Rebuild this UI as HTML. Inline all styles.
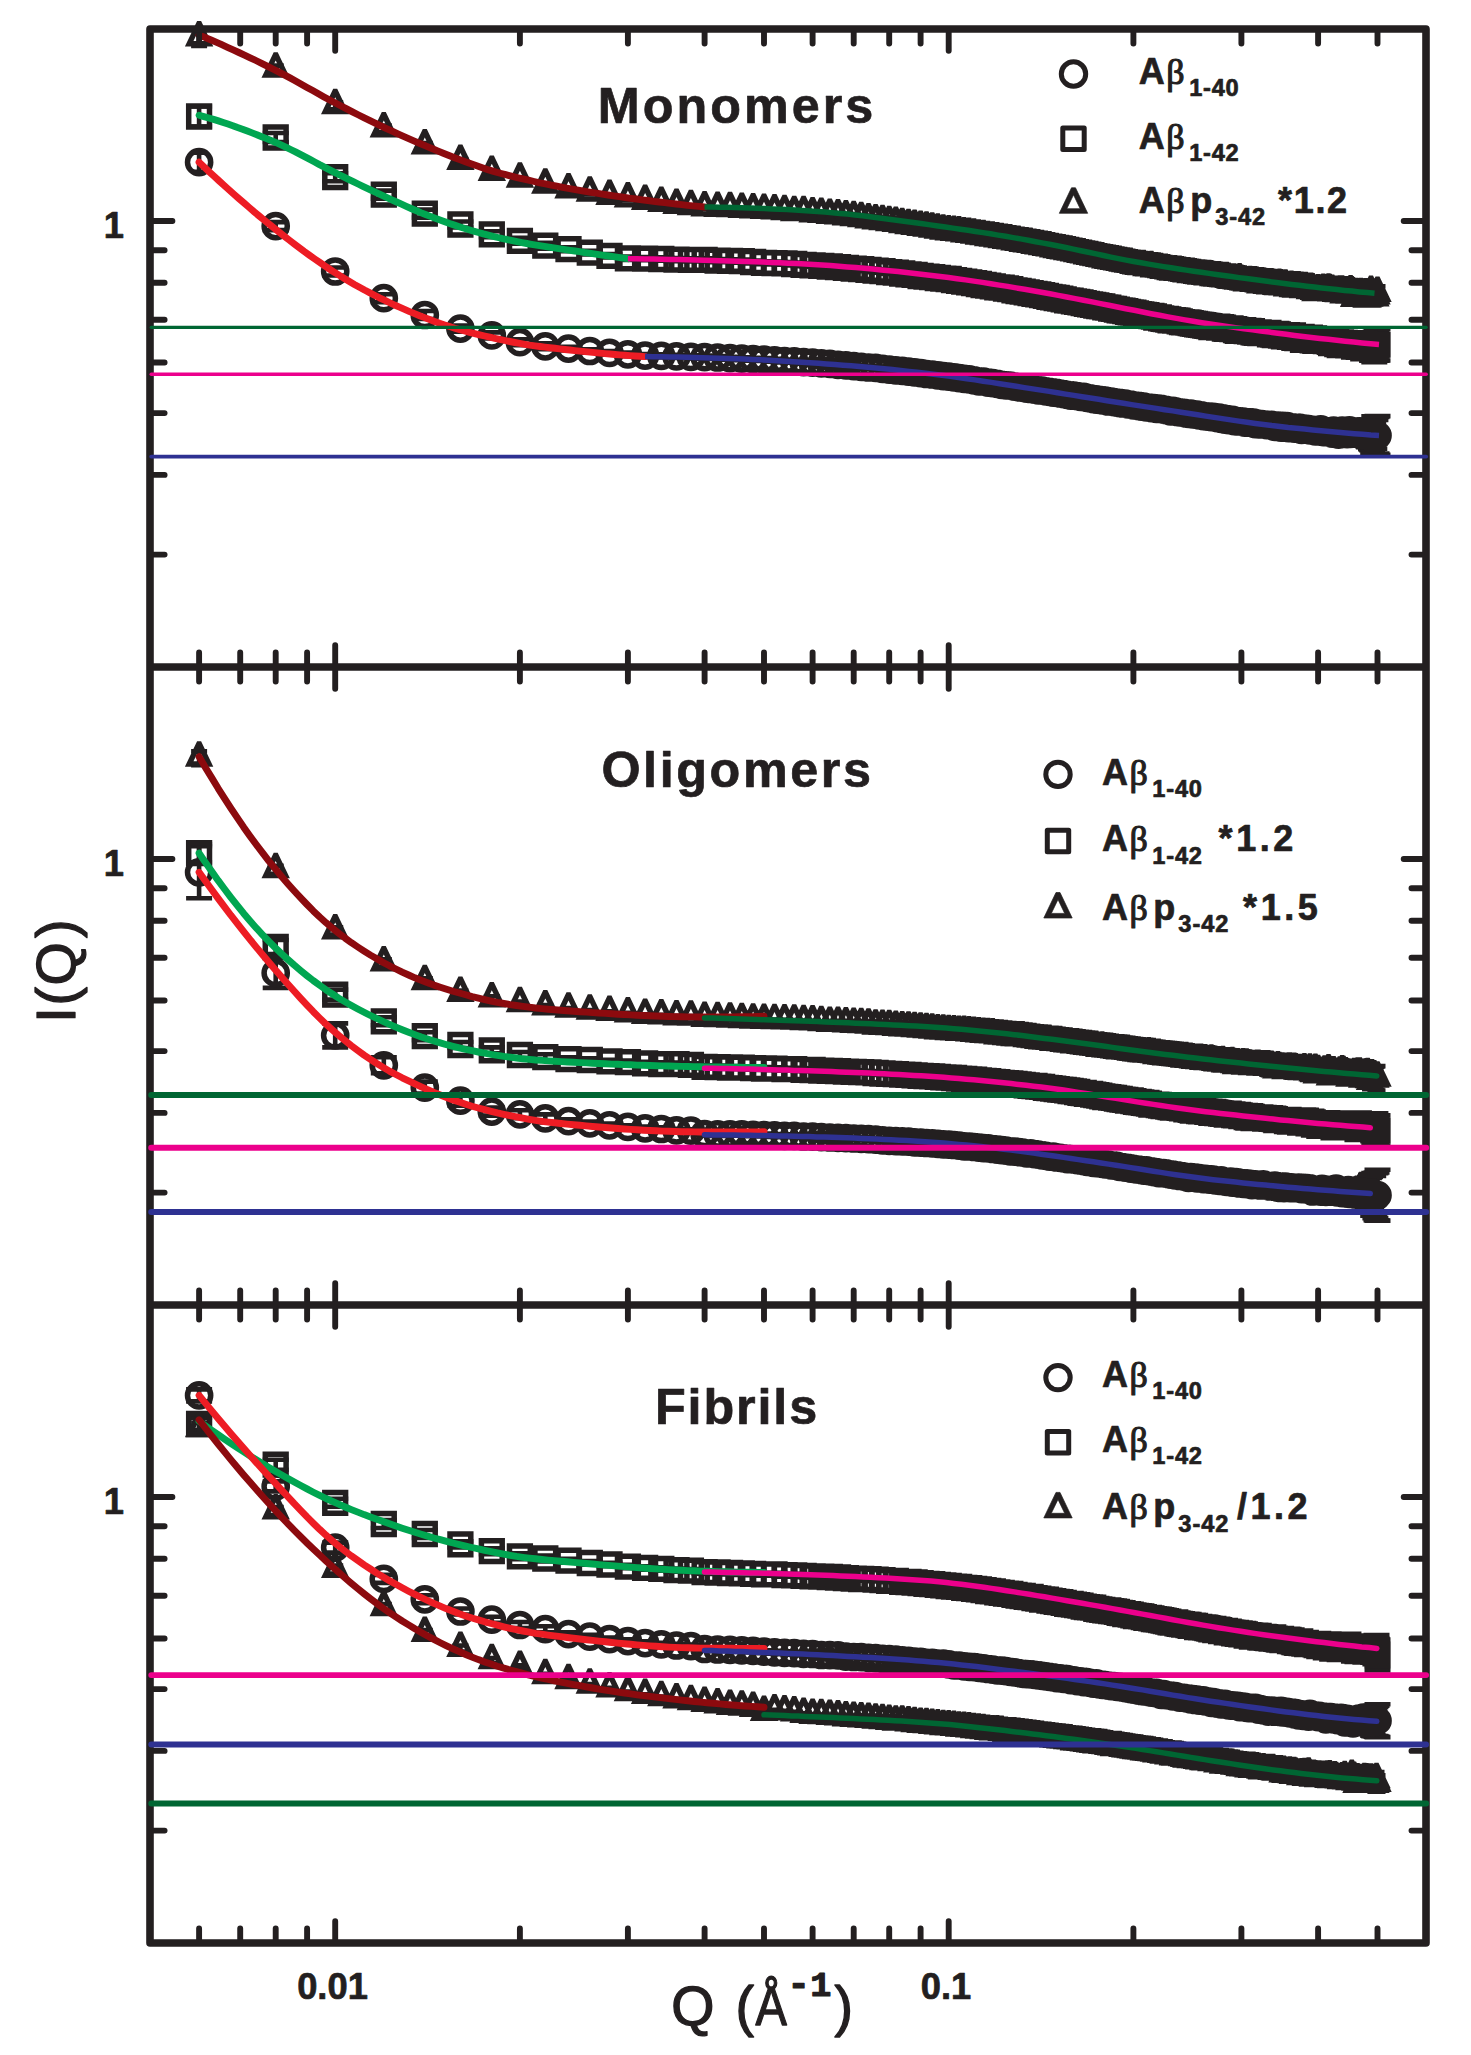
<!DOCTYPE html>
<html lang="en"><head><meta charset="utf-8"><title>I(Q) vs Q</title>
<style>html,body{margin:0;padding:0;background:#fff}svg{display:block}</style>
</head><body>
<svg width="1471" height="2055" viewBox="0 0 1471 2055">
<rect width="1471" height="2055" fill="#fff"/>
<path d="M199.1 152.7v19M191.1 152.7h16M191.1 171.7h16M275.7 222.1v8M262.7 222.1h26M262.7 230.1h26M335.2 267.5v8M322.2 267.5h26M322.2 275.5h26M383.8 294.2v8M370.8 294.2h26M370.8 302.2h26M424.8 311v8M411.8 311h26M411.8 319h26M460.4 325.6v6M447.4 325.6h26M447.4 331.6h26M491.8 332.4v6M478.8 332.4h26M478.8 338.4h26M519.9 339.2v6M506.9 339.2h26M506.9 345.2h26M545.3 343.3v6M532.3 343.3h26M532.3 349.3h26M568.5 346.7v3.8M555.5 346.7h26M555.5 350.5h26M589.8 349.2v3.7M576.8 349.2h26M576.8 352.8h26M609.5 351.1v3.5M596.5 351.1h26M596.5 354.6h26M627.9 352.6v3.4M614.9 352.6h26M614.9 356.1h26M645.1 354v3.3M632.1 354h26M632.1 357.3h26M661.3 354.2v3.2M648.3 354.2h26M648.3 357.5h26M676.5 354.8v3.2M663.5 354.8h26M663.5 357.9h26M690.9 355.4v3.1M677.9 355.4h26M677.9 358.5h26M704.6 355.5v3.1M691.6 355.5h26M691.6 358.6h26M717.6 356v3M704.6 356h26M704.6 359h26M730 356.7v3M717 356.7h26M717 359.7h26M741.8 357.2v3M728.8 357.2h26M728.8 360.1h26M753.1 357.7v2.9M740.1 357.7h26M740.1 360.6h26M764 358.1v2.9M751 358.1h26M751 361h26M774.5 358.9v2.9M761.5 358.9h26M761.5 361.8h26M784.5 359.6v2.9M771.5 359.6h26M771.5 362.5h26M794.2 359.9v2.9M781.2 359.9h26M781.2 362.8h26M803.6 360.7v2.9M790.6 360.7h26M790.6 363.6h26M812.6 361.1v2.9M799.6 361.1h26M799.6 364h26M821.3 361.9v2.8M808.3 361.9h26M808.3 364.7h26M829.8 362.5v2.8M816.8 362.5h26M816.8 365.3h26M838 363.4v2.8M825 363.4h26M825 366.2h26M845.9 363.9v2.8M832.9 363.9h26M832.9 366.7h26M853.7 364.8v2.8M840.7 364.8h26M840.7 367.6h26M861.2 365.5v2.8M848.2 365.5h26M848.2 368.3h26M868.5 366.1v2.8M855.5 366.1h26M855.5 369h26M875.6 366.5v2.8M862.6 366.5h26M862.6 369.3h26M882.5 367.5v2.8M869.5 367.5h26M869.5 370.3h26M889.2 368.3v2.8M876.2 368.3h26M876.2 371.1h26M895.8 369v2.8M882.8 369h26M882.8 371.8h26M902.2 369.4v2.8M889.2 369.4h26M889.2 372.2h26M908.5 370.3v2.8M895.5 370.3h26M895.5 373.1h26M914.6 370.9v2.8M901.6 370.9h26M901.6 373.7h26M920.6 371.6v2.8M907.6 371.6h26M907.6 374.5h26M926.5 372.6v2.8M913.5 372.6h26M913.5 375.4h26M932.2 373.1v2.8M919.2 373.1h26M919.2 375.9h26M937.8 373.9v2.8M924.8 373.9h26M924.8 376.7h26M943.3 374.8v2.8M930.3 374.8h26M930.3 377.6h26M948.7 375.2v2.8M935.7 375.2h26M935.7 378h26M954 376v2.8M941 376h26M941 378.8h26M959.1 376.8v2.8M946.1 376.8h26M946.1 379.6h26M964.2 377.5v2.8M951.2 377.5h26M951.2 380.3h26M969.2 378v2.8M956.2 378h26M956.2 380.8h26M974.1 378.9v2.8M961.1 378.9h26M961.1 381.7h26M978.9 379.9v2.8M965.9 379.9h26M965.9 382.7h26M983.6 380.1v2.8M970.6 380.1h26M970.6 382.9h26M988.2 381.2v2.8M975.2 381.2h26M975.2 384h26M992.8 381.8v2.8M979.8 381.8h26M979.8 384.6h26M997.3 382.4v2.8M984.3 382.4h26M984.3 385.2h26M1001.7 383.5v2.8M988.7 383.5h26M988.7 386.3h26M1006 383.9v2.8M993 383.9h26M993 386.7h26M1010.3 384.3v2.8M997.3 384.3h26M997.3 387.1h26M1014.5 385.1v2.8M1001.5 385.1h26M1001.5 387.9h26M1018.6 385.9v2.8M1005.6 385.9h26M1005.6 388.7h26M1022.7 386.4v2.8M1009.7 386.4h26M1009.7 389.2h26M1026.7 387.1v2.8M1013.7 387.1h26M1013.7 389.9h26M1030.6 387.6v2.8M1017.6 387.6h26M1017.6 390.4h26M1034.5 388.3v2.8M1021.5 388.3h26M1021.5 391.1h26M1038.3 389v2.8M1025.3 389h26M1025.3 391.8h26M1042.1 389.3v2.8M1029.1 389.3h26M1029.1 392.1h26M1045.9 390v2.8M1032.9 390h26M1032.9 392.8h26M1049.5 390.5v2.8M1036.5 390.5h26M1036.5 393.3h26M1053.2 391.1v2.8M1040.2 391.1h26M1040.2 393.9h26M1056.7 391.5v2.8M1043.7 391.5h26M1043.7 394.3h26M1060.3 392.1v2.8M1047.3 392.1h26M1047.3 394.9h26M1063.7 392.7v2.8M1050.7 392.7h26M1050.7 395.5h26M1067.2 393.5v2.8M1054.2 393.5h26M1054.2 396.3h26M1070.6 394.1v2.8M1057.6 394.1h26M1057.6 396.9h26M1073.9 394.2v2.8M1060.9 394.2h26M1060.9 397h26M1077.2 394.8v2.8M1064.2 394.8h26M1064.2 397.6h26M1080.5 395.5v2.8M1067.5 395.5h26M1067.5 398.3h26M1083.7 395.6v2.8M1070.7 395.6h26M1070.7 398.4h26M1086.9 396.4v2.8M1073.9 396.4h26M1073.9 399.2h26M1090.1 396.9v2.8M1077.1 396.9h26M1077.1 399.7h26M1093.2 397.7v2.8M1080.2 397.7h26M1080.2 400.5h26M1096.3 398.1v2.8M1083.3 398.1h26M1083.3 400.9h26M1099.3 398.4v2.8M1086.3 398.4h26M1086.3 401.2h26M1102.3 398.9v2.8M1089.3 398.9h26M1089.3 401.7h26M1105.3 399.3v2.8M1092.3 399.3h26M1092.3 402.1h26M1108.3 400.1v2.8M1095.3 400.1h26M1095.3 402.9h26M1111.2 400.2v2.8M1098.2 400.2h26M1098.2 403h26M1114 400.7v2.8M1101 400.7h26M1101 403.5h26M1116.9 401.3v2.8M1103.9 401.3h26M1103.9 404.1h26M1119.7 401.6v2.8M1106.7 401.6h26M1106.7 404.4h26M1122.5 402.1v2.8M1109.5 402.1h26M1109.5 404.9h26M1125.3 402.3v2.8M1112.3 402.3h26M1112.3 405.1h26M1128 403v2.8M1115 403h26M1115 405.8h26M1130.7 403.3v2.8M1117.7 403.3h26M1117.7 406.1h26M1133.4 404v2.8M1120.4 404h26M1120.4 406.8h26M1136 404.3v2.8M1123 404.3h26M1123 407.1h26M1138.7 404.6v2.8M1125.7 404.6h26M1125.7 407.4h26M1141.3 405.2v2.8M1128.3 405.2h26M1128.3 408h26M1143.8 405.3v2.8M1130.8 405.3h26M1130.8 408.1h26M1146.4 406v2.8M1133.4 406h26M1133.4 408.8h26M1148.9 406.2v2.8M1135.9 406.2h26M1135.9 409h26M1151.4 406.7v2.8M1138.4 406.7h26M1138.4 409.5h26M1153.9 406.7v2.8M1140.9 406.7h26M1140.9 409.5h26M1156.3 407.4v2.8M1143.3 407.4h26M1143.3 410.2h26M1158.8 407.3v2.8M1145.8 407.3h26M1145.8 410.1h26M1161.2 407.6v2.8M1148.2 407.6h26M1148.2 410.4h26M1163.6 408.3v2.8M1150.6 408.3h26M1150.6 411.1h26M1165.9 408.6v2.8M1152.9 408.6h26M1152.9 411.4h26M1168.3 409.2v2.8M1155.3 409.2h26M1155.3 412h26M1170.6 410v2.8M1157.6 410h26M1157.6 412.8h26M1172.9 409.6v2.8M1159.9 409.6h26M1159.9 412.4h26M1175.2 410v2.8M1162.2 410h26M1162.2 412.8h26M1177.5 410.6v2.8M1164.5 410.6h26M1164.5 413.4h26M1179.7 411v2.8M1166.7 411h26M1166.7 413.8h26M1182 411.2v2.8M1169 411.2h26M1169 414h26M1184.2 411.5v2.8M1171.2 411.5h26M1171.2 414.3h26M1186.4 412.1v2.8M1173.4 412.1h26M1173.4 414.9h26M1188.5 412.4v2.8M1175.5 412.4h26M1175.5 415.2h26M1190.7 412.3v2.8M1177.7 412.3h26M1177.7 415.1h26M1192.8 412.9v2.8M1179.8 412.9h26M1179.8 415.7h26M1195 413.2v2.8M1182 413.2h26M1182 416h26M1197.1 413.3v2.8M1184.1 413.3h26M1184.1 416.1h26M1199.2 413.9v2.8M1186.2 413.9h26M1186.2 416.7h26M1201.2 413.9v2.8M1188.2 413.9h26M1188.2 416.7h26M1203.3 414.8v2.8M1190.3 414.8h26M1190.3 417.6h26M1205.3 414.9v2.8M1192.3 414.9h26M1192.3 417.7h26M1207.4 415.2v2.8M1194.4 415.2h26M1194.4 418h26M1209.4 415.3v2.8M1196.4 415.3h26M1196.4 418.1h26M1211.4 415.7v2.8M1198.4 415.7h26M1198.4 418.5h26M1213.3 415.4v2.8M1200.3 415.4h26M1200.3 418.2h26M1215.3 416v2.8M1202.3 416h26M1202.3 418.8h26M1217.3 416.8v2.8M1204.3 416.8h26M1204.3 419.6h26M1219.2 416.3v2.8M1206.2 416.3h26M1206.2 419.1h26M1221.1 417.5v2.8M1208.1 417.5h26M1208.1 420.3h26M1223 417v2.8M1210 417h26M1210 419.8h26M1224.9 418.1v2.8M1211.9 418.1h26M1211.9 420.9h26M1226.8 417.8v2.8M1213.8 417.8h26M1213.8 420.6h26M1228.7 418.7v2.8M1215.7 418.7h26M1215.7 421.5h26M1230.5 418.7v2.8M1217.5 418.7h26M1217.5 421.5h26M1232.4 418.4v2.8M1219.4 418.4h26M1219.4 421.2h26M1234.2 419.7v2.8M1221.2 419.7h26M1221.2 422.5h26M1236 420v2.8M1223 420h26M1223 422.8h26M1237.8 419.7v2.8M1224.8 419.7h26M1224.8 422.5h26M1239.6 419.9v2.8M1226.6 419.9h26M1226.6 422.7h26M1241.4 420.2v2.8M1228.4 420.2h26M1228.4 423h26M1243.2 420.1v2.8M1230.2 420.1h26M1230.2 422.9h26M1244.9 421.2v2.8M1231.9 421.2h26M1231.9 424h26M1246.7 420.8v2.8M1233.7 420.8h26M1233.7 423.6h26M1248.4 421.2v2.8M1235.4 421.2h26M1235.4 424h26M1250.2 421.1v2.8M1237.2 421.1h26M1237.2 423.9h26M1251.9 421.4v2.8M1238.9 421.4h26M1238.9 424.2h26M1253.6 421.3v2.8M1240.6 421.3h26M1240.6 424.2h26M1255.3 422.7v2.8M1242.3 422.7h26M1242.3 425.5h26M1256.9 422.3v2.8M1243.9 422.3h26M1243.9 425.1h26M1258.6 423v2.8M1245.6 423h26M1245.6 425.8h26M1260.3 422.8v2.8M1247.3 422.8h26M1247.3 425.6h26M1261.9 422.6v2.8M1248.9 422.6h26M1248.9 425.5h26M1263.6 423v2.8M1250.6 423h26M1250.6 425.9h26M1265.2 423.1v2.8M1252.2 423.1h26M1252.2 425.9h26M1266.8 423.6v2.8M1253.8 423.6h26M1253.8 426.4h26M1268.4 423.6v2.9M1255.4 423.6h26M1255.4 426.4h26M1270 423.8v2.9M1257 423.8h26M1257 426.7h26M1271.6 423.4v2.9M1258.6 423.4h26M1258.6 426.3h26M1273.2 423.9v2.9M1260.2 423.9h26M1260.2 426.8h26M1274.8 425.4v2.9M1261.8 425.4h26M1261.8 428.3h26M1276.3 424.3v2.9M1263.3 424.3h26M1263.3 427.2h26M1277.9 424.3v2.9M1264.9 424.3h26M1264.9 427.1h26M1279.4 425.2v2.9M1266.4 425.2h26M1266.4 428.1h26M1281 426v2.9M1268 426h26M1268 429h26M1282.5 424.5v2.9M1269.5 424.5h26M1269.5 427.4h26M1284 425.4v2.9M1271 425.4h26M1271 428.3h26M1285.5 425.3v2.9M1272.5 425.3h26M1272.5 428.2h26M1287 424.7v3M1274 424.7h26M1274 427.7h26M1288.5 426.5v3M1275.5 426.5h26M1275.5 429.5h26M1290 426.2v3M1277 426.2h26M1277 429.1h26M1291.5 426.4v3M1278.5 426.4h26M1278.5 429.4h26M1292.9 426v3M1279.9 426h26M1279.9 429h26M1294.4 426.9v3M1281.4 426.9h26M1281.4 430h26M1295.8 426.4v3.1M1282.8 426.4h26M1282.8 429.4h26M1297.3 426.8v3.1M1284.3 426.8h26M1284.3 429.9h26M1298.7 426.2v3.1M1285.7 426.2h26M1285.7 429.3h26M1300.2 426.3v3.1M1287.2 426.3h26M1287.2 429.4h26M1301.6 428.3v3.2M1288.6 428.3h26M1288.6 431.5h26M1303 427v3.2M1290 427h26M1290 430.2h26M1304.4 427.8v3.2M1291.4 427.8h26M1291.4 431h26M1305.8 427.6v3.3M1292.8 427.6h26M1292.8 430.9h26M1307.2 427.4v3.3M1294.2 427.4h26M1294.2 430.8h26M1308.6 427.5v3.4M1295.6 427.5h26M1295.6 430.9h26M1309.9 428.5v3.4M1296.9 428.5h26M1296.9 432h26M1311.3 427.9v3.5M1298.3 427.9h26M1298.3 431.3h26M1312.7 428.1v3.5M1299.7 428.1h26M1299.7 431.6h26M1314 428.3v3.6M1301 428.3h26M1301 431.9h26M1315.4 429.5v3.7M1302.4 429.5h26M1302.4 433.1h26M1316.7 429.1v3.7M1303.7 429.1h26M1303.7 432.9h26M1318.1 429v3.8M1305.1 429h26M1305.1 432.8h26M1319.4 428.2v3.9M1306.4 428.2h26M1306.4 432.1h26M1320.7 427.4v4M1307.7 427.4h26M1307.7 431.4h26M1322 429.8v4.1M1309 429.8h26M1309 433.9h26M1323.3 429.9v4.2M1310.3 429.9h26M1310.3 434.1h26M1324.6 428.8v4.3M1311.6 428.8h26M1311.6 433.1h26M1325.9 429.6v4.4M1312.9 429.6h26M1312.9 434h26M1327.2 429.9v4.6M1314.2 429.9h26M1314.2 434.5h26M1328.5 430v4.7M1315.5 430h26M1315.5 434.7h26M1329.8 430.2v4.8M1316.8 430.2h26M1316.8 435h26M1331.1 428.7v5M1318.1 428.7h26M1318.1 433.7h26M1332.3 430.9v5.2M1319.3 430.9h26M1319.3 436.1h26M1333.6 427.8v5.4M1320.6 427.8h26M1320.6 433.2h26M1334.8 430.3v5.6M1321.8 430.3h26M1321.8 435.8h26M1336.1 429.8v5.8M1323.1 429.8h26M1323.1 435.6h26M1337.3 430.3v6M1324.3 430.3h26M1324.3 436.3h26M1338.6 431.5v6.3M1325.6 431.5h26M1325.6 437.8h26M1339.8 431v6.5M1326.8 431h26M1326.8 437.6h26M1341 427.8v6.8M1328 427.8h26M1328 434.6h26M1342.2 427v7.1M1329.2 427h26M1329.2 434.1h26M1343.5 430.1v7.5M1330.5 430.1h26M1330.5 437.6h26M1344.7 427.7v7.8M1331.7 427.7h26M1331.7 435.5h26M1345.9 428.9v8.2M1332.9 428.9h26M1332.9 437.1h26M1347.1 430v8.6M1334.1 430h26M1334.1 438.5h26M1348.3 426.4v9M1335.3 426.4h26M1335.3 435.5h26M1349.4 425.6v9.5M1336.4 425.6h26M1336.4 435.1h26M1350.6 428.8v10M1337.6 428.8h26M1337.6 438.8h26M1351.8 428.3v10.5M1338.8 428.3h26M1338.8 438.8h26M1353 427.7v11M1340 427.7h26M1340 438.8h26M1354.1 427.9v11.6M1341.1 427.9h26M1341.1 439.6h26M1355.3 426.3v12.3M1342.3 426.3h26M1342.3 438.6h26M1356.5 425.1v13M1343.5 425.1h26M1343.5 438h26M1357.6 426.9v13.7M1344.6 426.9h26M1344.6 440.6h26M1358.8 425.3v14.5M1345.8 425.3h26M1345.8 439.8h26M1359.9 423.9v15.3M1346.9 423.9h26M1346.9 439.2h26M1361 427v16.2M1348 427h26M1348 443.2h26M1362.2 425.7v17.1M1349.2 425.7h26M1349.2 442.8h26M1363.3 426v18.1M1350.3 426h26M1350.3 444.2h26M1364.4 423.2v19.2M1351.4 423.2h26M1351.4 442.4h26M1365.5 423.3v20.3M1352.5 423.3h26M1352.5 443.6h26M1366.6 422.2v21.5M1353.6 422.2h26M1353.6 443.7h26M1367.7 421.8v22.8M1354.7 421.8h26M1354.7 444.6h26M1368.9 423.1v24.2M1355.9 423.1h26M1355.9 447.3h26M1370 420.7v25.7M1357 420.7h26M1357 446.3h26M1371 422.1v27.2M1358 422.1h26M1358 449.3h26M1372.1 421.3v28.9M1359.1 421.3h26M1359.1 450.2h26M1373.2 423.8v30.6M1360.2 423.8h26M1360.2 454.4h26M1374.3 416.3v32.5M1361.3 416.3h26M1361.3 448.8h26M1375.4 419.9v34.5M1362.4 419.9h26M1362.4 454.3h26M1376.5 417v36.6M1363.5 417h26M1363.5 453.5h26M1377.5 416.1v38.8M1364.5 416.1h26M1364.5 454.9h26" fill="none" stroke="#231F20" stroke-width="4.6"/>
<path d="M187.5 162.2a11.6 11.6 0 1 0 23.2 0a11.6 11.6 0 1 0 -23.2 0M264.1 226.1a11.6 11.6 0 1 0 23.2 0a11.6 11.6 0 1 0 -23.2 0M323.6 271.5a11.6 11.6 0 1 0 23.2 0a11.6 11.6 0 1 0 -23.2 0M372.2 298.2a11.6 11.6 0 1 0 23.2 0a11.6 11.6 0 1 0 -23.2 0M413.2 315a11.6 11.6 0 1 0 23.2 0a11.6 11.6 0 1 0 -23.2 0M448.8 328.6a11.6 11.6 0 1 0 23.2 0a11.6 11.6 0 1 0 -23.2 0M480.2 335.4a11.6 11.6 0 1 0 23.2 0a11.6 11.6 0 1 0 -23.2 0M508.3 342.2a11.6 11.6 0 1 0 23.2 0a11.6 11.6 0 1 0 -23.2 0M533.7 346.3a11.6 11.6 0 1 0 23.2 0a11.6 11.6 0 1 0 -23.2 0M556.9 348.6a11.6 11.6 0 1 0 23.2 0a11.6 11.6 0 1 0 -23.2 0M578.2 351a11.6 11.6 0 1 0 23.2 0a11.6 11.6 0 1 0 -23.2 0M597.9 352.9a11.6 11.6 0 1 0 23.2 0a11.6 11.6 0 1 0 -23.2 0M616.3 354.3a11.6 11.6 0 1 0 23.2 0a11.6 11.6 0 1 0 -23.2 0M633.5 355.6a11.6 11.6 0 1 0 23.2 0a11.6 11.6 0 1 0 -23.2 0M649.7 355.9a11.6 11.6 0 1 0 23.2 0a11.6 11.6 0 1 0 -23.2 0M664.9 356.4a11.6 11.6 0 1 0 23.2 0a11.6 11.6 0 1 0 -23.2 0M679.3 356.9a11.6 11.6 0 1 0 23.2 0a11.6 11.6 0 1 0 -23.2 0M693 357.1a11.6 11.6 0 1 0 23.2 0a11.6 11.6 0 1 0 -23.2 0M706 357.5a11.6 11.6 0 1 0 23.2 0a11.6 11.6 0 1 0 -23.2 0M718.4 358.2a11.6 11.6 0 1 0 23.2 0a11.6 11.6 0 1 0 -23.2 0M730.2 358.6a11.6 11.6 0 1 0 23.2 0a11.6 11.6 0 1 0 -23.2 0M741.5 359.2a11.6 11.6 0 1 0 23.2 0a11.6 11.6 0 1 0 -23.2 0M752.4 359.6a11.6 11.6 0 1 0 23.2 0a11.6 11.6 0 1 0 -23.2 0M762.9 360.3a11.6 11.6 0 1 0 23.2 0a11.6 11.6 0 1 0 -23.2 0M772.9 361a11.6 11.6 0 1 0 23.2 0a11.6 11.6 0 1 0 -23.2 0M782.6 361.4a11.6 11.6 0 1 0 23.2 0a11.6 11.6 0 1 0 -23.2 0M792 362.1a11.6 11.6 0 1 0 23.2 0a11.6 11.6 0 1 0 -23.2 0M801 362.6a11.6 11.6 0 1 0 23.2 0a11.6 11.6 0 1 0 -23.2 0M809.7 363.3a11.6 11.6 0 1 0 23.2 0a11.6 11.6 0 1 0 -23.2 0M818.2 363.9a11.6 11.6 0 1 0 23.2 0a11.6 11.6 0 1 0 -23.2 0M826.4 364.8a11.6 11.6 0 1 0 23.2 0a11.6 11.6 0 1 0 -23.2 0M834.3 365.3a11.6 11.6 0 1 0 23.2 0a11.6 11.6 0 1 0 -23.2 0M842.1 366.2a11.6 11.6 0 1 0 23.2 0a11.6 11.6 0 1 0 -23.2 0M849.6 366.9a11.6 11.6 0 1 0 23.2 0a11.6 11.6 0 1 0 -23.2 0M856.9 367.5a11.6 11.6 0 1 0 23.2 0a11.6 11.6 0 1 0 -23.2 0M864 367.9a11.6 11.6 0 1 0 23.2 0a11.6 11.6 0 1 0 -23.2 0M870.9 368.9a11.6 11.6 0 1 0 23.2 0a11.6 11.6 0 1 0 -23.2 0M877.6 369.7a11.6 11.6 0 1 0 23.2 0a11.6 11.6 0 1 0 -23.2 0M884.2 370.4a11.6 11.6 0 1 0 23.2 0a11.6 11.6 0 1 0 -23.2 0M890.6 370.8a11.6 11.6 0 1 0 23.2 0a11.6 11.6 0 1 0 -23.2 0M896.9 371.7a11.6 11.6 0 1 0 23.2 0a11.6 11.6 0 1 0 -23.2 0M903 372.3a11.6 11.6 0 1 0 23.2 0a11.6 11.6 0 1 0 -23.2 0M909 373.1a11.6 11.6 0 1 0 23.2 0a11.6 11.6 0 1 0 -23.2 0M914.9 374a11.6 11.6 0 1 0 23.2 0a11.6 11.6 0 1 0 -23.2 0M920.6 374.5a11.6 11.6 0 1 0 23.2 0a11.6 11.6 0 1 0 -23.2 0M926.2 375.3a11.6 11.6 0 1 0 23.2 0a11.6 11.6 0 1 0 -23.2 0M931.7 376.2a11.6 11.6 0 1 0 23.2 0a11.6 11.6 0 1 0 -23.2 0M937.1 376.6a11.6 11.6 0 1 0 23.2 0a11.6 11.6 0 1 0 -23.2 0M942.4 377.4a11.6 11.6 0 1 0 23.2 0a11.6 11.6 0 1 0 -23.2 0M947.5 378.2a11.6 11.6 0 1 0 23.2 0a11.6 11.6 0 1 0 -23.2 0M952.6 378.9a11.6 11.6 0 1 0 23.2 0a11.6 11.6 0 1 0 -23.2 0M957.6 379.4a11.6 11.6 0 1 0 23.2 0a11.6 11.6 0 1 0 -23.2 0M962.5 380.3a11.6 11.6 0 1 0 23.2 0a11.6 11.6 0 1 0 -23.2 0M967.3 381.3a11.6 11.6 0 1 0 23.2 0a11.6 11.6 0 1 0 -23.2 0M972 381.5a11.6 11.6 0 1 0 23.2 0a11.6 11.6 0 1 0 -23.2 0M976.6 382.6a11.6 11.6 0 1 0 23.2 0a11.6 11.6 0 1 0 -23.2 0M981.2 383.2a11.6 11.6 0 1 0 23.2 0a11.6 11.6 0 1 0 -23.2 0M985.7 383.8a11.6 11.6 0 1 0 23.2 0a11.6 11.6 0 1 0 -23.2 0M990.1 384.9a11.6 11.6 0 1 0 23.2 0a11.6 11.6 0 1 0 -23.2 0M994.4 385.3a11.6 11.6 0 1 0 23.2 0a11.6 11.6 0 1 0 -23.2 0M998.7 385.7a11.6 11.6 0 1 0 23.2 0a11.6 11.6 0 1 0 -23.2 0M1002.9 386.5a11.6 11.6 0 1 0 23.2 0a11.6 11.6 0 1 0 -23.2 0M1007 387.3a11.6 11.6 0 1 0 23.2 0a11.6 11.6 0 1 0 -23.2 0M1011.1 387.8a11.6 11.6 0 1 0 23.2 0a11.6 11.6 0 1 0 -23.2 0M1015.1 388.5a11.6 11.6 0 1 0 23.2 0a11.6 11.6 0 1 0 -23.2 0M1019 389a11.6 11.6 0 1 0 23.2 0a11.6 11.6 0 1 0 -23.2 0M1022.9 389.7a11.6 11.6 0 1 0 23.2 0a11.6 11.6 0 1 0 -23.2 0M1026.7 390.4a11.6 11.6 0 1 0 23.2 0a11.6 11.6 0 1 0 -23.2 0M1030.5 390.7a11.6 11.6 0 1 0 23.2 0a11.6 11.6 0 1 0 -23.2 0M1034.3 391.4a11.6 11.6 0 1 0 23.2 0a11.6 11.6 0 1 0 -23.2 0M1037.9 391.9a11.6 11.6 0 1 0 23.2 0a11.6 11.6 0 1 0 -23.2 0M1041.6 392.5a11.6 11.6 0 1 0 23.2 0a11.6 11.6 0 1 0 -23.2 0M1045.1 392.9a11.6 11.6 0 1 0 23.2 0a11.6 11.6 0 1 0 -23.2 0M1048.7 393.5a11.6 11.6 0 1 0 23.2 0a11.6 11.6 0 1 0 -23.2 0M1052.1 394.1a11.6 11.6 0 1 0 23.2 0a11.6 11.6 0 1 0 -23.2 0M1055.6 394.9a11.6 11.6 0 1 0 23.2 0a11.6 11.6 0 1 0 -23.2 0M1059 395.5a11.6 11.6 0 1 0 23.2 0a11.6 11.6 0 1 0 -23.2 0M1062.3 395.6a11.6 11.6 0 1 0 23.2 0a11.6 11.6 0 1 0 -23.2 0M1065.6 396.2a11.6 11.6 0 1 0 23.2 0a11.6 11.6 0 1 0 -23.2 0M1068.9 396.9a11.6 11.6 0 1 0 23.2 0a11.6 11.6 0 1 0 -23.2 0M1072.1 397a11.6 11.6 0 1 0 23.2 0a11.6 11.6 0 1 0 -23.2 0M1075.3 397.8a11.6 11.6 0 1 0 23.2 0a11.6 11.6 0 1 0 -23.2 0M1078.5 398.3a11.6 11.6 0 1 0 23.2 0a11.6 11.6 0 1 0 -23.2 0M1081.6 399.1a11.6 11.6 0 1 0 23.2 0a11.6 11.6 0 1 0 -23.2 0M1084.7 399.5a11.6 11.6 0 1 0 23.2 0a11.6 11.6 0 1 0 -23.2 0M1087.7 399.8a11.6 11.6 0 1 0 23.2 0a11.6 11.6 0 1 0 -23.2 0M1090.7 400.3a11.6 11.6 0 1 0 23.2 0a11.6 11.6 0 1 0 -23.2 0M1093.7 400.7a11.6 11.6 0 1 0 23.2 0a11.6 11.6 0 1 0 -23.2 0M1096.7 401.5a11.6 11.6 0 1 0 23.2 0a11.6 11.6 0 1 0 -23.2 0M1099.6 401.6a11.6 11.6 0 1 0 23.2 0a11.6 11.6 0 1 0 -23.2 0M1102.4 402.1a11.6 11.6 0 1 0 23.2 0a11.6 11.6 0 1 0 -23.2 0M1105.3 402.7a11.6 11.6 0 1 0 23.2 0a11.6 11.6 0 1 0 -23.2 0M1108.1 403a11.6 11.6 0 1 0 23.2 0a11.6 11.6 0 1 0 -23.2 0M1110.9 403.5a11.6 11.6 0 1 0 23.2 0a11.6 11.6 0 1 0 -23.2 0M1113.7 403.7a11.6 11.6 0 1 0 23.2 0a11.6 11.6 0 1 0 -23.2 0M1116.4 404.4a11.6 11.6 0 1 0 23.2 0a11.6 11.6 0 1 0 -23.2 0M1119.1 404.7a11.6 11.6 0 1 0 23.2 0a11.6 11.6 0 1 0 -23.2 0M1121.8 405.4a11.6 11.6 0 1 0 23.2 0a11.6 11.6 0 1 0 -23.2 0M1124.4 405.7a11.6 11.6 0 1 0 23.2 0a11.6 11.6 0 1 0 -23.2 0M1127.1 406a11.6 11.6 0 1 0 23.2 0a11.6 11.6 0 1 0 -23.2 0M1129.7 406.6a11.6 11.6 0 1 0 23.2 0a11.6 11.6 0 1 0 -23.2 0M1132.2 406.7a11.6 11.6 0 1 0 23.2 0a11.6 11.6 0 1 0 -23.2 0M1134.8 407.4a11.6 11.6 0 1 0 23.2 0a11.6 11.6 0 1 0 -23.2 0M1137.3 407.6a11.6 11.6 0 1 0 23.2 0a11.6 11.6 0 1 0 -23.2 0M1139.8 408.1a11.6 11.6 0 1 0 23.2 0a11.6 11.6 0 1 0 -23.2 0M1142.3 408.1a11.6 11.6 0 1 0 23.2 0a11.6 11.6 0 1 0 -23.2 0M1144.7 408.8a11.6 11.6 0 1 0 23.2 0a11.6 11.6 0 1 0 -23.2 0M1147.2 408.7a11.6 11.6 0 1 0 23.2 0a11.6 11.6 0 1 0 -23.2 0M1149.6 409a11.6 11.6 0 1 0 23.2 0a11.6 11.6 0 1 0 -23.2 0M1152 409.7a11.6 11.6 0 1 0 23.2 0a11.6 11.6 0 1 0 -23.2 0M1154.3 410a11.6 11.6 0 1 0 23.2 0a11.6 11.6 0 1 0 -23.2 0M1156.7 410.6a11.6 11.6 0 1 0 23.2 0a11.6 11.6 0 1 0 -23.2 0M1159 411.4a11.6 11.6 0 1 0 23.2 0a11.6 11.6 0 1 0 -23.2 0M1161.3 411a11.6 11.6 0 1 0 23.2 0a11.6 11.6 0 1 0 -23.2 0M1163.6 411.4a11.6 11.6 0 1 0 23.2 0a11.6 11.6 0 1 0 -23.2 0M1165.9 412a11.6 11.6 0 1 0 23.2 0a11.6 11.6 0 1 0 -23.2 0M1168.1 412.4a11.6 11.6 0 1 0 23.2 0a11.6 11.6 0 1 0 -23.2 0M1170.4 412.6a11.6 11.6 0 1 0 23.2 0a11.6 11.6 0 1 0 -23.2 0M1172.6 412.9a11.6 11.6 0 1 0 23.2 0a11.6 11.6 0 1 0 -23.2 0M1174.8 413.5a11.6 11.6 0 1 0 23.2 0a11.6 11.6 0 1 0 -23.2 0M1176.9 413.8a11.6 11.6 0 1 0 23.2 0a11.6 11.6 0 1 0 -23.2 0M1179.1 413.7a11.6 11.6 0 1 0 23.2 0a11.6 11.6 0 1 0 -23.2 0M1181.2 414.3a11.6 11.6 0 1 0 23.2 0a11.6 11.6 0 1 0 -23.2 0M1183.4 414.6a11.6 11.6 0 1 0 23.2 0a11.6 11.6 0 1 0 -23.2 0M1185.5 414.7a11.6 11.6 0 1 0 23.2 0a11.6 11.6 0 1 0 -23.2 0M1187.6 415.3a11.6 11.6 0 1 0 23.2 0a11.6 11.6 0 1 0 -23.2 0M1189.6 415.3a11.6 11.6 0 1 0 23.2 0a11.6 11.6 0 1 0 -23.2 0M1191.7 416.2a11.6 11.6 0 1 0 23.2 0a11.6 11.6 0 1 0 -23.2 0M1193.7 416.3a11.6 11.6 0 1 0 23.2 0a11.6 11.6 0 1 0 -23.2 0M1195.8 416.6a11.6 11.6 0 1 0 23.2 0a11.6 11.6 0 1 0 -23.2 0M1197.8 416.7a11.6 11.6 0 1 0 23.2 0a11.6 11.6 0 1 0 -23.2 0M1199.8 417.1a11.6 11.6 0 1 0 23.2 0a11.6 11.6 0 1 0 -23.2 0M1201.7 416.8a11.6 11.6 0 1 0 23.2 0a11.6 11.6 0 1 0 -23.2 0M1203.7 417.4a11.6 11.6 0 1 0 23.2 0a11.6 11.6 0 1 0 -23.2 0M1205.7 418.2a11.6 11.6 0 1 0 23.2 0a11.6 11.6 0 1 0 -23.2 0M1207.6 417.7a11.6 11.6 0 1 0 23.2 0a11.6 11.6 0 1 0 -23.2 0M1209.5 418.9a11.6 11.6 0 1 0 23.2 0a11.6 11.6 0 1 0 -23.2 0M1211.4 418.4a11.6 11.6 0 1 0 23.2 0a11.6 11.6 0 1 0 -23.2 0M1213.3 419.5a11.6 11.6 0 1 0 23.2 0a11.6 11.6 0 1 0 -23.2 0M1215.2 419.2a11.6 11.6 0 1 0 23.2 0a11.6 11.6 0 1 0 -23.2 0M1217.1 420.1a11.6 11.6 0 1 0 23.2 0a11.6 11.6 0 1 0 -23.2 0M1218.9 420.1a11.6 11.6 0 1 0 23.2 0a11.6 11.6 0 1 0 -23.2 0M1220.8 419.8a11.6 11.6 0 1 0 23.2 0a11.6 11.6 0 1 0 -23.2 0M1222.6 421.1a11.6 11.6 0 1 0 23.2 0a11.6 11.6 0 1 0 -23.2 0M1224.4 421.4a11.6 11.6 0 1 0 23.2 0a11.6 11.6 0 1 0 -23.2 0M1226.2 421.1a11.6 11.6 0 1 0 23.2 0a11.6 11.6 0 1 0 -23.2 0M1228 421.3a11.6 11.6 0 1 0 23.2 0a11.6 11.6 0 1 0 -23.2 0M1229.8 421.6a11.6 11.6 0 1 0 23.2 0a11.6 11.6 0 1 0 -23.2 0M1231.6 421.5a11.6 11.6 0 1 0 23.2 0a11.6 11.6 0 1 0 -23.2 0M1233.3 422.6a11.6 11.6 0 1 0 23.2 0a11.6 11.6 0 1 0 -23.2 0M1235.1 422.2a11.6 11.6 0 1 0 23.2 0a11.6 11.6 0 1 0 -23.2 0M1236.8 422.6a11.6 11.6 0 1 0 23.2 0a11.6 11.6 0 1 0 -23.2 0M1238.6 422.5a11.6 11.6 0 1 0 23.2 0a11.6 11.6 0 1 0 -23.2 0M1240.3 422.8a11.6 11.6 0 1 0 23.2 0a11.6 11.6 0 1 0 -23.2 0M1242 422.7a11.6 11.6 0 1 0 23.2 0a11.6 11.6 0 1 0 -23.2 0M1243.7 424.1a11.6 11.6 0 1 0 23.2 0a11.6 11.6 0 1 0 -23.2 0M1245.3 423.7a11.6 11.6 0 1 0 23.2 0a11.6 11.6 0 1 0 -23.2 0M1247 424.4a11.6 11.6 0 1 0 23.2 0a11.6 11.6 0 1 0 -23.2 0M1248.7 424.2a11.6 11.6 0 1 0 23.2 0a11.6 11.6 0 1 0 -23.2 0M1250.3 424.1a11.6 11.6 0 1 0 23.2 0a11.6 11.6 0 1 0 -23.2 0M1252 424.4a11.6 11.6 0 1 0 23.2 0a11.6 11.6 0 1 0 -23.2 0M1253.6 424.5a11.6 11.6 0 1 0 23.2 0a11.6 11.6 0 1 0 -23.2 0M1255.2 425a11.6 11.6 0 1 0 23.2 0a11.6 11.6 0 1 0 -23.2 0M1256.8 425a11.6 11.6 0 1 0 23.2 0a11.6 11.6 0 1 0 -23.2 0M1258.4 425.2a11.6 11.6 0 1 0 23.2 0a11.6 11.6 0 1 0 -23.2 0M1260 424.8a11.6 11.6 0 1 0 23.2 0a11.6 11.6 0 1 0 -23.2 0M1261.6 425.3a11.6 11.6 0 1 0 23.2 0a11.6 11.6 0 1 0 -23.2 0M1263.2 426.9a11.6 11.6 0 1 0 23.2 0a11.6 11.6 0 1 0 -23.2 0M1264.7 425.8a11.6 11.6 0 1 0 23.2 0a11.6 11.6 0 1 0 -23.2 0M1266.3 425.7a11.6 11.6 0 1 0 23.2 0a11.6 11.6 0 1 0 -23.2 0M1267.8 426.7a11.6 11.6 0 1 0 23.2 0a11.6 11.6 0 1 0 -23.2 0M1269.4 427.5a11.6 11.6 0 1 0 23.2 0a11.6 11.6 0 1 0 -23.2 0M1270.9 426a11.6 11.6 0 1 0 23.2 0a11.6 11.6 0 1 0 -23.2 0M1272.4 426.9a11.6 11.6 0 1 0 23.2 0a11.6 11.6 0 1 0 -23.2 0M1273.9 426.8a11.6 11.6 0 1 0 23.2 0a11.6 11.6 0 1 0 -23.2 0M1275.4 426.2a11.6 11.6 0 1 0 23.2 0a11.6 11.6 0 1 0 -23.2 0M1276.9 428a11.6 11.6 0 1 0 23.2 0a11.6 11.6 0 1 0 -23.2 0M1278.4 427.6a11.6 11.6 0 1 0 23.2 0a11.6 11.6 0 1 0 -23.2 0M1279.9 427.9a11.6 11.6 0 1 0 23.2 0a11.6 11.6 0 1 0 -23.2 0M1281.3 427.5a11.6 11.6 0 1 0 23.2 0a11.6 11.6 0 1 0 -23.2 0M1282.8 428.5a11.6 11.6 0 1 0 23.2 0a11.6 11.6 0 1 0 -23.2 0M1284.2 427.9a11.6 11.6 0 1 0 23.2 0a11.6 11.6 0 1 0 -23.2 0M1285.7 428.3a11.6 11.6 0 1 0 23.2 0a11.6 11.6 0 1 0 -23.2 0M1287.1 427.8a11.6 11.6 0 1 0 23.2 0a11.6 11.6 0 1 0 -23.2 0M1288.6 427.8a11.6 11.6 0 1 0 23.2 0a11.6 11.6 0 1 0 -23.2 0M1290 429.9a11.6 11.6 0 1 0 23.2 0a11.6 11.6 0 1 0 -23.2 0M1291.4 428.6a11.6 11.6 0 1 0 23.2 0a11.6 11.6 0 1 0 -23.2 0M1292.8 429.4a11.6 11.6 0 1 0 23.2 0a11.6 11.6 0 1 0 -23.2 0M1294.2 429.3a11.6 11.6 0 1 0 23.2 0a11.6 11.6 0 1 0 -23.2 0M1295.6 429.1a11.6 11.6 0 1 0 23.2 0a11.6 11.6 0 1 0 -23.2 0M1297 429.2a11.6 11.6 0 1 0 23.2 0a11.6 11.6 0 1 0 -23.2 0M1298.3 430.3a11.6 11.6 0 1 0 23.2 0a11.6 11.6 0 1 0 -23.2 0M1299.7 429.6a11.6 11.6 0 1 0 23.2 0a11.6 11.6 0 1 0 -23.2 0M1301.1 429.9a11.6 11.6 0 1 0 23.2 0a11.6 11.6 0 1 0 -23.2 0M1302.4 430.1a11.6 11.6 0 1 0 23.2 0a11.6 11.6 0 1 0 -23.2 0M1303.8 431.3a11.6 11.6 0 1 0 23.2 0a11.6 11.6 0 1 0 -23.2 0M1305.1 431a11.6 11.6 0 1 0 23.2 0a11.6 11.6 0 1 0 -23.2 0M1306.5 430.9a11.6 11.6 0 1 0 23.2 0a11.6 11.6 0 1 0 -23.2 0M1307.8 430.1a11.6 11.6 0 1 0 23.2 0a11.6 11.6 0 1 0 -23.2 0M1309.1 429.4a11.6 11.6 0 1 0 23.2 0a11.6 11.6 0 1 0 -23.2 0M1310.4 431.8a11.6 11.6 0 1 0 23.2 0a11.6 11.6 0 1 0 -23.2 0M1311.7 432a11.6 11.6 0 1 0 23.2 0a11.6 11.6 0 1 0 -23.2 0M1313 431a11.6 11.6 0 1 0 23.2 0a11.6 11.6 0 1 0 -23.2 0M1314.3 431.8a11.6 11.6 0 1 0 23.2 0a11.6 11.6 0 1 0 -23.2 0M1315.6 432.2a11.6 11.6 0 1 0 23.2 0a11.6 11.6 0 1 0 -23.2 0M1316.9 432.4a11.6 11.6 0 1 0 23.2 0a11.6 11.6 0 1 0 -23.2 0M1318.2 432.6a11.6 11.6 0 1 0 23.2 0a11.6 11.6 0 1 0 -23.2 0M1319.5 431.2a11.6 11.6 0 1 0 23.2 0a11.6 11.6 0 1 0 -23.2 0M1320.7 433.5a11.6 11.6 0 1 0 23.2 0a11.6 11.6 0 1 0 -23.2 0M1322 430.5a11.6 11.6 0 1 0 23.2 0a11.6 11.6 0 1 0 -23.2 0M1323.2 433a11.6 11.6 0 1 0 23.2 0a11.6 11.6 0 1 0 -23.2 0M1324.5 432.7a11.6 11.6 0 1 0 23.2 0a11.6 11.6 0 1 0 -23.2 0M1325.7 433.3a11.6 11.6 0 1 0 23.2 0a11.6 11.6 0 1 0 -23.2 0M1327 434.7a11.6 11.6 0 1 0 23.2 0a11.6 11.6 0 1 0 -23.2 0M1328.2 434.3a11.6 11.6 0 1 0 23.2 0a11.6 11.6 0 1 0 -23.2 0M1329.4 431.2a11.6 11.6 0 1 0 23.2 0a11.6 11.6 0 1 0 -23.2 0M1330.6 430.6a11.6 11.6 0 1 0 23.2 0a11.6 11.6 0 1 0 -23.2 0M1331.9 433.9a11.6 11.6 0 1 0 23.2 0a11.6 11.6 0 1 0 -23.2 0M1333.1 431.6a11.6 11.6 0 1 0 23.2 0a11.6 11.6 0 1 0 -23.2 0M1334.3 433a11.6 11.6 0 1 0 23.2 0a11.6 11.6 0 1 0 -23.2 0M1335.5 434.2a11.6 11.6 0 1 0 23.2 0a11.6 11.6 0 1 0 -23.2 0M1336.7 430.9a11.6 11.6 0 1 0 23.2 0a11.6 11.6 0 1 0 -23.2 0M1337.8 430.4a11.6 11.6 0 1 0 23.2 0a11.6 11.6 0 1 0 -23.2 0M1339 433.8a11.6 11.6 0 1 0 23.2 0a11.6 11.6 0 1 0 -23.2 0M1340.2 433.6a11.6 11.6 0 1 0 23.2 0a11.6 11.6 0 1 0 -23.2 0M1341.4 433.2a11.6 11.6 0 1 0 23.2 0a11.6 11.6 0 1 0 -23.2 0M1342.5 433.7a11.6 11.6 0 1 0 23.2 0a11.6 11.6 0 1 0 -23.2 0M1343.7 432.5a11.6 11.6 0 1 0 23.2 0a11.6 11.6 0 1 0 -23.2 0M1344.9 431.6a11.6 11.6 0 1 0 23.2 0a11.6 11.6 0 1 0 -23.2 0M1346 433.7a11.6 11.6 0 1 0 23.2 0a11.6 11.6 0 1 0 -23.2 0M1347.2 432.5a11.6 11.6 0 1 0 23.2 0a11.6 11.6 0 1 0 -23.2 0M1348.3 431.5a11.6 11.6 0 1 0 23.2 0a11.6 11.6 0 1 0 -23.2 0M1349.4 435.1a11.6 11.6 0 1 0 23.2 0a11.6 11.6 0 1 0 -23.2 0M1350.6 434.2a11.6 11.6 0 1 0 23.2 0a11.6 11.6 0 1 0 -23.2 0M1351.7 435.1a11.6 11.6 0 1 0 23.2 0a11.6 11.6 0 1 0 -23.2 0M1352.8 432.8a11.6 11.6 0 1 0 23.2 0a11.6 11.6 0 1 0 -23.2 0M1353.9 433.5a11.6 11.6 0 1 0 23.2 0a11.6 11.6 0 1 0 -23.2 0M1355 432.9a11.6 11.6 0 1 0 23.2 0a11.6 11.6 0 1 0 -23.2 0M1356.1 433.2a11.6 11.6 0 1 0 23.2 0a11.6 11.6 0 1 0 -23.2 0M1357.3 435.2a11.6 11.6 0 1 0 23.2 0a11.6 11.6 0 1 0 -23.2 0M1358.4 433.5a11.6 11.6 0 1 0 23.2 0a11.6 11.6 0 1 0 -23.2 0M1359.4 435.7a11.6 11.6 0 1 0 23.2 0a11.6 11.6 0 1 0 -23.2 0M1360.5 435.7a11.6 11.6 0 1 0 23.2 0a11.6 11.6 0 1 0 -23.2 0M1361.6 439.1a11.6 11.6 0 1 0 23.2 0a11.6 11.6 0 1 0 -23.2 0M1362.7 432.5a11.6 11.6 0 1 0 23.2 0a11.6 11.6 0 1 0 -23.2 0M1363.8 437.1a11.6 11.6 0 1 0 23.2 0a11.6 11.6 0 1 0 -23.2 0M1364.9 435.2a11.6 11.6 0 1 0 23.2 0a11.6 11.6 0 1 0 -23.2 0M1365.9 435.5a11.6 11.6 0 1 0 23.2 0a11.6 11.6 0 1 0 -23.2 0" fill="none" stroke="#231F20" stroke-width="5.5" stroke-linejoin="miter"/>
<path d="M199.1 106.5v20M186.1 106.5h26M186.1 126.5h26M275.7 133v9M262.7 133h26M262.7 142h26M335.2 173.2v8M322.2 173.2h26M322.2 181.2h26M383.8 190.6v8M370.8 190.6h26M370.8 198.6h26M424.8 209.6v8M411.8 209.6h26M411.8 217.6h26M460.4 221.5v6M447.4 221.5h26M447.4 227.5h26M491.8 231.3v6M478.8 231.3h26M478.8 237.3h26M519.9 237.8v6M506.9 237.8h26M506.9 243.8h26M545.3 242.7v6M532.3 242.7h26M532.3 248.7h26M568.5 247.2v3.8M555.5 247.2h26M555.5 251.1h26M589.8 250.8v3.7M576.8 250.8h26M576.8 254.4h26M609.5 254v3.5M596.5 254h26M596.5 257.5h26M627.9 256.6v3.4M614.9 256.6h26M614.9 260h26M645.1 257v3.3M632.1 257h26M632.1 260.3h26M661.3 257.4v3.2M648.3 257.4h26M648.3 260.6h26M676.5 258v3.2M663.5 258h26M663.5 261.2h26M690.9 258.3v3.1M677.9 258.3h26M677.9 261.4h26M704.6 258.4v3.1M691.6 258.4h26M691.6 261.4h26M717.6 259.1v3M704.6 259.1h26M704.6 262.1h26M730 259.3v3M717 259.3h26M717 262.3h26M741.8 259.6v3M728.8 259.6h26M728.8 262.6h26M753.1 260.5v2.9M740.1 260.5h26M740.1 263.5h26M764 261.3v2.9M751 261.3h26M751 264.2h26M774.5 261.6v2.9M761.5 261.6h26M761.5 264.5h26M784.5 262v2.9M771.5 262h26M771.5 264.8h26M794.2 262.5v2.9M781.2 262.5h26M781.2 265.4h26M803.6 263.4v2.9M790.6 263.4h26M790.6 266.3h26M812.6 263.9v2.9M799.6 263.9h26M799.6 266.7h26M821.3 264.4v2.8M808.3 264.4h26M808.3 267.3h26M829.8 265.1v2.8M816.8 265.1h26M816.8 267.9h26M838 265.7v2.8M825 265.7h26M825 268.6h26M845.9 266.5v2.8M832.9 266.5h26M832.9 269.3h26M853.7 267.2v2.8M840.7 267.2h26M840.7 270h26M861.2 267.8v2.8M848.2 267.8h26M848.2 270.6h26M868.5 268.3v2.8M855.5 268.3h26M855.5 271.2h26M875.6 269.3v2.8M862.6 269.3h26M862.6 272.1h26M882.5 269.8v2.8M869.5 269.8h26M869.5 272.7h26M889.2 270.8v2.8M876.2 270.8h26M876.2 273.7h26M895.8 271.2v2.8M882.8 271.2h26M882.8 274h26M902.2 272.1v2.8M889.2 272.1h26M889.2 274.9h26M908.5 272.9v2.8M895.5 272.9h26M895.5 275.7h26M914.6 273.4v2.8M901.6 273.4h26M901.6 276.2h26M920.6 274.6v2.8M907.6 274.6h26M907.6 277.4h26M926.5 275.3v2.8M913.5 275.3h26M913.5 278.1h26M932.2 275.7v2.8M919.2 275.7h26M919.2 278.5h26M937.8 276.6v2.8M924.8 276.6h26M924.8 279.4h26M943.3 277.3v2.8M930.3 277.3h26M930.3 280.1h26M948.7 277.6v2.8M935.7 277.6h26M935.7 280.4h26M954 278.8v2.8M941 278.8h26M941 281.6h26M959.1 279.5v2.8M946.1 279.5h26M946.1 282.3h26M964.2 280.3v2.8M951.2 280.3h26M951.2 283.1h26M969.2 280.9v2.8M956.2 280.9h26M956.2 283.7h26M974.1 281.8v2.8M961.1 281.8h26M961.1 284.6h26M978.9 282.6v2.8M965.9 282.6h26M965.9 285.4h26M983.6 283.6v2.8M970.6 283.6h26M970.6 286.4h26M988.2 284.2v2.8M975.2 284.2h26M975.2 287h26M992.8 284.9v2.8M979.8 284.9h26M979.8 287.7h26M997.3 285.9v2.8M984.3 285.9h26M984.3 288.7h26M1001.7 286.3v2.8M988.7 286.3h26M988.7 289.1h26M1006 287.1v2.8M993 287.1h26M993 289.9h26M1010.3 287.7v2.8M997.3 287.7h26M997.3 290.5h26M1014.5 288.9v2.8M1001.5 288.9h26M1001.5 291.7h26M1018.6 289.6v2.8M1005.6 289.6h26M1005.6 292.4h26M1022.7 290.3v2.8M1009.7 290.3h26M1009.7 293.1h26M1026.7 291v2.8M1013.7 291h26M1013.7 293.8h26M1030.6 291.7v2.8M1017.6 291.7h26M1017.6 294.5h26M1034.5 292.4v2.8M1021.5 292.4h26M1021.5 295.2h26M1038.3 293v2.8M1025.3 293h26M1025.3 295.8h26M1042.1 293.8v2.8M1029.1 293.8h26M1029.1 296.6h26M1045.9 294.5v2.8M1032.9 294.5h26M1032.9 297.3h26M1049.5 295.5v2.8M1036.5 295.5h26M1036.5 298.3h26M1053.2 296v2.8M1040.2 296h26M1040.2 298.8h26M1056.7 296.6v2.8M1043.7 296.6h26M1043.7 299.4h26M1060.3 297.2v2.8M1047.3 297.2h26M1047.3 300h26M1063.7 297.9v2.8M1050.7 297.9h26M1050.7 300.7h26M1067.2 298.9v2.8M1054.2 298.9h26M1054.2 301.7h26M1070.6 299.3v2.8M1057.6 299.3h26M1057.6 302.1h26M1073.9 299.9v2.8M1060.9 299.9h26M1060.9 302.7h26M1077.2 300.4v2.8M1064.2 300.4h26M1064.2 303.2h26M1080.5 300.9v2.8M1067.5 300.9h26M1067.5 303.7h26M1083.7 301.7v2.8M1070.7 301.7h26M1070.7 304.5h26M1086.9 302.5v2.8M1073.9 302.5h26M1073.9 305.3h26M1090.1 302.9v2.8M1077.1 302.9h26M1077.1 305.7h26M1093.2 303.5v2.8M1080.2 303.5h26M1080.2 306.3h26M1096.3 304.1v2.8M1083.3 304.1h26M1083.3 306.9h26M1099.3 304.8v2.8M1086.3 304.8h26M1086.3 307.6h26M1102.3 305v2.8M1089.3 305h26M1089.3 307.8h26M1105.3 305.9v2.8M1092.3 305.9h26M1092.3 308.7h26M1108.3 306.3v2.8M1095.3 306.3h26M1095.3 309.1h26M1111.2 307.2v2.8M1098.2 307.2h26M1098.2 310h26M1114 307.5v2.8M1101 307.5h26M1101 310.3h26M1116.9 308.3v2.8M1103.9 308.3h26M1103.9 311.1h26M1119.7 309v2.8M1106.7 309h26M1106.7 311.8h26M1122.5 309.2v2.8M1109.5 309.2h26M1109.5 312h26M1125.3 309.7v2.8M1112.3 309.7h26M1112.3 312.5h26M1128 310.4v2.8M1115 310.4h26M1115 313.2h26M1130.7 310.9v2.8M1117.7 310.9h26M1117.7 313.7h26M1133.4 311.2v2.8M1120.4 311.2h26M1120.4 314h26M1136 312v2.8M1123 312h26M1123 314.8h26M1138.7 312.8v2.8M1125.7 312.8h26M1125.7 315.6h26M1141.3 312.9v2.8M1128.3 312.9h26M1128.3 315.7h26M1143.8 313.4v2.8M1130.8 313.4h26M1130.8 316.2h26M1146.4 313.7v2.8M1133.4 313.7h26M1133.4 316.5h26M1148.9 314.5v2.8M1135.9 314.5h26M1135.9 317.3h26M1151.4 314.6v2.8M1138.4 314.6h26M1138.4 317.4h26M1153.9 315.1v2.8M1140.9 315.1h26M1140.9 317.9h26M1156.3 316.1v2.8M1143.3 316.1h26M1143.3 318.9h26M1158.8 316.1v2.8M1145.8 316.1h26M1145.8 318.9h26M1161.2 316.9v2.8M1148.2 316.9h26M1148.2 319.7h26M1163.6 317.5v2.8M1150.6 317.5h26M1150.6 320.3h26M1165.9 317.6v2.8M1152.9 317.6h26M1152.9 320.4h26M1168.3 318.1v2.8M1155.3 318.1h26M1155.3 320.9h26M1170.6 318.9v2.8M1157.6 318.9h26M1157.6 321.7h26M1172.9 318.8v2.8M1159.9 318.8h26M1159.9 321.6h26M1175.2 319.1v2.8M1162.2 319.1h26M1162.2 321.9h26M1177.5 319.3v2.8M1164.5 319.3h26M1164.5 322.1h26M1179.7 320v2.8M1166.7 320h26M1166.7 322.8h26M1182 320.8v2.8M1169 320.8h26M1169 323.6h26M1184.2 321v2.8M1171.2 321h26M1171.2 323.8h26M1186.4 320.9v2.8M1173.4 320.9h26M1173.4 323.7h26M1188.5 321.3v2.8M1175.5 321.3h26M1175.5 324.1h26M1190.7 321.7v2.8M1177.7 321.7h26M1177.7 324.5h26M1192.8 322.3v2.8M1179.8 322.3h26M1179.8 325.1h26M1195 322.5v2.8M1182 322.5h26M1182 325.3h26M1197.1 322.9v2.8M1184.1 322.9h26M1184.1 325.7h26M1199.2 323.3v2.8M1186.2 323.3h26M1186.2 326.1h26M1201.2 323.4v2.8M1188.2 323.4h26M1188.2 326.2h26M1203.3 323.8v2.8M1190.3 323.8h26M1190.3 326.6h26M1205.3 324.2v2.8M1192.3 324.2h26M1192.3 327h26M1207.4 324.4v2.8M1194.4 324.4h26M1194.4 327.2h26M1209.4 324.8v2.8M1196.4 324.8h26M1196.4 327.7h26M1211.4 325.6v2.8M1198.4 325.6h26M1198.4 328.4h26M1213.3 325.5v2.8M1200.3 325.5h26M1200.3 328.3h26M1215.3 325.6v2.8M1202.3 325.6h26M1202.3 328.4h26M1217.3 325.3v2.8M1204.3 325.3h26M1204.3 328.1h26M1219.2 326.2v2.8M1206.2 326.2h26M1206.2 329h26M1221.1 325.7v2.8M1208.1 325.7h26M1208.1 328.5h26M1223 326.2v2.8M1210 326.2h26M1210 329h26M1224.9 327.2v2.8M1211.9 327.2h26M1211.9 330h26M1226.8 327.4v2.8M1213.8 327.4h26M1213.8 330.2h26M1228.7 327.3v2.8M1215.7 327.3h26M1215.7 330.1h26M1230.5 327v2.8M1217.5 327h26M1217.5 329.8h26M1232.4 327.7v2.8M1219.4 327.7h26M1219.4 330.5h26M1234.2 327.8v2.8M1221.2 327.8h26M1221.2 330.6h26M1236 328.6v2.8M1223 328.6h26M1223 331.4h26M1237.8 329.4v2.8M1224.8 329.4h26M1224.8 332.2h26M1239.6 328.9v2.8M1226.6 328.9h26M1226.6 331.7h26M1241.4 328.7v2.8M1228.4 328.7h26M1228.4 331.5h26M1243.2 328.8v2.8M1230.2 328.8h26M1230.2 331.6h26M1244.9 329.4v2.8M1231.9 329.4h26M1231.9 332.3h26M1246.7 329.6v2.8M1233.7 329.6h26M1233.7 332.4h26M1248.4 329.4v2.8M1235.4 329.4h26M1235.4 332.2h26M1250.2 330.2v2.8M1237.2 330.2h26M1237.2 333h26M1251.9 329.8v2.8M1238.9 329.8h26M1238.9 332.6h26M1253.6 331v2.8M1240.6 331h26M1240.6 333.9h26M1255.3 331.2v2.8M1242.3 331.2h26M1242.3 334.1h26M1256.9 331.5v2.8M1243.9 331.5h26M1243.9 334.3h26M1258.6 330.9v2.8M1245.6 330.9h26M1245.6 333.8h26M1260.3 331.6v2.8M1247.3 331.6h26M1247.3 334.4h26M1261.9 331.5v2.8M1248.9 331.5h26M1248.9 334.3h26M1263.6 331.6v2.8M1250.6 331.6h26M1250.6 334.4h26M1265.2 331.8v2.8M1252.2 331.8h26M1252.2 334.6h26M1266.8 331.5v2.8M1253.8 331.5h26M1253.8 334.3h26M1268.4 331.6v2.8M1255.4 331.6h26M1255.4 334.5h26M1270 333v2.8M1257 333h26M1257 335.8h26M1271.6 332.7v2.9M1258.6 332.7h26M1258.6 335.5h26M1273.2 333.1v2.9M1260.2 333.1h26M1260.2 335.9h26M1274.8 333.7v2.9M1261.8 333.7h26M1261.8 336.5h26M1276.3 332.3v2.9M1263.3 332.3h26M1263.3 335.2h26M1277.9 333v2.9M1264.9 333h26M1264.9 335.9h26M1279.4 333.8v2.9M1266.4 333.8h26M1266.4 336.7h26M1281 334.1v2.9M1268 334.1h26M1268 337h26M1282.5 333.8v2.9M1269.5 333.8h26M1269.5 336.7h26M1284 334.9v2.9M1271 334.9h26M1271 337.8h26M1285.5 334.5v2.9M1272.5 334.5h26M1272.5 337.4h26M1287 333.8v2.9M1274 333.8h26M1274 336.7h26M1288.5 334.1v2.9M1275.5 334.1h26M1275.5 337.1h26M1290 335.4v3M1277 335.4h26M1277 338.4h26M1291.5 335.4v3M1278.5 335.4h26M1278.5 338.3h26M1292.9 333.9v3M1279.9 333.9h26M1279.9 336.9h26M1294.4 336.3v3M1281.4 336.3h26M1281.4 339.3h26M1295.8 336v3M1282.8 336h26M1282.8 339h26M1297.3 336.7v3M1284.3 336.7h26M1284.3 339.7h26M1298.7 335.6v3.1M1285.7 335.6h26M1285.7 338.6h26M1300.2 335.8v3.1M1287.2 335.8h26M1287.2 338.9h26M1301.6 335.4v3.1M1288.6 335.4h26M1288.6 338.5h26M1303 338.4v3.1M1290 338.4h26M1290 341.5h26M1304.4 336.5v3.2M1291.4 336.5h26M1291.4 339.6h26M1305.8 338.1v3.2M1292.8 338.1h26M1292.8 341.3h26M1307.2 336.5v3.2M1294.2 336.5h26M1294.2 339.7h26M1308.6 337.3v3.3M1295.6 337.3h26M1295.6 340.6h26M1309.9 336v3.3M1296.9 336h26M1296.9 339.3h26M1311.3 337.2v3.3M1298.3 337.2h26M1298.3 340.6h26M1312.7 338.6v3.4M1299.7 338.6h26M1299.7 342h26M1314 336.8v3.4M1301 336.8h26M1301 340.3h26M1315.4 339.1v3.5M1302.4 339.1h26M1302.4 342.6h26M1316.7 338.6v3.6M1303.7 338.6h26M1303.7 342.1h26M1318.1 337.5v3.6M1305.1 337.5h26M1305.1 341.1h26M1319.4 338.1v3.7M1306.4 338.1h26M1306.4 341.8h26M1320.7 338.3v3.8M1307.7 338.3h26M1307.7 342.1h26M1322 338.8v3.8M1309 338.8h26M1309 342.7h26M1323.3 338.5v3.9M1310.3 338.5h26M1310.3 342.4h26M1324.6 338.4v4M1311.6 338.4h26M1311.6 342.4h26M1325.9 339v4.1M1312.9 339h26M1312.9 343.1h26M1327.2 338.4v4.2M1314.2 338.4h26M1314.2 342.6h26M1328.5 338.2v4.3M1315.5 338.2h26M1315.5 342.5h26M1329.8 339.7v4.5M1316.8 339.7h26M1316.8 344.1h26M1331.1 340.8v4.6M1318.1 340.8h26M1318.1 345.4h26M1332.3 338.2v4.7M1319.3 338.2h26M1319.3 342.9h26M1333.6 340v4.9M1320.6 340h26M1320.6 344.9h26M1334.8 339.4v5M1321.8 339.4h26M1321.8 344.4h26M1336.1 339.1v5.2M1323.1 339.1h26M1323.1 344.3h26M1337.3 341.3v5.4M1324.3 341.3h26M1324.3 346.7h26M1338.6 339.7v5.6M1325.6 339.7h26M1325.6 345.3h26M1339.8 342.3v5.8M1326.8 342.3h26M1326.8 348.1h26M1341 339.5v6M1328 339.5h26M1328 345.5h26M1342.2 341v6.3M1329.2 341h26M1329.2 347.3h26M1343.5 340.3v6.6M1330.5 340.3h26M1330.5 346.8h26M1344.7 339.6v6.8M1331.7 339.6h26M1331.7 346.4h26M1345.9 341.4v7.1M1332.9 341.4h26M1332.9 348.5h26M1347.1 340.4v7.5M1334.1 340.4h26M1334.1 347.8h26M1348.3 341.4v7.8M1335.3 341.4h26M1335.3 349.2h26M1349.4 340.5v8.2M1336.4 340.5h26M1336.4 348.7h26M1350.6 339v8.6M1337.6 339h26M1337.6 347.6h26M1351.8 340.3v9M1338.8 340.3h26M1338.8 349.3h26M1353 340.5v9.4M1340 340.5h26M1340 349.9h26M1354.1 341.7v9.9M1341.1 341.7h26M1341.1 351.7h26M1355.3 338.8v10.4M1342.3 338.8h26M1342.3 349.3h26M1356.5 340v11M1343.5 340h26M1343.5 351h26M1357.6 337.3v11.6M1344.6 337.3h26M1344.6 348.8h26M1358.8 340.8v12.2M1345.8 340.8h26M1345.8 353h26M1359.9 337.9v12.9M1346.9 337.9h26M1346.9 350.7h26M1361 336.5v13.6M1348 336.5h26M1348 350h26M1362.2 339.1v14.3M1349.2 339.1h26M1349.2 353.4h26M1363.3 340.8v15.1M1350.3 340.8h26M1350.3 355.9h26M1364.4 336v16M1351.4 336h26M1351.4 352h26M1365.5 336.4v16.9M1352.5 336.4h26M1352.5 353.3h26M1366.6 336.7v17.9M1353.6 336.7h26M1353.6 354.6h26M1367.7 335.6v18.9M1354.7 335.6h26M1354.7 354.5h26M1368.9 337.9v20M1355.9 337.9h26M1355.9 357.9h26M1370 335.3v21.2M1357 335.3h26M1357 356.5h26M1371 334.9v22.5M1358 334.9h26M1358 357.4h26M1372.1 336.8v23.8M1359.1 336.8h26M1359.1 360.6h26M1373.2 333.7v25.2M1360.2 333.7h26M1360.2 358.9h26M1374.3 335.4v26.7M1361.3 335.4h26M1361.3 362.1h26M1375.4 332v28.3M1362.4 332h26M1362.4 360.3h26M1376.5 330.7v30M1363.5 330.7h26M1363.5 360.7h26M1377.5 328.7v31.8M1364.5 328.7h26M1364.5 360.5h26" fill="none" stroke="#231F20" stroke-width="4.6"/>
<path d="M188.7 106.1h20.8v20.8h-20.8zM265.3 127.1h20.8v20.8h-20.8zM324.8 166.8h20.8v20.8h-20.8zM373.4 184.2h20.8v20.8h-20.8zM414.4 203.2h20.8v20.8h-20.8zM450 214.1h20.8v20.8h-20.8zM481.4 223.9h20.8v20.8h-20.8zM509.5 230.4h20.8v20.8h-20.8zM534.9 235.3h20.8v20.8h-20.8zM558.1 238.7h20.8v20.8h-20.8zM579.4 242.2h20.8v20.8h-20.8zM599.1 245.4h20.8v20.8h-20.8zM617.5 247.9h20.8v20.8h-20.8zM634.7 248.3h20.8v20.8h-20.8zM650.9 248.6h20.8v20.8h-20.8zM666.1 249.2h20.8v20.8h-20.8zM680.5 249.4h20.8v20.8h-20.8zM694.2 249.5h20.8v20.8h-20.8zM707.2 250.2h20.8v20.8h-20.8zM719.6 250.4h20.8v20.8h-20.8zM731.4 250.7h20.8v20.8h-20.8zM742.7 251.6h20.8v20.8h-20.8zM753.6 252.4h20.8v20.8h-20.8zM764.1 252.7h20.8v20.8h-20.8zM774.1 253h20.8v20.8h-20.8zM783.8 253.6h20.8v20.8h-20.8zM793.2 254.4h20.8v20.8h-20.8zM802.2 254.9h20.8v20.8h-20.8zM810.9 255.5h20.8v20.8h-20.8zM819.4 256.1h20.8v20.8h-20.8zM827.6 256.7h20.8v20.8h-20.8zM835.5 257.5h20.8v20.8h-20.8zM843.3 258.2h20.8v20.8h-20.8zM850.8 258.8h20.8v20.8h-20.8zM858.1 259.4h20.8v20.8h-20.8zM865.2 260.3h20.8v20.8h-20.8zM872.1 260.8h20.8v20.8h-20.8zM878.8 261.8h20.8v20.8h-20.8zM885.4 262.2h20.8v20.8h-20.8zM891.8 263.1h20.8v20.8h-20.8zM898.1 263.9h20.8v20.8h-20.8zM904.2 264.4h20.8v20.8h-20.8zM910.2 265.6h20.8v20.8h-20.8zM916.1 266.3h20.8v20.8h-20.8zM921.8 266.7h20.8v20.8h-20.8zM927.4 267.6h20.8v20.8h-20.8zM932.9 268.3h20.8v20.8h-20.8zM938.3 268.6h20.8v20.8h-20.8zM943.6 269.8h20.8v20.8h-20.8zM948.7 270.5h20.8v20.8h-20.8zM953.8 271.3h20.8v20.8h-20.8zM958.8 271.9h20.8v20.8h-20.8zM963.7 272.8h20.8v20.8h-20.8zM968.5 273.6h20.8v20.8h-20.8zM973.2 274.6h20.8v20.8h-20.8zM977.8 275.2h20.8v20.8h-20.8zM982.4 275.9h20.8v20.8h-20.8zM986.9 276.9h20.8v20.8h-20.8zM991.3 277.3h20.8v20.8h-20.8zM995.6 278.1h20.8v20.8h-20.8zM999.9 278.7h20.8v20.8h-20.8zM1004.1 279.9h20.8v20.8h-20.8zM1008.2 280.6h20.8v20.8h-20.8zM1012.3 281.3h20.8v20.8h-20.8zM1016.3 282h20.8v20.8h-20.8zM1020.2 282.7h20.8v20.8h-20.8zM1024.1 283.4h20.8v20.8h-20.8zM1027.9 284h20.8v20.8h-20.8zM1031.7 284.8h20.8v20.8h-20.8zM1035.5 285.5h20.8v20.8h-20.8zM1039.1 286.5h20.8v20.8h-20.8zM1042.8 287h20.8v20.8h-20.8zM1046.3 287.6h20.8v20.8h-20.8zM1049.9 288.2h20.8v20.8h-20.8zM1053.3 288.9h20.8v20.8h-20.8zM1056.8 289.9h20.8v20.8h-20.8zM1060.2 290.3h20.8v20.8h-20.8zM1063.5 290.9h20.8v20.8h-20.8zM1066.8 291.4h20.8v20.8h-20.8zM1070.1 291.9h20.8v20.8h-20.8zM1073.3 292.7h20.8v20.8h-20.8zM1076.5 293.5h20.8v20.8h-20.8zM1079.7 293.9h20.8v20.8h-20.8zM1082.8 294.5h20.8v20.8h-20.8zM1085.9 295.1h20.8v20.8h-20.8zM1088.9 295.8h20.8v20.8h-20.8zM1091.9 296h20.8v20.8h-20.8zM1094.9 296.9h20.8v20.8h-20.8zM1097.9 297.3h20.8v20.8h-20.8zM1100.8 298.2h20.8v20.8h-20.8zM1103.6 298.5h20.8v20.8h-20.8zM1106.5 299.3h20.8v20.8h-20.8zM1109.3 300h20.8v20.8h-20.8zM1112.1 300.2h20.8v20.8h-20.8zM1114.9 300.7h20.8v20.8h-20.8zM1117.6 301.4h20.8v20.8h-20.8zM1120.3 301.9h20.8v20.8h-20.8zM1123 302.2h20.8v20.8h-20.8zM1125.6 303h20.8v20.8h-20.8zM1128.3 303.8h20.8v20.8h-20.8zM1130.9 303.9h20.8v20.8h-20.8zM1133.4 304.4h20.8v20.8h-20.8zM1136 304.7h20.8v20.8h-20.8zM1138.5 305.5h20.8v20.8h-20.8zM1141 305.6h20.8v20.8h-20.8zM1143.5 306.1h20.8v20.8h-20.8zM1145.9 307.1h20.8v20.8h-20.8zM1148.4 307.1h20.8v20.8h-20.8zM1150.8 307.9h20.8v20.8h-20.8zM1153.2 308.5h20.8v20.8h-20.8zM1155.5 308.6h20.8v20.8h-20.8zM1157.9 309.1h20.8v20.8h-20.8zM1160.2 309.9h20.8v20.8h-20.8zM1162.5 309.8h20.8v20.8h-20.8zM1164.8 310.1h20.8v20.8h-20.8zM1167.1 310.3h20.8v20.8h-20.8zM1169.3 311h20.8v20.8h-20.8zM1171.6 311.8h20.8v20.8h-20.8zM1173.8 312h20.8v20.8h-20.8zM1176 311.9h20.8v20.8h-20.8zM1178.1 312.3h20.8v20.8h-20.8zM1180.3 312.7h20.8v20.8h-20.8zM1182.4 313.3h20.8v20.8h-20.8zM1184.6 313.5h20.8v20.8h-20.8zM1186.7 313.9h20.8v20.8h-20.8zM1188.8 314.3h20.8v20.8h-20.8zM1190.8 314.4h20.8v20.8h-20.8zM1192.9 314.8h20.8v20.8h-20.8zM1194.9 315.2h20.8v20.8h-20.8zM1197 315.4h20.8v20.8h-20.8zM1199 315.8h20.8v20.8h-20.8zM1201 316.6h20.8v20.8h-20.8zM1202.9 316.5h20.8v20.8h-20.8zM1204.9 316.6h20.8v20.8h-20.8zM1206.9 316.3h20.8v20.8h-20.8zM1208.8 317.2h20.8v20.8h-20.8zM1210.7 316.7h20.8v20.8h-20.8zM1212.6 317.2h20.8v20.8h-20.8zM1214.5 318.2h20.8v20.8h-20.8zM1216.4 318.4h20.8v20.8h-20.8zM1218.3 318.3h20.8v20.8h-20.8zM1220.1 318h20.8v20.8h-20.8zM1222 318.7h20.8v20.8h-20.8zM1223.8 318.8h20.8v20.8h-20.8zM1225.6 319.6h20.8v20.8h-20.8zM1227.4 320.4h20.8v20.8h-20.8zM1229.2 319.9h20.8v20.8h-20.8zM1231 319.7h20.8v20.8h-20.8zM1232.8 319.8h20.8v20.8h-20.8zM1234.5 320.4h20.8v20.8h-20.8zM1236.3 320.6h20.8v20.8h-20.8zM1238 320.4h20.8v20.8h-20.8zM1239.8 321.2h20.8v20.8h-20.8zM1241.5 320.8h20.8v20.8h-20.8zM1243.2 322h20.8v20.8h-20.8zM1244.9 322.2h20.8v20.8h-20.8zM1246.5 322.5h20.8v20.8h-20.8zM1248.2 322h20.8v20.8h-20.8zM1249.9 322.6h20.8v20.8h-20.8zM1251.5 322.5h20.8v20.8h-20.8zM1253.2 322.6h20.8v20.8h-20.8zM1254.8 322.8h20.8v20.8h-20.8zM1256.4 322.5h20.8v20.8h-20.8zM1258 322.6h20.8v20.8h-20.8zM1259.6 324h20.8v20.8h-20.8zM1261.2 323.7h20.8v20.8h-20.8zM1262.8 324.1h20.8v20.8h-20.8zM1264.4 324.7h20.8v20.8h-20.8zM1265.9 323.4h20.8v20.8h-20.8zM1267.5 324.1h20.8v20.8h-20.8zM1269 324.8h20.8v20.8h-20.8zM1270.6 325.1h20.8v20.8h-20.8zM1272.1 324.9h20.8v20.8h-20.8zM1273.6 325.9h20.8v20.8h-20.8zM1275.1 325.6h20.8v20.8h-20.8zM1276.6 324.8h20.8v20.8h-20.8zM1278.1 325.2h20.8v20.8h-20.8zM1279.6 326.5h20.8v20.8h-20.8zM1281.1 326.5h20.8v20.8h-20.8zM1282.5 325h20.8v20.8h-20.8zM1284 327.4h20.8v20.8h-20.8zM1285.4 327.1h20.8v20.8h-20.8zM1286.9 327.8h20.8v20.8h-20.8zM1288.3 326.7h20.8v20.8h-20.8zM1289.8 326.9h20.8v20.8h-20.8zM1291.2 326.5h20.8v20.8h-20.8zM1292.6 329.5h20.8v20.8h-20.8zM1294 327.7h20.8v20.8h-20.8zM1295.4 329.3h20.8v20.8h-20.8zM1296.8 327.7h20.8v20.8h-20.8zM1298.2 328.6h20.8v20.8h-20.8zM1299.5 327.2h20.8v20.8h-20.8zM1300.9 328.5h20.8v20.8h-20.8zM1302.3 329.9h20.8v20.8h-20.8zM1303.6 328.1h20.8v20.8h-20.8zM1305 330.4h20.8v20.8h-20.8zM1306.3 329.9h20.8v20.8h-20.8zM1307.7 328.9h20.8v20.8h-20.8zM1309 329.6h20.8v20.8h-20.8zM1310.3 329.8h20.8v20.8h-20.8zM1311.6 330.4h20.8v20.8h-20.8zM1312.9 330.1h20.8v20.8h-20.8zM1314.2 330h20.8v20.8h-20.8zM1315.5 330.7h20.8v20.8h-20.8zM1316.8 330.1h20.8v20.8h-20.8zM1318.1 330h20.8v20.8h-20.8zM1319.4 331.5h20.8v20.8h-20.8zM1320.7 332.7h20.8v20.8h-20.8zM1321.9 330.2h20.8v20.8h-20.8zM1323.2 332.1h20.8v20.8h-20.8zM1324.4 331.5h20.8v20.8h-20.8zM1325.7 331.3h20.8v20.8h-20.8zM1326.9 333.6h20.8v20.8h-20.8zM1328.2 332.1h20.8v20.8h-20.8zM1329.4 334.8h20.8v20.8h-20.8zM1330.6 332.1h20.8v20.8h-20.8zM1331.8 333.8h20.8v20.8h-20.8zM1333.1 333.1h20.8v20.8h-20.8zM1334.3 332.6h20.8v20.8h-20.8zM1335.5 334.5h20.8v20.8h-20.8zM1336.7 333.7h20.8v20.8h-20.8zM1337.9 334.9h20.8v20.8h-20.8zM1339 334.2h20.8v20.8h-20.8zM1340.2 332.9h20.8v20.8h-20.8zM1341.4 334.4h20.8v20.8h-20.8zM1342.6 334.8h20.8v20.8h-20.8zM1343.7 336.3h20.8v20.8h-20.8zM1344.9 333.7h20.8v20.8h-20.8zM1346.1 335.1h20.8v20.8h-20.8zM1347.2 332.7h20.8v20.8h-20.8zM1348.4 336.5h20.8v20.8h-20.8zM1349.5 333.9h20.8v20.8h-20.8zM1350.6 332.8h20.8v20.8h-20.8zM1351.8 335.8h20.8v20.8h-20.8zM1352.9 338h20.8v20.8h-20.8zM1354 333.6h20.8v20.8h-20.8zM1355.1 334.5h20.8v20.8h-20.8zM1356.2 335.2h20.8v20.8h-20.8zM1357.3 334.6h20.8v20.8h-20.8zM1358.5 337.5h20.8v20.8h-20.8zM1359.6 335.5h20.8v20.8h-20.8zM1360.6 335.7h20.8v20.8h-20.8zM1361.7 338.3h20.8v20.8h-20.8zM1362.8 335.9h20.8v20.8h-20.8zM1363.9 338.4h20.8v20.8h-20.8zM1365 335.7h20.8v20.8h-20.8zM1366.1 335.3h20.8v20.8h-20.8zM1367.1 334.2h20.8v20.8h-20.8z" fill="none" stroke="#231F20" stroke-width="5.5" stroke-linejoin="miter"/>
<path d="M199.1 29.9v16M191.1 29.9h16M191.1 45.9h16M275.7 65.6v7.2M267.7 65.6h16M267.7 72.8h16M335.2 102.2v7.2M327.2 102.2h16M327.2 109.4h16M383.8 125.5v6.8M375.8 125.5h16M375.8 132.3h16M424.8 143.1v6M416.8 143.1h16M416.8 149.1h16M460.4 159v5.2M452.4 159h16M452.4 164.2h16M491.8 170.2v4.4M483.8 170.2h16M483.8 174.6h16M519.9 177.2v4M511.9 177.2h16M511.9 181.2h16M545.3 183.4v3.6M537.3 183.4h16M537.3 187.1h16M568.5 188.7v2.4M560.5 188.7h16M560.5 191.1h16M589.8 192.1v2.4M581.8 192.1h16M581.8 194.5h16M609.5 195.3v2.4M601.5 195.3h16M601.5 197.7h16M627.9 197.9v2.4M619.9 197.9h16M619.9 200.3h16M645.1 200.3v2.4M637.1 200.3h16M637.1 202.7h16M661.3 202.3v2.4M653.3 202.3h16M653.3 204.7h16M676.5 204.4v2.4M668.5 204.4h16M668.5 206.8h16M690.9 205.5v2.4M682.9 205.5h16M682.9 207.9h16M704.6 206.9v2.4M696.6 206.9h16M696.6 209.3h16M717.6 207.3v2.4M709.6 207.3h16M709.6 209.7h16M730 207.6v2.4M722 207.6h16M722 210h16M741.8 208.4v2.4M733.8 208.4h16M733.8 210.8h16M753.1 208.9v2.4M745.1 208.9h16M745.1 211.3h16M764 209.2v2.4M756 209.2h16M756 211.6h16M774.5 209.8v2.4M766.5 209.8h16M766.5 212.2h16M784.5 210.5v2.4M776.5 210.5h16M776.5 212.9h16M794.2 211.5v2.4M786.2 211.5h16M786.2 213.9h16M803.6 211.5v2.4M795.6 211.5h16M795.6 213.9h16M812.6 212.7v2.4M804.6 212.7h16M804.6 215.1h16M821.3 213.2v2.4M813.3 213.2h16M813.3 215.6h16M829.8 214.3v2.4M821.8 214.3h16M821.8 216.7h16M838 214.8v2.4M830 214.8h16M830 217.2h16M845.9 215.8v2.4M837.9 215.8h16M837.9 218.2h16M853.7 216.5v2.4M845.7 216.5h16M845.7 218.9h16M861.2 217.6v2.4M853.2 217.6h16M853.2 220h16M868.5 218.9v2.4M860.5 218.9h16M860.5 221.3h16M875.6 219.8v2.4M867.6 219.8h16M867.6 222.2h16M882.5 220.6v2.4M874.5 220.6h16M874.5 223h16M889.2 221.5v2.4M881.2 221.5h16M881.2 223.9h16M895.8 222.3v2.4M887.8 222.3h16M887.8 224.7h16M902.2 223.5v2.4M894.2 223.5h16M894.2 225.9h16M908.5 224.5v2.4M900.5 224.5h16M900.5 226.9h16M914.6 225.4v2.4M906.6 225.4h16M906.6 227.8h16M920.6 226.3v2.4M912.6 226.3h16M912.6 228.7h16M926.5 227.1v2.4M918.5 227.1h16M918.5 229.5h16M932.2 228.1v2.4M924.2 228.1h16M924.2 230.5h16M937.8 229v2.4M929.8 229h16M929.8 231.4h16M943.3 230v2.4M935.3 230h16M935.3 232.4h16M948.7 230.8v2.4M940.7 230.8h16M940.7 233.2h16M954 231.3v2.4M946 231.3h16M946 233.7h16M959.1 231.9v2.4M951.1 231.9h16M951.1 234.3h16M964.2 232.8v2.4M956.2 232.8h16M956.2 235.2h16M969.2 233.4v2.4M961.2 233.4h16M961.2 235.8h16M974.1 234.1v2.4M966.1 234.1h16M966.1 236.5h16M978.9 235v2.4M970.9 235h16M970.9 237.4h16M983.6 235.5v2.4M975.6 235.5h16M975.6 237.9h16M988.2 236.5v2.4M980.2 236.5h16M980.2 238.9h16M992.8 237.1v2.4M984.8 237.1h16M984.8 239.5h16M997.3 237.9v2.4M989.3 237.9h16M989.3 240.3h16M1001.7 238.5v2.4M993.7 238.5h16M993.7 240.9h16M1006 239.2v2.4M998 239.2h16M998 241.6h16M1010.3 239.9v2.4M1002.3 239.9h16M1002.3 242.3h16M1014.5 240.7v2.4M1006.5 240.7h16M1006.5 243.1h16M1018.6 241.3v2.4M1010.6 241.3h16M1010.6 243.7h16M1022.7 242.2v2.4M1014.7 242.2h16M1014.7 244.6h16M1026.7 242.9v2.4M1018.7 242.9h16M1018.7 245.3h16M1030.6 243.3v2.4M1022.6 243.3h16M1022.6 245.7h16M1034.5 244.3v2.4M1026.5 244.3h16M1026.5 246.7h16M1038.3 244.8v2.4M1030.3 244.8h16M1030.3 247.2h16M1042.1 245.6v2.4M1034.1 245.6h16M1034.1 248h16M1045.9 246.3v2.4M1037.9 246.3h16M1037.9 248.7h16M1049.5 246.7v2.4M1041.5 246.7h16M1041.5 249.1h16M1053.2 247.8v2.4M1045.2 247.8h16M1045.2 250.2h16M1056.7 248.5v2.4M1048.7 248.5h16M1048.7 250.9h16M1060.3 249.2v2.4M1052.3 249.2h16M1052.3 251.6h16M1063.7 249.8v2.4M1055.7 249.8h16M1055.7 252.2h16M1067.2 250.5v2.4M1059.2 250.5h16M1059.2 252.9h16M1070.6 251.1v2.4M1062.6 251.1h16M1062.6 253.5h16M1073.9 251.9v2.4M1065.9 251.9h16M1065.9 254.3h16M1077.2 252.6v2.4M1069.2 252.6h16M1069.2 255h16M1080.5 253.4v2.4M1072.5 253.4h16M1072.5 255.8h16M1083.7 253.8v2.4M1075.7 253.8h16M1075.7 256.2h16M1086.9 254.7v2.4M1078.9 254.7h16M1078.9 257.1h16M1090.1 255.4v2.4M1082.1 255.4h16M1082.1 257.8h16M1093.2 256v2.4M1085.2 256h16M1085.2 258.4h16M1096.3 256.6v2.4M1088.3 256.6h16M1088.3 259h16M1099.3 257.4v2.4M1091.3 257.4h16M1091.3 259.8h16M1102.3 257.7v2.4M1094.3 257.7h16M1094.3 260.1h16M1105.3 258.7v2.4M1097.3 258.7h16M1097.3 261.1h16M1108.3 259.2v2.4M1100.3 259.2h16M1100.3 261.6h16M1111.2 259.8v2.4M1103.2 259.8h16M1103.2 262.2h16M1114 260.4v2.4M1106 260.4h16M1106 262.8h16M1116.9 260.8v2.4M1108.9 260.8h16M1108.9 263.2h16M1119.7 261.4v2.4M1111.7 261.4h16M1111.7 263.8h16M1122.5 262.1v2.4M1114.5 262.1h16M1114.5 264.5h16M1125.3 262.6v2.4M1117.3 262.6h16M1117.3 265h16M1128 263.1v2.4M1120 263.1h16M1120 265.5h16M1130.7 263.3v2.4M1122.7 263.3h16M1122.7 265.7h16M1133.4 264.2v2.4M1125.4 264.2h16M1125.4 266.6h16M1136 264.8v2.4M1128 264.8h16M1128 267.2h16M1138.7 265.2v2.4M1130.7 265.2h16M1130.7 267.6h16M1141.3 265.5v2.4M1133.3 265.5h16M1133.3 267.9h16M1143.8 265.6v2.4M1135.8 265.6h16M1135.8 268h16M1146.4 266.5v2.4M1138.4 266.5h16M1138.4 268.9h16M1148.9 266.7v2.4M1140.9 266.7h16M1140.9 269.1h16M1151.4 266.6v2.4M1143.4 266.6h16M1143.4 269h16M1153.9 267.7v2.4M1145.9 267.7h16M1145.9 270.1h16M1156.3 267.7v2.4M1148.3 267.7h16M1148.3 270.1h16M1158.8 268.1v2.4M1150.8 268.1h16M1150.8 270.5h16M1161.2 268.6v2.4M1153.2 268.6h16M1153.2 271h16M1163.6 269.4v2.4M1155.6 269.4h16M1155.6 271.8h16M1165.9 269.4v2.4M1157.9 269.4h16M1157.9 271.8h16M1168.3 269.9v2.4M1160.3 269.9h16M1160.3 272.3h16M1170.6 270.6v2.4M1162.6 270.6h16M1162.6 273h16M1172.9 271v2.4M1164.9 271h16M1164.9 273.4h16M1175.2 270.9v2.4M1167.2 270.9h16M1167.2 273.3h16M1177.5 271.2v2.4M1169.5 271.2h16M1169.5 273.6h16M1179.7 271.3v2.4M1171.7 271.3h16M1171.7 273.7h16M1182 271.8v2.4M1174 271.8h16M1174 274.2h16M1184.2 272.4v2.4M1176.2 272.4h16M1176.2 274.8h16M1186.4 272.7v2.4M1178.4 272.7h16M1178.4 275.1h16M1188.5 272.9v2.4M1180.5 272.9h16M1180.5 275.3h16M1190.7 273.5v2.4M1182.7 273.5h16M1182.7 275.9h16M1192.8 273.3v2.4M1184.8 273.3h16M1184.8 275.7h16M1195 273.8v2.4M1187 273.8h16M1187 276.2h16M1197.1 274.3v2.4M1189.1 274.3h16M1189.1 276.7h16M1199.2 274.6v2.4M1191.2 274.6h16M1191.2 277h16M1201.2 275v2.4M1193.2 275h16M1193.2 277.4h16M1203.3 275.1v2.4M1195.3 275.1h16M1195.3 277.5h16M1205.3 275.2v2.4M1197.3 275.2h16M1197.3 277.6h16M1207.4 275.7v2.4M1199.4 275.7h16M1199.4 278.1h16M1209.4 275.6v2.4M1201.4 275.6h16M1201.4 278h16M1211.4 275.7v2.4M1203.4 275.7h16M1203.4 278.1h16M1213.3 276.6v2.4M1205.3 276.6h16M1205.3 279h16M1215.3 276.7v2.4M1207.3 276.7h16M1207.3 279.1h16M1217.3 277.1v2.4M1209.3 277.1h16M1209.3 279.5h16M1219.2 276.7v2.4M1211.2 276.7h16M1211.2 279.1h16M1221.1 277.4v2.4M1213.1 277.4h16M1213.1 279.8h16M1223 277.6v2.4M1215 277.6h16M1215 280h16M1224.9 277.7v2.4M1216.9 277.7h16M1216.9 280.1h16M1226.8 277.5v2.4M1218.8 277.5h16M1218.8 279.9h16M1228.7 278.4v2.4M1220.7 278.4h16M1220.7 280.8h16M1230.5 279.1v2.4M1222.5 279.1h16M1222.5 281.5h16M1232.4 279.2v2.4M1224.4 279.2h16M1224.4 281.6h16M1234.2 279.1v2.4M1226.2 279.1h16M1226.2 281.5h16M1236 279.5v2.4M1228 279.5h16M1228 281.9h16M1237.8 280.1v2.4M1229.8 280.1h16M1229.8 282.5h16M1239.6 278.9v2.4M1231.6 278.9h16M1231.6 281.3h16M1241.4 280.2v2.4M1233.4 280.2h16M1233.4 282.6h16M1243.2 280.7v2.4M1235.2 280.7h16M1235.2 283.1h16M1244.9 281v2.4M1236.9 281h16M1236.9 283.4h16M1246.7 281.7v2.4M1238.7 281.7h16M1238.7 284.1h16M1248.4 281.7v2.4M1240.4 281.7h16M1240.4 284.1h16M1250.2 281.5v2.4M1242.2 281.5h16M1242.2 283.9h16M1251.9 281.8v2.4M1243.9 281.8h16M1243.9 284.2h16M1253.6 282.2v2.4M1245.6 282.2h16M1245.6 284.6h16M1255.3 281.8v2.4M1247.3 281.8h16M1247.3 284.2h16M1256.9 282.3v2.4M1248.9 282.3h16M1248.9 284.7h16M1258.6 282.9v2.4M1250.6 282.9h16M1250.6 285.3h16M1260.3 283.7v2.4M1252.3 283.7h16M1252.3 286.1h16M1261.9 282.9v2.4M1253.9 282.9h16M1253.9 285.3h16M1263.6 283.1v2.4M1255.6 283.1h16M1255.6 285.5h16M1265.2 283.5v2.4M1257.2 283.5h16M1257.2 285.9h16M1266.8 284.2v2.4M1258.8 284.2h16M1258.8 286.6h16M1268.4 283.8v2.4M1260.4 283.8h16M1260.4 286.2h16M1270 284.7v2.4M1262 284.7h16M1262 287.1h16M1271.6 283.7v2.4M1263.6 283.7h16M1263.6 286.1h16M1273.2 284.3v2.4M1265.2 284.3h16M1265.2 286.7h16M1274.8 284.5v2.4M1266.8 284.5h16M1266.8 286.9h16M1276.3 285.2v2.4M1268.3 285.2h16M1268.3 287.6h16M1277.9 285.6v2.4M1269.9 285.6h16M1269.9 288h16M1279.4 284.3v2.4M1271.4 284.3h16M1271.4 286.7h16M1281 284.8v2.4M1273 284.8h16M1273 287.2h16M1282.5 285.7v2.4M1274.5 285.7h16M1274.5 288.1h16M1284 285.3v2.4M1276 285.3h16M1276 287.7h16M1285.5 285v2.4M1277.5 285h16M1277.5 287.4h16M1287 286.8v2.4M1279 286.8h16M1279 289.2h16M1288.5 286.6v2.4M1280.5 286.6h16M1280.5 289h16M1290 286.8v2.4M1282 286.8h16M1282 289.2h16M1291.5 286.3v2.4M1283.5 286.3h16M1283.5 288.7h16M1292.9 287.5v2.4M1284.9 287.5h16M1284.9 289.9h16M1294.4 286.8v2.4M1286.4 286.8h16M1286.4 289.2h16M1295.8 288v2.4M1287.8 288h16M1287.8 290.4h16M1297.3 286.7v2.4M1289.3 286.7h16M1289.3 289.1h16M1298.7 286.9v2.4M1290.7 286.9h16M1290.7 289.3h16M1300.2 287.8v2.4M1292.2 287.8h16M1292.2 290.2h16M1301.6 287.3v2.4M1293.6 287.3h16M1293.6 289.7h16M1303 288.5v2.4M1295 288.5h16M1295 290.9h16M1304.4 288.4v2.4M1296.4 288.4h16M1296.4 290.8h16M1305.8 287.6v2.4M1297.8 287.6h16M1297.8 290h16M1307.2 288.6v2.4M1299.2 288.6h16M1299.2 291h16M1308.6 288.4v2.4M1300.6 288.4h16M1300.6 290.8h16M1309.9 289.6v2.4M1301.9 289.6h16M1301.9 292h16M1311.3 288.4v2.4M1303.3 288.4h16M1303.3 290.8h16M1312.7 288.8v2.4M1304.7 288.8h16M1304.7 291.2h16M1314 290.4v2.4M1306 290.4h16M1306 292.8h16M1315.4 291.5v2.4M1307.4 291.5h16M1307.4 293.9h16M1316.7 291.4v2.4M1308.7 291.4h16M1308.7 293.8h16M1318.1 289.8v2.4M1310.1 289.8h16M1310.1 292.2h16M1319.4 290.1v2.4M1311.4 290.1h16M1311.4 292.5h16M1320.7 291.5v2.4M1312.7 291.5h16M1312.7 293.9h16M1322 290.1v2.4M1314 290.1h16M1314 292.5h16M1323.3 289.4v2.4M1315.3 289.4h16M1315.3 291.8h16M1324.6 290.6v2.4M1316.6 290.6h16M1316.6 293h16M1325.9 291.1v2.4M1317.9 291.1h16M1317.9 293.5h16M1327.2 289.9v2.4M1319.2 289.9h16M1319.2 292.3h16M1328.5 289.1v2.4M1320.5 289.1h16M1320.5 291.5h16M1329.8 289.5v2.4M1321.8 289.5h16M1321.8 291.9h16M1331.1 291.9v2.4M1323.1 291.9h16M1323.1 294.3h16M1332.3 290.4v2.4M1324.3 290.4h16M1324.3 292.8h16M1333.6 291.3v2.4M1325.6 291.3h16M1325.6 293.7h16M1334.8 291.8v2.4M1326.8 291.8h16M1326.8 294.2h16M1336.1 292.4v2.4M1328.1 292.4h16M1328.1 294.8h16M1337.3 291.4v2.4M1329.3 291.4h16M1329.3 293.8h16M1338.6 292.5v2.4M1330.6 292.5h16M1330.6 294.9h16M1339.8 291v2.4M1331.8 291h16M1331.8 293.4h16M1341 291.7v2.4M1333 291.7h16M1333 294.1h16M1342.2 291v2.4M1334.2 291h16M1334.2 293.4h16M1343.5 293.9v2.4M1335.5 293.9h16M1335.5 296.3h16M1344.7 292.5v2.4M1336.7 292.5h16M1336.7 294.9h16M1345.9 291.6v2.5M1337.9 291.6h16M1337.9 294.1h16M1347.1 292.2v2.6M1339.1 292.2h16M1339.1 294.8h16M1348.3 292.4v2.8M1340.3 292.4h16M1340.3 295.2h16M1349.4 293.7v3M1341.4 293.7h16M1341.4 296.7h16M1350.6 290.5v3.2M1342.6 290.5h16M1342.6 293.7h16M1351.8 291.3v3.4M1343.8 291.3h16M1343.8 294.6h16M1353 292.2v3.6M1345 292.2h16M1345 295.8h16M1354.1 296.5v3.8M1346.1 296.5h16M1346.1 300.4h16M1355.3 294.2v4.1M1347.3 294.2h16M1347.3 298.3h16M1356.5 292.6v4.4M1348.5 292.6h16M1348.5 296.9h16M1357.6 293.8v4.6M1349.6 293.8h16M1349.6 298.4h16M1358.8 295.9v4.9M1350.8 295.9h16M1350.8 300.8h16M1359.9 292.2v5.3M1351.9 292.2h16M1351.9 297.5h16M1361 291.9v5.6M1353 291.9h16M1353 297.5h16M1362.2 294.5v6M1354.2 294.5h16M1354.2 300.4h16M1363.3 293.2v6.4M1355.3 293.2h16M1355.3 299.6h16M1364.4 293.4v6.8M1356.4 293.4h16M1356.4 300.2h16M1365.5 291.3v7.2M1357.5 291.3h16M1357.5 298.5h16M1366.6 295.4v7.7M1358.6 295.4h16M1358.6 303.1h16M1367.7 294.9v8.2M1359.7 294.9h16M1359.7 303.1h16M1368.9 292.7v8.7M1360.9 292.7h16M1360.9 301.5h16M1370 292.8v9.3M1362 292.8h16M1362 302.1h16M1371 287.5v9.9M1363 287.5h16M1363 297.4h16M1372.1 292.3v10.5M1364.1 292.3h16M1364.1 302.8h16M1373.2 290.5v11.2M1365.2 290.5h16M1365.2 301.7h16M1374.3 291.4v11.9M1366.3 291.4h16M1366.3 303.4h16M1375.4 291.7v12.7M1367.4 291.7h16M1367.4 304.4h16M1376.5 289.3v13.5M1368.5 289.3h16M1368.5 302.8h16M1377.5 286.2v14.4M1369.5 286.2h16M1369.5 300.6h16" fill="none" stroke="#231F20" stroke-width="4.6"/>
<path d="M197.1 20.9h4l12.2 25.5h-28.4zM199.1 29.2l-5.6 11.7h11.2zM273.7 52.2h4l12.2 25.5h-28.4zM275.7 60.6l-5.6 11.7h11.2zM333.2 88.8h4l12.2 25.5h-28.4zM335.2 97.2l-5.6 11.7h11.2zM381.8 112h4l12.2 25.5h-28.4zM383.8 120.4l-5.6 11.7h11.2zM422.8 129.1h4l12.2 25.5h-28.4zM424.8 137.5l-5.6 11.7h11.2zM458.4 144.6h4l12.2 25.5h-28.4zM460.4 153l-5.6 11.7h11.2zM489.8 155.4h4l12.2 25.5h-28.4zM491.8 163.8l-5.6 11.7h11.2zM517.9 162.2h4l12.2 25.5h-28.4zM519.9 170.7l-5.6 11.7h11.2zM543.3 168.2h4l12.2 25.5h-28.4zM545.3 176.7l-5.6 11.7h11.2zM566.5 172.9h4l12.2 25.5h-28.4zM568.5 181.3l-5.6 11.7h11.2zM587.8 176.3h4l12.2 25.5h-28.4zM589.8 184.7l-5.6 11.7h11.2zM607.5 179.5h4l12.2 25.5h-28.4zM609.5 187.9l-5.6 11.7h11.2zM625.9 182.1h4l12.2 25.5h-28.4zM627.9 190.5l-5.6 11.7h11.2zM643.1 184.5h4l12.2 25.5h-28.4zM645.1 192.9l-5.6 11.7h11.2zM659.3 186.5h4l12.2 25.5h-28.4zM661.3 194.9l-5.6 11.7h11.2zM674.5 188.6h4l12.2 25.5h-28.4zM676.5 197l-5.6 11.7h11.2zM688.9 189.7h4l12.2 25.5h-28.4zM690.9 198.1l-5.6 11.7h11.2zM702.6 191.1h4l12.2 25.5h-28.4zM704.6 199.5l-5.6 11.7h11.2zM715.6 191.5h4l12.2 25.5h-28.4zM717.6 199.9l-5.6 11.7h11.2zM728 191.8h4l12.2 25.5h-28.4zM730 200.2l-5.6 11.7h11.2zM739.8 192.6h4l12.2 25.5h-28.4zM741.8 201l-5.6 11.7h11.2zM751.1 193.1h4l12.2 25.5h-28.4zM753.1 201.5l-5.6 11.7h11.2zM762 193.4h4l12.2 25.5h-28.4zM764 201.8l-5.6 11.7h11.2zM772.5 194h4l12.2 25.5h-28.4zM774.5 202.4l-5.6 11.7h11.2zM782.5 194.7h4l12.2 25.5h-28.4zM784.5 203.1l-5.6 11.7h11.2zM792.2 195.7h4l12.2 25.5h-28.4zM794.2 204.1l-5.6 11.7h11.2zM801.6 195.7h4l12.2 25.5h-28.4zM803.6 204.1l-5.6 11.7h11.2zM810.6 196.9h4l12.2 25.5h-28.4zM812.6 205.3l-5.6 11.7h11.2zM819.3 197.4h4l12.2 25.5h-28.4zM821.3 205.8l-5.6 11.7h11.2zM827.8 198.5h4l12.2 25.5h-28.4zM829.8 206.9l-5.6 11.7h11.2zM836 199h4l12.2 25.5h-28.4zM838 207.4l-5.6 11.7h11.2zM843.9 200h4l12.2 25.5h-28.4zM845.9 208.4l-5.6 11.7h11.2zM851.7 200.7h4l12.2 25.5h-28.4zM853.7 209.1l-5.6 11.7h11.2zM859.2 201.8h4l12.2 25.5h-28.4zM861.2 210.2l-5.6 11.7h11.2zM866.5 203.1h4l12.2 25.5h-28.4zM868.5 211.5l-5.6 11.7h11.2zM873.6 204h4l12.2 25.5h-28.4zM875.6 212.4l-5.6 11.7h11.2zM880.5 204.8h4l12.2 25.5h-28.4zM882.5 213.2l-5.6 11.7h11.2zM887.2 205.7h4l12.2 25.5h-28.4zM889.2 214.1l-5.6 11.7h11.2zM893.8 206.5h4l12.2 25.5h-28.4zM895.8 214.9l-5.6 11.7h11.2zM900.2 207.7h4l12.2 25.5h-28.4zM902.2 216.1l-5.6 11.7h11.2zM906.5 208.7h4l12.2 25.5h-28.4zM908.5 217.1l-5.6 11.7h11.2zM912.6 209.6h4l12.2 25.5h-28.4zM914.6 218l-5.6 11.7h11.2zM918.6 210.5h4l12.2 25.5h-28.4zM920.6 218.9l-5.6 11.7h11.2zM924.5 211.3h4l12.2 25.5h-28.4zM926.5 219.7l-5.6 11.7h11.2zM930.2 212.3h4l12.2 25.5h-28.4zM932.2 220.7l-5.6 11.7h11.2zM935.8 213.2h4l12.2 25.5h-28.4zM937.8 221.6l-5.6 11.7h11.2zM941.3 214.2h4l12.2 25.5h-28.4zM943.3 222.6l-5.6 11.7h11.2zM946.7 215h4l12.2 25.5h-28.4zM948.7 223.4l-5.6 11.7h11.2zM952 215.5h4l12.2 25.5h-28.4zM954 223.9l-5.6 11.7h11.2zM957.1 216.1h4l12.2 25.5h-28.4zM959.1 224.5l-5.6 11.7h11.2zM962.2 217h4l12.2 25.5h-28.4zM964.2 225.4l-5.6 11.7h11.2zM967.2 217.6h4l12.2 25.5h-28.4zM969.2 226l-5.6 11.7h11.2zM972.1 218.3h4l12.2 25.5h-28.4zM974.1 226.7l-5.6 11.7h11.2zM976.9 219.2h4l12.2 25.5h-28.4zM978.9 227.6l-5.6 11.7h11.2zM981.6 219.7h4l12.2 25.5h-28.4zM983.6 228.1l-5.6 11.7h11.2zM986.2 220.7h4l12.2 25.5h-28.4zM988.2 229.1l-5.6 11.7h11.2zM990.8 221.3h4l12.2 25.5h-28.4zM992.8 229.7l-5.6 11.7h11.2zM995.3 222.1h4l12.2 25.5h-28.4zM997.3 230.5l-5.6 11.7h11.2zM999.7 222.7h4l12.2 25.5h-28.4zM1001.7 231.1l-5.6 11.7h11.2zM1004 223.4h4l12.2 25.5h-28.4zM1006 231.8l-5.6 11.7h11.2zM1008.3 224.1h4l12.2 25.5h-28.4zM1010.3 232.5l-5.6 11.7h11.2zM1012.5 224.9h4l12.2 25.5h-28.4zM1014.5 233.3l-5.6 11.7h11.2zM1016.6 225.5h4l12.2 25.5h-28.4zM1018.6 233.9l-5.6 11.7h11.2zM1020.7 226.4h4l12.2 25.5h-28.4zM1022.7 234.8l-5.6 11.7h11.2zM1024.7 227.1h4l12.2 25.5h-28.4zM1026.7 235.5l-5.6 11.7h11.2zM1028.6 227.5h4l12.2 25.5h-28.4zM1030.6 235.9l-5.6 11.7h11.2zM1032.5 228.5h4l12.2 25.5h-28.4zM1034.5 236.9l-5.6 11.7h11.2zM1036.3 229h4l12.2 25.5h-28.4zM1038.3 237.4l-5.6 11.7h11.2zM1040.1 229.8h4l12.2 25.5h-28.4zM1042.1 238.2l-5.6 11.7h11.2zM1043.9 230.5h4l12.2 25.5h-28.4zM1045.9 238.9l-5.6 11.7h11.2zM1047.5 230.9h4l12.2 25.5h-28.4zM1049.5 239.3l-5.6 11.7h11.2zM1051.2 232h4l12.2 25.5h-28.4zM1053.2 240.4l-5.6 11.7h11.2zM1054.7 232.7h4l12.2 25.5h-28.4zM1056.7 241.1l-5.6 11.7h11.2zM1058.3 233.4h4l12.2 25.5h-28.4zM1060.3 241.8l-5.6 11.7h11.2zM1061.7 234h4l12.2 25.5h-28.4zM1063.7 242.4l-5.6 11.7h11.2zM1065.2 234.7h4l12.2 25.5h-28.4zM1067.2 243.1l-5.6 11.7h11.2zM1068.6 235.3h4l12.2 25.5h-28.4zM1070.6 243.7l-5.6 11.7h11.2zM1071.9 236.1h4l12.2 25.5h-28.4zM1073.9 244.5l-5.6 11.7h11.2zM1075.2 236.8h4l12.2 25.5h-28.4zM1077.2 245.2l-5.6 11.7h11.2zM1078.5 237.6h4l12.2 25.5h-28.4zM1080.5 246l-5.6 11.7h11.2zM1081.7 238h4l12.2 25.5h-28.4zM1083.7 246.4l-5.6 11.7h11.2zM1084.9 238.9h4l12.2 25.5h-28.4zM1086.9 247.3l-5.6 11.7h11.2zM1088.1 239.6h4l12.2 25.5h-28.4zM1090.1 248l-5.6 11.7h11.2zM1091.2 240.2h4l12.2 25.5h-28.4zM1093.2 248.6l-5.6 11.7h11.2zM1094.3 240.8h4l12.2 25.5h-28.4zM1096.3 249.2l-5.6 11.7h11.2zM1097.3 241.6h4l12.2 25.5h-28.4zM1099.3 250l-5.6 11.7h11.2zM1100.3 241.9h4l12.2 25.5h-28.4zM1102.3 250.3l-5.6 11.7h11.2zM1103.3 242.9h4l12.2 25.5h-28.4zM1105.3 251.3l-5.6 11.7h11.2zM1106.3 243.4h4l12.2 25.5h-28.4zM1108.3 251.8l-5.6 11.7h11.2zM1109.2 244h4l12.2 25.5h-28.4zM1111.2 252.4l-5.6 11.7h11.2zM1112 244.6h4l12.2 25.5h-28.4zM1114 253l-5.6 11.7h11.2zM1114.9 245h4l12.2 25.5h-28.4zM1116.9 253.4l-5.6 11.7h11.2zM1117.7 245.6h4l12.2 25.5h-28.4zM1119.7 254l-5.6 11.7h11.2zM1120.5 246.3h4l12.2 25.5h-28.4zM1122.5 254.7l-5.6 11.7h11.2zM1123.3 246.8h4l12.2 25.5h-28.4zM1125.3 255.2l-5.6 11.7h11.2zM1126 247.3h4l12.2 25.5h-28.4zM1128 255.7l-5.6 11.7h11.2zM1128.7 247.5h4l12.2 25.5h-28.4zM1130.7 255.9l-5.6 11.7h11.2zM1131.4 248.4h4l12.2 25.5h-28.4zM1133.4 256.8l-5.6 11.7h11.2zM1134 249h4l12.2 25.5h-28.4zM1136 257.4l-5.6 11.7h11.2zM1136.7 249.4h4l12.2 25.5h-28.4zM1138.7 257.8l-5.6 11.7h11.2zM1139.3 249.7h4l12.2 25.5h-28.4zM1141.3 258.1l-5.6 11.7h11.2zM1141.8 249.8h4l12.2 25.5h-28.4zM1143.8 258.2l-5.6 11.7h11.2zM1144.4 250.7h4l12.2 25.5h-28.4zM1146.4 259.1l-5.6 11.7h11.2zM1146.9 250.9h4l12.2 25.5h-28.4zM1148.9 259.3l-5.6 11.7h11.2zM1149.4 250.8h4l12.2 25.5h-28.4zM1151.4 259.2l-5.6 11.7h11.2zM1151.9 251.9h4l12.2 25.5h-28.4zM1153.9 260.3l-5.6 11.7h11.2zM1154.3 251.9h4l12.2 25.5h-28.4zM1156.3 260.3l-5.6 11.7h11.2zM1156.8 252.3h4l12.2 25.5h-28.4zM1158.8 260.7l-5.6 11.7h11.2zM1159.2 252.8h4l12.2 25.5h-28.4zM1161.2 261.2l-5.6 11.7h11.2zM1161.6 253.6h4l12.2 25.5h-28.4zM1163.6 262l-5.6 11.7h11.2zM1163.9 253.6h4l12.2 25.5h-28.4zM1165.9 262l-5.6 11.7h11.2zM1166.3 254.1h4l12.2 25.5h-28.4zM1168.3 262.5l-5.6 11.7h11.2zM1168.6 254.8h4l12.2 25.5h-28.4zM1170.6 263.2l-5.6 11.7h11.2zM1170.9 255.2h4l12.2 25.5h-28.4zM1172.9 263.6l-5.6 11.7h11.2zM1173.2 255.1h4l12.2 25.5h-28.4zM1175.2 263.5l-5.6 11.7h11.2zM1175.5 255.4h4l12.2 25.5h-28.4zM1177.5 263.8l-5.6 11.7h11.2zM1177.7 255.5h4l12.2 25.5h-28.4zM1179.7 263.9l-5.6 11.7h11.2zM1180 256h4l12.2 25.5h-28.4zM1182 264.4l-5.6 11.7h11.2zM1182.2 256.6h4l12.2 25.5h-28.4zM1184.2 265l-5.6 11.7h11.2zM1184.4 256.9h4l12.2 25.5h-28.4zM1186.4 265.3l-5.6 11.7h11.2zM1186.5 257.1h4l12.2 25.5h-28.4zM1188.5 265.5l-5.6 11.7h11.2zM1188.7 257.7h4l12.2 25.5h-28.4zM1190.7 266.1l-5.6 11.7h11.2zM1190.8 257.5h4l12.2 25.5h-28.4zM1192.8 265.9l-5.6 11.7h11.2zM1193 258h4l12.2 25.5h-28.4zM1195 266.4l-5.6 11.7h11.2zM1195.1 258.5h4l12.2 25.5h-28.4zM1197.1 266.9l-5.6 11.7h11.2zM1197.2 258.8h4l12.2 25.5h-28.4zM1199.2 267.2l-5.6 11.7h11.2zM1199.2 259.2h4l12.2 25.5h-28.4zM1201.2 267.6l-5.6 11.7h11.2zM1201.3 259.3h4l12.2 25.5h-28.4zM1203.3 267.7l-5.6 11.7h11.2zM1203.3 259.4h4l12.2 25.5h-28.4zM1205.3 267.8l-5.6 11.7h11.2zM1205.4 259.9h4l12.2 25.5h-28.4zM1207.4 268.3l-5.6 11.7h11.2zM1207.4 259.8h4l12.2 25.5h-28.4zM1209.4 268.2l-5.6 11.7h11.2zM1209.4 259.9h4l12.2 25.5h-28.4zM1211.4 268.3l-5.6 11.7h11.2zM1211.3 260.8h4l12.2 25.5h-28.4zM1213.3 269.2l-5.6 11.7h11.2zM1213.3 260.9h4l12.2 25.5h-28.4zM1215.3 269.3l-5.6 11.7h11.2zM1215.3 261.3h4l12.2 25.5h-28.4zM1217.3 269.7l-5.6 11.7h11.2zM1217.2 260.9h4l12.2 25.5h-28.4zM1219.2 269.3l-5.6 11.7h11.2zM1219.1 261.6h4l12.2 25.5h-28.4zM1221.1 270l-5.6 11.7h11.2zM1221 261.8h4l12.2 25.5h-28.4zM1223 270.2l-5.6 11.7h11.2zM1222.9 261.9h4l12.2 25.5h-28.4zM1224.9 270.3l-5.6 11.7h11.2zM1224.8 261.7h4l12.2 25.5h-28.4zM1226.8 270.1l-5.6 11.7h11.2zM1226.7 262.6h4l12.2 25.5h-28.4zM1228.7 271l-5.6 11.7h11.2zM1228.5 263.3h4l12.2 25.5h-28.4zM1230.5 271.7l-5.6 11.7h11.2zM1230.4 263.4h4l12.2 25.5h-28.4zM1232.4 271.8l-5.6 11.7h11.2zM1232.2 263.3h4l12.2 25.5h-28.4zM1234.2 271.7l-5.6 11.7h11.2zM1234 263.7h4l12.2 25.5h-28.4zM1236 272.1l-5.6 11.7h11.2zM1235.8 264.3h4l12.2 25.5h-28.4zM1237.8 272.7l-5.6 11.7h11.2zM1237.6 263.1h4l12.2 25.5h-28.4zM1239.6 271.5l-5.6 11.7h11.2zM1239.4 264.4h4l12.2 25.5h-28.4zM1241.4 272.8l-5.6 11.7h11.2zM1241.2 264.9h4l12.2 25.5h-28.4zM1243.2 273.3l-5.6 11.7h11.2zM1242.9 265.2h4l12.2 25.5h-28.4zM1244.9 273.6l-5.6 11.7h11.2zM1244.7 265.9h4l12.2 25.5h-28.4zM1246.7 274.3l-5.6 11.7h11.2zM1246.4 265.9h4l12.2 25.5h-28.4zM1248.4 274.3l-5.6 11.7h11.2zM1248.2 265.7h4l12.2 25.5h-28.4zM1250.2 274.1l-5.6 11.7h11.2zM1249.9 266h4l12.2 25.5h-28.4zM1251.9 274.4l-5.6 11.7h11.2zM1251.6 266.4h4l12.2 25.5h-28.4zM1253.6 274.8l-5.6 11.7h11.2zM1253.3 266h4l12.2 25.5h-28.4zM1255.3 274.4l-5.6 11.7h11.2zM1254.9 266.5h4l12.2 25.5h-28.4zM1256.9 274.9l-5.6 11.7h11.2zM1256.6 267.1h4l12.2 25.5h-28.4zM1258.6 275.5l-5.6 11.7h11.2zM1258.3 267.9h4l12.2 25.5h-28.4zM1260.3 276.3l-5.6 11.7h11.2zM1259.9 267.1h4l12.2 25.5h-28.4zM1261.9 275.5l-5.6 11.7h11.2zM1261.6 267.3h4l12.2 25.5h-28.4zM1263.6 275.7l-5.6 11.7h11.2zM1263.2 267.7h4l12.2 25.5h-28.4zM1265.2 276.1l-5.6 11.7h11.2zM1264.8 268.4h4l12.2 25.5h-28.4zM1266.8 276.8l-5.6 11.7h11.2zM1266.4 268h4l12.2 25.5h-28.4zM1268.4 276.4l-5.6 11.7h11.2zM1268 268.9h4l12.2 25.5h-28.4zM1270 277.3l-5.6 11.7h11.2zM1269.6 267.9h4l12.2 25.5h-28.4zM1271.6 276.3l-5.6 11.7h11.2zM1271.2 268.5h4l12.2 25.5h-28.4zM1273.2 276.9l-5.6 11.7h11.2zM1272.8 268.7h4l12.2 25.5h-28.4zM1274.8 277.1l-5.6 11.7h11.2zM1274.3 269.4h4l12.2 25.5h-28.4zM1276.3 277.8l-5.6 11.7h11.2zM1275.9 269.8h4l12.2 25.5h-28.4zM1277.9 278.2l-5.6 11.7h11.2zM1277.4 268.5h4l12.2 25.5h-28.4zM1279.4 276.9l-5.6 11.7h11.2zM1279 269h4l12.2 25.5h-28.4zM1281 277.4l-5.6 11.7h11.2zM1280.5 269.9h4l12.2 25.5h-28.4zM1282.5 278.3l-5.6 11.7h11.2zM1282 269.5h4l12.2 25.5h-28.4zM1284 277.9l-5.6 11.7h11.2zM1283.5 269.2h4l12.2 25.5h-28.4zM1285.5 277.6l-5.6 11.7h11.2zM1285 271h4l12.2 25.5h-28.4zM1287 279.4l-5.6 11.7h11.2zM1286.5 270.8h4l12.2 25.5h-28.4zM1288.5 279.2l-5.6 11.7h11.2zM1288 271h4l12.2 25.5h-28.4zM1290 279.4l-5.6 11.7h11.2zM1289.5 270.5h4l12.2 25.5h-28.4zM1291.5 278.9l-5.6 11.7h11.2zM1290.9 271.7h4l12.2 25.5h-28.4zM1292.9 280.1l-5.6 11.7h11.2zM1292.4 271h4l12.2 25.5h-28.4zM1294.4 279.4l-5.6 11.7h11.2zM1293.8 272.2h4l12.2 25.5h-28.4zM1295.8 280.6l-5.6 11.7h11.2zM1295.3 270.9h4l12.2 25.5h-28.4zM1297.3 279.3l-5.6 11.7h11.2zM1296.7 271.1h4l12.2 25.5h-28.4zM1298.7 279.5l-5.6 11.7h11.2zM1298.2 272h4l12.2 25.5h-28.4zM1300.2 280.4l-5.6 11.7h11.2zM1299.6 271.5h4l12.2 25.5h-28.4zM1301.6 279.9l-5.6 11.7h11.2zM1301 272.7h4l12.2 25.5h-28.4zM1303 281.1l-5.6 11.7h11.2zM1302.4 272.6h4l12.2 25.5h-28.4zM1304.4 281l-5.6 11.7h11.2zM1303.8 271.8h4l12.2 25.5h-28.4zM1305.8 280.2l-5.6 11.7h11.2zM1305.2 272.8h4l12.2 25.5h-28.4zM1307.2 281.2l-5.6 11.7h11.2zM1306.6 272.6h4l12.2 25.5h-28.4zM1308.6 281l-5.6 11.7h11.2zM1307.9 273.8h4l12.2 25.5h-28.4zM1309.9 282.2l-5.6 11.7h11.2zM1309.3 272.6h4l12.2 25.5h-28.4zM1311.3 281l-5.6 11.7h11.2zM1310.7 273h4l12.2 25.5h-28.4zM1312.7 281.4l-5.6 11.7h11.2zM1312 274.6h4l12.2 25.5h-28.4zM1314 283l-5.6 11.7h11.2zM1313.4 275.7h4l12.2 25.5h-28.4zM1315.4 284.1l-5.6 11.7h11.2zM1314.7 275.6h4l12.2 25.5h-28.4zM1316.7 284l-5.6 11.7h11.2zM1316.1 274h4l12.2 25.5h-28.4zM1318.1 282.4l-5.6 11.7h11.2zM1317.4 274.3h4l12.2 25.5h-28.4zM1319.4 282.7l-5.6 11.7h11.2zM1318.7 275.7h4l12.2 25.5h-28.4zM1320.7 284.1l-5.6 11.7h11.2zM1320 274.3h4l12.2 25.5h-28.4zM1322 282.7l-5.6 11.7h11.2zM1321.3 273.6h4l12.2 25.5h-28.4zM1323.3 282l-5.6 11.7h11.2zM1322.6 274.8h4l12.2 25.5h-28.4zM1324.6 283.2l-5.6 11.7h11.2zM1323.9 275.3h4l12.2 25.5h-28.4zM1325.9 283.7l-5.6 11.7h11.2zM1325.2 274.1h4l12.2 25.5h-28.4zM1327.2 282.5l-5.6 11.7h11.2zM1326.5 273.3h4l12.2 25.5h-28.4zM1328.5 281.7l-5.6 11.7h11.2zM1327.8 273.7h4l12.2 25.5h-28.4zM1329.8 282.1l-5.6 11.7h11.2zM1329.1 276.1h4l12.2 25.5h-28.4zM1331.1 284.5l-5.6 11.7h11.2zM1330.3 274.6h4l12.2 25.5h-28.4zM1332.3 283l-5.6 11.7h11.2zM1331.6 275.5h4l12.2 25.5h-28.4zM1333.6 283.9l-5.6 11.7h11.2zM1332.8 276h4l12.2 25.5h-28.4zM1334.8 284.4l-5.6 11.7h11.2zM1334.1 276.6h4l12.2 25.5h-28.4zM1336.1 285l-5.6 11.7h11.2zM1335.3 275.6h4l12.2 25.5h-28.4zM1337.3 284l-5.6 11.7h11.2zM1336.6 276.7h4l12.2 25.5h-28.4zM1338.6 285.1l-5.6 11.7h11.2zM1337.8 275.2h4l12.2 25.5h-28.4zM1339.8 283.6l-5.6 11.7h11.2zM1339 275.9h4l12.2 25.5h-28.4zM1341 284.3l-5.6 11.7h11.2zM1340.2 275.2h4l12.2 25.5h-28.4zM1342.2 283.6l-5.6 11.7h11.2zM1341.5 278.1h4l12.2 25.5h-28.4zM1343.5 286.5l-5.6 11.7h11.2zM1342.7 276.7h4l12.2 25.5h-28.4zM1344.7 285.1l-5.6 11.7h11.2zM1343.9 275.9h4l12.2 25.5h-28.4zM1345.9 284.3l-5.6 11.7h11.2zM1345.1 276.5h4l12.2 25.5h-28.4zM1347.1 284.9l-5.6 11.7h11.2zM1346.3 276.8h4l12.2 25.5h-28.4zM1348.3 285.2l-5.6 11.7h11.2zM1347.4 278.2h4l12.2 25.5h-28.4zM1349.4 286.6l-5.6 11.7h11.2zM1348.6 275.1h4l12.2 25.5h-28.4zM1350.6 283.5l-5.6 11.7h11.2zM1349.8 276h4l12.2 25.5h-28.4zM1351.8 284.4l-5.6 11.7h11.2zM1351 277h4l12.2 25.5h-28.4zM1353 285.4l-5.6 11.7h11.2zM1352.1 281.4h4l12.2 25.5h-28.4zM1354.1 289.8l-5.6 11.7h11.2zM1353.3 279.2h4l12.2 25.5h-28.4zM1355.3 287.6l-5.6 11.7h11.2zM1354.5 277.7h4l12.2 25.5h-28.4zM1356.5 286.1l-5.6 11.7h11.2zM1355.6 279.1h4l12.2 25.5h-28.4zM1357.6 287.5l-5.6 11.7h11.2zM1356.8 281.4h4l12.2 25.5h-28.4zM1358.8 289.8l-5.6 11.7h11.2zM1357.9 277.9h4l12.2 25.5h-28.4zM1359.9 286.3l-5.6 11.7h11.2zM1359 277.7h4l12.2 25.5h-28.4zM1361 286.1l-5.6 11.7h11.2zM1360.2 280.5h4l12.2 25.5h-28.4zM1362.2 288.9l-5.6 11.7h11.2zM1361.3 279.4h4l12.2 25.5h-28.4zM1363.3 287.8l-5.6 11.7h11.2zM1362.4 279.8h4l12.2 25.5h-28.4zM1364.4 288.2l-5.6 11.7h11.2zM1363.5 277.9h4l12.2 25.5h-28.4zM1365.5 286.3l-5.6 11.7h11.2zM1364.6 282.3h4l12.2 25.5h-28.4zM1366.6 290.7l-5.6 11.7h11.2zM1365.7 282h4l12.2 25.5h-28.4zM1367.7 290.4l-5.6 11.7h11.2zM1366.9 280.1h4l12.2 25.5h-28.4zM1368.9 288.5l-5.6 11.7h11.2zM1368 280.4h4l12.2 25.5h-28.4zM1370 288.8l-5.6 11.7h11.2zM1369 275.5h4l12.2 25.5h-28.4zM1371 283.9l-5.6 11.7h11.2zM1370.1 280.6h4l12.2 25.5h-28.4zM1372.1 289l-5.6 11.7h11.2zM1371.2 279.1h4l12.2 25.5h-28.4zM1373.2 287.5l-5.6 11.7h11.2zM1372.3 280.4h4l12.2 25.5h-28.4zM1374.3 288.8l-5.6 11.7h11.2zM1373.4 281h4l12.2 25.5h-28.4zM1375.4 289.4l-5.6 11.7h11.2zM1374.5 279.1h4l12.2 25.5h-28.4zM1376.5 287.5l-5.6 11.7h11.2zM1375.5 276.4h4l12.2 25.5h-28.4zM1377.5 284.8l-5.6 11.7h11.2z" fill="#231F20"/>
<polyline points="199.1,162.2 204.1,166.9 209.1,171.7 214.1,176.3 219.1,180.9 224.2,185.5 229.2,190 234.2,194.5 239.2,198.9 244.2,203.2 249.2,207.5 254.2,211.8 259.2,216 264.2,220.1 269.3,224.2 274.3,228.2 279.3,232.2 284.3,236.2 289.3,240.1 294.3,243.9 299.3,247.7 304.3,251.5 309.3,255.1 314.4,258.7 319.4,262.2 324.4,265.7 329.4,269 334.4,272.3 339.4,275.4 344.4,278.5 349.4,281.5 354.4,284.4 359.5,287.2 364.5,290 369.5,292.6 374.5,295.2 379.5,297.8 384.5,300.2 389.5,302.6 394.5,305 399.5,307.2 404.6,309.4 409.6,311.6 414.6,313.6 419.6,315.7 424.6,317.6 429.6,319.5 434.6,321.4 439.6,323.2 444.7,324.9 449.7,326.6 454.7,328.2 459.7,329.6 464.7,331 469.7,332.4 474.7,333.6 479.7,334.8 484.7,336 489.8,337.2 494.8,338.3 499.8,339.4 504.8,340.5 509.8,341.5 514.8,342.5 519.8,343.4 524.8,344.3 529.8,345.1 534.9,345.8 539.9,346.5 544.9,347.1 549.9,347.7 554.9,348.3 559.9,348.9 564.9,349.5 569.9,350 574.9,350.6 580,351.1 585,351.6 590,352.1 595,352.6 600,353.1 605,353.6 610,354 615,354.5 620,354.9 625.1,355.3 630.1,355.6 635.1,356 640.1,356.3 645.1,356.6" fill="none" stroke="#ED1C24" stroke-width="6.9" stroke-linecap="round" stroke-linejoin="round"/>
<polyline points="199.1,115.2 203.9,116.6 208.7,118 213.6,119.4 218.4,120.9 223.2,122.5 228,124.1 232.8,125.7 237.6,127.5 242.5,129.2 247.3,131 252.1,132.9 256.9,134.7 261.7,136.7 266.6,138.6 271.4,140.7 276.2,142.7 281,144.9 285.8,147.1 290.6,149.5 295.5,151.9 300.3,154.4 305.1,156.9 309.9,159.4 314.7,162 319.5,164.6 324.4,167.1 329.2,169.6 334,172.1 338.8,174.5 343.6,176.9 348.5,179.3 353.3,181.6 358.1,184 362.9,186.3 367.7,188.6 372.5,190.9 377.4,193.1 382.2,195.4 387,197.6 391.8,199.8 396.6,202 401.5,204.2 406.3,206.4 411.1,208.5 415.9,210.5 420.7,212.6 425.5,214.5 430.4,216.4 435.2,218.3 440,220 444.8,221.8 449.6,223.5 454.5,225.1 459.3,226.7 464.1,228.2 468.9,229.7 473.7,231.2 478.5,232.5 483.4,233.9 488.2,235.1 493,236.4 497.8,237.5 502.6,238.7 507.5,239.7 512.3,240.7 517.1,241.7 521.9,242.6 526.7,243.5 531.5,244.3 536.4,245.1 541.2,245.8 546,246.6 550.8,247.3 555.6,248.1 560.4,248.8 565.3,249.6 570.1,250.3 574.9,251 579.7,251.7 584.5,252.5 589.4,253.2 594.2,253.9 599,254.6 603.8,255.3 608.6,256 613.4,256.7 618.3,257.4 623.1,258 627.9,258.7" fill="none" stroke="#00A651" stroke-width="6.9" stroke-linecap="round" stroke-linejoin="round"/>
<polyline points="199.1,35 204.8,37.4 210.5,39.8 216.1,42.2 221.8,44.7 227.5,47.3 233.2,49.9 238.9,52.5 244.5,55.1 250.2,57.8 255.9,60.5 261.6,63.3 267.2,66.1 272.9,69 278.6,71.9 284.3,74.9 290,77.9 295.6,81 301.3,84.2 307,87.4 312.7,90.5 318.4,93.7 324,96.9 329.7,100 335.4,103 341.1,106 346.7,108.9 352.4,111.9 358.1,114.8 363.8,117.6 369.5,120.4 375.1,123.2 380.8,125.9 386.5,128.6 392.2,131.2 397.9,133.8 403.5,136.3 409.2,138.8 414.9,141.3 420.6,143.7 426.2,146.1 431.9,148.5 437.6,150.9 443.3,153.2 449,155.5 454.6,157.7 460.3,159.9 466,162 471.7,164.1 477.4,166.1 483,168 488.7,169.9 494.4,171.6 500.1,173.2 505.7,174.7 511.4,176.2 517.1,177.6 522.8,178.9 528.5,180.2 534.1,181.5 539.8,182.8 545.5,183.9 551.2,185.1 556.9,186.2 562.5,187.3 568.2,188.3 573.9,189.3 579.6,190.3 585.2,191.3 590.9,192.3 596.6,193.2 602.3,194.1 608,195 613.6,195.8 619.3,196.7 625,197.5 630.7,198.3 636.4,199 642,199.8 647.7,200.5 653.4,201.3 659.1,202 664.7,202.7 670.4,203.4 676.1,204 681.8,204.6 687.5,205.3 693.1,205.9 698.8,206.4 704.5,207" fill="none" stroke="#8C0A0E" stroke-width="6.9" stroke-linecap="round" stroke-linejoin="round"/>
<polyline points="645.1,356.6 653.3,356.7 661.6,356.8 669.8,357 678.1,357.1 686.3,357.3 694.6,357.5 702.8,357.7 711.1,357.9 719.3,358.2 727.6,358.5 735.8,358.8 744.1,359.1 752.3,359.4 760.5,359.8 768.8,360.2 777,360.7 785.3,361.2 793.5,361.7 801.8,362.2 810,362.7 818.3,363.3 826.5,363.9 834.8,364.5 843,365.2 851.3,365.8 859.5,366.5 867.7,367.3 876,368 884.2,368.8 892.5,369.6 900.7,370.5 909,371.4 917.2,372.3 925.5,373.2 933.7,374.2 942,375.3 950.2,376.3 958.5,377.5 966.7,378.7 974.9,379.9 983.2,381.2 991.4,382.4 999.7,383.7 1007.9,385 1016.2,386.3 1024.4,387.6 1032.7,388.9 1040.9,390.1 1049.2,391.4 1057.4,392.7 1065.6,394.1 1073.9,395.4 1082.1,396.7 1090.4,398 1098.6,399.3 1106.9,400.7 1115.1,402 1123.4,403.3 1131.6,404.6 1139.9,405.9 1148.1,407.1 1156.4,408.4 1164.6,409.7 1172.8,410.9 1181.1,412.2 1189.3,413.5 1197.6,414.8 1205.8,416.1 1214.1,417.4 1222.3,418.6 1230.6,419.9 1238.8,421.1 1247.1,422.3 1255.3,423.4 1263.6,424.4 1271.8,425.5 1280,426.4 1288.3,427.4 1296.5,428.2 1304.8,429.1 1313,429.9 1321.3,430.7 1329.5,431.5 1337.8,432.3 1346,433 1354.3,433.7 1362.5,434.3 1370.8,435 1379,435.5" fill="none" stroke="#2E3192" stroke-width="5.5" stroke-linecap="butt" stroke-linejoin="round"/>
<polyline points="627.9,258.7 636.3,258.8 644.8,258.9 653.2,259.1 661.7,259.2 670.1,259.4 678.5,259.6 687,259.8 695.4,260 703.9,260.2 712.3,260.4 720.7,260.7 729.2,260.9 737.6,261.2 746.1,261.4 754.5,261.7 762.9,262.1 771.4,262.4 779.8,262.8 788.2,263.2 796.7,263.6 805.1,264 813.6,264.5 822,265 830.4,265.6 838.9,266.2 847.3,266.9 855.8,267.6 864.2,268.3 872.6,269.1 881.1,269.9 889.5,270.8 898,271.6 906.4,272.6 914.8,273.5 923.3,274.5 931.7,275.5 940.2,276.5 948.6,277.6 957,278.7 965.5,279.9 973.9,281.1 982.4,282.4 990.8,283.7 999.2,285.1 1007.7,286.4 1016.1,287.9 1024.5,289.3 1033,290.8 1041.4,292.3 1049.9,293.8 1058.3,295.4 1066.7,297 1075.2,298.6 1083.6,300.2 1092.1,301.9 1100.5,303.6 1108.9,305.3 1117.4,307 1125.8,308.7 1134.3,310.3 1142.7,312 1151.1,313.7 1159.6,315.3 1168,316.9 1176.5,318.4 1184.9,319.9 1193.3,321.3 1201.8,322.7 1210.2,324 1218.7,325.2 1227.1,326.4 1235.5,327.6 1244,328.7 1252.4,329.9 1260.8,331 1269.3,332.1 1277.7,333.2 1286.2,334.3 1294.6,335.4 1303,336.4 1311.5,337.4 1319.9,338.4 1328.4,339.3 1336.8,340.3 1345.2,341.2 1353.7,342 1362.1,342.9 1370.6,343.7 1379,344.4" fill="none" stroke="#EC008C" stroke-width="5.5" stroke-linecap="butt" stroke-linejoin="round"/>
<polyline points="704.5,207 712,207.1 719.6,207.2 727.1,207.3 734.6,207.5 742.1,207.7 749.7,208 757.2,208.2 764.7,208.5 772.3,208.9 779.8,209.3 787.3,209.6 794.8,210.1 802.4,210.5 809.9,211 817.4,211.5 824.9,212.1 832.5,212.7 840,213.4 847.5,214.1 855.1,215 862.6,215.8 870.1,216.7 877.6,217.7 885.2,218.7 892.7,219.7 900.2,220.7 907.8,221.7 915.3,222.8 922.8,223.8 930.3,224.9 937.9,226 945.4,227 952.9,228.1 960.5,229.2 968,230.3 975.5,231.5 983,232.6 990.6,233.8 998.1,235.1 1005.6,236.3 1013.2,237.6 1020.7,238.9 1028.2,240.3 1035.7,241.7 1043.3,243.1 1050.8,244.5 1058.3,246 1065.8,247.5 1073.4,249.1 1080.9,250.7 1088.4,252.3 1096,253.9 1103.5,255.5 1111,257.1 1118.5,258.6 1126.1,260.1 1133.6,261.5 1141.1,262.8 1148.7,264.1 1156.2,265.4 1163.7,266.6 1171.2,267.8 1178.8,269 1186.3,270.1 1193.8,271.2 1201.4,272.3 1208.9,273.4 1216.4,274.4 1223.9,275.5 1231.5,276.5 1239,277.6 1246.5,278.6 1254.1,279.6 1261.6,280.6 1269.1,281.6 1276.6,282.5 1284.2,283.5 1291.7,284.4 1299.2,285.3 1306.7,286.2 1314.3,287.1 1321.8,288 1329.3,288.8 1336.9,289.6 1344.4,290.4 1351.9,291.1 1359.4,291.9 1367,292.6 1374.5,293.3" fill="none" stroke="#006633" stroke-width="5.5" stroke-linecap="butt" stroke-linejoin="round"/>
<path d="M199.1 846.3v52M186.1 846.3h26M186.1 898.3h26M275.7 957.9v30M262.7 957.9h26M262.7 987.9h26M335.2 1023.4v24M322.2 1023.4h26M322.2 1047.4h26M383.8 1057.3v16M370.8 1057.3h26M370.8 1073.3h26M424.8 1081.6v12M411.8 1081.6h26M411.8 1093.6h26M460.4 1095.7v10M447.4 1095.7h26M447.4 1105.7h26M491.8 1107.6v8M478.8 1107.6h26M478.8 1115.6h26M519.9 1110.3v8M506.9 1110.3h26M506.9 1118.3h26M545.3 1114.4v8M532.3 1114.4h26M532.3 1122.4h26M568.5 1119.3v3.8M555.5 1119.3h26M555.5 1123.1h26M589.8 1121.5v3.7M576.8 1121.5h26M576.8 1125.2h26M609.5 1123.6v3.5M596.5 1123.6h26M596.5 1127.1h26M627.9 1125.2v3.4M614.9 1125.2h26M614.9 1128.6h26M645.1 1126.6v3.3M632.1 1126.6h26M632.1 1129.9h26M661.3 1127.4v3.2M648.3 1127.4h26M648.3 1130.6h26M676.5 1128.7v3.2M663.5 1128.7h26M663.5 1131.9h26M690.9 1129.2v3.1M677.9 1129.2h26M677.9 1132.3h26M704.6 1132.4v3.1M691.6 1132.4h26M691.6 1135.5h26M717.6 1132.8v3M704.6 1132.8h26M704.6 1135.9h26M730 1132.8v3M717 1132.8h26M717 1135.8h26M741.8 1132.8v3M728.8 1132.8h26M728.8 1135.8h26M753.1 1133.3v2.9M740.1 1133.3h26M740.1 1136.2h26M764 1133.6v2.9M751 1133.6h26M751 1136.5h26M774.5 1134v2.9M761.5 1134h26M761.5 1136.9h26M784.5 1134.4v2.9M771.5 1134.4h26M771.5 1137.3h26M794.2 1134.4v2.9M781.2 1134.4h26M781.2 1137.3h26M803.6 1135.1v2.9M790.6 1135.1h26M790.6 1138h26M812.6 1135.2v2.9M799.6 1135.2h26M799.6 1138h26M821.3 1135.8v2.8M808.3 1135.8h26M808.3 1138.6h26M829.8 1136v2.8M816.8 1136h26M816.8 1138.9h26M838 1136.4v2.8M825 1136.4h26M825 1139.2h26M845.9 1136.8v2.8M832.9 1136.8h26M832.9 1139.6h26M853.7 1137.1v2.8M840.7 1137.1h26M840.7 1139.9h26M861.2 1137.4v2.8M848.2 1137.4h26M848.2 1140.3h26M868.5 1137.7v2.8M855.5 1137.7h26M855.5 1140.5h26M875.6 1138.3v2.8M862.6 1138.3h26M862.6 1141.1h26M882.5 1139v2.8M869.5 1139h26M869.5 1141.8h26M889.2 1139.4v2.8M876.2 1139.4h26M876.2 1142.2h26M895.8 1139.7v2.8M882.8 1139.7h26M882.8 1142.5h26M902.2 1140v2.8M889.2 1140h26M889.2 1142.8h26M908.5 1140.2v2.8M895.5 1140.2h26M895.5 1143h26M914.6 1141v2.8M901.6 1141h26M901.6 1143.8h26M920.6 1141.2v2.8M907.6 1141.2h26M907.6 1144h26M926.5 1141.6v2.8M913.5 1141.6h26M913.5 1144.4h26M932.2 1142v2.8M919.2 1142h26M919.2 1144.8h26M937.8 1142.5v2.8M924.8 1142.5h26M924.8 1145.3h26M943.3 1142.9v2.8M930.3 1142.9h26M930.3 1145.7h26M948.7 1143.3v2.8M935.7 1143.3h26M935.7 1146.1h26M954 1143.6v2.8M941 1143.6h26M941 1146.4h26M959.1 1144.2v2.8M946.1 1144.2h26M946.1 1147h26M964.2 1145v2.8M951.2 1145h26M951.2 1147.8h26M969.2 1145.1v2.8M956.2 1145.1h26M956.2 1147.9h26M974.1 1145.6v2.8M961.1 1145.6h26M961.1 1148.4h26M978.9 1146.2v2.8M965.9 1146.2h26M965.9 1149h26M983.6 1146.7v2.8M970.6 1146.7h26M970.6 1149.5h26M988.2 1146.9v2.8M975.2 1146.9h26M975.2 1149.7h26M992.8 1147.6v2.8M979.8 1147.6h26M979.8 1150.4h26M997.3 1148.3v2.8M984.3 1148.3h26M984.3 1151.1h26M1001.7 1148.7v2.8M988.7 1148.7h26M988.7 1151.5h26M1006 1149.2v2.8M993 1149.2h26M993 1152h26M1010.3 1149.9v2.8M997.3 1149.9h26M997.3 1152.7h26M1014.5 1150.1v2.8M1001.5 1150.1h26M1001.5 1152.9h26M1018.6 1150.8v2.8M1005.6 1150.8h26M1005.6 1153.6h26M1022.7 1151.2v2.8M1009.7 1151.2h26M1009.7 1154h26M1026.7 1152v2.8M1013.7 1152h26M1013.7 1154.8h26M1030.6 1152v2.8M1017.6 1152h26M1017.6 1154.8h26M1034.5 1152.8v2.8M1021.5 1152.8h26M1021.5 1155.6h26M1038.3 1153.3v2.8M1025.3 1153.3h26M1025.3 1156.1h26M1042.1 1154v2.8M1029.1 1154h26M1029.1 1156.8h26M1045.9 1154.5v2.8M1032.9 1154.5h26M1032.9 1157.3h26M1049.5 1155.2v2.8M1036.5 1155.2h26M1036.5 1158h26M1053.2 1155.2v2.8M1040.2 1155.2h26M1040.2 1158h26M1056.7 1156.1v2.8M1043.7 1156.1h26M1043.7 1158.9h26M1060.3 1156.4v2.8M1047.3 1156.4h26M1047.3 1159.2h26M1063.7 1156.9v2.8M1050.7 1156.9h26M1050.7 1159.7h26M1067.2 1157.6v2.8M1054.2 1157.6h26M1054.2 1160.4h26M1070.6 1157.8v2.8M1057.6 1157.8h26M1057.6 1160.6h26M1073.9 1158.1v2.8M1060.9 1158.1h26M1060.9 1160.9h26M1077.2 1158.8v2.8M1064.2 1158.8h26M1064.2 1161.6h26M1080.5 1159.1v2.8M1067.5 1159.1h26M1067.5 1161.9h26M1083.7 1159.7v2.8M1070.7 1159.7h26M1070.7 1162.5h26M1086.9 1160.4v2.8M1073.9 1160.4h26M1073.9 1163.2h26M1090.1 1160.8v2.8M1077.1 1160.8h26M1077.1 1163.6h26M1093.2 1161.5v2.8M1080.2 1161.5h26M1080.2 1164.3h26M1096.3 1161.7v2.8M1083.3 1161.7h26M1083.3 1164.5h26M1099.3 1161.9v2.8M1086.3 1161.9h26M1086.3 1164.7h26M1102.3 1162.5v2.8M1089.3 1162.5h26M1089.3 1165.3h26M1105.3 1162.9v2.8M1092.3 1162.9h26M1092.3 1165.7h26M1108.3 1163.3v2.8M1095.3 1163.3h26M1095.3 1166.1h26M1111.2 1164v2.8M1098.2 1164h26M1098.2 1166.8h26M1114 1164.2v2.8M1101 1164.2h26M1101 1167h26M1116.9 1164.4v2.8M1103.9 1164.4h26M1103.9 1167.2h26M1119.7 1165.4v2.8M1106.7 1165.4h26M1106.7 1168.2h26M1122.5 1165.6v2.8M1109.5 1165.6h26M1109.5 1168.4h26M1125.3 1166.2v2.8M1112.3 1166.2h26M1112.3 1169h26M1128 1166.5v2.8M1115 1166.5h26M1115 1169.3h26M1130.7 1167.1v2.8M1117.7 1167.1h26M1117.7 1169.9h26M1133.4 1167.4v2.8M1120.4 1167.4h26M1120.4 1170.2h26M1136 1168v2.8M1123 1168h26M1123 1170.8h26M1138.7 1168.3v2.8M1125.7 1168.3h26M1125.7 1171.1h26M1141.3 1168.7v2.8M1128.3 1168.7h26M1128.3 1171.5h26M1143.8 1169.1v2.8M1130.8 1169.1h26M1130.8 1171.9h26M1146.4 1169.1v2.8M1133.4 1169.1h26M1133.4 1171.9h26M1148.9 1169.8v2.8M1135.9 1169.8h26M1135.9 1172.6h26M1151.4 1170.1v2.8M1138.4 1170.1h26M1138.4 1172.9h26M1153.9 1170.6v2.8M1140.9 1170.6h26M1140.9 1173.4h26M1156.3 1170.7v2.8M1143.3 1170.7h26M1143.3 1173.5h26M1158.8 1171.7v2.8M1145.8 1171.7h26M1145.8 1174.5h26M1161.2 1171.8v2.8M1148.2 1171.8h26M1148.2 1174.6h26M1163.6 1171.8v2.8M1150.6 1171.8h26M1150.6 1174.6h26M1165.9 1172.1v2.8M1152.9 1172.1h26M1152.9 1174.9h26M1168.3 1172.8v2.8M1155.3 1172.8h26M1155.3 1175.6h26M1170.6 1173.1v2.8M1157.6 1173.1h26M1157.6 1175.9h26M1172.9 1173.3v2.8M1159.9 1173.3h26M1159.9 1176.1h26M1175.2 1173.9v2.8M1162.2 1173.9h26M1162.2 1176.7h26M1177.5 1174v2.8M1164.5 1174h26M1164.5 1176.8h26M1179.7 1174.6v2.8M1166.7 1174.6h26M1166.7 1177.4h26M1182 1174.6v2.8M1169 1174.6h26M1169 1177.4h26M1184.2 1175.1v2.8M1171.2 1175.1h26M1171.2 1177.9h26M1186.4 1175.7v2.8M1173.4 1175.7h26M1173.4 1178.5h26M1188.5 1176.4v2.8M1175.5 1176.4h26M1175.5 1179.2h26M1190.7 1175.7v2.8M1177.7 1175.7h26M1177.7 1178.5h26M1192.8 1176.2v2.8M1179.8 1176.2h26M1179.8 1179h26M1195 1176.3v2.8M1182 1176.3h26M1182 1179.1h26M1197.1 1177v2.8M1184.1 1177h26M1184.1 1179.8h26M1199.2 1176.8v2.8M1186.2 1176.8h26M1186.2 1179.6h26M1201.2 1177.2v2.8M1188.2 1177.2h26M1188.2 1180h26M1203.3 1177.6v2.8M1190.3 1177.6h26M1190.3 1180.4h26M1205.3 1177.5v2.8M1192.3 1177.5h26M1192.3 1180.4h26M1207.4 1177.8v2.8M1194.4 1177.8h26M1194.4 1180.6h26M1209.4 1178.2v2.8M1196.4 1178.2h26M1196.4 1181h26M1211.4 1177.9v2.8M1198.4 1177.9h26M1198.4 1180.7h26M1213.3 1178.3v2.8M1200.3 1178.3h26M1200.3 1181.1h26M1215.3 1178.9v2.8M1202.3 1178.9h26M1202.3 1181.7h26M1217.3 1179.3v2.8M1204.3 1179.3h26M1204.3 1182.1h26M1219.2 1179.4v2.8M1206.2 1179.4h26M1206.2 1182.2h26M1221.1 1179v2.8M1208.1 1179h26M1208.1 1181.8h26M1223 1179.7v2.8M1210 1179.7h26M1210 1182.5h26M1224.9 1180.3v2.8M1211.9 1180.3h26M1211.9 1183.1h26M1226.8 1180.4v2.8M1213.8 1180.4h26M1213.8 1183.2h26M1228.7 1180.4v2.8M1215.7 1180.4h26M1215.7 1183.2h26M1230.5 1180.3v2.8M1217.5 1180.3h26M1217.5 1183.1h26M1232.4 1181v2.8M1219.4 1181h26M1219.4 1183.9h26M1234.2 1180.8v2.8M1221.2 1180.8h26M1221.2 1183.6h26M1236 1180.7v2.8M1223 1180.7h26M1223 1183.6h26M1237.8 1181.1v2.8M1224.8 1181.1h26M1224.8 1183.9h26M1239.6 1182.1v2.8M1226.6 1182.1h26M1226.6 1184.9h26M1241.4 1181.8v2.8M1228.4 1181.8h26M1228.4 1184.6h26M1243.2 1182.4v2.8M1230.2 1182.4h26M1230.2 1185.2h26M1244.9 1181.9v2.8M1231.9 1181.9h26M1231.9 1184.7h26M1246.7 1182.6v2.8M1233.7 1182.6h26M1233.7 1185.5h26M1248.4 1182.2v2.8M1235.4 1182.2h26M1235.4 1185h26M1250.2 1182.5v2.8M1237.2 1182.5h26M1237.2 1185.3h26M1251.9 1183.8v2.8M1238.9 1183.8h26M1238.9 1186.7h26M1253.6 1183.2v2.8M1240.6 1183.2h26M1240.6 1186.1h26M1255.3 1182.8v2.8M1242.3 1182.8h26M1242.3 1185.7h26M1256.9 1183.2v2.8M1243.9 1183.2h26M1243.9 1186h26M1258.6 1183.5v2.8M1245.6 1183.5h26M1245.6 1186.4h26M1260.3 1184.1v2.8M1247.3 1184.1h26M1247.3 1186.9h26M1261.9 1183.4v2.8M1248.9 1183.4h26M1248.9 1186.3h26M1263.6 1183v2.9M1250.6 1183h26M1250.6 1185.8h26M1265.2 1183.8v2.9M1252.2 1183.8h26M1252.2 1186.7h26M1266.8 1184.1v2.9M1253.8 1184.1h26M1253.8 1187h26M1268.4 1184.3v2.9M1255.4 1184.3h26M1255.4 1187.2h26M1270 1185.1v2.9M1257 1185.1h26M1257 1188h26M1271.6 1184.7v2.9M1258.6 1184.7h26M1258.6 1187.6h26M1273.2 1185.1v2.9M1260.2 1185.1h26M1260.2 1188h26M1274.8 1184.2v2.9M1261.8 1184.2h26M1261.8 1187.1h26M1276.3 1185.4v2.9M1263.3 1185.4h26M1263.3 1188.4h26M1277.9 1186.3v2.9M1264.9 1186.3h26M1264.9 1189.2h26M1279.4 1185.7v2.9M1266.4 1185.7h26M1266.4 1188.6h26M1281 1185.5v2.9M1268 1185.5h26M1268 1188.4h26M1282.5 1185.6v3M1269.5 1185.6h26M1269.5 1188.5h26M1284 1186.7v3M1271 1186.7h26M1271 1189.7h26M1285.5 1185.1v3M1272.5 1185.1h26M1272.5 1188.1h26M1287 1185.8v3M1274 1185.8h26M1274 1188.8h26M1288.5 1186.3v3M1275.5 1186.3h26M1275.5 1189.3h26M1290 1186.6v3.1M1277 1186.6h26M1277 1189.6h26M1291.5 1185.9v3.1M1278.5 1185.9h26M1278.5 1189h26M1292.9 1186.5v3.1M1279.9 1186.5h26M1279.9 1189.6h26M1294.4 1186.2v3.1M1281.4 1186.2h26M1281.4 1189.3h26M1295.8 1186.6v3.2M1282.8 1186.6h26M1282.8 1189.8h26M1297.3 1186.5v3.2M1284.3 1186.5h26M1284.3 1189.7h26M1298.7 1185.9v3.2M1285.7 1185.9h26M1285.7 1189.1h26M1300.2 1186.8v3.3M1287.2 1186.8h26M1287.2 1190.1h26M1301.6 1187.6v3.3M1288.6 1187.6h26M1288.6 1190.9h26M1303 1186.3v3.3M1290 1186.3h26M1290 1189.6h26M1304.4 1186.9v3.4M1291.4 1186.9h26M1291.4 1190.3h26M1305.8 1187.7v3.4M1292.8 1187.7h26M1292.8 1191.2h26M1307.2 1186.4v3.5M1294.2 1186.4h26M1294.2 1189.9h26M1308.6 1187.5v3.6M1295.6 1187.5h26M1295.6 1191.1h26M1309.9 1186.5v3.6M1296.9 1186.5h26M1296.9 1190.2h26M1311.3 1188.5v3.7M1298.3 1188.5h26M1298.3 1192.2h26M1312.7 1189.6v3.8M1299.7 1189.6h26M1299.7 1193.4h26M1314 1189.4v3.9M1301 1189.4h26M1301 1193.3h26M1315.4 1187.5v4M1302.4 1187.5h26M1302.4 1191.4h26M1316.7 1188.4v4M1303.7 1188.4h26M1303.7 1192.5h26M1318.1 1187.9v4.2M1305.1 1187.9h26M1305.1 1192.1h26M1319.4 1187.9v4.3M1306.4 1187.9h26M1306.4 1192.2h26M1320.7 1189.4v4.4M1307.7 1189.4h26M1307.7 1193.8h26M1322 1186.6v4.5M1309 1186.6h26M1309 1191.1h26M1323.3 1189v4.7M1310.3 1189h26M1310.3 1193.7h26M1324.6 1187.9v4.8M1311.6 1187.9h26M1311.6 1192.7h26M1325.9 1189.4v5M1312.9 1189.4h26M1312.9 1194.4h26M1327.2 1188.2v5.1M1314.2 1188.2h26M1314.2 1193.3h26M1328.5 1187.3v5.3M1315.5 1187.3h26M1315.5 1192.6h26M1329.8 1188.3v5.5M1316.8 1188.3h26M1316.8 1193.8h26M1331.1 1188.8v5.7M1318.1 1188.8h26M1318.1 1194.5h26M1332.3 1188v6M1319.3 1188h26M1319.3 1194h26M1333.6 1188.5v6.2M1320.6 1188.5h26M1320.6 1194.7h26M1334.8 1187.3v6.5M1321.8 1187.3h26M1321.8 1193.8h26M1336.1 1185.3v6.8M1323.1 1185.3h26M1323.1 1192.1h26M1337.3 1188.8v7.1M1324.3 1188.8h26M1324.3 1195.9h26M1338.6 1188.5v7.4M1325.6 1188.5h26M1325.6 1196h26M1339.8 1187.8v7.8M1326.8 1187.8h26M1326.8 1195.6h26M1341 1187.6v8.2M1328 1187.6h26M1328 1195.7h26M1342.2 1188.7v8.6M1329.2 1188.7h26M1329.2 1197.3h26M1343.5 1186.6v9M1330.5 1186.6h26M1330.5 1195.7h26M1344.7 1186.2v9.5M1331.7 1186.2h26M1331.7 1195.6h26M1345.9 1186.7v10M1332.9 1186.7h26M1332.9 1196.6h26M1347.1 1188.3v10.5M1334.1 1188.3h26M1334.1 1198.9h26M1348.3 1184.6v11.1M1335.3 1184.6h26M1335.3 1195.7h26M1349.4 1188v11.7M1336.4 1188h26M1336.4 1199.7h26M1350.6 1185.2v12.3M1337.6 1185.2h26M1337.6 1197.5h26M1351.8 1184.2v13M1338.8 1184.2h26M1338.8 1197.3h26M1353 1187.3v13.8M1340 1187.3h26M1340 1201.1h26M1354.1 1185v14.6M1341.1 1185h26M1341.1 1199.6h26M1355.3 1182.9v15.4M1342.3 1182.9h26M1342.3 1198.3h26M1356.5 1183.9v16.4M1343.5 1183.9h26M1343.5 1200.3h26M1357.6 1185.5v17.3M1344.6 1185.5h26M1344.6 1202.8h26M1358.8 1185.5v18.4M1345.8 1185.5h26M1345.8 1203.9h26M1359.9 1182.5v19.5M1346.9 1182.5h26M1346.9 1201.9h26M1361 1183.3v20.6M1348 1183.3h26M1348 1203.9h26M1362.2 1183.3v21.9M1349.2 1183.3h26M1349.2 1205.1h26M1363.3 1180.4v23.2M1350.3 1180.4h26M1350.3 1203.6h26M1364.4 1181.4v24.6M1351.4 1181.4h26M1351.4 1206.1h26M1365.5 1180.1v26.2M1352.5 1180.1h26M1352.5 1206.3h26M1366.6 1178.5v27.8M1353.6 1178.5h26M1353.6 1206.3h26M1367.7 1177.8v29.5M1354.7 1177.8h26M1354.7 1207.3h26M1368.9 1177.9v31.3M1355.9 1177.9h26M1355.9 1209.2h26M1370 1176.9v33.3M1357 1176.9h26M1357 1210.2h26M1371 1174.9v35.3M1358 1174.9h26M1358 1210.2h26M1372.1 1174.1v37.5M1359.1 1174.1h26M1359.1 1211.6h26M1373.2 1175.9v39.9M1360.2 1175.9h26M1360.2 1215.8h26M1374.3 1173v42.4M1361.3 1173h26M1361.3 1215.4h26M1375.4 1173.1v45M1362.4 1173.1h26M1362.4 1218.1h26M1376.5 1172.5v47.8M1363.5 1172.5h26M1363.5 1220.3h26M1377.5 1169.8v50.8M1364.5 1169.8h26M1364.5 1220.6h26" fill="none" stroke="#231F20" stroke-width="4.6"/>
<path d="M187.5 872.3a11.6 11.6 0 1 0 23.2 0a11.6 11.6 0 1 0 -23.2 0M264.1 972.9a11.6 11.6 0 1 0 23.2 0a11.6 11.6 0 1 0 -23.2 0M323.6 1035.4a11.6 11.6 0 1 0 23.2 0a11.6 11.6 0 1 0 -23.2 0M372.2 1065.3a11.6 11.6 0 1 0 23.2 0a11.6 11.6 0 1 0 -23.2 0M413.2 1087.6a11.6 11.6 0 1 0 23.2 0a11.6 11.6 0 1 0 -23.2 0M448.8 1100.7a11.6 11.6 0 1 0 23.2 0a11.6 11.6 0 1 0 -23.2 0M480.2 1111.6a11.6 11.6 0 1 0 23.2 0a11.6 11.6 0 1 0 -23.2 0M508.3 1114.3a11.6 11.6 0 1 0 23.2 0a11.6 11.6 0 1 0 -23.2 0M533.7 1118.4a11.6 11.6 0 1 0 23.2 0a11.6 11.6 0 1 0 -23.2 0M556.9 1121.2a11.6 11.6 0 1 0 23.2 0a11.6 11.6 0 1 0 -23.2 0M578.2 1123.3a11.6 11.6 0 1 0 23.2 0a11.6 11.6 0 1 0 -23.2 0M597.9 1125.3a11.6 11.6 0 1 0 23.2 0a11.6 11.6 0 1 0 -23.2 0M616.3 1126.9a11.6 11.6 0 1 0 23.2 0a11.6 11.6 0 1 0 -23.2 0M633.5 1128.3a11.6 11.6 0 1 0 23.2 0a11.6 11.6 0 1 0 -23.2 0M649.7 1129a11.6 11.6 0 1 0 23.2 0a11.6 11.6 0 1 0 -23.2 0M664.9 1130.3a11.6 11.6 0 1 0 23.2 0a11.6 11.6 0 1 0 -23.2 0M679.3 1130.7a11.6 11.6 0 1 0 23.2 0a11.6 11.6 0 1 0 -23.2 0M693 1134a11.6 11.6 0 1 0 23.2 0a11.6 11.6 0 1 0 -23.2 0M706 1134.4a11.6 11.6 0 1 0 23.2 0a11.6 11.6 0 1 0 -23.2 0M718.4 1134.3a11.6 11.6 0 1 0 23.2 0a11.6 11.6 0 1 0 -23.2 0M730.2 1134.3a11.6 11.6 0 1 0 23.2 0a11.6 11.6 0 1 0 -23.2 0M741.5 1134.8a11.6 11.6 0 1 0 23.2 0a11.6 11.6 0 1 0 -23.2 0M752.4 1135a11.6 11.6 0 1 0 23.2 0a11.6 11.6 0 1 0 -23.2 0M762.9 1135.4a11.6 11.6 0 1 0 23.2 0a11.6 11.6 0 1 0 -23.2 0M772.9 1135.8a11.6 11.6 0 1 0 23.2 0a11.6 11.6 0 1 0 -23.2 0M782.6 1135.8a11.6 11.6 0 1 0 23.2 0a11.6 11.6 0 1 0 -23.2 0M792 1136.5a11.6 11.6 0 1 0 23.2 0a11.6 11.6 0 1 0 -23.2 0M801 1136.6a11.6 11.6 0 1 0 23.2 0a11.6 11.6 0 1 0 -23.2 0M809.7 1137.2a11.6 11.6 0 1 0 23.2 0a11.6 11.6 0 1 0 -23.2 0M818.2 1137.5a11.6 11.6 0 1 0 23.2 0a11.6 11.6 0 1 0 -23.2 0M826.4 1137.8a11.6 11.6 0 1 0 23.2 0a11.6 11.6 0 1 0 -23.2 0M834.3 1138.2a11.6 11.6 0 1 0 23.2 0a11.6 11.6 0 1 0 -23.2 0M842.1 1138.5a11.6 11.6 0 1 0 23.2 0a11.6 11.6 0 1 0 -23.2 0M849.6 1138.8a11.6 11.6 0 1 0 23.2 0a11.6 11.6 0 1 0 -23.2 0M856.9 1139.1a11.6 11.6 0 1 0 23.2 0a11.6 11.6 0 1 0 -23.2 0M864 1139.7a11.6 11.6 0 1 0 23.2 0a11.6 11.6 0 1 0 -23.2 0M870.9 1140.4a11.6 11.6 0 1 0 23.2 0a11.6 11.6 0 1 0 -23.2 0M877.6 1140.8a11.6 11.6 0 1 0 23.2 0a11.6 11.6 0 1 0 -23.2 0M884.2 1141.1a11.6 11.6 0 1 0 23.2 0a11.6 11.6 0 1 0 -23.2 0M890.6 1141.4a11.6 11.6 0 1 0 23.2 0a11.6 11.6 0 1 0 -23.2 0M896.9 1141.6a11.6 11.6 0 1 0 23.2 0a11.6 11.6 0 1 0 -23.2 0M903 1142.4a11.6 11.6 0 1 0 23.2 0a11.6 11.6 0 1 0 -23.2 0M909 1142.6a11.6 11.6 0 1 0 23.2 0a11.6 11.6 0 1 0 -23.2 0M914.9 1143a11.6 11.6 0 1 0 23.2 0a11.6 11.6 0 1 0 -23.2 0M920.6 1143.4a11.6 11.6 0 1 0 23.2 0a11.6 11.6 0 1 0 -23.2 0M926.2 1143.9a11.6 11.6 0 1 0 23.2 0a11.6 11.6 0 1 0 -23.2 0M931.7 1144.3a11.6 11.6 0 1 0 23.2 0a11.6 11.6 0 1 0 -23.2 0M937.1 1144.7a11.6 11.6 0 1 0 23.2 0a11.6 11.6 0 1 0 -23.2 0M942.4 1145a11.6 11.6 0 1 0 23.2 0a11.6 11.6 0 1 0 -23.2 0M947.5 1145.6a11.6 11.6 0 1 0 23.2 0a11.6 11.6 0 1 0 -23.2 0M952.6 1146.4a11.6 11.6 0 1 0 23.2 0a11.6 11.6 0 1 0 -23.2 0M957.6 1146.5a11.6 11.6 0 1 0 23.2 0a11.6 11.6 0 1 0 -23.2 0M962.5 1147a11.6 11.6 0 1 0 23.2 0a11.6 11.6 0 1 0 -23.2 0M967.3 1147.6a11.6 11.6 0 1 0 23.2 0a11.6 11.6 0 1 0 -23.2 0M972 1148.1a11.6 11.6 0 1 0 23.2 0a11.6 11.6 0 1 0 -23.2 0M976.6 1148.3a11.6 11.6 0 1 0 23.2 0a11.6 11.6 0 1 0 -23.2 0M981.2 1149a11.6 11.6 0 1 0 23.2 0a11.6 11.6 0 1 0 -23.2 0M985.7 1149.7a11.6 11.6 0 1 0 23.2 0a11.6 11.6 0 1 0 -23.2 0M990.1 1150.1a11.6 11.6 0 1 0 23.2 0a11.6 11.6 0 1 0 -23.2 0M994.4 1150.6a11.6 11.6 0 1 0 23.2 0a11.6 11.6 0 1 0 -23.2 0M998.7 1151.3a11.6 11.6 0 1 0 23.2 0a11.6 11.6 0 1 0 -23.2 0M1002.9 1151.5a11.6 11.6 0 1 0 23.2 0a11.6 11.6 0 1 0 -23.2 0M1007 1152.2a11.6 11.6 0 1 0 23.2 0a11.6 11.6 0 1 0 -23.2 0M1011.1 1152.6a11.6 11.6 0 1 0 23.2 0a11.6 11.6 0 1 0 -23.2 0M1015.1 1153.4a11.6 11.6 0 1 0 23.2 0a11.6 11.6 0 1 0 -23.2 0M1019 1153.4a11.6 11.6 0 1 0 23.2 0a11.6 11.6 0 1 0 -23.2 0M1022.9 1154.2a11.6 11.6 0 1 0 23.2 0a11.6 11.6 0 1 0 -23.2 0M1026.7 1154.7a11.6 11.6 0 1 0 23.2 0a11.6 11.6 0 1 0 -23.2 0M1030.5 1155.4a11.6 11.6 0 1 0 23.2 0a11.6 11.6 0 1 0 -23.2 0M1034.3 1155.9a11.6 11.6 0 1 0 23.2 0a11.6 11.6 0 1 0 -23.2 0M1037.9 1156.6a11.6 11.6 0 1 0 23.2 0a11.6 11.6 0 1 0 -23.2 0M1041.6 1156.6a11.6 11.6 0 1 0 23.2 0a11.6 11.6 0 1 0 -23.2 0M1045.1 1157.5a11.6 11.6 0 1 0 23.2 0a11.6 11.6 0 1 0 -23.2 0M1048.7 1157.8a11.6 11.6 0 1 0 23.2 0a11.6 11.6 0 1 0 -23.2 0M1052.1 1158.3a11.6 11.6 0 1 0 23.2 0a11.6 11.6 0 1 0 -23.2 0M1055.6 1159a11.6 11.6 0 1 0 23.2 0a11.6 11.6 0 1 0 -23.2 0M1059 1159.2a11.6 11.6 0 1 0 23.2 0a11.6 11.6 0 1 0 -23.2 0M1062.3 1159.5a11.6 11.6 0 1 0 23.2 0a11.6 11.6 0 1 0 -23.2 0M1065.6 1160.2a11.6 11.6 0 1 0 23.2 0a11.6 11.6 0 1 0 -23.2 0M1068.9 1160.5a11.6 11.6 0 1 0 23.2 0a11.6 11.6 0 1 0 -23.2 0M1072.1 1161.1a11.6 11.6 0 1 0 23.2 0a11.6 11.6 0 1 0 -23.2 0M1075.3 1161.8a11.6 11.6 0 1 0 23.2 0a11.6 11.6 0 1 0 -23.2 0M1078.5 1162.2a11.6 11.6 0 1 0 23.2 0a11.6 11.6 0 1 0 -23.2 0M1081.6 1162.9a11.6 11.6 0 1 0 23.2 0a11.6 11.6 0 1 0 -23.2 0M1084.7 1163.1a11.6 11.6 0 1 0 23.2 0a11.6 11.6 0 1 0 -23.2 0M1087.7 1163.3a11.6 11.6 0 1 0 23.2 0a11.6 11.6 0 1 0 -23.2 0M1090.7 1163.9a11.6 11.6 0 1 0 23.2 0a11.6 11.6 0 1 0 -23.2 0M1093.7 1164.3a11.6 11.6 0 1 0 23.2 0a11.6 11.6 0 1 0 -23.2 0M1096.7 1164.7a11.6 11.6 0 1 0 23.2 0a11.6 11.6 0 1 0 -23.2 0M1099.6 1165.4a11.6 11.6 0 1 0 23.2 0a11.6 11.6 0 1 0 -23.2 0M1102.4 1165.6a11.6 11.6 0 1 0 23.2 0a11.6 11.6 0 1 0 -23.2 0M1105.3 1165.8a11.6 11.6 0 1 0 23.2 0a11.6 11.6 0 1 0 -23.2 0M1108.1 1166.8a11.6 11.6 0 1 0 23.2 0a11.6 11.6 0 1 0 -23.2 0M1110.9 1167a11.6 11.6 0 1 0 23.2 0a11.6 11.6 0 1 0 -23.2 0M1113.7 1167.6a11.6 11.6 0 1 0 23.2 0a11.6 11.6 0 1 0 -23.2 0M1116.4 1167.9a11.6 11.6 0 1 0 23.2 0a11.6 11.6 0 1 0 -23.2 0M1119.1 1168.5a11.6 11.6 0 1 0 23.2 0a11.6 11.6 0 1 0 -23.2 0M1121.8 1168.8a11.6 11.6 0 1 0 23.2 0a11.6 11.6 0 1 0 -23.2 0M1124.4 1169.4a11.6 11.6 0 1 0 23.2 0a11.6 11.6 0 1 0 -23.2 0M1127.1 1169.7a11.6 11.6 0 1 0 23.2 0a11.6 11.6 0 1 0 -23.2 0M1129.7 1170.1a11.6 11.6 0 1 0 23.2 0a11.6 11.6 0 1 0 -23.2 0M1132.2 1170.5a11.6 11.6 0 1 0 23.2 0a11.6 11.6 0 1 0 -23.2 0M1134.8 1170.5a11.6 11.6 0 1 0 23.2 0a11.6 11.6 0 1 0 -23.2 0M1137.3 1171.2a11.6 11.6 0 1 0 23.2 0a11.6 11.6 0 1 0 -23.2 0M1139.8 1171.5a11.6 11.6 0 1 0 23.2 0a11.6 11.6 0 1 0 -23.2 0M1142.3 1172a11.6 11.6 0 1 0 23.2 0a11.6 11.6 0 1 0 -23.2 0M1144.7 1172.1a11.6 11.6 0 1 0 23.2 0a11.6 11.6 0 1 0 -23.2 0M1147.2 1173.1a11.6 11.6 0 1 0 23.2 0a11.6 11.6 0 1 0 -23.2 0M1149.6 1173.2a11.6 11.6 0 1 0 23.2 0a11.6 11.6 0 1 0 -23.2 0M1152 1173.2a11.6 11.6 0 1 0 23.2 0a11.6 11.6 0 1 0 -23.2 0M1154.3 1173.5a11.6 11.6 0 1 0 23.2 0a11.6 11.6 0 1 0 -23.2 0M1156.7 1174.2a11.6 11.6 0 1 0 23.2 0a11.6 11.6 0 1 0 -23.2 0M1159 1174.5a11.6 11.6 0 1 0 23.2 0a11.6 11.6 0 1 0 -23.2 0M1161.3 1174.7a11.6 11.6 0 1 0 23.2 0a11.6 11.6 0 1 0 -23.2 0M1163.6 1175.3a11.6 11.6 0 1 0 23.2 0a11.6 11.6 0 1 0 -23.2 0M1165.9 1175.4a11.6 11.6 0 1 0 23.2 0a11.6 11.6 0 1 0 -23.2 0M1168.1 1176a11.6 11.6 0 1 0 23.2 0a11.6 11.6 0 1 0 -23.2 0M1170.4 1176a11.6 11.6 0 1 0 23.2 0a11.6 11.6 0 1 0 -23.2 0M1172.6 1176.5a11.6 11.6 0 1 0 23.2 0a11.6 11.6 0 1 0 -23.2 0M1174.8 1177.1a11.6 11.6 0 1 0 23.2 0a11.6 11.6 0 1 0 -23.2 0M1176.9 1177.8a11.6 11.6 0 1 0 23.2 0a11.6 11.6 0 1 0 -23.2 0M1179.1 1177.1a11.6 11.6 0 1 0 23.2 0a11.6 11.6 0 1 0 -23.2 0M1181.2 1177.6a11.6 11.6 0 1 0 23.2 0a11.6 11.6 0 1 0 -23.2 0M1183.4 1177.7a11.6 11.6 0 1 0 23.2 0a11.6 11.6 0 1 0 -23.2 0M1185.5 1178.4a11.6 11.6 0 1 0 23.2 0a11.6 11.6 0 1 0 -23.2 0M1187.6 1178.2a11.6 11.6 0 1 0 23.2 0a11.6 11.6 0 1 0 -23.2 0M1189.6 1178.6a11.6 11.6 0 1 0 23.2 0a11.6 11.6 0 1 0 -23.2 0M1191.7 1179a11.6 11.6 0 1 0 23.2 0a11.6 11.6 0 1 0 -23.2 0M1193.7 1178.9a11.6 11.6 0 1 0 23.2 0a11.6 11.6 0 1 0 -23.2 0M1195.8 1179.2a11.6 11.6 0 1 0 23.2 0a11.6 11.6 0 1 0 -23.2 0M1197.8 1179.6a11.6 11.6 0 1 0 23.2 0a11.6 11.6 0 1 0 -23.2 0M1199.8 1179.3a11.6 11.6 0 1 0 23.2 0a11.6 11.6 0 1 0 -23.2 0M1201.7 1179.7a11.6 11.6 0 1 0 23.2 0a11.6 11.6 0 1 0 -23.2 0M1203.7 1180.3a11.6 11.6 0 1 0 23.2 0a11.6 11.6 0 1 0 -23.2 0M1205.7 1180.7a11.6 11.6 0 1 0 23.2 0a11.6 11.6 0 1 0 -23.2 0M1207.6 1180.8a11.6 11.6 0 1 0 23.2 0a11.6 11.6 0 1 0 -23.2 0M1209.5 1180.4a11.6 11.6 0 1 0 23.2 0a11.6 11.6 0 1 0 -23.2 0M1211.4 1181.1a11.6 11.6 0 1 0 23.2 0a11.6 11.6 0 1 0 -23.2 0M1213.3 1181.7a11.6 11.6 0 1 0 23.2 0a11.6 11.6 0 1 0 -23.2 0M1215.2 1181.8a11.6 11.6 0 1 0 23.2 0a11.6 11.6 0 1 0 -23.2 0M1217.1 1181.8a11.6 11.6 0 1 0 23.2 0a11.6 11.6 0 1 0 -23.2 0M1218.9 1181.7a11.6 11.6 0 1 0 23.2 0a11.6 11.6 0 1 0 -23.2 0M1220.8 1182.5a11.6 11.6 0 1 0 23.2 0a11.6 11.6 0 1 0 -23.2 0M1222.6 1182.2a11.6 11.6 0 1 0 23.2 0a11.6 11.6 0 1 0 -23.2 0M1224.4 1182.2a11.6 11.6 0 1 0 23.2 0a11.6 11.6 0 1 0 -23.2 0M1226.2 1182.5a11.6 11.6 0 1 0 23.2 0a11.6 11.6 0 1 0 -23.2 0M1228 1183.5a11.6 11.6 0 1 0 23.2 0a11.6 11.6 0 1 0 -23.2 0M1229.8 1183.2a11.6 11.6 0 1 0 23.2 0a11.6 11.6 0 1 0 -23.2 0M1231.6 1183.8a11.6 11.6 0 1 0 23.2 0a11.6 11.6 0 1 0 -23.2 0M1233.3 1183.3a11.6 11.6 0 1 0 23.2 0a11.6 11.6 0 1 0 -23.2 0M1235.1 1184a11.6 11.6 0 1 0 23.2 0a11.6 11.6 0 1 0 -23.2 0M1236.8 1183.6a11.6 11.6 0 1 0 23.2 0a11.6 11.6 0 1 0 -23.2 0M1238.6 1183.9a11.6 11.6 0 1 0 23.2 0a11.6 11.6 0 1 0 -23.2 0M1240.3 1185.2a11.6 11.6 0 1 0 23.2 0a11.6 11.6 0 1 0 -23.2 0M1242 1184.7a11.6 11.6 0 1 0 23.2 0a11.6 11.6 0 1 0 -23.2 0M1243.7 1184.3a11.6 11.6 0 1 0 23.2 0a11.6 11.6 0 1 0 -23.2 0M1245.3 1184.6a11.6 11.6 0 1 0 23.2 0a11.6 11.6 0 1 0 -23.2 0M1247 1184.9a11.6 11.6 0 1 0 23.2 0a11.6 11.6 0 1 0 -23.2 0M1248.7 1185.5a11.6 11.6 0 1 0 23.2 0a11.6 11.6 0 1 0 -23.2 0M1250.3 1184.9a11.6 11.6 0 1 0 23.2 0a11.6 11.6 0 1 0 -23.2 0M1252 1184.4a11.6 11.6 0 1 0 23.2 0a11.6 11.6 0 1 0 -23.2 0M1253.6 1185.3a11.6 11.6 0 1 0 23.2 0a11.6 11.6 0 1 0 -23.2 0M1255.2 1185.6a11.6 11.6 0 1 0 23.2 0a11.6 11.6 0 1 0 -23.2 0M1256.8 1185.8a11.6 11.6 0 1 0 23.2 0a11.6 11.6 0 1 0 -23.2 0M1258.4 1186.5a11.6 11.6 0 1 0 23.2 0a11.6 11.6 0 1 0 -23.2 0M1260 1186.2a11.6 11.6 0 1 0 23.2 0a11.6 11.6 0 1 0 -23.2 0M1261.6 1186.6a11.6 11.6 0 1 0 23.2 0a11.6 11.6 0 1 0 -23.2 0M1263.2 1185.7a11.6 11.6 0 1 0 23.2 0a11.6 11.6 0 1 0 -23.2 0M1264.7 1186.9a11.6 11.6 0 1 0 23.2 0a11.6 11.6 0 1 0 -23.2 0M1266.3 1187.8a11.6 11.6 0 1 0 23.2 0a11.6 11.6 0 1 0 -23.2 0M1267.8 1187.1a11.6 11.6 0 1 0 23.2 0a11.6 11.6 0 1 0 -23.2 0M1269.4 1187a11.6 11.6 0 1 0 23.2 0a11.6 11.6 0 1 0 -23.2 0M1270.9 1187a11.6 11.6 0 1 0 23.2 0a11.6 11.6 0 1 0 -23.2 0M1272.4 1188.2a11.6 11.6 0 1 0 23.2 0a11.6 11.6 0 1 0 -23.2 0M1273.9 1186.6a11.6 11.6 0 1 0 23.2 0a11.6 11.6 0 1 0 -23.2 0M1275.4 1187.3a11.6 11.6 0 1 0 23.2 0a11.6 11.6 0 1 0 -23.2 0M1276.9 1187.8a11.6 11.6 0 1 0 23.2 0a11.6 11.6 0 1 0 -23.2 0M1278.4 1188.1a11.6 11.6 0 1 0 23.2 0a11.6 11.6 0 1 0 -23.2 0M1279.9 1187.4a11.6 11.6 0 1 0 23.2 0a11.6 11.6 0 1 0 -23.2 0M1281.3 1188.1a11.6 11.6 0 1 0 23.2 0a11.6 11.6 0 1 0 -23.2 0M1282.8 1187.8a11.6 11.6 0 1 0 23.2 0a11.6 11.6 0 1 0 -23.2 0M1284.2 1188.2a11.6 11.6 0 1 0 23.2 0a11.6 11.6 0 1 0 -23.2 0M1285.7 1188.1a11.6 11.6 0 1 0 23.2 0a11.6 11.6 0 1 0 -23.2 0M1287.1 1187.5a11.6 11.6 0 1 0 23.2 0a11.6 11.6 0 1 0 -23.2 0M1288.6 1188.4a11.6 11.6 0 1 0 23.2 0a11.6 11.6 0 1 0 -23.2 0M1290 1189.2a11.6 11.6 0 1 0 23.2 0a11.6 11.6 0 1 0 -23.2 0M1291.4 1187.9a11.6 11.6 0 1 0 23.2 0a11.6 11.6 0 1 0 -23.2 0M1292.8 1188.6a11.6 11.6 0 1 0 23.2 0a11.6 11.6 0 1 0 -23.2 0M1294.2 1189.4a11.6 11.6 0 1 0 23.2 0a11.6 11.6 0 1 0 -23.2 0M1295.6 1188.2a11.6 11.6 0 1 0 23.2 0a11.6 11.6 0 1 0 -23.2 0M1297 1189.3a11.6 11.6 0 1 0 23.2 0a11.6 11.6 0 1 0 -23.2 0M1298.3 1188.4a11.6 11.6 0 1 0 23.2 0a11.6 11.6 0 1 0 -23.2 0M1299.7 1190.3a11.6 11.6 0 1 0 23.2 0a11.6 11.6 0 1 0 -23.2 0M1301.1 1191.5a11.6 11.6 0 1 0 23.2 0a11.6 11.6 0 1 0 -23.2 0M1302.4 1191.3a11.6 11.6 0 1 0 23.2 0a11.6 11.6 0 1 0 -23.2 0M1303.8 1189.5a11.6 11.6 0 1 0 23.2 0a11.6 11.6 0 1 0 -23.2 0M1305.1 1190.4a11.6 11.6 0 1 0 23.2 0a11.6 11.6 0 1 0 -23.2 0M1306.5 1190a11.6 11.6 0 1 0 23.2 0a11.6 11.6 0 1 0 -23.2 0M1307.8 1190.1a11.6 11.6 0 1 0 23.2 0a11.6 11.6 0 1 0 -23.2 0M1309.1 1191.6a11.6 11.6 0 1 0 23.2 0a11.6 11.6 0 1 0 -23.2 0M1310.4 1188.9a11.6 11.6 0 1 0 23.2 0a11.6 11.6 0 1 0 -23.2 0M1311.7 1191.3a11.6 11.6 0 1 0 23.2 0a11.6 11.6 0 1 0 -23.2 0M1313 1190.3a11.6 11.6 0 1 0 23.2 0a11.6 11.6 0 1 0 -23.2 0M1314.3 1191.9a11.6 11.6 0 1 0 23.2 0a11.6 11.6 0 1 0 -23.2 0M1315.6 1190.8a11.6 11.6 0 1 0 23.2 0a11.6 11.6 0 1 0 -23.2 0M1316.9 1190a11.6 11.6 0 1 0 23.2 0a11.6 11.6 0 1 0 -23.2 0M1318.2 1191.1a11.6 11.6 0 1 0 23.2 0a11.6 11.6 0 1 0 -23.2 0M1319.5 1191.7a11.6 11.6 0 1 0 23.2 0a11.6 11.6 0 1 0 -23.2 0M1320.7 1191a11.6 11.6 0 1 0 23.2 0a11.6 11.6 0 1 0 -23.2 0M1322 1191.6a11.6 11.6 0 1 0 23.2 0a11.6 11.6 0 1 0 -23.2 0M1323.2 1190.5a11.6 11.6 0 1 0 23.2 0a11.6 11.6 0 1 0 -23.2 0M1324.5 1188.7a11.6 11.6 0 1 0 23.2 0a11.6 11.6 0 1 0 -23.2 0M1325.7 1192.4a11.6 11.6 0 1 0 23.2 0a11.6 11.6 0 1 0 -23.2 0M1327 1192.2a11.6 11.6 0 1 0 23.2 0a11.6 11.6 0 1 0 -23.2 0M1328.2 1191.7a11.6 11.6 0 1 0 23.2 0a11.6 11.6 0 1 0 -23.2 0M1329.4 1191.7a11.6 11.6 0 1 0 23.2 0a11.6 11.6 0 1 0 -23.2 0M1330.6 1193a11.6 11.6 0 1 0 23.2 0a11.6 11.6 0 1 0 -23.2 0M1331.9 1191.2a11.6 11.6 0 1 0 23.2 0a11.6 11.6 0 1 0 -23.2 0M1333.1 1190.9a11.6 11.6 0 1 0 23.2 0a11.6 11.6 0 1 0 -23.2 0M1334.3 1191.7a11.6 11.6 0 1 0 23.2 0a11.6 11.6 0 1 0 -23.2 0M1335.5 1193.6a11.6 11.6 0 1 0 23.2 0a11.6 11.6 0 1 0 -23.2 0M1336.7 1190.2a11.6 11.6 0 1 0 23.2 0a11.6 11.6 0 1 0 -23.2 0M1337.8 1193.8a11.6 11.6 0 1 0 23.2 0a11.6 11.6 0 1 0 -23.2 0M1339 1191.3a11.6 11.6 0 1 0 23.2 0a11.6 11.6 0 1 0 -23.2 0M1340.2 1190.7a11.6 11.6 0 1 0 23.2 0a11.6 11.6 0 1 0 -23.2 0M1341.4 1194.2a11.6 11.6 0 1 0 23.2 0a11.6 11.6 0 1 0 -23.2 0M1342.5 1192.3a11.6 11.6 0 1 0 23.2 0a11.6 11.6 0 1 0 -23.2 0M1343.7 1190.6a11.6 11.6 0 1 0 23.2 0a11.6 11.6 0 1 0 -23.2 0M1344.9 1192.1a11.6 11.6 0 1 0 23.2 0a11.6 11.6 0 1 0 -23.2 0M1346 1194.2a11.6 11.6 0 1 0 23.2 0a11.6 11.6 0 1 0 -23.2 0M1347.2 1194.7a11.6 11.6 0 1 0 23.2 0a11.6 11.6 0 1 0 -23.2 0M1348.3 1192.2a11.6 11.6 0 1 0 23.2 0a11.6 11.6 0 1 0 -23.2 0M1349.4 1193.6a11.6 11.6 0 1 0 23.2 0a11.6 11.6 0 1 0 -23.2 0M1350.6 1194.2a11.6 11.6 0 1 0 23.2 0a11.6 11.6 0 1 0 -23.2 0M1351.7 1192a11.6 11.6 0 1 0 23.2 0a11.6 11.6 0 1 0 -23.2 0M1352.8 1193.8a11.6 11.6 0 1 0 23.2 0a11.6 11.6 0 1 0 -23.2 0M1353.9 1193.2a11.6 11.6 0 1 0 23.2 0a11.6 11.6 0 1 0 -23.2 0M1355 1192.4a11.6 11.6 0 1 0 23.2 0a11.6 11.6 0 1 0 -23.2 0M1356.1 1192.5a11.6 11.6 0 1 0 23.2 0a11.6 11.6 0 1 0 -23.2 0M1357.3 1193.6a11.6 11.6 0 1 0 23.2 0a11.6 11.6 0 1 0 -23.2 0M1358.4 1193.6a11.6 11.6 0 1 0 23.2 0a11.6 11.6 0 1 0 -23.2 0M1359.4 1192.5a11.6 11.6 0 1 0 23.2 0a11.6 11.6 0 1 0 -23.2 0M1360.5 1192.9a11.6 11.6 0 1 0 23.2 0a11.6 11.6 0 1 0 -23.2 0M1361.6 1195.9a11.6 11.6 0 1 0 23.2 0a11.6 11.6 0 1 0 -23.2 0M1362.7 1194.2a11.6 11.6 0 1 0 23.2 0a11.6 11.6 0 1 0 -23.2 0M1363.8 1195.6a11.6 11.6 0 1 0 23.2 0a11.6 11.6 0 1 0 -23.2 0M1364.9 1196.4a11.6 11.6 0 1 0 23.2 0a11.6 11.6 0 1 0 -23.2 0M1365.9 1195.2a11.6 11.6 0 1 0 23.2 0a11.6 11.6 0 1 0 -23.2 0" fill="none" stroke="#231F20" stroke-width="5.5" stroke-linejoin="miter"/>
<path d="M199.1 844.2v18M186.1 844.2h26M186.1 862.2h26M275.7 940v14M262.7 940h26M262.7 954h26M335.2 989.6v10M322.2 989.6h26M322.2 999.6h26M383.8 1017.3v8M370.8 1017.3h26M370.8 1025.3h26M424.8 1032.2v8M411.8 1032.2h26M411.8 1040.2h26M460.4 1042v6M447.4 1042h26M447.4 1048h26M491.8 1047.4v6M478.8 1047.4h26M478.8 1053.4h26M519.9 1052v6M506.9 1052h26M506.9 1058h26M545.3 1054.2v6M532.3 1054.2h26M532.3 1060.2h26M568.5 1057.3v3.8M555.5 1057.3h26M555.5 1061.1h26M589.8 1058.2v3.7M576.8 1058.2h26M576.8 1061.9h26M609.5 1059.7v3.5M596.5 1059.7h26M596.5 1063.2h26M627.9 1060.5v3.4M614.9 1060.5h26M614.9 1063.9h26M645.1 1061.7v3.3M632.1 1061.7h26M632.1 1065h26M661.3 1062.4v3.2M648.3 1062.4h26M648.3 1065.7h26M676.5 1062.5v3.2M663.5 1062.5h26M663.5 1065.7h26M690.9 1063.2v3.1M677.9 1063.2h26M677.9 1066.3h26M704.6 1065.3v3.1M691.6 1065.3h26M691.6 1068.3h26M717.6 1065.6v3M704.6 1065.6h26M704.6 1068.7h26M730 1066v3M717 1066h26M717 1069h26M741.8 1066.2v3M728.8 1066.2h26M728.8 1069.2h26M753.1 1066.6v2.9M740.1 1066.6h26M740.1 1069.6h26M764 1067v2.9M751 1067h26M751 1069.9h26M774.5 1067.3v2.9M761.5 1067.3h26M761.5 1070.2h26M784.5 1067.8v2.9M771.5 1067.8h26M771.5 1070.7h26M794.2 1067.7v2.9M781.2 1067.7h26M781.2 1070.5h26M803.6 1068.4v2.9M790.6 1068.4h26M790.6 1071.3h26M812.6 1068.6v2.9M799.6 1068.6h26M799.6 1071.4h26M821.3 1069.2v2.8M808.3 1069.2h26M808.3 1072.1h26M829.8 1069.4v2.8M816.8 1069.4h26M816.8 1072.2h26M838 1069.6v2.8M825 1069.6h26M825 1072.5h26M845.9 1070.2v2.8M832.9 1070.2h26M832.9 1073h26M853.7 1070.4v2.8M840.7 1070.4h26M840.7 1073.2h26M861.2 1070.7v2.8M848.2 1070.7h26M848.2 1073.6h26M868.5 1071v2.8M855.5 1071h26M855.5 1073.8h26M875.6 1071.6v2.8M862.6 1071.6h26M862.6 1074.4h26M882.5 1072.1v2.8M869.5 1072.1h26M869.5 1074.9h26M889.2 1072.5v2.8M876.2 1072.5h26M876.2 1075.3h26M895.8 1072.7v2.8M882.8 1072.7h26M882.8 1075.5h26M902.2 1073.3v2.8M889.2 1073.3h26M889.2 1076.1h26M908.5 1073.5v2.8M895.5 1073.5h26M895.5 1076.3h26M914.6 1073.9v2.8M901.6 1073.9h26M901.6 1076.7h26M920.6 1074.4v2.8M907.6 1074.4h26M907.6 1077.2h26M926.5 1074.8v2.8M913.5 1074.8h26M913.5 1077.6h26M932.2 1075v2.8M919.2 1075h26M919.2 1077.8h26M937.8 1075.5v2.8M924.8 1075.5h26M924.8 1078.3h26M943.3 1075.9v2.8M930.3 1075.9h26M930.3 1078.7h26M948.7 1076.3v2.8M935.7 1076.3h26M935.7 1079.1h26M954 1076.6v2.8M941 1076.6h26M941 1079.4h26M959.1 1077.3v2.8M946.1 1077.3h26M946.1 1080.1h26M964.2 1077.5v2.8M951.2 1077.5h26M951.2 1080.3h26M969.2 1078.1v2.8M956.2 1078.1h26M956.2 1080.9h26M974.1 1078.3v2.8M961.1 1078.3h26M961.1 1081.1h26M978.9 1079v2.8M965.9 1079h26M965.9 1081.8h26M983.6 1079.4v2.8M970.6 1079.4h26M970.6 1082.2h26M988.2 1079.8v2.8M975.2 1079.8h26M975.2 1082.6h26M992.8 1080.6v2.8M979.8 1080.6h26M979.8 1083.4h26M997.3 1080.8v2.8M984.3 1080.8h26M984.3 1083.6h26M1001.7 1081.5v2.8M988.7 1081.5h26M988.7 1084.3h26M1006 1081.8v2.8M993 1081.8h26M993 1084.6h26M1010.3 1082v2.8M997.3 1082h26M997.3 1084.8h26M1014.5 1082.5v2.8M1001.5 1082.5h26M1001.5 1085.3h26M1018.6 1083.1v2.8M1005.6 1083.1h26M1005.6 1085.9h26M1022.7 1083.5v2.8M1009.7 1083.5h26M1009.7 1086.3h26M1026.7 1084v2.8M1013.7 1084h26M1013.7 1086.8h26M1030.6 1084.4v2.8M1017.6 1084.4h26M1017.6 1087.2h26M1034.5 1084.6v2.8M1021.5 1084.6h26M1021.5 1087.4h26M1038.3 1085.3v2.8M1025.3 1085.3h26M1025.3 1088.1h26M1042.1 1085.5v2.8M1029.1 1085.5h26M1029.1 1088.3h26M1045.9 1086.4v2.8M1032.9 1086.4h26M1032.9 1089.2h26M1049.5 1086.7v2.8M1036.5 1086.7h26M1036.5 1089.5h26M1053.2 1087.2v2.8M1040.2 1087.2h26M1040.2 1090h26M1056.7 1087.7v2.8M1043.7 1087.7h26M1043.7 1090.5h26M1060.3 1088.3v2.8M1047.3 1088.3h26M1047.3 1091.1h26M1063.7 1088.5v2.8M1050.7 1088.5h26M1050.7 1091.3h26M1067.2 1089v2.8M1054.2 1089h26M1054.2 1091.8h26M1070.6 1089.6v2.8M1057.6 1089.6h26M1057.6 1092.4h26M1073.9 1089.9v2.8M1060.9 1089.9h26M1060.9 1092.7h26M1077.2 1090.6v2.8M1064.2 1090.6h26M1064.2 1093.4h26M1080.5 1091.5v2.8M1067.5 1091.5h26M1067.5 1094.3h26M1083.7 1091.6v2.8M1070.7 1091.6h26M1070.7 1094.4h26M1086.9 1092.4v2.8M1073.9 1092.4h26M1073.9 1095.2h26M1090.1 1092.5v2.8M1077.1 1092.5h26M1077.1 1095.3h26M1093.2 1093.3v2.8M1080.2 1093.3h26M1080.2 1096.1h26M1096.3 1093.7v2.8M1083.3 1093.7h26M1083.3 1096.5h26M1099.3 1094.3v2.8M1086.3 1094.3h26M1086.3 1097.1h26M1102.3 1094.9v2.8M1089.3 1094.9h26M1089.3 1097.7h26M1105.3 1095.6v2.8M1092.3 1095.6h26M1092.3 1098.4h26M1108.3 1095.8v2.8M1095.3 1095.8h26M1095.3 1098.6h26M1111.2 1096.3v2.8M1098.2 1096.3h26M1098.2 1099.1h26M1114 1096.5v2.8M1101 1096.5h26M1101 1099.3h26M1116.9 1097.3v2.8M1103.9 1097.3h26M1103.9 1100.1h26M1119.7 1097.6v2.8M1106.7 1097.6h26M1106.7 1100.4h26M1122.5 1098.3v2.8M1109.5 1098.3h26M1109.5 1101.1h26M1125.3 1098.5v2.8M1112.3 1098.5h26M1112.3 1101.3h26M1128 1099.3v2.8M1115 1099.3h26M1115 1102.1h26M1130.7 1099v2.8M1117.7 1099h26M1117.7 1101.8h26M1133.4 1099.8v2.8M1120.4 1099.8h26M1120.4 1102.6h26M1136 1100.5v2.8M1123 1100.5h26M1123 1103.3h26M1138.7 1100.6v2.8M1125.7 1100.6h26M1125.7 1103.4h26M1141.3 1100.9v2.8M1128.3 1100.9h26M1128.3 1103.7h26M1143.8 1101.5v2.8M1130.8 1101.5h26M1130.8 1104.3h26M1146.4 1101.6v2.8M1133.4 1101.6h26M1133.4 1104.4h26M1148.9 1102.3v2.8M1135.9 1102.3h26M1135.9 1105.1h26M1151.4 1103.2v2.8M1138.4 1103.2h26M1138.4 1106h26M1153.9 1103.3v2.8M1140.9 1103.3h26M1140.9 1106.1h26M1156.3 1103.2v2.8M1143.3 1103.2h26M1143.3 1106h26M1158.8 1103.6v2.8M1145.8 1103.6h26M1145.8 1106.4h26M1161.2 1104.1v2.8M1148.2 1104.1h26M1148.2 1106.9h26M1163.6 1104.8v2.8M1150.6 1104.8h26M1150.6 1107.6h26M1165.9 1104.7v2.8M1152.9 1104.7h26M1152.9 1107.5h26M1168.3 1105.1v2.8M1155.3 1105.1h26M1155.3 1107.9h26M1170.6 1105.8v2.8M1157.6 1105.8h26M1157.6 1108.6h26M1172.9 1106.1v2.8M1159.9 1106.1h26M1159.9 1108.9h26M1175.2 1106.1v2.8M1162.2 1106.1h26M1162.2 1108.9h26M1177.5 1106.3v2.8M1164.5 1106.3h26M1164.5 1109.1h26M1179.7 1106.5v2.8M1166.7 1106.5h26M1166.7 1109.3h26M1182 1107v2.8M1169 1107h26M1169 1109.8h26M1184.2 1106.9v2.8M1171.2 1106.9h26M1171.2 1109.7h26M1186.4 1108v2.8M1173.4 1108h26M1173.4 1110.8h26M1188.5 1107.9v2.8M1175.5 1107.9h26M1175.5 1110.7h26M1190.7 1108.5v2.8M1177.7 1108.5h26M1177.7 1111.3h26M1192.8 1109.1v2.8M1179.8 1109.1h26M1179.8 1111.9h26M1195 1109.2v2.8M1182 1109.2h26M1182 1112h26M1197.1 1108.8v2.8M1184.1 1108.8h26M1184.1 1111.6h26M1199.2 1109.7v2.8M1186.2 1109.7h26M1186.2 1112.5h26M1201.2 1110v2.8M1188.2 1110h26M1188.2 1112.8h26M1203.3 1109.7v2.8M1190.3 1109.7h26M1190.3 1112.5h26M1205.3 1109.9v2.8M1192.3 1109.9h26M1192.3 1112.7h26M1207.4 1110.4v2.8M1194.4 1110.4h26M1194.4 1113.2h26M1209.4 1110.2v2.8M1196.4 1110.2h26M1196.4 1113h26M1211.4 1111.4v2.8M1198.4 1111.4h26M1198.4 1114.2h26M1213.3 1110.4v2.8M1200.3 1110.4h26M1200.3 1113.2h26M1215.3 1111.1v2.8M1202.3 1111.1h26M1202.3 1113.9h26M1217.3 1111.6v2.8M1204.3 1111.6h26M1204.3 1114.4h26M1219.2 1111.8v2.8M1206.2 1111.8h26M1206.2 1114.6h26M1221.1 1112.1v2.8M1208.1 1112.1h26M1208.1 1114.9h26M1223 1112.4v2.8M1210 1112.4h26M1210 1115.2h26M1224.9 1112.5v2.8M1211.9 1112.5h26M1211.9 1115.3h26M1226.8 1113.1v2.8M1213.8 1113.1h26M1213.8 1115.9h26M1228.7 1112.2v2.8M1215.7 1112.2h26M1215.7 1115h26M1230.5 1113.2v2.8M1217.5 1113.2h26M1217.5 1116h26M1232.4 1113.1v2.8M1219.4 1113.1h26M1219.4 1115.9h26M1234.2 1113.6v2.8M1221.2 1113.6h26M1221.2 1116.4h26M1236 1113.9v2.8M1223 1113.9h26M1223 1116.7h26M1237.8 1113.6v2.8M1224.8 1113.6h26M1224.8 1116.4h26M1239.6 1113.9v2.8M1226.6 1113.9h26M1226.6 1116.7h26M1241.4 1114.7v2.8M1228.4 1114.7h26M1228.4 1117.5h26M1243.2 1114.7v2.8M1230.2 1114.7h26M1230.2 1117.5h26M1244.9 1114.5v2.8M1231.9 1114.5h26M1231.9 1117.3h26M1246.7 1115.8v2.8M1233.7 1115.8h26M1233.7 1118.6h26M1248.4 1116.1v2.8M1235.4 1116.1h26M1235.4 1118.9h26M1250.2 1114.7v2.8M1237.2 1114.7h26M1237.2 1117.5h26M1251.9 1115.6v2.8M1238.9 1115.6h26M1238.9 1118.4h26M1253.6 1116.8v2.8M1240.6 1116.8h26M1240.6 1119.6h26M1255.3 1116.2v2.8M1242.3 1116.2h26M1242.3 1119h26M1256.9 1116.1v2.8M1243.9 1116.1h26M1243.9 1118.9h26M1258.6 1116.1v2.8M1245.6 1116.1h26M1245.6 1118.9h26M1260.3 1116.1v2.8M1247.3 1116.1h26M1247.3 1118.9h26M1261.9 1116.4v2.8M1248.9 1116.4h26M1248.9 1119.3h26M1263.6 1116.4v2.8M1250.6 1116.4h26M1250.6 1119.3h26M1265.2 1117.3v2.8M1252.2 1117.3h26M1252.2 1120.1h26M1266.8 1116.8v2.8M1253.8 1116.8h26M1253.8 1119.7h26M1268.4 1117v2.8M1255.4 1117h26M1255.4 1119.8h26M1270 1116.7v2.8M1257 1116.7h26M1257 1119.6h26M1271.6 1117.5v2.8M1258.6 1117.5h26M1258.6 1120.4h26M1273.2 1117.2v2.9M1260.2 1117.2h26M1260.2 1120.1h26M1274.8 1117.7v2.9M1261.8 1117.7h26M1261.8 1120.6h26M1276.3 1118.6v2.9M1263.3 1118.6h26M1263.3 1121.5h26M1277.9 1118.4v2.9M1264.9 1118.4h26M1264.9 1121.2h26M1279.4 1118.6v2.9M1266.4 1118.6h26M1266.4 1121.5h26M1281 1118.7v2.9M1268 1118.7h26M1268 1121.6h26M1282.5 1118.6v2.9M1269.5 1118.6h26M1269.5 1121.5h26M1284 1118.7v2.9M1271 1118.7h26M1271 1121.6h26M1285.5 1118.7v2.9M1272.5 1118.7h26M1272.5 1121.6h26M1287 1119.5v2.9M1274 1119.5h26M1274 1122.4h26M1288.5 1118.5v2.9M1275.5 1118.5h26M1275.5 1121.4h26M1290 1120.2v2.9M1277 1120.2h26M1277 1123.2h26M1291.5 1119.5v3M1278.5 1119.5h26M1278.5 1122.4h26M1292.9 1119.1v3M1279.9 1119.1h26M1279.9 1122.1h26M1294.4 1119.4v3M1281.4 1119.4h26M1281.4 1122.4h26M1295.8 1119.4v3M1282.8 1119.4h26M1282.8 1122.4h26M1297.3 1120.1v3M1284.3 1120.1h26M1284.3 1123.1h26M1298.7 1119.6v3M1285.7 1119.6h26M1285.7 1122.6h26M1300.2 1121.1v3.1M1287.2 1121.1h26M1287.2 1124.2h26M1301.6 1119.8v3.1M1288.6 1119.8h26M1288.6 1122.9h26M1303 1118.7v3.1M1290 1118.7h26M1290 1121.8h26M1304.4 1120v3.1M1291.4 1120h26M1291.4 1123.2h26M1305.8 1119.1v3.2M1292.8 1119.1h26M1292.8 1122.3h26M1307.2 1120.8v3.2M1294.2 1120.8h26M1294.2 1124h26M1308.6 1121.8v3.2M1295.6 1121.8h26M1295.6 1125h26M1309.9 1121.6v3.3M1296.9 1121.6h26M1296.9 1124.9h26M1311.3 1120v3.3M1298.3 1120h26M1298.3 1123.3h26M1312.7 1120.6v3.4M1299.7 1120.6h26M1299.7 1124h26M1314 1122.9v3.4M1301 1122.9h26M1301 1126.3h26M1315.4 1121.7v3.5M1302.4 1121.7h26M1302.4 1125.2h26M1316.7 1121.5v3.5M1303.7 1121.5h26M1303.7 1125.1h26M1318.1 1122.6v3.6M1305.1 1122.6h26M1305.1 1126.2h26M1319.4 1124v3.7M1306.4 1124h26M1306.4 1127.7h26M1320.7 1123v3.7M1307.7 1123h26M1307.7 1126.8h26M1322 1122v3.8M1309 1122h26M1309 1125.8h26M1323.3 1122.3v3.9M1310.3 1122.3h26M1310.3 1126.2h26M1324.6 1122.6v4M1311.6 1122.6h26M1311.6 1126.6h26M1325.9 1121.4v4.1M1312.9 1121.4h26M1312.9 1125.5h26M1327.2 1121v4.2M1314.2 1121h26M1314.2 1125.2h26M1328.5 1122.2v4.3M1315.5 1122.2h26M1315.5 1126.5h26M1329.8 1121.2v4.4M1316.8 1121.2h26M1316.8 1125.6h26M1331.1 1122.2v4.5M1318.1 1122.2h26M1318.1 1126.7h26M1332.3 1122.4v4.7M1319.3 1122.4h26M1319.3 1127.1h26M1333.6 1125v4.8M1320.6 1125h26M1320.6 1129.8h26M1334.8 1121.4v5M1321.8 1121.4h26M1321.8 1126.4h26M1336.1 1122.3v5.1M1323.1 1122.3h26M1323.1 1127.4h26M1337.3 1122.2v5.3M1324.3 1122.2h26M1324.3 1127.5h26M1338.6 1122.9v5.5M1325.6 1122.9h26M1325.6 1128.4h26M1339.8 1123.7v5.7M1326.8 1123.7h26M1326.8 1129.4h26M1341 1121.8v5.9M1328 1121.8h26M1328 1127.7h26M1342.2 1121.3v6.2M1329.2 1121.3h26M1329.2 1127.5h26M1343.5 1120.2v6.4M1330.5 1120.2h26M1330.5 1126.7h26M1344.7 1121.1v6.7M1331.7 1121.1h26M1331.7 1127.8h26M1345.9 1123v7M1332.9 1123h26M1332.9 1130h26M1347.1 1122.3v7.3M1334.1 1122.3h26M1334.1 1129.6h26M1348.3 1120.7v7.6M1335.3 1120.7h26M1335.3 1128.4h26M1349.4 1121.5v8M1336.4 1121.5h26M1336.4 1129.5h26M1350.6 1122v8.4M1337.6 1122h26M1337.6 1130.4h26M1351.8 1122.6v8.8M1338.8 1122.6h26M1338.8 1131.4h26M1353 1120.9v9.2M1340 1120.9h26M1340 1130.1h26M1354.1 1121.2v9.7M1341.1 1121.2h26M1341.1 1130.9h26M1355.3 1118.7v10.2M1342.3 1118.7h26M1342.3 1128.9h26M1356.5 1119.5v10.7M1343.5 1119.5h26M1343.5 1130.2h26M1357.6 1123.6v11.3M1344.6 1123.6h26M1344.6 1134.9h26M1358.8 1117.4v11.9M1345.8 1117.4h26M1345.8 1129.3h26M1359.9 1120.1v12.5M1346.9 1120.1h26M1346.9 1132.6h26M1361 1120.7v13.2M1348 1120.7h26M1348 1133.9h26M1362.2 1119.5v13.9M1349.2 1119.5h26M1349.2 1133.4h26M1363.3 1118.4v14.7M1350.3 1118.4h26M1350.3 1133.1h26M1364.4 1119.3v15.5M1351.4 1119.3h26M1351.4 1134.9h26M1365.5 1119.1v16.4M1352.5 1119.1h26M1352.5 1135.5h26M1366.6 1118.6v17.4M1353.6 1118.6h26M1353.6 1135.9h26M1367.7 1114.9v18.4M1354.7 1114.9h26M1354.7 1133.3h26M1368.9 1117.6v19.4M1355.9 1117.6h26M1355.9 1137h26M1370 1115.8v20.6M1357 1115.8h26M1357 1136.3h26M1371 1115.8v21.8M1358 1115.8h26M1358 1137.6h26M1372.1 1116.7v23.1M1359.1 1116.7h26M1359.1 1139.8h26M1373.2 1116.9v24.4M1360.2 1116.9h26M1360.2 1141.3h26M1374.3 1116.8v25.9M1361.3 1116.8h26M1361.3 1142.7h26M1375.4 1113.3v27.4M1362.4 1113.3h26M1362.4 1140.8h26M1376.5 1115.5v29.1M1363.5 1115.5h26M1363.5 1144.5h26M1377.5 1115.2v30.8M1364.5 1115.2h26M1364.5 1146h26" fill="none" stroke="#231F20" stroke-width="4.6"/>
<path d="M188.7 842.8h20.8v20.8h-20.8zM265.3 936.6h20.8v20.8h-20.8zM324.8 984.2h20.8v20.8h-20.8zM373.4 1010.9h20.8v20.8h-20.8zM414.4 1025.8h20.8v20.8h-20.8zM450 1034.6h20.8v20.8h-20.8zM481.4 1040h20.8v20.8h-20.8zM509.5 1044.6h20.8v20.8h-20.8zM534.9 1046.8h20.8v20.8h-20.8zM558.1 1048.8h20.8v20.8h-20.8zM579.4 1049.6h20.8v20.8h-20.8zM599.1 1051h20.8v20.8h-20.8zM617.5 1051.8h20.8v20.8h-20.8zM634.7 1053h20.8v20.8h-20.8zM650.9 1053.7h20.8v20.8h-20.8zM666.1 1053.7h20.8v20.8h-20.8zM680.5 1054.4h20.8v20.8h-20.8zM694.2 1056.4h20.8v20.8h-20.8zM707.2 1056.7h20.8v20.8h-20.8zM719.6 1057.1h20.8v20.8h-20.8zM731.4 1057.3h20.8v20.8h-20.8zM742.7 1057.7h20.8v20.8h-20.8zM753.6 1058.1h20.8v20.8h-20.8zM764.1 1058.3h20.8v20.8h-20.8zM774.1 1058.8h20.8v20.8h-20.8zM783.8 1058.7h20.8v20.8h-20.8zM793.2 1059.5h20.8v20.8h-20.8zM802.2 1059.6h20.8v20.8h-20.8zM810.9 1060.2h20.8v20.8h-20.8zM819.4 1060.4h20.8v20.8h-20.8zM827.6 1060.7h20.8v20.8h-20.8zM835.5 1061.2h20.8v20.8h-20.8zM843.3 1061.4h20.8v20.8h-20.8zM850.8 1061.7h20.8v20.8h-20.8zM858.1 1062h20.8v20.8h-20.8zM865.2 1062.6h20.8v20.8h-20.8zM872.1 1063.1h20.8v20.8h-20.8zM878.8 1063.5h20.8v20.8h-20.8zM885.4 1063.7h20.8v20.8h-20.8zM891.8 1064.3h20.8v20.8h-20.8zM898.1 1064.5h20.8v20.8h-20.8zM904.2 1064.9h20.8v20.8h-20.8zM910.2 1065.4h20.8v20.8h-20.8zM916.1 1065.8h20.8v20.8h-20.8zM921.8 1066h20.8v20.8h-20.8zM927.4 1066.5h20.8v20.8h-20.8zM932.9 1066.9h20.8v20.8h-20.8zM938.3 1067.3h20.8v20.8h-20.8zM943.6 1067.6h20.8v20.8h-20.8zM948.7 1068.3h20.8v20.8h-20.8zM953.8 1068.5h20.8v20.8h-20.8zM958.8 1069.1h20.8v20.8h-20.8zM963.7 1069.3h20.8v20.8h-20.8zM968.5 1070h20.8v20.8h-20.8zM973.2 1070.4h20.8v20.8h-20.8zM977.8 1070.8h20.8v20.8h-20.8zM982.4 1071.6h20.8v20.8h-20.8zM986.9 1071.8h20.8v20.8h-20.8zM991.3 1072.5h20.8v20.8h-20.8zM995.6 1072.8h20.8v20.8h-20.8zM999.9 1073h20.8v20.8h-20.8zM1004.1 1073.5h20.8v20.8h-20.8zM1008.2 1074.1h20.8v20.8h-20.8zM1012.3 1074.5h20.8v20.8h-20.8zM1016.3 1075h20.8v20.8h-20.8zM1020.2 1075.4h20.8v20.8h-20.8zM1024.1 1075.6h20.8v20.8h-20.8zM1027.9 1076.3h20.8v20.8h-20.8zM1031.7 1076.5h20.8v20.8h-20.8zM1035.5 1077.4h20.8v20.8h-20.8zM1039.1 1077.7h20.8v20.8h-20.8zM1042.8 1078.2h20.8v20.8h-20.8zM1046.3 1078.7h20.8v20.8h-20.8zM1049.9 1079.3h20.8v20.8h-20.8zM1053.3 1079.5h20.8v20.8h-20.8zM1056.8 1080h20.8v20.8h-20.8zM1060.2 1080.6h20.8v20.8h-20.8zM1063.5 1080.9h20.8v20.8h-20.8zM1066.8 1081.6h20.8v20.8h-20.8zM1070.1 1082.5h20.8v20.8h-20.8zM1073.3 1082.6h20.8v20.8h-20.8zM1076.5 1083.4h20.8v20.8h-20.8zM1079.7 1083.5h20.8v20.8h-20.8zM1082.8 1084.3h20.8v20.8h-20.8zM1085.9 1084.7h20.8v20.8h-20.8zM1088.9 1085.3h20.8v20.8h-20.8zM1091.9 1085.9h20.8v20.8h-20.8zM1094.9 1086.6h20.8v20.8h-20.8zM1097.9 1086.8h20.8v20.8h-20.8zM1100.8 1087.3h20.8v20.8h-20.8zM1103.6 1087.5h20.8v20.8h-20.8zM1106.5 1088.3h20.8v20.8h-20.8zM1109.3 1088.6h20.8v20.8h-20.8zM1112.1 1089.3h20.8v20.8h-20.8zM1114.9 1089.5h20.8v20.8h-20.8zM1117.6 1090.3h20.8v20.8h-20.8zM1120.3 1090h20.8v20.8h-20.8zM1123 1090.8h20.8v20.8h-20.8zM1125.6 1091.5h20.8v20.8h-20.8zM1128.3 1091.6h20.8v20.8h-20.8zM1130.9 1091.9h20.8v20.8h-20.8zM1133.4 1092.5h20.8v20.8h-20.8zM1136 1092.6h20.8v20.8h-20.8zM1138.5 1093.3h20.8v20.8h-20.8zM1141 1094.2h20.8v20.8h-20.8zM1143.5 1094.3h20.8v20.8h-20.8zM1145.9 1094.2h20.8v20.8h-20.8zM1148.4 1094.6h20.8v20.8h-20.8zM1150.8 1095.1h20.8v20.8h-20.8zM1153.2 1095.8h20.8v20.8h-20.8zM1155.5 1095.7h20.8v20.8h-20.8zM1157.9 1096.1h20.8v20.8h-20.8zM1160.2 1096.8h20.8v20.8h-20.8zM1162.5 1097.1h20.8v20.8h-20.8zM1164.8 1097.1h20.8v20.8h-20.8zM1167.1 1097.3h20.8v20.8h-20.8zM1169.3 1097.5h20.8v20.8h-20.8zM1171.6 1098h20.8v20.8h-20.8zM1173.8 1097.9h20.8v20.8h-20.8zM1176 1099h20.8v20.8h-20.8zM1178.1 1098.9h20.8v20.8h-20.8zM1180.3 1099.5h20.8v20.8h-20.8zM1182.4 1100.1h20.8v20.8h-20.8zM1184.6 1100.2h20.8v20.8h-20.8zM1186.7 1099.8h20.8v20.8h-20.8zM1188.8 1100.7h20.8v20.8h-20.8zM1190.8 1101h20.8v20.8h-20.8zM1192.9 1100.7h20.8v20.8h-20.8zM1194.9 1100.9h20.8v20.8h-20.8zM1197 1101.4h20.8v20.8h-20.8zM1199 1101.2h20.8v20.8h-20.8zM1201 1102.4h20.8v20.8h-20.8zM1202.9 1101.4h20.8v20.8h-20.8zM1204.9 1102.1h20.8v20.8h-20.8zM1206.9 1102.6h20.8v20.8h-20.8zM1208.8 1102.8h20.8v20.8h-20.8zM1210.7 1103.1h20.8v20.8h-20.8zM1212.6 1103.4h20.8v20.8h-20.8zM1214.5 1103.5h20.8v20.8h-20.8zM1216.4 1104.1h20.8v20.8h-20.8zM1218.3 1103.2h20.8v20.8h-20.8zM1220.1 1104.2h20.8v20.8h-20.8zM1222 1104.1h20.8v20.8h-20.8zM1223.8 1104.6h20.8v20.8h-20.8zM1225.6 1104.9h20.8v20.8h-20.8zM1227.4 1104.6h20.8v20.8h-20.8zM1229.2 1104.9h20.8v20.8h-20.8zM1231 1105.7h20.8v20.8h-20.8zM1232.8 1105.7h20.8v20.8h-20.8zM1234.5 1105.5h20.8v20.8h-20.8zM1236.3 1106.8h20.8v20.8h-20.8zM1238 1107.1h20.8v20.8h-20.8zM1239.8 1105.7h20.8v20.8h-20.8zM1241.5 1106.6h20.8v20.8h-20.8zM1243.2 1107.8h20.8v20.8h-20.8zM1244.9 1107.2h20.8v20.8h-20.8zM1246.5 1107.1h20.8v20.8h-20.8zM1248.2 1107.1h20.8v20.8h-20.8zM1249.9 1107.1h20.8v20.8h-20.8zM1251.5 1107.5h20.8v20.8h-20.8zM1253.2 1107.5h20.8v20.8h-20.8zM1254.8 1108.3h20.8v20.8h-20.8zM1256.4 1107.9h20.8v20.8h-20.8zM1258 1108h20.8v20.8h-20.8zM1259.6 1107.8h20.8v20.8h-20.8zM1261.2 1108.5h20.8v20.8h-20.8zM1262.8 1108.2h20.8v20.8h-20.8zM1264.4 1108.8h20.8v20.8h-20.8zM1265.9 1109.6h20.8v20.8h-20.8zM1267.5 1109.4h20.8v20.8h-20.8zM1269 1109.6h20.8v20.8h-20.8zM1270.6 1109.7h20.8v20.8h-20.8zM1272.1 1109.7h20.8v20.8h-20.8zM1273.6 1109.7h20.8v20.8h-20.8zM1275.1 1109.8h20.8v20.8h-20.8zM1276.6 1110.6h20.8v20.8h-20.8zM1278.1 1109.5h20.8v20.8h-20.8zM1279.6 1111.3h20.8v20.8h-20.8zM1281.1 1110.6h20.8v20.8h-20.8zM1282.5 1110.2h20.8v20.8h-20.8zM1284 1110.5h20.8v20.8h-20.8zM1285.4 1110.5h20.8v20.8h-20.8zM1286.9 1111.2h20.8v20.8h-20.8zM1288.3 1110.7h20.8v20.8h-20.8zM1289.8 1112.2h20.8v20.8h-20.8zM1291.2 1110.9h20.8v20.8h-20.8zM1292.6 1109.9h20.8v20.8h-20.8zM1294 1111.2h20.8v20.8h-20.8zM1295.4 1110.3h20.8v20.8h-20.8zM1296.8 1112h20.8v20.8h-20.8zM1298.2 1113h20.8v20.8h-20.8zM1299.5 1112.8h20.8v20.8h-20.8zM1300.9 1111.3h20.8v20.8h-20.8zM1302.3 1111.9h20.8v20.8h-20.8zM1303.6 1114.2h20.8v20.8h-20.8zM1305 1113.1h20.8v20.8h-20.8zM1306.3 1112.9h20.8v20.8h-20.8zM1307.7 1114h20.8v20.8h-20.8zM1309 1115.4h20.8v20.8h-20.8zM1310.3 1114.5h20.8v20.8h-20.8zM1311.6 1113.5h20.8v20.8h-20.8zM1312.9 1113.8h20.8v20.8h-20.8zM1314.2 1114.2h20.8v20.8h-20.8zM1315.5 1113.1h20.8v20.8h-20.8zM1316.8 1112.7h20.8v20.8h-20.8zM1318.1 1114h20.8v20.8h-20.8zM1319.4 1113h20.8v20.8h-20.8zM1320.7 1114.1h20.8v20.8h-20.8zM1321.9 1114.4h20.8v20.8h-20.8zM1323.2 1117h20.8v20.8h-20.8zM1324.4 1113.5h20.8v20.8h-20.8zM1325.7 1114.4h20.8v20.8h-20.8zM1326.9 1114.5h20.8v20.8h-20.8zM1328.2 1115.3h20.8v20.8h-20.8zM1329.4 1116.2h20.8v20.8h-20.8zM1330.6 1114.4h20.8v20.8h-20.8zM1331.8 1114h20.8v20.8h-20.8zM1333.1 1113.1h20.8v20.8h-20.8zM1334.3 1114.1h20.8v20.8h-20.8zM1335.5 1116.1h20.8v20.8h-20.8zM1336.7 1115.5h20.8v20.8h-20.8zM1337.9 1114.2h20.8v20.8h-20.8zM1339 1115.1h20.8v20.8h-20.8zM1340.2 1115.8h20.8v20.8h-20.8zM1341.4 1116.6h20.8v20.8h-20.8zM1342.6 1115.1h20.8v20.8h-20.8zM1343.7 1115.7h20.8v20.8h-20.8zM1344.9 1113.4h20.8v20.8h-20.8zM1346.1 1114.4h20.8v20.8h-20.8zM1347.2 1118.8h20.8v20.8h-20.8zM1348.4 1112.9h20.8v20.8h-20.8zM1349.5 1115.9h20.8v20.8h-20.8zM1350.6 1116.9h20.8v20.8h-20.8zM1351.8 1116h20.8v20.8h-20.8zM1352.9 1115.4h20.8v20.8h-20.8zM1354 1116.7h20.8v20.8h-20.8zM1355.1 1116.9h20.8v20.8h-20.8zM1356.2 1116.8h20.8v20.8h-20.8zM1357.3 1113.7h20.8v20.8h-20.8zM1358.5 1116.9h20.8v20.8h-20.8zM1359.6 1115.7h20.8v20.8h-20.8zM1360.6 1116.3h20.8v20.8h-20.8zM1361.7 1117.8h20.8v20.8h-20.8zM1362.8 1118.7h20.8v20.8h-20.8zM1363.9 1119.3h20.8v20.8h-20.8zM1365 1116.7h20.8v20.8h-20.8zM1366.1 1119.6h20.8v20.8h-20.8zM1367.1 1120.2h20.8v20.8h-20.8z" fill="none" stroke="#231F20" stroke-width="5.5" stroke-linejoin="miter"/>
<path d="M199.1 751.2v14M191.1 751.2h16M191.1 765.2h16M275.7 865.8v8M267.7 865.8h16M267.7 873.8h16M335.2 927.4v7.2M327.2 927.4h16M327.2 934.6h16M383.8 959.4v7.2M375.8 959.4h16M375.8 966.6h16M424.8 978.4v6.8M416.8 978.4h16M416.8 985.1h16M460.4 990.5v6M452.4 990.5h16M452.4 996.5h16M491.8 996.2v5.2M483.8 996.2h16M483.8 1001.5h16M519.9 1001.5v4.4M511.9 1001.5h16M511.9 1006h16M545.3 1005v4M537.3 1005h16M537.3 1009h16M568.5 1008v2.4M560.5 1008h16M560.5 1010.4h16M589.8 1010v2.4M581.8 1010h16M581.8 1012.4h16M609.5 1011.4v2.4M601.5 1011.4h16M601.5 1013.8h16M627.9 1012.8v2.4M619.9 1012.8h16M619.9 1015.2h16M645.1 1014.2v2.4M637.1 1014.2h16M637.1 1016.6h16M661.3 1014.8v2.4M653.3 1014.8h16M653.3 1017.2h16M676.5 1015.7v2.4M668.5 1015.7h16M668.5 1018.1h16M690.9 1016.1v2.4M682.9 1016.1h16M682.9 1018.5h16M704.6 1017.4v2.4M696.6 1017.4h16M696.6 1019.8h16M717.6 1017.5v2.4M709.6 1017.5h16M709.6 1019.9h16M730 1018v2.4M722 1018h16M722 1020.4h16M741.8 1018.5v2.4M733.8 1018.5h16M733.8 1020.9h16M753.1 1019v2.4M745.1 1019h16M745.1 1021.4h16M764 1019.3v2.4M756 1019.3h16M756 1021.7h16M774.5 1019.5v2.4M766.5 1019.5h16M766.5 1021.9h16M784.5 1019.8v2.4M776.5 1019.8h16M776.5 1022.2h16M794.2 1020.1v2.4M786.2 1020.1h16M786.2 1022.5h16M803.6 1020.6v2.4M795.6 1020.6h16M795.6 1023h16M812.6 1020.9v2.4M804.6 1020.9h16M804.6 1023.3h16M821.3 1021.5v2.4M813.3 1021.5h16M813.3 1023.9h16M829.8 1022.2v2.4M821.8 1022.2h16M821.8 1024.6h16M838 1022.4v2.4M830 1022.4h16M830 1024.8h16M845.9 1022.7v2.4M837.9 1022.7h16M837.9 1025.1h16M853.7 1023.2v2.4M845.7 1023.2h16M845.7 1025.6h16M861.2 1023.6v2.4M853.2 1023.6h16M853.2 1026h16M868.5 1024.1v2.4M860.5 1024.1h16M860.5 1026.5h16M875.6 1025v2.4M867.6 1025h16M867.6 1027.4h16M882.5 1025.3v2.4M874.5 1025.3h16M874.5 1027.7h16M889.2 1025.5v2.4M881.2 1025.5h16M881.2 1027.9h16M895.8 1026.3v2.4M887.8 1026.3h16M887.8 1028.7h16M902.2 1026.8v2.4M894.2 1026.8h16M894.2 1029.2h16M908.5 1027.1v2.4M900.5 1027.1h16M900.5 1029.5h16M914.6 1027.5v2.4M906.6 1027.5h16M906.6 1029.9h16M920.6 1028v2.4M912.6 1028h16M912.6 1030.4h16M926.5 1028.6v2.4M918.5 1028.6h16M918.5 1031h16M932.2 1029.1v2.4M924.2 1029.1h16M924.2 1031.5h16M937.8 1029.7v2.4M929.8 1029.7h16M929.8 1032.1h16M943.3 1030.1v2.4M935.3 1030.1h16M935.3 1032.5h16M948.7 1030.5v2.4M940.7 1030.5h16M940.7 1032.9h16M954 1030.9v2.4M946 1030.9h16M946 1033.3h16M959.1 1031.2v2.4M951.1 1031.2h16M951.1 1033.6h16M964.2 1031.3v2.4M956.2 1031.3h16M956.2 1033.7h16M969.2 1031.9v2.4M961.2 1031.9h16M961.2 1034.3h16M974.1 1032.4v2.4M966.1 1032.4h16M966.1 1034.8h16M978.9 1032.7v2.4M970.9 1032.7h16M970.9 1035.1h16M983.6 1033.3v2.4M975.6 1033.3h16M975.6 1035.7h16M988.2 1033.6v2.4M980.2 1033.6h16M980.2 1036h16M992.8 1033.9v2.4M984.8 1033.9h16M984.8 1036.3h16M997.3 1034.8v2.4M989.3 1034.8h16M989.3 1037.2h16M1001.7 1035.1v2.4M993.7 1035.1h16M993.7 1037.5h16M1006 1035.5v2.4M998 1035.5h16M998 1037.9h16M1010.3 1036v2.4M1002.3 1036h16M1002.3 1038.4h16M1014.5 1036.5v2.4M1006.5 1036.5h16M1006.5 1038.9h16M1018.6 1036.9v2.4M1010.6 1036.9h16M1010.6 1039.3h16M1022.7 1036.9v2.4M1014.7 1036.9h16M1014.7 1039.3h16M1026.7 1037.6v2.4M1018.7 1037.6h16M1018.7 1040h16M1030.6 1038.1v2.4M1022.6 1038.1h16M1022.6 1040.5h16M1034.5 1038.5v2.4M1026.5 1038.5h16M1026.5 1040.9h16M1038.3 1039.2v2.4M1030.3 1039.2h16M1030.3 1041.6h16M1042.1 1039.8v2.4M1034.1 1039.8h16M1034.1 1042.2h16M1045.9 1040v2.4M1037.9 1040h16M1037.9 1042.4h16M1049.5 1040.3v2.4M1041.5 1040.3h16M1041.5 1042.7h16M1053.2 1041.3v2.4M1045.2 1041.3h16M1045.2 1043.7h16M1056.7 1041.3v2.4M1048.7 1041.3h16M1048.7 1043.7h16M1060.3 1041.6v2.4M1052.3 1041.6h16M1052.3 1044h16M1063.7 1042.3v2.4M1055.7 1042.3h16M1055.7 1044.7h16M1067.2 1042.8v2.4M1059.2 1042.8h16M1059.2 1045.2h16M1070.6 1043v2.4M1062.6 1043h16M1062.6 1045.4h16M1073.9 1043.7v2.4M1065.9 1043.7h16M1065.9 1046.1h16M1077.2 1043.9v2.4M1069.2 1043.9h16M1069.2 1046.3h16M1080.5 1044.3v2.4M1072.5 1044.3h16M1072.5 1046.7h16M1083.7 1044.9v2.4M1075.7 1044.9h16M1075.7 1047.3h16M1086.9 1045.4v2.4M1078.9 1045.4h16M1078.9 1047.8h16M1090.1 1045.5v2.4M1082.1 1045.5h16M1082.1 1047.9h16M1093.2 1046.1v2.4M1085.2 1046.1h16M1085.2 1048.5h16M1096.3 1046.4v2.4M1088.3 1046.4h16M1088.3 1048.8h16M1099.3 1047.3v2.4M1091.3 1047.3h16M1091.3 1049.7h16M1102.3 1047.1v2.4M1094.3 1047.1h16M1094.3 1049.5h16M1105.3 1047.9v2.4M1097.3 1047.9h16M1097.3 1050.3h16M1108.3 1048v2.4M1100.3 1048h16M1100.3 1050.4h16M1111.2 1048.3v2.4M1103.2 1048.3h16M1103.2 1050.7h16M1114 1048.9v2.4M1106 1048.9h16M1106 1051.3h16M1116.9 1049.3v2.4M1108.9 1049.3h16M1108.9 1051.7h16M1119.7 1049.7v2.4M1111.7 1049.7h16M1111.7 1052.1h16M1122.5 1049.9v2.4M1114.5 1049.9h16M1114.5 1052.3h16M1125.3 1050.1v2.4M1117.3 1050.1h16M1117.3 1052.5h16M1128 1050.4v2.4M1120 1050.4h16M1120 1052.8h16M1130.7 1051v2.4M1122.7 1051h16M1122.7 1053.4h16M1133.4 1051.3v2.4M1125.4 1051.3h16M1125.4 1053.7h16M1136 1051.8v2.4M1128 1051.8h16M1128 1054.2h16M1138.7 1052v2.4M1130.7 1052h16M1130.7 1054.4h16M1141.3 1052.5v2.4M1133.3 1052.5h16M1133.3 1054.9h16M1143.8 1052.9v2.4M1135.8 1052.9h16M1135.8 1055.3h16M1146.4 1053v2.4M1138.4 1053h16M1138.4 1055.4h16M1148.9 1052.9v2.4M1140.9 1052.9h16M1140.9 1055.3h16M1151.4 1053.3v2.4M1143.4 1053.3h16M1143.4 1055.7h16M1153.9 1053.6v2.4M1145.9 1053.6h16M1145.9 1056h16M1156.3 1054.5v2.4M1148.3 1054.5h16M1148.3 1056.9h16M1158.8 1054.3v2.4M1150.8 1054.3h16M1150.8 1056.7h16M1161.2 1055.1v2.4M1153.2 1055.1h16M1153.2 1057.5h16M1163.6 1055.3v2.4M1155.6 1055.3h16M1155.6 1057.7h16M1165.9 1055.8v2.4M1157.9 1055.8h16M1157.9 1058.2h16M1168.3 1055.9v2.4M1160.3 1055.9h16M1160.3 1058.3h16M1170.6 1056v2.4M1162.6 1056h16M1162.6 1058.4h16M1172.9 1056.2v2.4M1164.9 1056.2h16M1164.9 1058.6h16M1175.2 1056.6v2.4M1167.2 1056.6h16M1167.2 1059h16M1177.5 1056.9v2.4M1169.5 1056.9h16M1169.5 1059.3h16M1179.7 1057v2.4M1171.7 1057h16M1171.7 1059.4h16M1182 1057.4v2.4M1174 1057.4h16M1174 1059.8h16M1184.2 1058.1v2.4M1176.2 1058.1h16M1176.2 1060.5h16M1186.4 1057.5v2.4M1178.4 1057.5h16M1178.4 1059.9h16M1188.5 1058.3v2.4M1180.5 1058.3h16M1180.5 1060.7h16M1190.7 1058.2v2.4M1182.7 1058.2h16M1182.7 1060.6h16M1192.8 1058.7v2.4M1184.8 1058.7h16M1184.8 1061.1h16M1195 1059.2v2.4M1187 1059.2h16M1187 1061.6h16M1197.1 1059.2v2.4M1189.1 1059.2h16M1189.1 1061.6h16M1199.2 1059.6v2.4M1191.2 1059.6h16M1191.2 1062h16M1201.2 1059.2v2.4M1193.2 1059.2h16M1193.2 1061.6h16M1203.3 1060.2v2.4M1195.3 1060.2h16M1195.3 1062.6h16M1205.3 1059.9v2.4M1197.3 1059.9h16M1197.3 1062.3h16M1207.4 1060.5v2.4M1199.4 1060.5h16M1199.4 1062.9h16M1209.4 1060.6v2.4M1201.4 1060.6h16M1201.4 1063h16M1211.4 1060v2.4M1203.4 1060h16M1203.4 1062.4h16M1213.3 1060.8v2.4M1205.3 1060.8h16M1205.3 1063.2h16M1215.3 1061.3v2.4M1207.3 1061.3h16M1207.3 1063.7h16M1217.3 1061.9v2.4M1209.3 1061.9h16M1209.3 1064.3h16M1219.2 1061.8v2.4M1211.2 1061.8h16M1211.2 1064.2h16M1221.1 1062v2.4M1213.1 1062h16M1213.1 1064.4h16M1223 1061.6v2.4M1215 1061.6h16M1215 1064h16M1224.9 1062.8v2.4M1216.9 1062.8h16M1216.9 1065.2h16M1226.8 1063.1v2.4M1218.8 1063.1h16M1218.8 1065.5h16M1228.7 1062.7v2.4M1220.7 1062.7h16M1220.7 1065.1h16M1230.5 1062.8v2.4M1222.5 1062.8h16M1222.5 1065.2h16M1232.4 1062.5v2.4M1224.4 1062.5h16M1224.4 1064.9h16M1234.2 1063.6v2.4M1226.2 1063.6h16M1226.2 1066h16M1236 1064.5v2.4M1228 1064.5h16M1228 1066.9h16M1237.8 1063.9v2.4M1229.8 1063.9h16M1229.8 1066.3h16M1239.6 1064.3v2.4M1231.6 1064.3h16M1231.6 1066.7h16M1241.4 1064.2v2.4M1233.4 1064.2h16M1233.4 1066.6h16M1243.2 1063.8v2.4M1235.2 1063.8h16M1235.2 1066.2h16M1244.9 1065v2.4M1236.9 1065h16M1236.9 1067.4h16M1246.7 1064.1v2.4M1238.7 1064.1h16M1238.7 1066.5h16M1248.4 1064.7v2.4M1240.4 1064.7h16M1240.4 1067.1h16M1250.2 1065.1v2.4M1242.2 1065.1h16M1242.2 1067.5h16M1251.9 1065.5v2.4M1243.9 1065.5h16M1243.9 1067.9h16M1253.6 1065.5v2.4M1245.6 1065.5h16M1245.6 1067.9h16M1255.3 1065.6v2.4M1247.3 1065.6h16M1247.3 1068h16M1256.9 1065.3v2.4M1248.9 1065.3h16M1248.9 1067.7h16M1258.6 1065.2v2.4M1250.6 1065.2h16M1250.6 1067.6h16M1260.3 1066v2.4M1252.3 1066h16M1252.3 1068.4h16M1261.9 1065.8v2.4M1253.9 1065.8h16M1253.9 1068.2h16M1263.6 1065.7v2.4M1255.6 1065.7h16M1255.6 1068.1h16M1265.2 1065.9v2.4M1257.2 1065.9h16M1257.2 1068.3h16M1266.8 1066.4v2.4M1258.8 1066.4h16M1258.8 1068.8h16M1268.4 1065.9v2.4M1260.4 1065.9h16M1260.4 1068.3h16M1270 1066.3v2.4M1262 1066.3h16M1262 1068.7h16M1271.6 1066.3v2.4M1263.6 1066.3h16M1263.6 1068.7h16M1273.2 1067.4v2.4M1265.2 1067.4h16M1265.2 1069.8h16M1274.8 1067.7v2.4M1266.8 1067.7h16M1266.8 1070.1h16M1276.3 1068.7v2.4M1268.3 1068.7h16M1268.3 1071.1h16M1277.9 1066.9v2.4M1269.9 1066.9h16M1269.9 1069.3h16M1279.4 1067.5v2.4M1271.4 1067.5h16M1271.4 1069.9h16M1281 1068.6v2.4M1273 1068.6h16M1273 1071h16M1282.5 1068.1v2.4M1274.5 1068.1h16M1274.5 1070.5h16M1284 1068.2v2.4M1276 1068.2h16M1276 1070.6h16M1285.5 1069.6v2.4M1277.5 1069.6h16M1277.5 1072h16M1287 1068.5v2.4M1279 1068.5h16M1279 1070.9h16M1288.5 1068.1v2.4M1280.5 1068.1h16M1280.5 1070.5h16M1290 1068.1v2.4M1282 1068.1h16M1282 1070.5h16M1291.5 1069.3v2.4M1283.5 1069.3h16M1283.5 1071.7h16M1292.9 1069.5v2.4M1284.9 1069.5h16M1284.9 1071.9h16M1294.4 1068.4v2.4M1286.4 1068.4h16M1286.4 1070.8h16M1295.8 1068.8v2.4M1287.8 1068.8h16M1287.8 1071.2h16M1297.3 1070.1v2.4M1289.3 1070.1h16M1289.3 1072.5h16M1298.7 1070.2v2.4M1290.7 1070.2h16M1290.7 1072.6h16M1300.2 1069.5v2.4M1292.2 1069.5h16M1292.2 1071.9h16M1301.6 1070.5v2.4M1293.6 1070.5h16M1293.6 1072.9h16M1303 1070.6v2.4M1295 1070.6h16M1295 1073h16M1304.4 1068.9v2.4M1296.4 1068.9h16M1296.4 1071.3h16M1305.8 1070.2v2.4M1297.8 1070.2h16M1297.8 1072.6h16M1307.2 1070.9v2.4M1299.2 1070.9h16M1299.2 1073.3h16M1308.6 1070.3v2.4M1300.6 1070.3h16M1300.6 1072.7h16M1309.9 1069.1v2.4M1301.9 1069.1h16M1301.9 1071.5h16M1311.3 1070.7v2.4M1303.3 1070.7h16M1303.3 1073.1h16M1312.7 1071.8v2.4M1304.7 1071.8h16M1304.7 1074.2h16M1314 1072.6v2.4M1306 1072.6h16M1306 1075h16M1315.4 1069.4v2.4M1307.4 1069.4h16M1307.4 1071.8h16M1316.7 1073.9v2.4M1308.7 1073.9h16M1308.7 1076.3h16M1318.1 1070.6v2.4M1310.1 1070.6h16M1310.1 1073h16M1319.4 1072.6v2.4M1311.4 1072.6h16M1311.4 1075h16M1320.7 1073v2.4M1312.7 1073h16M1312.7 1075.4h16M1322 1072.9v2.4M1314 1072.9h16M1314 1075.3h16M1323.3 1072.2v2.4M1315.3 1072.2h16M1315.3 1074.6h16M1324.6 1071v2.4M1316.6 1071h16M1316.6 1073.4h16M1325.9 1072.9v2.4M1317.9 1072.9h16M1317.9 1075.3h16M1327.2 1071.7v2.4M1319.2 1071.7h16M1319.2 1074.1h16M1328.5 1069.9v2.4M1320.5 1069.9h16M1320.5 1072.3h16M1329.8 1075.7v2.4M1321.8 1075.7h16M1321.8 1078.1h16M1331.1 1073.5v2.4M1323.1 1073.5h16M1323.1 1075.9h16M1332.3 1074.9v2.4M1324.3 1074.9h16M1324.3 1077.3h16M1333.6 1071.9v2.4M1325.6 1071.9h16M1325.6 1074.3h16M1334.8 1074.8v2.4M1326.8 1074.8h16M1326.8 1077.2h16M1336.1 1075v2.4M1328.1 1075h16M1328.1 1077.4h16M1337.3 1075.1v2.5M1329.3 1075.1h16M1329.3 1077.6h16M1338.6 1073.2v2.7M1330.6 1073.2h16M1330.6 1075.9h16M1339.8 1071.8v2.9M1331.8 1071.8h16M1331.8 1074.7h16M1341 1073v3.1M1333 1073h16M1333 1076.1h16M1342.2 1070.5v3.3M1334.2 1070.5h16M1334.2 1073.8h16M1343.5 1071.1v3.5M1335.5 1071.1h16M1335.5 1074.6h16M1344.7 1073.4v3.7M1336.7 1073.4h16M1336.7 1077.1h16M1345.9 1071.9v4M1337.9 1071.9h16M1337.9 1075.9h16M1347.1 1073v4.3M1339.1 1073h16M1339.1 1077.2h16M1348.3 1073v4.5M1340.3 1073h16M1340.3 1077.5h16M1349.4 1075.8v4.8M1341.4 1075.8h16M1341.4 1080.6h16M1350.6 1074.9v5.2M1342.6 1074.9h16M1342.6 1080h16M1351.8 1072.9v5.5M1343.8 1072.9h16M1343.8 1078.4h16M1353 1074.6v5.9M1345 1074.6h16M1345 1080.5h16M1354.1 1071.6v6.3M1346.1 1071.6h16M1346.1 1077.9h16M1355.3 1072.1v6.7M1347.3 1072.1h16M1347.3 1078.8h16M1356.5 1073.9v7.2M1348.5 1073.9h16M1348.5 1081.1h16M1357.6 1070.4v7.7M1349.6 1070.4h16M1349.6 1078.1h16M1358.8 1071.7v8.2M1350.8 1071.7h16M1350.8 1079.9h16M1359.9 1069.9v8.7M1351.9 1069.9h16M1351.9 1078.6h16M1361 1072v9.3M1353 1072h16M1353 1081.3h16M1362.2 1074.3v9.9M1354.2 1074.3h16M1354.2 1084.2h16M1363.3 1070.1v10.6M1355.3 1070.1h16M1355.3 1080.7h16M1364.4 1071.5v11.3M1356.4 1071.5h16M1356.4 1082.8h16M1365.5 1069.2v12.1M1357.5 1069.2h16M1357.5 1081.3h16M1366.6 1068.4v12.9M1358.6 1068.4h16M1358.6 1081.3h16M1367.7 1067.9v13.7M1359.7 1067.9h16M1359.7 1081.7h16M1368.9 1072.4v14.7M1360.9 1072.4h16M1360.9 1087.1h16M1370 1073.7v15.6M1362 1073.7h16M1362 1089.3h16M1371 1069.8v16.7M1363 1069.8h16M1363 1086.5h16M1372.1 1067.1v17.8M1364.1 1067.1h16M1364.1 1084.9h16M1373.2 1069.3v18.9M1365.2 1069.3h16M1365.2 1088.3h16M1374.3 1066.8v20.2M1366.3 1066.8h16M1366.3 1086.9h16M1375.4 1068.4v21.5M1367.4 1068.4h16M1367.4 1089.9h16M1376.5 1066.8v22.9M1368.5 1066.8h16M1368.5 1089.7h16M1377.5 1066.1v24.4M1369.5 1066.1h16M1369.5 1090.5h16" fill="none" stroke="#231F20" stroke-width="4.6"/>
<path d="M197.1 741.2h4l12.2 25.5h-28.4zM199.1 749.6l-5.6 11.7h11.2zM273.7 852.8h4l12.2 25.5h-28.4zM275.7 861.1l-5.6 11.7h11.2zM333.2 914h4l12.2 25.5h-28.4zM335.2 922.4l-5.6 11.7h11.2zM381.8 946h4l12.2 25.5h-28.4zM383.8 954.4l-5.6 11.7h11.2zM422.8 964.8h4l12.2 25.5h-28.4zM424.8 973.1l-5.6 11.7h11.2zM458.4 976.5h4l12.2 25.5h-28.4zM460.4 984.9l-5.6 11.7h11.2zM489.8 981.9h4l12.2 25.5h-28.4zM491.8 990.2l-5.6 11.7h11.2zM517.9 986.8h4l12.2 25.5h-28.4zM519.9 995.1l-5.6 11.7h11.2zM543.3 990h4l12.2 25.5h-28.4zM545.3 998.4l-5.6 11.7h11.2zM566.5 992.2h4l12.2 25.5h-28.4zM568.5 1000.6l-5.6 11.7h11.2zM587.8 994.2h4l12.2 25.5h-28.4zM589.8 1002.6l-5.6 11.7h11.2zM607.5 995.6h4l12.2 25.5h-28.4zM609.5 1004l-5.6 11.7h11.2zM625.9 997h4l12.2 25.5h-28.4zM627.9 1005.4l-5.6 11.7h11.2zM643.1 998.4h4l12.2 25.5h-28.4zM645.1 1006.8l-5.6 11.7h11.2zM659.3 999h4l12.2 25.5h-28.4zM661.3 1007.4l-5.6 11.7h11.2zM674.5 999.9h4l12.2 25.5h-28.4zM676.5 1008.3l-5.6 11.7h11.2zM688.9 1000.3h4l12.2 25.5h-28.4zM690.9 1008.7l-5.6 11.7h11.2zM702.6 1001.6h4l12.2 25.5h-28.4zM704.6 1010l-5.6 11.7h11.2zM715.6 1001.7h4l12.2 25.5h-28.4zM717.6 1010.1l-5.6 11.7h11.2zM728 1002.2h4l12.2 25.5h-28.4zM730 1010.6l-5.6 11.7h11.2zM739.8 1002.7h4l12.2 25.5h-28.4zM741.8 1011.1l-5.6 11.7h11.2zM751.1 1003.2h4l12.2 25.5h-28.4zM753.1 1011.6l-5.6 11.7h11.2zM762 1003.5h4l12.2 25.5h-28.4zM764 1011.9l-5.6 11.7h11.2zM772.5 1003.7h4l12.2 25.5h-28.4zM774.5 1012.1l-5.6 11.7h11.2zM782.5 1004h4l12.2 25.5h-28.4zM784.5 1012.4l-5.6 11.7h11.2zM792.2 1004.3h4l12.2 25.5h-28.4zM794.2 1012.7l-5.6 11.7h11.2zM801.6 1004.8h4l12.2 25.5h-28.4zM803.6 1013.2l-5.6 11.7h11.2zM810.6 1005.1h4l12.2 25.5h-28.4zM812.6 1013.5l-5.6 11.7h11.2zM819.3 1005.7h4l12.2 25.5h-28.4zM821.3 1014.1l-5.6 11.7h11.2zM827.8 1006.4h4l12.2 25.5h-28.4zM829.8 1014.8l-5.6 11.7h11.2zM836 1006.6h4l12.2 25.5h-28.4zM838 1015l-5.6 11.7h11.2zM843.9 1006.9h4l12.2 25.5h-28.4zM845.9 1015.3l-5.6 11.7h11.2zM851.7 1007.4h4l12.2 25.5h-28.4zM853.7 1015.8l-5.6 11.7h11.2zM859.2 1007.8h4l12.2 25.5h-28.4zM861.2 1016.2l-5.6 11.7h11.2zM866.5 1008.3h4l12.2 25.5h-28.4zM868.5 1016.7l-5.6 11.7h11.2zM873.6 1009.2h4l12.2 25.5h-28.4zM875.6 1017.6l-5.6 11.7h11.2zM880.5 1009.5h4l12.2 25.5h-28.4zM882.5 1017.9l-5.6 11.7h11.2zM887.2 1009.7h4l12.2 25.5h-28.4zM889.2 1018.1l-5.6 11.7h11.2zM893.8 1010.5h4l12.2 25.5h-28.4zM895.8 1018.9l-5.6 11.7h11.2zM900.2 1011h4l12.2 25.5h-28.4zM902.2 1019.4l-5.6 11.7h11.2zM906.5 1011.3h4l12.2 25.5h-28.4zM908.5 1019.7l-5.6 11.7h11.2zM912.6 1011.7h4l12.2 25.5h-28.4zM914.6 1020.1l-5.6 11.7h11.2zM918.6 1012.2h4l12.2 25.5h-28.4zM920.6 1020.6l-5.6 11.7h11.2zM924.5 1012.8h4l12.2 25.5h-28.4zM926.5 1021.2l-5.6 11.7h11.2zM930.2 1013.3h4l12.2 25.5h-28.4zM932.2 1021.7l-5.6 11.7h11.2zM935.8 1013.9h4l12.2 25.5h-28.4zM937.8 1022.3l-5.6 11.7h11.2zM941.3 1014.3h4l12.2 25.5h-28.4zM943.3 1022.7l-5.6 11.7h11.2zM946.7 1014.7h4l12.2 25.5h-28.4zM948.7 1023.1l-5.6 11.7h11.2zM952 1015.1h4l12.2 25.5h-28.4zM954 1023.5l-5.6 11.7h11.2zM957.1 1015.4h4l12.2 25.5h-28.4zM959.1 1023.8l-5.6 11.7h11.2zM962.2 1015.5h4l12.2 25.5h-28.4zM964.2 1023.9l-5.6 11.7h11.2zM967.2 1016.1h4l12.2 25.5h-28.4zM969.2 1024.5l-5.6 11.7h11.2zM972.1 1016.6h4l12.2 25.5h-28.4zM974.1 1025l-5.6 11.7h11.2zM976.9 1016.9h4l12.2 25.5h-28.4zM978.9 1025.3l-5.6 11.7h11.2zM981.6 1017.5h4l12.2 25.5h-28.4zM983.6 1025.9l-5.6 11.7h11.2zM986.2 1017.8h4l12.2 25.5h-28.4zM988.2 1026.2l-5.6 11.7h11.2zM990.8 1018.1h4l12.2 25.5h-28.4zM992.8 1026.5l-5.6 11.7h11.2zM995.3 1019h4l12.2 25.5h-28.4zM997.3 1027.4l-5.6 11.7h11.2zM999.7 1019.3h4l12.2 25.5h-28.4zM1001.7 1027.7l-5.6 11.7h11.2zM1004 1019.7h4l12.2 25.5h-28.4zM1006 1028.1l-5.6 11.7h11.2zM1008.3 1020.2h4l12.2 25.5h-28.4zM1010.3 1028.6l-5.6 11.7h11.2zM1012.5 1020.7h4l12.2 25.5h-28.4zM1014.5 1029.1l-5.6 11.7h11.2zM1016.6 1021.1h4l12.2 25.5h-28.4zM1018.6 1029.5l-5.6 11.7h11.2zM1020.7 1021.1h4l12.2 25.5h-28.4zM1022.7 1029.5l-5.6 11.7h11.2zM1024.7 1021.8h4l12.2 25.5h-28.4zM1026.7 1030.2l-5.6 11.7h11.2zM1028.6 1022.3h4l12.2 25.5h-28.4zM1030.6 1030.7l-5.6 11.7h11.2zM1032.5 1022.7h4l12.2 25.5h-28.4zM1034.5 1031.1l-5.6 11.7h11.2zM1036.3 1023.4h4l12.2 25.5h-28.4zM1038.3 1031.8l-5.6 11.7h11.2zM1040.1 1024h4l12.2 25.5h-28.4zM1042.1 1032.4l-5.6 11.7h11.2zM1043.9 1024.2h4l12.2 25.5h-28.4zM1045.9 1032.6l-5.6 11.7h11.2zM1047.5 1024.5h4l12.2 25.5h-28.4zM1049.5 1032.9l-5.6 11.7h11.2zM1051.2 1025.5h4l12.2 25.5h-28.4zM1053.2 1033.9l-5.6 11.7h11.2zM1054.7 1025.5h4l12.2 25.5h-28.4zM1056.7 1033.9l-5.6 11.7h11.2zM1058.3 1025.8h4l12.2 25.5h-28.4zM1060.3 1034.2l-5.6 11.7h11.2zM1061.7 1026.5h4l12.2 25.5h-28.4zM1063.7 1034.9l-5.6 11.7h11.2zM1065.2 1027h4l12.2 25.5h-28.4zM1067.2 1035.4l-5.6 11.7h11.2zM1068.6 1027.2h4l12.2 25.5h-28.4zM1070.6 1035.6l-5.6 11.7h11.2zM1071.9 1027.9h4l12.2 25.5h-28.4zM1073.9 1036.3l-5.6 11.7h11.2zM1075.2 1028.1h4l12.2 25.5h-28.4zM1077.2 1036.5l-5.6 11.7h11.2zM1078.5 1028.5h4l12.2 25.5h-28.4zM1080.5 1036.9l-5.6 11.7h11.2zM1081.7 1029.1h4l12.2 25.5h-28.4zM1083.7 1037.5l-5.6 11.7h11.2zM1084.9 1029.6h4l12.2 25.5h-28.4zM1086.9 1038l-5.6 11.7h11.2zM1088.1 1029.7h4l12.2 25.5h-28.4zM1090.1 1038.1l-5.6 11.7h11.2zM1091.2 1030.3h4l12.2 25.5h-28.4zM1093.2 1038.7l-5.6 11.7h11.2zM1094.3 1030.6h4l12.2 25.5h-28.4zM1096.3 1039l-5.6 11.7h11.2zM1097.3 1031.5h4l12.2 25.5h-28.4zM1099.3 1039.9l-5.6 11.7h11.2zM1100.3 1031.3h4l12.2 25.5h-28.4zM1102.3 1039.7l-5.6 11.7h11.2zM1103.3 1032.1h4l12.2 25.5h-28.4zM1105.3 1040.5l-5.6 11.7h11.2zM1106.3 1032.2h4l12.2 25.5h-28.4zM1108.3 1040.6l-5.6 11.7h11.2zM1109.2 1032.5h4l12.2 25.5h-28.4zM1111.2 1040.9l-5.6 11.7h11.2zM1112 1033.1h4l12.2 25.5h-28.4zM1114 1041.5l-5.6 11.7h11.2zM1114.9 1033.5h4l12.2 25.5h-28.4zM1116.9 1041.9l-5.6 11.7h11.2zM1117.7 1033.9h4l12.2 25.5h-28.4zM1119.7 1042.3l-5.6 11.7h11.2zM1120.5 1034.1h4l12.2 25.5h-28.4zM1122.5 1042.5l-5.6 11.7h11.2zM1123.3 1034.3h4l12.2 25.5h-28.4zM1125.3 1042.7l-5.6 11.7h11.2zM1126 1034.6h4l12.2 25.5h-28.4zM1128 1043l-5.6 11.7h11.2zM1128.7 1035.2h4l12.2 25.5h-28.4zM1130.7 1043.6l-5.6 11.7h11.2zM1131.4 1035.5h4l12.2 25.5h-28.4zM1133.4 1043.9l-5.6 11.7h11.2zM1134 1036h4l12.2 25.5h-28.4zM1136 1044.4l-5.6 11.7h11.2zM1136.7 1036.2h4l12.2 25.5h-28.4zM1138.7 1044.6l-5.6 11.7h11.2zM1139.3 1036.7h4l12.2 25.5h-28.4zM1141.3 1045.1l-5.6 11.7h11.2zM1141.8 1037.1h4l12.2 25.5h-28.4zM1143.8 1045.5l-5.6 11.7h11.2zM1144.4 1037.2h4l12.2 25.5h-28.4zM1146.4 1045.6l-5.6 11.7h11.2zM1146.9 1037.1h4l12.2 25.5h-28.4zM1148.9 1045.5l-5.6 11.7h11.2zM1149.4 1037.5h4l12.2 25.5h-28.4zM1151.4 1045.9l-5.6 11.7h11.2zM1151.9 1037.8h4l12.2 25.5h-28.4zM1153.9 1046.2l-5.6 11.7h11.2zM1154.3 1038.7h4l12.2 25.5h-28.4zM1156.3 1047.1l-5.6 11.7h11.2zM1156.8 1038.5h4l12.2 25.5h-28.4zM1158.8 1046.9l-5.6 11.7h11.2zM1159.2 1039.3h4l12.2 25.5h-28.4zM1161.2 1047.7l-5.6 11.7h11.2zM1161.6 1039.5h4l12.2 25.5h-28.4zM1163.6 1047.9l-5.6 11.7h11.2zM1163.9 1040h4l12.2 25.5h-28.4zM1165.9 1048.4l-5.6 11.7h11.2zM1166.3 1040.1h4l12.2 25.5h-28.4zM1168.3 1048.5l-5.6 11.7h11.2zM1168.6 1040.2h4l12.2 25.5h-28.4zM1170.6 1048.6l-5.6 11.7h11.2zM1170.9 1040.4h4l12.2 25.5h-28.4zM1172.9 1048.8l-5.6 11.7h11.2zM1173.2 1040.8h4l12.2 25.5h-28.4zM1175.2 1049.2l-5.6 11.7h11.2zM1175.5 1041.1h4l12.2 25.5h-28.4zM1177.5 1049.5l-5.6 11.7h11.2zM1177.7 1041.2h4l12.2 25.5h-28.4zM1179.7 1049.6l-5.6 11.7h11.2zM1180 1041.6h4l12.2 25.5h-28.4zM1182 1050l-5.6 11.7h11.2zM1182.2 1042.3h4l12.2 25.5h-28.4zM1184.2 1050.7l-5.6 11.7h11.2zM1184.4 1041.7h4l12.2 25.5h-28.4zM1186.4 1050.1l-5.6 11.7h11.2zM1186.5 1042.5h4l12.2 25.5h-28.4zM1188.5 1050.9l-5.6 11.7h11.2zM1188.7 1042.4h4l12.2 25.5h-28.4zM1190.7 1050.8l-5.6 11.7h11.2zM1190.8 1042.9h4l12.2 25.5h-28.4zM1192.8 1051.3l-5.6 11.7h11.2zM1193 1043.4h4l12.2 25.5h-28.4zM1195 1051.8l-5.6 11.7h11.2zM1195.1 1043.4h4l12.2 25.5h-28.4zM1197.1 1051.8l-5.6 11.7h11.2zM1197.2 1043.8h4l12.2 25.5h-28.4zM1199.2 1052.2l-5.6 11.7h11.2zM1199.2 1043.4h4l12.2 25.5h-28.4zM1201.2 1051.8l-5.6 11.7h11.2zM1201.3 1044.4h4l12.2 25.5h-28.4zM1203.3 1052.8l-5.6 11.7h11.2zM1203.3 1044.1h4l12.2 25.5h-28.4zM1205.3 1052.5l-5.6 11.7h11.2zM1205.4 1044.7h4l12.2 25.5h-28.4zM1207.4 1053.1l-5.6 11.7h11.2zM1207.4 1044.8h4l12.2 25.5h-28.4zM1209.4 1053.2l-5.6 11.7h11.2zM1209.4 1044.2h4l12.2 25.5h-28.4zM1211.4 1052.6l-5.6 11.7h11.2zM1211.3 1045h4l12.2 25.5h-28.4zM1213.3 1053.4l-5.6 11.7h11.2zM1213.3 1045.5h4l12.2 25.5h-28.4zM1215.3 1053.9l-5.6 11.7h11.2zM1215.3 1046.1h4l12.2 25.5h-28.4zM1217.3 1054.5l-5.6 11.7h11.2zM1217.2 1046h4l12.2 25.5h-28.4zM1219.2 1054.4l-5.6 11.7h11.2zM1219.1 1046.2h4l12.2 25.5h-28.4zM1221.1 1054.6l-5.6 11.7h11.2zM1221 1045.8h4l12.2 25.5h-28.4zM1223 1054.2l-5.6 11.7h11.2zM1222.9 1047h4l12.2 25.5h-28.4zM1224.9 1055.4l-5.6 11.7h11.2zM1224.8 1047.3h4l12.2 25.5h-28.4zM1226.8 1055.7l-5.6 11.7h11.2zM1226.7 1046.9h4l12.2 25.5h-28.4zM1228.7 1055.3l-5.6 11.7h11.2zM1228.5 1047h4l12.2 25.5h-28.4zM1230.5 1055.4l-5.6 11.7h11.2zM1230.4 1046.7h4l12.2 25.5h-28.4zM1232.4 1055.1l-5.6 11.7h11.2zM1232.2 1047.8h4l12.2 25.5h-28.4zM1234.2 1056.2l-5.6 11.7h11.2zM1234 1048.7h4l12.2 25.5h-28.4zM1236 1057.1l-5.6 11.7h11.2zM1235.8 1048.1h4l12.2 25.5h-28.4zM1237.8 1056.5l-5.6 11.7h11.2zM1237.6 1048.5h4l12.2 25.5h-28.4zM1239.6 1056.9l-5.6 11.7h11.2zM1239.4 1048.4h4l12.2 25.5h-28.4zM1241.4 1056.8l-5.6 11.7h11.2zM1241.2 1048h4l12.2 25.5h-28.4zM1243.2 1056.4l-5.6 11.7h11.2zM1242.9 1049.2h4l12.2 25.5h-28.4zM1244.9 1057.6l-5.6 11.7h11.2zM1244.7 1048.3h4l12.2 25.5h-28.4zM1246.7 1056.7l-5.6 11.7h11.2zM1246.4 1048.9h4l12.2 25.5h-28.4zM1248.4 1057.3l-5.6 11.7h11.2zM1248.2 1049.3h4l12.2 25.5h-28.4zM1250.2 1057.7l-5.6 11.7h11.2zM1249.9 1049.7h4l12.2 25.5h-28.4zM1251.9 1058.1l-5.6 11.7h11.2zM1251.6 1049.7h4l12.2 25.5h-28.4zM1253.6 1058.1l-5.6 11.7h11.2zM1253.3 1049.8h4l12.2 25.5h-28.4zM1255.3 1058.2l-5.6 11.7h11.2zM1254.9 1049.5h4l12.2 25.5h-28.4zM1256.9 1057.9l-5.6 11.7h11.2zM1256.6 1049.4h4l12.2 25.5h-28.4zM1258.6 1057.8l-5.6 11.7h11.2zM1258.3 1050.2h4l12.2 25.5h-28.4zM1260.3 1058.6l-5.6 11.7h11.2zM1259.9 1050h4l12.2 25.5h-28.4zM1261.9 1058.4l-5.6 11.7h11.2zM1261.6 1049.9h4l12.2 25.5h-28.4zM1263.6 1058.3l-5.6 11.7h11.2zM1263.2 1050.1h4l12.2 25.5h-28.4zM1265.2 1058.5l-5.6 11.7h11.2zM1264.8 1050.6h4l12.2 25.5h-28.4zM1266.8 1059l-5.6 11.7h11.2zM1266.4 1050.1h4l12.2 25.5h-28.4zM1268.4 1058.5l-5.6 11.7h11.2zM1268 1050.5h4l12.2 25.5h-28.4zM1270 1058.9l-5.6 11.7h11.2zM1269.6 1050.5h4l12.2 25.5h-28.4zM1271.6 1058.9l-5.6 11.7h11.2zM1271.2 1051.6h4l12.2 25.5h-28.4zM1273.2 1060l-5.6 11.7h11.2zM1272.8 1051.9h4l12.2 25.5h-28.4zM1274.8 1060.3l-5.6 11.7h11.2zM1274.3 1052.9h4l12.2 25.5h-28.4zM1276.3 1061.3l-5.6 11.7h11.2zM1275.9 1051.1h4l12.2 25.5h-28.4zM1277.9 1059.5l-5.6 11.7h11.2zM1277.4 1051.7h4l12.2 25.5h-28.4zM1279.4 1060.1l-5.6 11.7h11.2zM1279 1052.8h4l12.2 25.5h-28.4zM1281 1061.2l-5.6 11.7h11.2zM1280.5 1052.3h4l12.2 25.5h-28.4zM1282.5 1060.7l-5.6 11.7h11.2zM1282 1052.4h4l12.2 25.5h-28.4zM1284 1060.8l-5.6 11.7h11.2zM1283.5 1053.8h4l12.2 25.5h-28.4zM1285.5 1062.2l-5.6 11.7h11.2zM1285 1052.7h4l12.2 25.5h-28.4zM1287 1061.1l-5.6 11.7h11.2zM1286.5 1052.3h4l12.2 25.5h-28.4zM1288.5 1060.7l-5.6 11.7h11.2zM1288 1052.3h4l12.2 25.5h-28.4zM1290 1060.7l-5.6 11.7h11.2zM1289.5 1053.5h4l12.2 25.5h-28.4zM1291.5 1061.9l-5.6 11.7h11.2zM1290.9 1053.7h4l12.2 25.5h-28.4zM1292.9 1062.1l-5.6 11.7h11.2zM1292.4 1052.6h4l12.2 25.5h-28.4zM1294.4 1061l-5.6 11.7h11.2zM1293.8 1053h4l12.2 25.5h-28.4zM1295.8 1061.4l-5.6 11.7h11.2zM1295.3 1054.3h4l12.2 25.5h-28.4zM1297.3 1062.7l-5.6 11.7h11.2zM1296.7 1054.4h4l12.2 25.5h-28.4zM1298.7 1062.8l-5.6 11.7h11.2zM1298.2 1053.7h4l12.2 25.5h-28.4zM1300.2 1062.1l-5.6 11.7h11.2zM1299.6 1054.7h4l12.2 25.5h-28.4zM1301.6 1063.1l-5.6 11.7h11.2zM1301 1054.8h4l12.2 25.5h-28.4zM1303 1063.2l-5.6 11.7h11.2zM1302.4 1053.1h4l12.2 25.5h-28.4zM1304.4 1061.5l-5.6 11.7h11.2zM1303.8 1054.4h4l12.2 25.5h-28.4zM1305.8 1062.8l-5.6 11.7h11.2zM1305.2 1055.1h4l12.2 25.5h-28.4zM1307.2 1063.5l-5.6 11.7h11.2zM1306.6 1054.5h4l12.2 25.5h-28.4zM1308.6 1062.9l-5.6 11.7h11.2zM1307.9 1053.3h4l12.2 25.5h-28.4zM1309.9 1061.7l-5.6 11.7h11.2zM1309.3 1054.9h4l12.2 25.5h-28.4zM1311.3 1063.3l-5.6 11.7h11.2zM1310.7 1056h4l12.2 25.5h-28.4zM1312.7 1064.4l-5.6 11.7h11.2zM1312 1056.8h4l12.2 25.5h-28.4zM1314 1065.2l-5.6 11.7h11.2zM1313.4 1053.6h4l12.2 25.5h-28.4zM1315.4 1062l-5.6 11.7h11.2zM1314.7 1058.1h4l12.2 25.5h-28.4zM1316.7 1066.5l-5.6 11.7h11.2zM1316.1 1054.8h4l12.2 25.5h-28.4zM1318.1 1063.2l-5.6 11.7h11.2zM1317.4 1056.8h4l12.2 25.5h-28.4zM1319.4 1065.2l-5.6 11.7h11.2zM1318.7 1057.2h4l12.2 25.5h-28.4zM1320.7 1065.6l-5.6 11.7h11.2zM1320 1057.1h4l12.2 25.5h-28.4zM1322 1065.5l-5.6 11.7h11.2zM1321.3 1056.4h4l12.2 25.5h-28.4zM1323.3 1064.8l-5.6 11.7h11.2zM1322.6 1055.2h4l12.2 25.5h-28.4zM1324.6 1063.6l-5.6 11.7h11.2zM1323.9 1057.1h4l12.2 25.5h-28.4zM1325.9 1065.5l-5.6 11.7h11.2zM1325.2 1055.9h4l12.2 25.5h-28.4zM1327.2 1064.3l-5.6 11.7h11.2zM1326.5 1054.1h4l12.2 25.5h-28.4zM1328.5 1062.5l-5.6 11.7h11.2zM1327.8 1059.9h4l12.2 25.5h-28.4zM1329.8 1068.3l-5.6 11.7h11.2zM1329.1 1057.7h4l12.2 25.5h-28.4zM1331.1 1066.1l-5.6 11.7h11.2zM1330.3 1059.1h4l12.2 25.5h-28.4zM1332.3 1067.5l-5.6 11.7h11.2zM1331.6 1056.1h4l12.2 25.5h-28.4zM1333.6 1064.5l-5.6 11.7h11.2zM1332.8 1059h4l12.2 25.5h-28.4zM1334.8 1067.4l-5.6 11.7h11.2zM1334.1 1059.2h4l12.2 25.5h-28.4zM1336.1 1067.6l-5.6 11.7h11.2zM1335.3 1059.3h4l12.2 25.5h-28.4zM1337.3 1067.7l-5.6 11.7h11.2zM1336.6 1057.6h4l12.2 25.5h-28.4zM1338.6 1066l-5.6 11.7h11.2zM1337.8 1056.2h4l12.2 25.5h-28.4zM1339.8 1064.6l-5.6 11.7h11.2zM1339 1057.6h4l12.2 25.5h-28.4zM1341 1066l-5.6 11.7h11.2zM1340.2 1055.1h4l12.2 25.5h-28.4zM1342.2 1063.5l-5.6 11.7h11.2zM1341.5 1055.8h4l12.2 25.5h-28.4zM1343.5 1064.2l-5.6 11.7h11.2zM1342.7 1058.2h4l12.2 25.5h-28.4zM1344.7 1066.6l-5.6 11.7h11.2zM1343.9 1056.9h4l12.2 25.5h-28.4zM1345.9 1065.3l-5.6 11.7h11.2zM1345.1 1058.1h4l12.2 25.5h-28.4zM1347.1 1066.5l-5.6 11.7h11.2zM1346.3 1058.3h4l12.2 25.5h-28.4zM1348.3 1066.7l-5.6 11.7h11.2zM1347.4 1061.2h4l12.2 25.5h-28.4zM1349.4 1069.6l-5.6 11.7h11.2zM1348.6 1060.5h4l12.2 25.5h-28.4zM1350.6 1068.9l-5.6 11.7h11.2zM1349.8 1058.6h4l12.2 25.5h-28.4zM1351.8 1067l-5.6 11.7h11.2zM1351 1060.6h4l12.2 25.5h-28.4zM1353 1069l-5.6 11.7h11.2zM1352.1 1057.7h4l12.2 25.5h-28.4zM1354.1 1066.1l-5.6 11.7h11.2zM1353.3 1058.5h4l12.2 25.5h-28.4zM1355.3 1066.9l-5.6 11.7h11.2zM1354.5 1060.5h4l12.2 25.5h-28.4zM1356.5 1068.9l-5.6 11.7h11.2zM1355.6 1057.2h4l12.2 25.5h-28.4zM1357.6 1065.6l-5.6 11.7h11.2zM1356.8 1058.8h4l12.2 25.5h-28.4zM1358.8 1067.2l-5.6 11.7h11.2zM1357.9 1057.2h4l12.2 25.5h-28.4zM1359.9 1065.6l-5.6 11.7h11.2zM1359 1059.6h4l12.2 25.5h-28.4zM1361 1068l-5.6 11.7h11.2zM1360.2 1062.3h4l12.2 25.5h-28.4zM1362.2 1070.7l-5.6 11.7h11.2zM1361.3 1058.4h4l12.2 25.5h-28.4zM1363.3 1066.8l-5.6 11.7h11.2zM1362.4 1060.1h4l12.2 25.5h-28.4zM1364.4 1068.5l-5.6 11.7h11.2zM1363.5 1058.3h4l12.2 25.5h-28.4zM1365.5 1066.7l-5.6 11.7h11.2zM1364.6 1057.9h4l12.2 25.5h-28.4zM1366.6 1066.3l-5.6 11.7h11.2zM1365.7 1057.8h4l12.2 25.5h-28.4zM1367.7 1066.2l-5.6 11.7h11.2zM1366.9 1062.7h4l12.2 25.5h-28.4zM1368.9 1071.1l-5.6 11.7h11.2zM1368 1064.5h4l12.2 25.5h-28.4zM1370 1072.9l-5.6 11.7h11.2zM1369 1061.2h4l12.2 25.5h-28.4zM1371 1069.6l-5.6 11.7h11.2zM1370.1 1059h4l12.2 25.5h-28.4zM1372.1 1067.4l-5.6 11.7h11.2zM1371.2 1061.8h4l12.2 25.5h-28.4zM1373.2 1070.2l-5.6 11.7h11.2zM1372.3 1059.9h4l12.2 25.5h-28.4zM1374.3 1068.3l-5.6 11.7h11.2zM1373.4 1062.2h4l12.2 25.5h-28.4zM1375.4 1070.6l-5.6 11.7h11.2zM1374.5 1061.3h4l12.2 25.5h-28.4zM1376.5 1069.7l-5.6 11.7h11.2zM1375.5 1061.3h4l12.2 25.5h-28.4zM1377.5 1069.7l-5.6 11.7h11.2z" fill="#231F20"/>
<polyline points="199.1,872.3 205.4,881.1 211.8,889.8 218.1,898.4 224.5,906.8 230.8,915.2 237.2,923.3 243.5,931.4 249.9,939.3 256.2,947.1 262.6,954.7 268.9,962.3 275.3,969.7 281.6,977 288,984.2 294.3,991.3 300.7,998.3 307,1005.1 313.3,1011.7 319.7,1018.1 326,1024.2 332.4,1029.9 338.7,1035.4 345.1,1040.7 351.4,1045.7 357.8,1050.5 364.1,1055.1 370.5,1059.4 376.8,1063.5 383.2,1067.4 389.5,1071.1 395.9,1074.5 402.2,1077.8 408.6,1080.9 414.9,1083.9 421.3,1086.8 427.6,1089.6 433.9,1092.4 440.3,1095 446.6,1097.5 453,1099.9 459.3,1102.1 465.7,1104.2 472,1106.2 478.4,1108 484.7,1109.7 491.1,1111.3 497.4,1112.9 503.8,1114.3 510.1,1115.6 516.5,1116.9 522.8,1118.1 529.2,1119.3 535.5,1120.4 541.8,1121.3 548.2,1122.1 554.5,1122.8 560.9,1123.5 567.2,1124.1 573.6,1124.7 579.9,1125.3 586.3,1125.9 592.6,1126.5 599,1127 605.3,1127.5 611.7,1128 618,1128.5 624.4,1129 630.7,1129.4 637.1,1129.8 643.4,1130.2 649.8,1130.5 656.1,1130.8 662.4,1131.1 668.8,1131.3 675.1,1131.5 681.5,1131.7 687.8,1131.8 694.2,1131.9 700.5,1132 706.9,1132 713.2,1132 719.6,1132 725.9,1132 732.3,1132 738.6,1132 745,1131.9 751.3,1131.9 757.7,1131.9 764,1131.8" fill="none" stroke="#ED1C24" stroke-width="6.9" stroke-linecap="round" stroke-linejoin="round"/>
<polyline points="199.1,853.2 205.4,862.4 211.8,871.5 218.1,880.4 224.5,889 230.8,897.3 237.2,905.4 243.5,913.2 249.9,920.7 256.2,927.9 262.6,934.8 268.9,941.4 275.3,947.8 281.6,953.8 288,959.6 294.3,965.2 300.7,970.6 307,975.7 313.3,980.6 319.7,985.3 326,989.8 332.4,994 338.7,998.1 345.1,1001.9 351.4,1005.5 357.8,1009 364.1,1012.3 370.5,1015.5 376.8,1018.5 383.2,1021.5 389.5,1024.3 395.9,1027.1 402.2,1029.7 408.6,1032.2 414.9,1034.6 421.3,1036.9 427.6,1039 433.9,1041 440.3,1042.9 446.6,1044.7 453,1046.3 459.3,1047.9 465.7,1049.4 472,1050.7 478.4,1052 484.7,1053.2 491.1,1054.4 497.4,1055.4 503.8,1056.4 510.1,1057.2 516.5,1058 522.8,1058.8 529.2,1059.4 535.5,1060 541.8,1060.4 548.2,1060.9 554.5,1061.3 560.9,1061.6 567.2,1062 573.6,1062.3 579.9,1062.6 586.3,1062.9 592.6,1063.2 599,1063.5 605.3,1063.8 611.7,1064.1 618,1064.3 624.4,1064.6 630.7,1064.8 637.1,1065.1 643.4,1065.3 649.8,1065.5 656.1,1065.7 662.4,1065.9 668.8,1066 675.1,1066.2 681.5,1066.4 687.8,1066.5 694.2,1066.6 700.5,1066.7 706.9,1066.9 713.2,1067 719.6,1067 725.9,1067.1 732.3,1067.2 738.6,1067.3 745,1067.4 751.3,1067.4 757.7,1067.5 764,1067.5" fill="none" stroke="#00A651" stroke-width="6.9" stroke-linecap="round" stroke-linejoin="round"/>
<polyline points="199.1,756.7 205.4,767.4 211.8,777.9 218.1,788.3 224.5,798.3 230.8,808.1 237.2,817.6 243.5,826.9 249.9,835.9 256.2,844.5 262.6,852.9 268.9,861.1 275.3,868.9 281.6,876.5 288,883.9 294.3,891 300.7,897.9 307,904.5 313.3,910.9 319.7,917 326,922.7 332.4,928.1 338.7,933.2 345.1,938.1 351.4,942.7 357.8,947 364.1,951.1 370.5,955.1 376.8,958.8 383.2,962.4 389.5,965.8 395.9,969 402.2,972.1 408.6,975 414.9,977.8 421.3,980.4 427.6,982.8 433.9,985.1 440.3,987.2 446.6,989.2 453,991.2 459.3,993 465.7,994.8 472,996.6 478.4,998.2 484.7,999.7 491.1,1001.1 497.4,1002.4 503.8,1003.5 510.1,1004.6 516.5,1005.5 522.8,1006.4 529.2,1007.2 535.5,1008 541.8,1008.6 548.2,1009.2 554.5,1009.7 560.9,1010.2 567.2,1010.7 573.6,1011.2 579.9,1011.7 586.3,1012.1 592.6,1012.6 599,1013 605.3,1013.4 611.7,1013.8 618,1014.2 624.4,1014.5 630.7,1014.9 637.1,1015.2 643.4,1015.5 649.8,1015.8 656.1,1016 662.4,1016.3 668.8,1016.5 675.1,1016.6 681.5,1016.8 687.8,1016.9 694.2,1016.9 700.5,1017 706.9,1017 713.2,1017 719.6,1017 725.9,1016.9 732.3,1016.9 738.6,1016.8 745,1016.7 751.3,1016.6 757.7,1016.5 764,1016.3" fill="none" stroke="#8C0A0E" stroke-width="6.9" stroke-linecap="round" stroke-linejoin="round"/>
<polyline points="704.5,1134.8 712,1134.9 719.5,1134.9 726.9,1135 734.4,1135.1 741.9,1135.2 749.4,1135.3 756.9,1135.5 764.3,1135.6 771.8,1135.8 779.3,1135.9 786.8,1136.1 794.3,1136.3 801.8,1136.5 809.2,1136.6 816.7,1136.9 824.2,1137.1 831.7,1137.3 839.2,1137.6 846.6,1137.8 854.1,1138.1 861.6,1138.4 869.1,1138.7 876.6,1139.1 884,1139.4 891.5,1139.8 899,1140.2 906.5,1140.6 914,1141.1 921.4,1141.5 928.9,1142 936.4,1142.5 943.9,1143.1 951.4,1143.7 958.9,1144.4 966.3,1145.1 973.8,1145.8 981.3,1146.6 988.8,1147.4 996.3,1148.3 1003.7,1149.2 1011.2,1150.1 1018.7,1151.1 1026.2,1152.1 1033.7,1153.1 1041.1,1154.2 1048.6,1155.2 1056.1,1156.3 1063.6,1157.4 1071.1,1158.5 1078.5,1159.6 1086,1160.7 1093.5,1161.8 1101,1163 1108.5,1164.1 1115.9,1165.3 1123.4,1166.4 1130.9,1167.6 1138.4,1168.8 1145.9,1170 1153.4,1171.2 1160.8,1172.4 1168.3,1173.6 1175.8,1174.7 1183.3,1175.8 1190.8,1176.8 1198.2,1177.8 1205.7,1178.8 1213.2,1179.7 1220.7,1180.5 1228.2,1181.3 1235.6,1182.1 1243.1,1182.9 1250.6,1183.7 1258.1,1184.4 1265.6,1185.1 1273,1185.8 1280.5,1186.5 1288,1187.2 1295.5,1187.8 1303,1188.5 1310.5,1189.1 1317.9,1189.7 1325.4,1190.3 1332.9,1190.8 1340.4,1191.4 1347.9,1192 1355.3,1192.5 1362.8,1193 1370.3,1193.5" fill="none" stroke="#2E3192" stroke-width="5.5" stroke-linecap="round" stroke-linejoin="round"/>
<polyline points="704.5,1068.2 712,1068.3 719.5,1068.5 726.9,1068.6 734.4,1068.8 741.9,1068.9 749.4,1069.1 756.9,1069.3 764.3,1069.5 771.8,1069.7 779.3,1069.9 786.8,1070.1 794.3,1070.4 801.8,1070.6 809.2,1070.8 816.7,1071.1 824.2,1071.3 831.7,1071.6 839.2,1071.9 846.6,1072.2 854.1,1072.5 861.6,1072.8 869.1,1073.1 876.6,1073.5 884,1073.8 891.5,1074.2 899,1074.6 906.5,1075 914,1075.4 921.4,1075.8 928.9,1076.3 936.4,1076.8 943.9,1077.3 951.4,1077.9 958.9,1078.5 966.3,1079.2 973.8,1079.8 981.3,1080.5 988.8,1081.3 996.3,1082 1003.7,1082.8 1011.2,1083.6 1018.7,1084.5 1026.2,1085.3 1033.7,1086.2 1041.1,1087.1 1048.6,1088.1 1056.1,1089.1 1063.6,1090.1 1071.1,1091.2 1078.5,1092.4 1086,1093.5 1093.5,1094.7 1101,1096 1108.5,1097.2 1115.9,1098.4 1123.4,1099.6 1130.9,1100.9 1138.4,1102.1 1145.9,1103.2 1153.4,1104.4 1160.8,1105.5 1168.3,1106.6 1175.8,1107.7 1183.3,1108.7 1190.8,1109.7 1198.2,1110.7 1205.7,1111.7 1213.2,1112.6 1220.7,1113.4 1228.2,1114.3 1235.6,1115.1 1243.1,1116 1250.6,1116.8 1258.1,1117.6 1265.6,1118.3 1273,1119.1 1280.5,1119.9 1288,1120.6 1295.5,1121.3 1303,1122 1310.5,1122.7 1317.9,1123.4 1325.4,1124.1 1332.9,1124.7 1340.4,1125.3 1347.9,1125.9 1355.3,1126.5 1362.8,1127.1 1370.3,1127.7" fill="none" stroke="#EC008C" stroke-width="5.5" stroke-linecap="round" stroke-linejoin="round"/>
<polyline points="704.5,1017.9 712.1,1018.1 719.6,1018.3 727.2,1018.5 734.7,1018.8 742.3,1019 749.8,1019.2 757.4,1019.5 764.9,1019.7 772.5,1020 780,1020.2 787.6,1020.5 795.1,1020.8 802.7,1021.1 810.3,1021.3 817.8,1021.6 825.4,1021.9 832.9,1022.2 840.5,1022.5 848,1022.8 855.6,1023.2 863.1,1023.5 870.7,1023.8 878.2,1024.2 885.8,1024.5 893.3,1024.9 900.9,1025.3 908.5,1025.7 916,1026.1 923.6,1026.6 931.1,1027.1 938.7,1027.6 946.2,1028.1 953.8,1028.7 961.3,1029.3 968.9,1030 976.4,1030.7 984,1031.4 991.5,1032.2 999.1,1033 1006.7,1033.8 1014.2,1034.7 1021.8,1035.5 1029.3,1036.5 1036.9,1037.4 1044.4,1038.4 1052,1039.3 1059.5,1040.3 1067.1,1041.3 1074.6,1042.3 1082.2,1043.3 1089.8,1044.3 1097.3,1045.3 1104.9,1046.3 1112.4,1047.4 1120,1048.4 1127.5,1049.4 1135.1,1050.4 1142.6,1051.4 1150.2,1052.4 1157.7,1053.4 1165.3,1054.4 1172.8,1055.3 1180.4,1056.3 1188,1057.2 1195.5,1058.1 1203.1,1059 1210.6,1059.8 1218.2,1060.7 1225.7,1061.5 1233.3,1062.3 1240.8,1063.1 1248.4,1063.9 1255.9,1064.7 1263.5,1065.5 1271,1066.3 1278.6,1067.1 1286.2,1067.8 1293.7,1068.6 1301.3,1069.3 1308.8,1070.1 1316.4,1070.8 1323.9,1071.5 1331.5,1072.1 1339,1072.8 1346.6,1073.5 1354.1,1074.1 1361.7,1074.7 1369.2,1075.3 1376.8,1075.9" fill="none" stroke="#006633" stroke-width="5.5" stroke-linecap="round" stroke-linejoin="round"/>
<path d="M199.1 1389.4v12M186.1 1389.4h26M186.1 1401.4h26M275.7 1481.4v10M262.7 1481.4h26M262.7 1491.4h26M335.2 1542.6v10M322.2 1542.6h26M322.2 1552.6h26M383.8 1574.9v8M370.8 1574.9h26M370.8 1582.9h26M424.8 1595.3v8M411.8 1595.3h26M411.8 1603.3h26M460.4 1608.5v6M447.4 1608.5h26M447.4 1614.5h26M491.8 1616.7v6M478.8 1616.7h26M478.8 1622.7h26M519.9 1622v6M506.9 1622h26M506.9 1628h26M545.3 1626.2v6M532.3 1626.2h26M532.3 1632.2h26M568.5 1632.2v3.8M555.5 1632.2h26M555.5 1636h26M589.8 1634.9v3.7M576.8 1634.9h26M576.8 1638.6h26M609.5 1637.5v3.5M596.5 1637.5h26M596.5 1641h26M627.9 1639.4v3.4M614.9 1639.4h26M614.9 1642.8h26M645.1 1641.4v3.3M632.1 1641.4h26M632.1 1644.7h26M661.3 1642.7v3.2M648.3 1642.7h26M648.3 1645.9h26M676.5 1643.9v3.2M663.5 1643.9h26M663.5 1647.1h26M690.9 1644.6v3.1M677.9 1644.6h26M677.9 1647.7h26M704.6 1647.4v3.1M691.6 1647.4h26M691.6 1650.5h26M717.6 1648v3M704.6 1648h26M704.6 1651.1h26M730 1648.3v3M717 1648.3h26M717 1651.3h26M741.8 1648.9v3M728.8 1648.9h26M728.8 1651.9h26M753.1 1649.5v2.9M740.1 1649.5h26M740.1 1652.4h26M764 1650.3v2.9M751 1650.3h26M751 1653.2h26M774.5 1650.9v2.9M761.5 1650.9h26M761.5 1653.8h26M784.5 1651.3v2.9M771.5 1651.3h26M771.5 1654.2h26M794.2 1651.7v2.9M781.2 1651.7h26M781.2 1654.6h26M803.6 1652.5v2.9M790.6 1652.5h26M790.6 1655.4h26M812.6 1652.6v2.9M799.6 1652.6h26M799.6 1655.4h26M821.3 1653.5v2.8M808.3 1653.5h26M808.3 1656.4h26M829.8 1653.7v2.8M816.8 1653.7h26M816.8 1656.6h26M838 1653.9v2.8M825 1653.9h26M825 1656.8h26M845.9 1655.2v2.8M832.9 1655.2h26M832.9 1658.1h26M853.7 1655.6v2.8M840.7 1655.6h26M840.7 1658.4h26M861.2 1655.7v2.8M848.2 1655.7h26M848.2 1658.5h26M868.5 1656.4v2.8M855.5 1656.4h26M855.5 1659.2h26M875.6 1656.8v2.8M862.6 1656.8h26M862.6 1659.6h26M882.5 1657.4v2.8M869.5 1657.4h26M869.5 1660.2h26M889.2 1657.7v2.8M876.2 1657.7h26M876.2 1660.5h26M895.8 1658.3v2.8M882.8 1658.3h26M882.8 1661.1h26M902.2 1659v2.8M889.2 1659h26M889.2 1661.8h26M908.5 1659.5v2.8M895.5 1659.5h26M895.5 1662.3h26M914.6 1660.1v2.8M901.6 1660.1h26M901.6 1662.9h26M920.6 1660.5v2.8M907.6 1660.5h26M907.6 1663.3h26M926.5 1661.4v2.8M913.5 1661.4h26M913.5 1664.2h26M932.2 1661.4v2.8M919.2 1661.4h26M919.2 1664.2h26M937.8 1662.1v2.8M924.8 1662.1h26M924.8 1664.9h26M943.3 1662.3v2.8M930.3 1662.3h26M930.3 1665.1h26M948.7 1663v2.8M935.7 1663h26M935.7 1665.8h26M954 1663.9v2.8M941 1663.9h26M941 1666.7h26M959.1 1664.1v2.8M946.1 1664.1h26M946.1 1666.9h26M964.2 1664.9v2.8M951.2 1664.9h26M951.2 1667.7h26M969.2 1665.4v2.8M956.2 1665.4h26M956.2 1668.2h26M974.1 1665.8v2.8M961.1 1665.8h26M961.1 1668.6h26M978.9 1666.5v2.8M965.9 1666.5h26M965.9 1669.3h26M983.6 1667v2.8M970.6 1667h26M970.6 1669.8h26M988.2 1667.6v2.8M975.2 1667.6h26M975.2 1670.4h26M992.8 1668.3v2.8M979.8 1668.3h26M979.8 1671.1h26M997.3 1668.9v2.8M984.3 1668.9h26M984.3 1671.7h26M1001.7 1669.2v2.8M988.7 1669.2h26M988.7 1672h26M1006 1669.7v2.8M993 1669.7h26M993 1672.5h26M1010.3 1670.5v2.8M997.3 1670.5h26M997.3 1673.3h26M1014.5 1670.9v2.8M1001.5 1670.9h26M1001.5 1673.7h26M1018.6 1671.6v2.8M1005.6 1671.6h26M1005.6 1674.4h26M1022.7 1672.4v2.8M1009.7 1672.4h26M1009.7 1675.2h26M1026.7 1672.7v2.8M1013.7 1672.7h26M1013.7 1675.5h26M1030.6 1673v2.8M1017.6 1673h26M1017.6 1675.8h26M1034.5 1673.5v2.8M1021.5 1673.5h26M1021.5 1676.3h26M1038.3 1673.9v2.8M1025.3 1673.9h26M1025.3 1676.7h26M1042.1 1674.4v2.8M1029.1 1674.4h26M1029.1 1677.2h26M1045.9 1674.9v2.8M1032.9 1674.9h26M1032.9 1677.7h26M1049.5 1675.5v2.8M1036.5 1675.5h26M1036.5 1678.3h26M1053.2 1676v2.8M1040.2 1676h26M1040.2 1678.8h26M1056.7 1676.7v2.8M1043.7 1676.7h26M1043.7 1679.5h26M1060.3 1677v2.8M1047.3 1677h26M1047.3 1679.8h26M1063.7 1677.5v2.8M1050.7 1677.5h26M1050.7 1680.3h26M1067.2 1677.8v2.8M1054.2 1677.8h26M1054.2 1680.6h26M1070.6 1678.8v2.8M1057.6 1678.8h26M1057.6 1681.6h26M1073.9 1679v2.8M1060.9 1679h26M1060.9 1681.8h26M1077.2 1679.7v2.8M1064.2 1679.7h26M1064.2 1682.5h26M1080.5 1680v2.8M1067.5 1680h26M1067.5 1682.8h26M1083.7 1680.6v2.8M1070.7 1680.6h26M1070.7 1683.4h26M1086.9 1680.8v2.8M1073.9 1680.8h26M1073.9 1683.6h26M1090.1 1681.4v2.8M1077.1 1681.4h26M1077.1 1684.2h26M1093.2 1682.2v2.8M1080.2 1682.2h26M1080.2 1685h26M1096.3 1682v2.8M1083.3 1682h26M1083.3 1684.8h26M1099.3 1682.9v2.8M1086.3 1682.9h26M1086.3 1685.7h26M1102.3 1683.4v2.8M1089.3 1683.4h26M1089.3 1686.2h26M1105.3 1683.6v2.8M1092.3 1683.6h26M1092.3 1686.4h26M1108.3 1684.2v2.8M1095.3 1684.2h26M1095.3 1687h26M1111.2 1684.7v2.8M1098.2 1684.7h26M1098.2 1687.5h26M1114 1684.8v2.8M1101 1684.8h26M1101 1687.6h26M1116.9 1685.4v2.8M1103.9 1685.4h26M1103.9 1688.2h26M1119.7 1685.6v2.8M1106.7 1685.6h26M1106.7 1688.4h26M1122.5 1686.1v2.8M1109.5 1686.1h26M1109.5 1688.9h26M1125.3 1686.6v2.8M1112.3 1686.6h26M1112.3 1689.4h26M1128 1687.1v2.8M1115 1687.1h26M1115 1689.9h26M1130.7 1687.6v2.8M1117.7 1687.6h26M1117.7 1690.4h26M1133.4 1688.1v2.8M1120.4 1688.1h26M1120.4 1690.9h26M1136 1688.2v2.8M1123 1688.2h26M1123 1691h26M1138.7 1689.3v2.8M1125.7 1689.3h26M1125.7 1692.1h26M1141.3 1689.6v2.8M1128.3 1689.6h26M1128.3 1692.4h26M1143.8 1689.9v2.8M1130.8 1689.9h26M1130.8 1692.7h26M1146.4 1690.1v2.8M1133.4 1690.1h26M1133.4 1692.9h26M1148.9 1690.6v2.8M1135.9 1690.6h26M1135.9 1693.4h26M1151.4 1691.2v2.8M1138.4 1691.2h26M1138.4 1694h26M1153.9 1691.5v2.8M1140.9 1691.5h26M1140.9 1694.3h26M1156.3 1691.5v2.8M1143.3 1691.5h26M1143.3 1694.3h26M1158.8 1692.5v2.8M1145.8 1692.5h26M1145.8 1695.3h26M1161.2 1693.4v2.8M1148.2 1693.4h26M1148.2 1696.2h26M1163.6 1692.7v2.8M1150.6 1692.7h26M1150.6 1695.5h26M1165.9 1693.7v2.8M1152.9 1693.7h26M1152.9 1696.5h26M1168.3 1694v2.8M1155.3 1694h26M1155.3 1696.8h26M1170.6 1694.3v2.8M1157.6 1694.3h26M1157.6 1697.1h26M1172.9 1695v2.8M1159.9 1695h26M1159.9 1697.8h26M1175.2 1694.8v2.8M1162.2 1694.8h26M1162.2 1697.6h26M1177.5 1695.5v2.8M1164.5 1695.5h26M1164.5 1698.3h26M1179.7 1696.2v2.8M1166.7 1696.2h26M1166.7 1699h26M1182 1696.1v2.8M1169 1696.1h26M1169 1698.9h26M1184.2 1696.5v2.8M1171.2 1696.5h26M1171.2 1699.3h26M1186.4 1696.9v2.8M1173.4 1696.9h26M1173.4 1699.7h26M1188.5 1697.2v2.8M1175.5 1697.2h26M1175.5 1700h26M1190.7 1698v2.8M1177.7 1698h26M1177.7 1700.8h26M1192.8 1697.7v2.8M1179.8 1697.7h26M1179.8 1700.5h26M1195 1698.6v2.8M1182 1698.6h26M1182 1701.4h26M1197.1 1698.3v2.8M1184.1 1698.3h26M1184.1 1701.1h26M1199.2 1699.2v2.8M1186.2 1699.2h26M1186.2 1702h26M1201.2 1699.3v2.8M1188.2 1699.3h26M1188.2 1702.1h26M1203.3 1698.9v2.8M1190.3 1698.9h26M1190.3 1701.7h26M1205.3 1699.9v2.8M1192.3 1699.9h26M1192.3 1702.7h26M1207.4 1699.9v2.8M1194.4 1699.9h26M1194.4 1702.7h26M1209.4 1700.4v2.8M1196.4 1700.4h26M1196.4 1703.2h26M1211.4 1701.4v2.8M1198.4 1701.4h26M1198.4 1704.2h26M1213.3 1700.8v2.8M1200.3 1700.8h26M1200.3 1703.6h26M1215.3 1701.1v2.8M1202.3 1701.1h26M1202.3 1703.9h26M1217.3 1702.2v2.8M1204.3 1702.2h26M1204.3 1705h26M1219.2 1702.1v2.8M1206.2 1702.1h26M1206.2 1704.9h26M1221.1 1702.9v2.8M1208.1 1702.9h26M1208.1 1705.7h26M1223 1702.7v2.8M1210 1702.7h26M1210 1705.5h26M1224.9 1702.6v2.8M1211.9 1702.6h26M1211.9 1705.4h26M1226.8 1703.2v2.8M1213.8 1703.2h26M1213.8 1706h26M1228.7 1703.9v2.8M1215.7 1703.9h26M1215.7 1706.7h26M1230.5 1704.1v2.8M1217.5 1704.1h26M1217.5 1706.9h26M1232.4 1704v2.8M1219.4 1704h26M1219.4 1706.8h26M1234.2 1704.3v2.8M1221.2 1704.3h26M1221.2 1707.1h26M1236 1704.5v2.8M1223 1704.5h26M1223 1707.3h26M1237.8 1704.6v2.8M1224.8 1704.6h26M1224.8 1707.4h26M1239.6 1705.8v2.8M1226.6 1705.8h26M1226.6 1708.6h26M1241.4 1705.3v2.8M1228.4 1705.3h26M1228.4 1708.1h26M1243.2 1705.1v2.8M1230.2 1705.1h26M1230.2 1707.9h26M1244.9 1705.6v2.8M1231.9 1705.6h26M1231.9 1708.4h26M1246.7 1706.4v2.8M1233.7 1706.4h26M1233.7 1709.2h26M1248.4 1706.6v2.8M1235.4 1706.6h26M1235.4 1709.4h26M1250.2 1706.5v2.8M1237.2 1706.5h26M1237.2 1709.3h26M1251.9 1706.5v2.8M1238.9 1706.5h26M1238.9 1709.3h26M1253.6 1707v2.8M1240.6 1707h26M1240.6 1709.9h26M1255.3 1706.5v2.8M1242.3 1706.5h26M1242.3 1709.3h26M1256.9 1706.9v2.8M1243.9 1706.9h26M1243.9 1709.7h26M1258.6 1708.1v2.8M1245.6 1708.1h26M1245.6 1710.9h26M1260.3 1707.7v2.8M1247.3 1707.7h26M1247.3 1710.6h26M1261.9 1708.4v2.8M1248.9 1708.4h26M1248.9 1711.2h26M1263.6 1709v2.8M1250.6 1709h26M1250.6 1711.9h26M1265.2 1709v2.8M1252.2 1709h26M1252.2 1711.8h26M1266.8 1708.9v2.8M1253.8 1708.9h26M1253.8 1711.7h26M1268.4 1710.2v2.8M1255.4 1710.2h26M1255.4 1713.1h26M1270 1709.7v2.8M1257 1709.7h26M1257 1712.5h26M1271.6 1709.3v2.9M1258.6 1709.3h26M1258.6 1712.2h26M1273.2 1710.1v2.9M1260.2 1710.1h26M1260.2 1713h26M1274.8 1710.2v2.9M1261.8 1710.2h26M1261.8 1713h26M1276.3 1709.6v2.9M1263.3 1709.6h26M1263.3 1712.5h26M1277.9 1710.4v2.9M1264.9 1710.4h26M1264.9 1713.3h26M1279.4 1710.4v2.9M1266.4 1710.4h26M1266.4 1713.3h26M1281 1709.5v2.9M1268 1709.5h26M1268 1712.4h26M1282.5 1710.8v2.9M1269.5 1710.8h26M1269.5 1713.7h26M1284 1710.9v2.9M1271 1710.9h26M1271 1713.9h26M1285.5 1711v2.9M1272.5 1711h26M1272.5 1714h26M1287 1710.4v2.9M1274 1710.4h26M1274 1713.4h26M1288.5 1711.5v2.9M1275.5 1711.5h26M1275.5 1714.4h26M1290 1711.9v3M1277 1711.9h26M1277 1714.8h26M1291.5 1712.1v3M1278.5 1712.1h26M1278.5 1715.1h26M1292.9 1711.4v3M1279.9 1711.4h26M1279.9 1714.4h26M1294.4 1712.9v3M1281.4 1712.9h26M1281.4 1715.9h26M1295.8 1711.7v3M1282.8 1711.7h26M1282.8 1714.7h26M1297.3 1712.6v3M1284.3 1712.6h26M1284.3 1715.6h26M1298.7 1713.9v3.1M1285.7 1713.9h26M1285.7 1717h26M1300.2 1712.6v3.1M1287.2 1712.6h26M1287.2 1715.6h26M1301.6 1712.8v3.1M1288.6 1712.8h26M1288.6 1716h26M1303 1714.3v3.1M1290 1714.3h26M1290 1717.4h26M1304.4 1713.2v3.2M1291.4 1713.2h26M1291.4 1716.4h26M1305.8 1713.5v3.2M1292.8 1713.5h26M1292.8 1716.7h26M1307.2 1714v3.2M1294.2 1714h26M1294.2 1717.3h26M1308.6 1714.9v3.3M1295.6 1714.9h26M1295.6 1718.2h26M1309.9 1712.2v3.3M1296.9 1712.2h26M1296.9 1715.6h26M1311.3 1713.6v3.4M1298.3 1713.6h26M1298.3 1716.9h26M1312.7 1713.5v3.4M1299.7 1713.5h26M1299.7 1716.9h26M1314 1713.6v3.5M1301 1713.6h26M1301 1717h26M1315.4 1713.9v3.5M1302.4 1713.9h26M1302.4 1717.4h26M1316.7 1714v3.6M1303.7 1714h26M1303.7 1717.6h26M1318.1 1715.2v3.6M1305.1 1715.2h26M1305.1 1718.8h26M1319.4 1714.2v3.7M1306.4 1714.2h26M1306.4 1717.9h26M1320.7 1715.2v3.8M1307.7 1715.2h26M1307.7 1719h26M1322 1715.6v3.9M1309 1715.6h26M1309 1719.5h26M1323.3 1714.6v4M1310.3 1714.6h26M1310.3 1718.5h26M1324.6 1715.6v4.1M1311.6 1715.6h26M1311.6 1719.6h26M1325.9 1717.2v4.2M1312.9 1717.2h26M1312.9 1721.4h26M1327.2 1715.9v4.3M1314.2 1715.9h26M1314.2 1720.2h26M1328.5 1715v4.4M1315.5 1715h26M1315.5 1719.4h26M1329.8 1715.7v4.5M1316.8 1715.7h26M1316.8 1720.2h26M1331.1 1714.8v4.6M1318.1 1714.8h26M1318.1 1719.4h26M1332.3 1716.2v4.8M1319.3 1716.2h26M1319.3 1721h26M1333.6 1716.9v4.9M1320.6 1716.9h26M1320.6 1721.9h26M1334.8 1715v5.1M1321.8 1715h26M1321.8 1720.1h26M1336.1 1715.7v5.3M1323.1 1715.7h26M1323.1 1721h26M1337.3 1717.4v5.5M1324.3 1717.4h26M1324.3 1722.9h26M1338.6 1715.4v5.7M1325.6 1715.4h26M1325.6 1721.1h26M1339.8 1716.3v5.9M1326.8 1716.3h26M1326.8 1722.2h26M1341 1714.8v6.2M1328 1714.8h26M1328 1720.9h26M1342.2 1715v6.4M1329.2 1715h26M1329.2 1721.4h26M1343.5 1715.4v6.7M1330.5 1715.4h26M1330.5 1722h26M1344.7 1718.9v7M1331.7 1718.9h26M1331.7 1725.8h26M1345.9 1715.4v7.3M1332.9 1715.4h26M1332.9 1722.7h26M1347.1 1715.2v7.6M1334.1 1715.2h26M1334.1 1722.8h26M1348.3 1715.1v8M1335.3 1715.1h26M1335.3 1723h26M1349.4 1715.5v8.4M1336.4 1715.5h26M1336.4 1723.9h26M1350.6 1716.6v8.8M1337.6 1716.6h26M1337.6 1725.4h26M1351.8 1715.8v9.2M1338.8 1715.8h26M1338.8 1725h26M1353 1718.4v9.7M1340 1718.4h26M1340 1728.1h26M1354.1 1715.6v10.2M1341.1 1715.6h26M1341.1 1725.8h26M1355.3 1717.3v10.7M1342.3 1717.3h26M1342.3 1728h26M1356.5 1715.4v11.3M1343.5 1715.4h26M1343.5 1726.6h26M1357.6 1715.7v11.9M1344.6 1715.7h26M1344.6 1727.6h26M1358.8 1712.2v12.5M1345.8 1712.2h26M1345.8 1724.8h26M1359.9 1714.1v13.2M1346.9 1714.1h26M1346.9 1727.3h26M1361 1713.9v13.9M1348 1713.9h26M1348 1727.9h26M1362.2 1713.3v14.7M1349.2 1713.3h26M1349.2 1728.1h26M1363.3 1709.8v15.6M1350.3 1709.8h26M1350.3 1725.4h26M1364.4 1714.6v16.5M1351.4 1714.6h26M1351.4 1731h26M1365.5 1712v17.4M1352.5 1712h26M1352.5 1729.4h26M1366.6 1711.5v18.4M1353.6 1711.5h26M1353.6 1729.9h26M1367.7 1711.4v19.5M1354.7 1711.4h26M1354.7 1730.9h26M1368.9 1710.9v20.6M1355.9 1710.9h26M1355.9 1731.6h26M1370 1711.6v21.8M1357 1711.6h26M1357 1733.4h26M1371 1707.9v23.1M1358 1707.9h26M1358 1731h26M1372.1 1707.9v24.5M1359.1 1707.9h26M1359.1 1732.4h26M1373.2 1709.6v26M1360.2 1709.6h26M1360.2 1735.6h26M1374.3 1708.7v27.5M1361.3 1708.7h26M1361.3 1736.2h26M1375.4 1706.9v29.2M1362.4 1706.9h26M1362.4 1736.1h26M1376.5 1705.7v30.9M1363.5 1705.7h26M1363.5 1736.6h26M1377.5 1704.3v32.8M1364.5 1704.3h26M1364.5 1737.1h26" fill="none" stroke="#231F20" stroke-width="4.6"/>
<path d="M187.5 1395.4a11.6 11.6 0 1 0 23.2 0a11.6 11.6 0 1 0 -23.2 0M264.1 1486.4a11.6 11.6 0 1 0 23.2 0a11.6 11.6 0 1 0 -23.2 0M323.6 1547.6a11.6 11.6 0 1 0 23.2 0a11.6 11.6 0 1 0 -23.2 0M372.2 1578.9a11.6 11.6 0 1 0 23.2 0a11.6 11.6 0 1 0 -23.2 0M413.2 1599.3a11.6 11.6 0 1 0 23.2 0a11.6 11.6 0 1 0 -23.2 0M448.8 1611.5a11.6 11.6 0 1 0 23.2 0a11.6 11.6 0 1 0 -23.2 0M480.2 1619.7a11.6 11.6 0 1 0 23.2 0a11.6 11.6 0 1 0 -23.2 0M508.3 1625a11.6 11.6 0 1 0 23.2 0a11.6 11.6 0 1 0 -23.2 0M533.7 1629.2a11.6 11.6 0 1 0 23.2 0a11.6 11.6 0 1 0 -23.2 0M556.9 1634.1a11.6 11.6 0 1 0 23.2 0a11.6 11.6 0 1 0 -23.2 0M578.2 1636.7a11.6 11.6 0 1 0 23.2 0a11.6 11.6 0 1 0 -23.2 0M597.9 1639.2a11.6 11.6 0 1 0 23.2 0a11.6 11.6 0 1 0 -23.2 0M616.3 1641.1a11.6 11.6 0 1 0 23.2 0a11.6 11.6 0 1 0 -23.2 0M633.5 1643.1a11.6 11.6 0 1 0 23.2 0a11.6 11.6 0 1 0 -23.2 0M649.7 1644.3a11.6 11.6 0 1 0 23.2 0a11.6 11.6 0 1 0 -23.2 0M664.9 1645.5a11.6 11.6 0 1 0 23.2 0a11.6 11.6 0 1 0 -23.2 0M679.3 1646.1a11.6 11.6 0 1 0 23.2 0a11.6 11.6 0 1 0 -23.2 0M693 1649a11.6 11.6 0 1 0 23.2 0a11.6 11.6 0 1 0 -23.2 0M706 1649.5a11.6 11.6 0 1 0 23.2 0a11.6 11.6 0 1 0 -23.2 0M718.4 1649.8a11.6 11.6 0 1 0 23.2 0a11.6 11.6 0 1 0 -23.2 0M730.2 1650.4a11.6 11.6 0 1 0 23.2 0a11.6 11.6 0 1 0 -23.2 0M741.5 1650.9a11.6 11.6 0 1 0 23.2 0a11.6 11.6 0 1 0 -23.2 0M752.4 1651.7a11.6 11.6 0 1 0 23.2 0a11.6 11.6 0 1 0 -23.2 0M762.9 1652.4a11.6 11.6 0 1 0 23.2 0a11.6 11.6 0 1 0 -23.2 0M772.9 1652.8a11.6 11.6 0 1 0 23.2 0a11.6 11.6 0 1 0 -23.2 0M782.6 1653.1a11.6 11.6 0 1 0 23.2 0a11.6 11.6 0 1 0 -23.2 0M792 1653.9a11.6 11.6 0 1 0 23.2 0a11.6 11.6 0 1 0 -23.2 0M801 1654a11.6 11.6 0 1 0 23.2 0a11.6 11.6 0 1 0 -23.2 0M809.7 1655a11.6 11.6 0 1 0 23.2 0a11.6 11.6 0 1 0 -23.2 0M818.2 1655.2a11.6 11.6 0 1 0 23.2 0a11.6 11.6 0 1 0 -23.2 0M826.4 1655.3a11.6 11.6 0 1 0 23.2 0a11.6 11.6 0 1 0 -23.2 0M834.3 1656.7a11.6 11.6 0 1 0 23.2 0a11.6 11.6 0 1 0 -23.2 0M842.1 1657a11.6 11.6 0 1 0 23.2 0a11.6 11.6 0 1 0 -23.2 0M849.6 1657.1a11.6 11.6 0 1 0 23.2 0a11.6 11.6 0 1 0 -23.2 0M856.9 1657.8a11.6 11.6 0 1 0 23.2 0a11.6 11.6 0 1 0 -23.2 0M864 1658.2a11.6 11.6 0 1 0 23.2 0a11.6 11.6 0 1 0 -23.2 0M870.9 1658.8a11.6 11.6 0 1 0 23.2 0a11.6 11.6 0 1 0 -23.2 0M877.6 1659.1a11.6 11.6 0 1 0 23.2 0a11.6 11.6 0 1 0 -23.2 0M884.2 1659.7a11.6 11.6 0 1 0 23.2 0a11.6 11.6 0 1 0 -23.2 0M890.6 1660.4a11.6 11.6 0 1 0 23.2 0a11.6 11.6 0 1 0 -23.2 0M896.9 1660.9a11.6 11.6 0 1 0 23.2 0a11.6 11.6 0 1 0 -23.2 0M903 1661.5a11.6 11.6 0 1 0 23.2 0a11.6 11.6 0 1 0 -23.2 0M909 1661.9a11.6 11.6 0 1 0 23.2 0a11.6 11.6 0 1 0 -23.2 0M914.9 1662.8a11.6 11.6 0 1 0 23.2 0a11.6 11.6 0 1 0 -23.2 0M920.6 1662.8a11.6 11.6 0 1 0 23.2 0a11.6 11.6 0 1 0 -23.2 0M926.2 1663.5a11.6 11.6 0 1 0 23.2 0a11.6 11.6 0 1 0 -23.2 0M931.7 1663.7a11.6 11.6 0 1 0 23.2 0a11.6 11.6 0 1 0 -23.2 0M937.1 1664.4a11.6 11.6 0 1 0 23.2 0a11.6 11.6 0 1 0 -23.2 0M942.4 1665.3a11.6 11.6 0 1 0 23.2 0a11.6 11.6 0 1 0 -23.2 0M947.5 1665.5a11.6 11.6 0 1 0 23.2 0a11.6 11.6 0 1 0 -23.2 0M952.6 1666.3a11.6 11.6 0 1 0 23.2 0a11.6 11.6 0 1 0 -23.2 0M957.6 1666.8a11.6 11.6 0 1 0 23.2 0a11.6 11.6 0 1 0 -23.2 0M962.5 1667.2a11.6 11.6 0 1 0 23.2 0a11.6 11.6 0 1 0 -23.2 0M967.3 1667.9a11.6 11.6 0 1 0 23.2 0a11.6 11.6 0 1 0 -23.2 0M972 1668.4a11.6 11.6 0 1 0 23.2 0a11.6 11.6 0 1 0 -23.2 0M976.6 1669a11.6 11.6 0 1 0 23.2 0a11.6 11.6 0 1 0 -23.2 0M981.2 1669.7a11.6 11.6 0 1 0 23.2 0a11.6 11.6 0 1 0 -23.2 0M985.7 1670.3a11.6 11.6 0 1 0 23.2 0a11.6 11.6 0 1 0 -23.2 0M990.1 1670.6a11.6 11.6 0 1 0 23.2 0a11.6 11.6 0 1 0 -23.2 0M994.4 1671.1a11.6 11.6 0 1 0 23.2 0a11.6 11.6 0 1 0 -23.2 0M998.7 1671.9a11.6 11.6 0 1 0 23.2 0a11.6 11.6 0 1 0 -23.2 0M1002.9 1672.3a11.6 11.6 0 1 0 23.2 0a11.6 11.6 0 1 0 -23.2 0M1007 1673a11.6 11.6 0 1 0 23.2 0a11.6 11.6 0 1 0 -23.2 0M1011.1 1673.8a11.6 11.6 0 1 0 23.2 0a11.6 11.6 0 1 0 -23.2 0M1015.1 1674.1a11.6 11.6 0 1 0 23.2 0a11.6 11.6 0 1 0 -23.2 0M1019 1674.4a11.6 11.6 0 1 0 23.2 0a11.6 11.6 0 1 0 -23.2 0M1022.9 1674.9a11.6 11.6 0 1 0 23.2 0a11.6 11.6 0 1 0 -23.2 0M1026.7 1675.3a11.6 11.6 0 1 0 23.2 0a11.6 11.6 0 1 0 -23.2 0M1030.5 1675.8a11.6 11.6 0 1 0 23.2 0a11.6 11.6 0 1 0 -23.2 0M1034.3 1676.3a11.6 11.6 0 1 0 23.2 0a11.6 11.6 0 1 0 -23.2 0M1037.9 1676.9a11.6 11.6 0 1 0 23.2 0a11.6 11.6 0 1 0 -23.2 0M1041.6 1677.4a11.6 11.6 0 1 0 23.2 0a11.6 11.6 0 1 0 -23.2 0M1045.1 1678.1a11.6 11.6 0 1 0 23.2 0a11.6 11.6 0 1 0 -23.2 0M1048.7 1678.4a11.6 11.6 0 1 0 23.2 0a11.6 11.6 0 1 0 -23.2 0M1052.1 1678.9a11.6 11.6 0 1 0 23.2 0a11.6 11.6 0 1 0 -23.2 0M1055.6 1679.2a11.6 11.6 0 1 0 23.2 0a11.6 11.6 0 1 0 -23.2 0M1059 1680.2a11.6 11.6 0 1 0 23.2 0a11.6 11.6 0 1 0 -23.2 0M1062.3 1680.4a11.6 11.6 0 1 0 23.2 0a11.6 11.6 0 1 0 -23.2 0M1065.6 1681.1a11.6 11.6 0 1 0 23.2 0a11.6 11.6 0 1 0 -23.2 0M1068.9 1681.4a11.6 11.6 0 1 0 23.2 0a11.6 11.6 0 1 0 -23.2 0M1072.1 1682a11.6 11.6 0 1 0 23.2 0a11.6 11.6 0 1 0 -23.2 0M1075.3 1682.2a11.6 11.6 0 1 0 23.2 0a11.6 11.6 0 1 0 -23.2 0M1078.5 1682.8a11.6 11.6 0 1 0 23.2 0a11.6 11.6 0 1 0 -23.2 0M1081.6 1683.6a11.6 11.6 0 1 0 23.2 0a11.6 11.6 0 1 0 -23.2 0M1084.7 1683.4a11.6 11.6 0 1 0 23.2 0a11.6 11.6 0 1 0 -23.2 0M1087.7 1684.3a11.6 11.6 0 1 0 23.2 0a11.6 11.6 0 1 0 -23.2 0M1090.7 1684.8a11.6 11.6 0 1 0 23.2 0a11.6 11.6 0 1 0 -23.2 0M1093.7 1685a11.6 11.6 0 1 0 23.2 0a11.6 11.6 0 1 0 -23.2 0M1096.7 1685.6a11.6 11.6 0 1 0 23.2 0a11.6 11.6 0 1 0 -23.2 0M1099.6 1686.1a11.6 11.6 0 1 0 23.2 0a11.6 11.6 0 1 0 -23.2 0M1102.4 1686.2a11.6 11.6 0 1 0 23.2 0a11.6 11.6 0 1 0 -23.2 0M1105.3 1686.8a11.6 11.6 0 1 0 23.2 0a11.6 11.6 0 1 0 -23.2 0M1108.1 1687a11.6 11.6 0 1 0 23.2 0a11.6 11.6 0 1 0 -23.2 0M1110.9 1687.5a11.6 11.6 0 1 0 23.2 0a11.6 11.6 0 1 0 -23.2 0M1113.7 1688a11.6 11.6 0 1 0 23.2 0a11.6 11.6 0 1 0 -23.2 0M1116.4 1688.5a11.6 11.6 0 1 0 23.2 0a11.6 11.6 0 1 0 -23.2 0M1119.1 1689a11.6 11.6 0 1 0 23.2 0a11.6 11.6 0 1 0 -23.2 0M1121.8 1689.5a11.6 11.6 0 1 0 23.2 0a11.6 11.6 0 1 0 -23.2 0M1124.4 1689.6a11.6 11.6 0 1 0 23.2 0a11.6 11.6 0 1 0 -23.2 0M1127.1 1690.7a11.6 11.6 0 1 0 23.2 0a11.6 11.6 0 1 0 -23.2 0M1129.7 1691a11.6 11.6 0 1 0 23.2 0a11.6 11.6 0 1 0 -23.2 0M1132.2 1691.3a11.6 11.6 0 1 0 23.2 0a11.6 11.6 0 1 0 -23.2 0M1134.8 1691.5a11.6 11.6 0 1 0 23.2 0a11.6 11.6 0 1 0 -23.2 0M1137.3 1692a11.6 11.6 0 1 0 23.2 0a11.6 11.6 0 1 0 -23.2 0M1139.8 1692.6a11.6 11.6 0 1 0 23.2 0a11.6 11.6 0 1 0 -23.2 0M1142.3 1692.9a11.6 11.6 0 1 0 23.2 0a11.6 11.6 0 1 0 -23.2 0M1144.7 1692.9a11.6 11.6 0 1 0 23.2 0a11.6 11.6 0 1 0 -23.2 0M1147.2 1693.9a11.6 11.6 0 1 0 23.2 0a11.6 11.6 0 1 0 -23.2 0M1149.6 1694.8a11.6 11.6 0 1 0 23.2 0a11.6 11.6 0 1 0 -23.2 0M1152 1694.1a11.6 11.6 0 1 0 23.2 0a11.6 11.6 0 1 0 -23.2 0M1154.3 1695.1a11.6 11.6 0 1 0 23.2 0a11.6 11.6 0 1 0 -23.2 0M1156.7 1695.4a11.6 11.6 0 1 0 23.2 0a11.6 11.6 0 1 0 -23.2 0M1159 1695.7a11.6 11.6 0 1 0 23.2 0a11.6 11.6 0 1 0 -23.2 0M1161.3 1696.4a11.6 11.6 0 1 0 23.2 0a11.6 11.6 0 1 0 -23.2 0M1163.6 1696.2a11.6 11.6 0 1 0 23.2 0a11.6 11.6 0 1 0 -23.2 0M1165.9 1696.9a11.6 11.6 0 1 0 23.2 0a11.6 11.6 0 1 0 -23.2 0M1168.1 1697.6a11.6 11.6 0 1 0 23.2 0a11.6 11.6 0 1 0 -23.2 0M1170.4 1697.5a11.6 11.6 0 1 0 23.2 0a11.6 11.6 0 1 0 -23.2 0M1172.6 1697.9a11.6 11.6 0 1 0 23.2 0a11.6 11.6 0 1 0 -23.2 0M1174.8 1698.3a11.6 11.6 0 1 0 23.2 0a11.6 11.6 0 1 0 -23.2 0M1176.9 1698.6a11.6 11.6 0 1 0 23.2 0a11.6 11.6 0 1 0 -23.2 0M1179.1 1699.4a11.6 11.6 0 1 0 23.2 0a11.6 11.6 0 1 0 -23.2 0M1181.2 1699.1a11.6 11.6 0 1 0 23.2 0a11.6 11.6 0 1 0 -23.2 0M1183.4 1700a11.6 11.6 0 1 0 23.2 0a11.6 11.6 0 1 0 -23.2 0M1185.5 1699.7a11.6 11.6 0 1 0 23.2 0a11.6 11.6 0 1 0 -23.2 0M1187.6 1700.6a11.6 11.6 0 1 0 23.2 0a11.6 11.6 0 1 0 -23.2 0M1189.6 1700.7a11.6 11.6 0 1 0 23.2 0a11.6 11.6 0 1 0 -23.2 0M1191.7 1700.3a11.6 11.6 0 1 0 23.2 0a11.6 11.6 0 1 0 -23.2 0M1193.7 1701.3a11.6 11.6 0 1 0 23.2 0a11.6 11.6 0 1 0 -23.2 0M1195.8 1701.3a11.6 11.6 0 1 0 23.2 0a11.6 11.6 0 1 0 -23.2 0M1197.8 1701.8a11.6 11.6 0 1 0 23.2 0a11.6 11.6 0 1 0 -23.2 0M1199.8 1702.8a11.6 11.6 0 1 0 23.2 0a11.6 11.6 0 1 0 -23.2 0M1201.7 1702.2a11.6 11.6 0 1 0 23.2 0a11.6 11.6 0 1 0 -23.2 0M1203.7 1702.5a11.6 11.6 0 1 0 23.2 0a11.6 11.6 0 1 0 -23.2 0M1205.7 1703.6a11.6 11.6 0 1 0 23.2 0a11.6 11.6 0 1 0 -23.2 0M1207.6 1703.5a11.6 11.6 0 1 0 23.2 0a11.6 11.6 0 1 0 -23.2 0M1209.5 1704.3a11.6 11.6 0 1 0 23.2 0a11.6 11.6 0 1 0 -23.2 0M1211.4 1704.1a11.6 11.6 0 1 0 23.2 0a11.6 11.6 0 1 0 -23.2 0M1213.3 1704a11.6 11.6 0 1 0 23.2 0a11.6 11.6 0 1 0 -23.2 0M1215.2 1704.6a11.6 11.6 0 1 0 23.2 0a11.6 11.6 0 1 0 -23.2 0M1217.1 1705.3a11.6 11.6 0 1 0 23.2 0a11.6 11.6 0 1 0 -23.2 0M1218.9 1705.5a11.6 11.6 0 1 0 23.2 0a11.6 11.6 0 1 0 -23.2 0M1220.8 1705.4a11.6 11.6 0 1 0 23.2 0a11.6 11.6 0 1 0 -23.2 0M1222.6 1705.7a11.6 11.6 0 1 0 23.2 0a11.6 11.6 0 1 0 -23.2 0M1224.4 1705.9a11.6 11.6 0 1 0 23.2 0a11.6 11.6 0 1 0 -23.2 0M1226.2 1706a11.6 11.6 0 1 0 23.2 0a11.6 11.6 0 1 0 -23.2 0M1228 1707.2a11.6 11.6 0 1 0 23.2 0a11.6 11.6 0 1 0 -23.2 0M1229.8 1706.7a11.6 11.6 0 1 0 23.2 0a11.6 11.6 0 1 0 -23.2 0M1231.6 1706.5a11.6 11.6 0 1 0 23.2 0a11.6 11.6 0 1 0 -23.2 0M1233.3 1707a11.6 11.6 0 1 0 23.2 0a11.6 11.6 0 1 0 -23.2 0M1235.1 1707.8a11.6 11.6 0 1 0 23.2 0a11.6 11.6 0 1 0 -23.2 0M1236.8 1708a11.6 11.6 0 1 0 23.2 0a11.6 11.6 0 1 0 -23.2 0M1238.6 1707.9a11.6 11.6 0 1 0 23.2 0a11.6 11.6 0 1 0 -23.2 0M1240.3 1707.9a11.6 11.6 0 1 0 23.2 0a11.6 11.6 0 1 0 -23.2 0M1242 1708.4a11.6 11.6 0 1 0 23.2 0a11.6 11.6 0 1 0 -23.2 0M1243.7 1707.9a11.6 11.6 0 1 0 23.2 0a11.6 11.6 0 1 0 -23.2 0M1245.3 1708.3a11.6 11.6 0 1 0 23.2 0a11.6 11.6 0 1 0 -23.2 0M1247 1709.5a11.6 11.6 0 1 0 23.2 0a11.6 11.6 0 1 0 -23.2 0M1248.7 1709.1a11.6 11.6 0 1 0 23.2 0a11.6 11.6 0 1 0 -23.2 0M1250.3 1709.8a11.6 11.6 0 1 0 23.2 0a11.6 11.6 0 1 0 -23.2 0M1252 1710.4a11.6 11.6 0 1 0 23.2 0a11.6 11.6 0 1 0 -23.2 0M1253.6 1710.4a11.6 11.6 0 1 0 23.2 0a11.6 11.6 0 1 0 -23.2 0M1255.2 1710.3a11.6 11.6 0 1 0 23.2 0a11.6 11.6 0 1 0 -23.2 0M1256.8 1711.6a11.6 11.6 0 1 0 23.2 0a11.6 11.6 0 1 0 -23.2 0M1258.4 1711.1a11.6 11.6 0 1 0 23.2 0a11.6 11.6 0 1 0 -23.2 0M1260 1710.7a11.6 11.6 0 1 0 23.2 0a11.6 11.6 0 1 0 -23.2 0M1261.6 1711.6a11.6 11.6 0 1 0 23.2 0a11.6 11.6 0 1 0 -23.2 0M1263.2 1711.6a11.6 11.6 0 1 0 23.2 0a11.6 11.6 0 1 0 -23.2 0M1264.7 1711.1a11.6 11.6 0 1 0 23.2 0a11.6 11.6 0 1 0 -23.2 0M1266.3 1711.8a11.6 11.6 0 1 0 23.2 0a11.6 11.6 0 1 0 -23.2 0M1267.8 1711.9a11.6 11.6 0 1 0 23.2 0a11.6 11.6 0 1 0 -23.2 0M1269.4 1711a11.6 11.6 0 1 0 23.2 0a11.6 11.6 0 1 0 -23.2 0M1270.9 1712.3a11.6 11.6 0 1 0 23.2 0a11.6 11.6 0 1 0 -23.2 0M1272.4 1712.4a11.6 11.6 0 1 0 23.2 0a11.6 11.6 0 1 0 -23.2 0M1273.9 1712.5a11.6 11.6 0 1 0 23.2 0a11.6 11.6 0 1 0 -23.2 0M1275.4 1711.9a11.6 11.6 0 1 0 23.2 0a11.6 11.6 0 1 0 -23.2 0M1276.9 1712.9a11.6 11.6 0 1 0 23.2 0a11.6 11.6 0 1 0 -23.2 0M1278.4 1713.3a11.6 11.6 0 1 0 23.2 0a11.6 11.6 0 1 0 -23.2 0M1279.9 1713.6a11.6 11.6 0 1 0 23.2 0a11.6 11.6 0 1 0 -23.2 0M1281.3 1712.9a11.6 11.6 0 1 0 23.2 0a11.6 11.6 0 1 0 -23.2 0M1282.8 1714.4a11.6 11.6 0 1 0 23.2 0a11.6 11.6 0 1 0 -23.2 0M1284.2 1713.2a11.6 11.6 0 1 0 23.2 0a11.6 11.6 0 1 0 -23.2 0M1285.7 1714.1a11.6 11.6 0 1 0 23.2 0a11.6 11.6 0 1 0 -23.2 0M1287.1 1715.4a11.6 11.6 0 1 0 23.2 0a11.6 11.6 0 1 0 -23.2 0M1288.6 1714.1a11.6 11.6 0 1 0 23.2 0a11.6 11.6 0 1 0 -23.2 0M1290 1714.4a11.6 11.6 0 1 0 23.2 0a11.6 11.6 0 1 0 -23.2 0M1291.4 1715.8a11.6 11.6 0 1 0 23.2 0a11.6 11.6 0 1 0 -23.2 0M1292.8 1714.8a11.6 11.6 0 1 0 23.2 0a11.6 11.6 0 1 0 -23.2 0M1294.2 1715.1a11.6 11.6 0 1 0 23.2 0a11.6 11.6 0 1 0 -23.2 0M1295.6 1715.7a11.6 11.6 0 1 0 23.2 0a11.6 11.6 0 1 0 -23.2 0M1297 1716.5a11.6 11.6 0 1 0 23.2 0a11.6 11.6 0 1 0 -23.2 0M1298.3 1713.9a11.6 11.6 0 1 0 23.2 0a11.6 11.6 0 1 0 -23.2 0M1299.7 1715.2a11.6 11.6 0 1 0 23.2 0a11.6 11.6 0 1 0 -23.2 0M1301.1 1715.2a11.6 11.6 0 1 0 23.2 0a11.6 11.6 0 1 0 -23.2 0M1302.4 1715.3a11.6 11.6 0 1 0 23.2 0a11.6 11.6 0 1 0 -23.2 0M1303.8 1715.6a11.6 11.6 0 1 0 23.2 0a11.6 11.6 0 1 0 -23.2 0M1305.1 1715.8a11.6 11.6 0 1 0 23.2 0a11.6 11.6 0 1 0 -23.2 0M1306.5 1717a11.6 11.6 0 1 0 23.2 0a11.6 11.6 0 1 0 -23.2 0M1307.8 1716a11.6 11.6 0 1 0 23.2 0a11.6 11.6 0 1 0 -23.2 0M1309.1 1717.1a11.6 11.6 0 1 0 23.2 0a11.6 11.6 0 1 0 -23.2 0M1310.4 1717.6a11.6 11.6 0 1 0 23.2 0a11.6 11.6 0 1 0 -23.2 0M1311.7 1716.6a11.6 11.6 0 1 0 23.2 0a11.6 11.6 0 1 0 -23.2 0M1313 1717.6a11.6 11.6 0 1 0 23.2 0a11.6 11.6 0 1 0 -23.2 0M1314.3 1719.3a11.6 11.6 0 1 0 23.2 0a11.6 11.6 0 1 0 -23.2 0M1315.6 1718.1a11.6 11.6 0 1 0 23.2 0a11.6 11.6 0 1 0 -23.2 0M1316.9 1717.2a11.6 11.6 0 1 0 23.2 0a11.6 11.6 0 1 0 -23.2 0M1318.2 1717.9a11.6 11.6 0 1 0 23.2 0a11.6 11.6 0 1 0 -23.2 0M1319.5 1717.1a11.6 11.6 0 1 0 23.2 0a11.6 11.6 0 1 0 -23.2 0M1320.7 1718.6a11.6 11.6 0 1 0 23.2 0a11.6 11.6 0 1 0 -23.2 0M1322 1719.4a11.6 11.6 0 1 0 23.2 0a11.6 11.6 0 1 0 -23.2 0M1323.2 1717.6a11.6 11.6 0 1 0 23.2 0a11.6 11.6 0 1 0 -23.2 0M1324.5 1718.4a11.6 11.6 0 1 0 23.2 0a11.6 11.6 0 1 0 -23.2 0M1325.7 1720.1a11.6 11.6 0 1 0 23.2 0a11.6 11.6 0 1 0 -23.2 0M1327 1718.3a11.6 11.6 0 1 0 23.2 0a11.6 11.6 0 1 0 -23.2 0M1328.2 1719.2a11.6 11.6 0 1 0 23.2 0a11.6 11.6 0 1 0 -23.2 0M1329.4 1717.8a11.6 11.6 0 1 0 23.2 0a11.6 11.6 0 1 0 -23.2 0M1330.6 1718.2a11.6 11.6 0 1 0 23.2 0a11.6 11.6 0 1 0 -23.2 0M1331.9 1718.7a11.6 11.6 0 1 0 23.2 0a11.6 11.6 0 1 0 -23.2 0M1333.1 1722.3a11.6 11.6 0 1 0 23.2 0a11.6 11.6 0 1 0 -23.2 0M1334.3 1719.1a11.6 11.6 0 1 0 23.2 0a11.6 11.6 0 1 0 -23.2 0M1335.5 1719a11.6 11.6 0 1 0 23.2 0a11.6 11.6 0 1 0 -23.2 0M1336.7 1719.1a11.6 11.6 0 1 0 23.2 0a11.6 11.6 0 1 0 -23.2 0M1337.8 1719.7a11.6 11.6 0 1 0 23.2 0a11.6 11.6 0 1 0 -23.2 0M1339 1721a11.6 11.6 0 1 0 23.2 0a11.6 11.6 0 1 0 -23.2 0M1340.2 1720.4a11.6 11.6 0 1 0 23.2 0a11.6 11.6 0 1 0 -23.2 0M1341.4 1723.3a11.6 11.6 0 1 0 23.2 0a11.6 11.6 0 1 0 -23.2 0M1342.5 1720.7a11.6 11.6 0 1 0 23.2 0a11.6 11.6 0 1 0 -23.2 0M1343.7 1722.7a11.6 11.6 0 1 0 23.2 0a11.6 11.6 0 1 0 -23.2 0M1344.9 1721a11.6 11.6 0 1 0 23.2 0a11.6 11.6 0 1 0 -23.2 0M1346 1721.6a11.6 11.6 0 1 0 23.2 0a11.6 11.6 0 1 0 -23.2 0M1347.2 1718.5a11.6 11.6 0 1 0 23.2 0a11.6 11.6 0 1 0 -23.2 0M1348.3 1720.7a11.6 11.6 0 1 0 23.2 0a11.6 11.6 0 1 0 -23.2 0M1349.4 1720.9a11.6 11.6 0 1 0 23.2 0a11.6 11.6 0 1 0 -23.2 0M1350.6 1720.7a11.6 11.6 0 1 0 23.2 0a11.6 11.6 0 1 0 -23.2 0M1351.7 1717.6a11.6 11.6 0 1 0 23.2 0a11.6 11.6 0 1 0 -23.2 0M1352.8 1722.8a11.6 11.6 0 1 0 23.2 0a11.6 11.6 0 1 0 -23.2 0M1353.9 1720.7a11.6 11.6 0 1 0 23.2 0a11.6 11.6 0 1 0 -23.2 0M1355 1720.7a11.6 11.6 0 1 0 23.2 0a11.6 11.6 0 1 0 -23.2 0M1356.1 1721.1a11.6 11.6 0 1 0 23.2 0a11.6 11.6 0 1 0 -23.2 0M1357.3 1721.3a11.6 11.6 0 1 0 23.2 0a11.6 11.6 0 1 0 -23.2 0M1358.4 1722.5a11.6 11.6 0 1 0 23.2 0a11.6 11.6 0 1 0 -23.2 0M1359.4 1719.5a11.6 11.6 0 1 0 23.2 0a11.6 11.6 0 1 0 -23.2 0M1360.5 1720.2a11.6 11.6 0 1 0 23.2 0a11.6 11.6 0 1 0 -23.2 0M1361.6 1722.6a11.6 11.6 0 1 0 23.2 0a11.6 11.6 0 1 0 -23.2 0M1362.7 1722.4a11.6 11.6 0 1 0 23.2 0a11.6 11.6 0 1 0 -23.2 0M1363.8 1721.5a11.6 11.6 0 1 0 23.2 0a11.6 11.6 0 1 0 -23.2 0M1364.9 1721.2a11.6 11.6 0 1 0 23.2 0a11.6 11.6 0 1 0 -23.2 0M1365.9 1720.7a11.6 11.6 0 1 0 23.2 0a11.6 11.6 0 1 0 -23.2 0" fill="none" stroke="#231F20" stroke-width="5.5" stroke-linejoin="miter"/>
<path d="M199.1 1418v12M186.1 1418h26M186.1 1430h26M275.7 1459.7v10M262.7 1459.7h26M262.7 1469.7h26M335.2 1498.8v8M322.2 1498.8h26M322.2 1506.8h26M383.8 1520v8M370.8 1520h26M370.8 1528h26M424.8 1530v8M411.8 1530h26M411.8 1538h26M460.4 1541.4v6M447.4 1541.4h26M447.4 1547.4h26M491.8 1548.2v6M478.8 1548.2h26M478.8 1554.2h26M519.9 1553.3v6M506.9 1553.3h26M506.9 1559.3h26M545.3 1555.5v6M532.3 1555.5h26M532.3 1561.5h26M568.5 1558.7v3.8M555.5 1558.7h26M555.5 1562.6h26M589.8 1561.1v3.7M576.8 1561.1h26M576.8 1564.8h26M609.5 1562.8v3.5M596.5 1562.8h26M596.5 1566.3h26M627.9 1564.9v3.4M614.9 1564.9h26M614.9 1568.3h26M645.1 1566.2v3.3M632.1 1566.2h26M632.1 1569.6h26M661.3 1567.3v3.2M648.3 1567.3h26M648.3 1570.6h26M676.5 1568.6v3.2M663.5 1568.6h26M663.5 1571.7h26M690.9 1569.1v3.1M677.9 1569.1h26M677.9 1572.2h26M704.6 1570.5v3.1M691.6 1570.5h26M691.6 1573.6h26M717.6 1571v3M704.6 1571h26M704.6 1574h26M730 1571.5v3M717 1571.5h26M717 1574.5h26M741.8 1571.9v3M728.8 1571.9h26M728.8 1574.9h26M753.1 1572.3v2.9M740.1 1572.3h26M740.1 1575.3h26M764 1572.8v2.9M751 1572.8h26M751 1575.8h26M774.5 1572.9v2.9M761.5 1572.9h26M761.5 1575.8h26M784.5 1573.8v2.9M771.5 1573.8h26M771.5 1576.6h26M794.2 1573.9v2.9M781.2 1573.9h26M781.2 1576.8h26M803.6 1574.4v2.9M790.6 1574.4h26M790.6 1577.3h26M812.6 1574.9v2.9M799.6 1574.9h26M799.6 1577.8h26M821.3 1575.2v2.8M808.3 1575.2h26M808.3 1578.1h26M829.8 1575.6v2.8M816.8 1575.6h26M816.8 1578.4h26M838 1576.1v2.8M825 1576.1h26M825 1578.9h26M845.9 1576.6v2.8M832.9 1576.6h26M832.9 1579.5h26M853.7 1577.2v2.8M840.7 1577.2h26M840.7 1580h26M861.2 1577.6v2.8M848.2 1577.6h26M848.2 1580.4h26M868.5 1577.8v2.8M855.5 1577.8h26M855.5 1580.6h26M875.6 1578.3v2.8M862.6 1578.3h26M862.6 1581.1h26M882.5 1578.7v2.8M869.5 1578.7h26M869.5 1581.5h26M889.2 1579.4v2.8M876.2 1579.4h26M876.2 1582.2h26M895.8 1579.4v2.8M882.8 1579.4h26M882.8 1582.2h26M902.2 1580.4v2.8M889.2 1580.4h26M889.2 1583.2h26M908.5 1580.6v2.8M895.5 1580.6h26M895.5 1583.4h26M914.6 1581.1v2.8M901.6 1581.1h26M901.6 1583.9h26M920.6 1581.7v2.8M907.6 1581.7h26M907.6 1584.5h26M926.5 1582.4v2.8M913.5 1582.4h26M913.5 1585.2h26M932.2 1582.8v2.8M919.2 1582.8h26M919.2 1585.6h26M937.8 1583.5v2.8M924.8 1583.5h26M924.8 1586.3h26M943.3 1583.9v2.8M930.3 1583.9h26M930.3 1586.7h26M948.7 1584.6v2.8M935.7 1584.6h26M935.7 1587.4h26M954 1585.2v2.8M941 1585.2h26M941 1588h26M959.1 1585.5v2.8M946.1 1585.5h26M946.1 1588.3h26M964.2 1586.4v2.8M951.2 1586.4h26M951.2 1589.2h26M969.2 1586.8v2.8M956.2 1586.8h26M956.2 1589.6h26M974.1 1587.5v2.8M961.1 1587.5h26M961.1 1590.3h26M978.9 1588v2.8M965.9 1588h26M965.9 1590.8h26M983.6 1588.7v2.8M970.6 1588.7h26M970.6 1591.5h26M988.2 1589.6v2.8M975.2 1589.6h26M975.2 1592.4h26M992.8 1589.9v2.8M979.8 1589.9h26M979.8 1592.7h26M997.3 1590.9v2.8M984.3 1590.9h26M984.3 1593.7h26M1001.7 1591.5v2.8M988.7 1591.5h26M988.7 1594.3h26M1006 1592.2v2.8M993 1592.2h26M993 1595h26M1010.3 1592.4v2.8M997.3 1592.4h26M997.3 1595.2h26M1014.5 1593.4v2.8M1001.5 1593.4h26M1001.5 1596.2h26M1018.6 1594.2v2.8M1005.6 1594.2h26M1005.6 1597h26M1022.7 1594.6v2.8M1009.7 1594.6h26M1009.7 1597.4h26M1026.7 1595.4v2.8M1013.7 1595.4h26M1013.7 1598.2h26M1030.6 1595.6v2.8M1017.6 1595.6h26M1017.6 1598.4h26M1034.5 1596.8v2.8M1021.5 1596.8h26M1021.5 1599.6h26M1038.3 1597.2v2.8M1025.3 1597.2h26M1025.3 1600h26M1042.1 1598.1v2.8M1029.1 1598.1h26M1029.1 1600.9h26M1045.9 1598.2v2.8M1032.9 1598.2h26M1032.9 1601h26M1049.5 1599.3v2.8M1036.5 1599.3h26M1036.5 1602.1h26M1053.2 1599.7v2.8M1040.2 1599.7h26M1040.2 1602.5h26M1056.7 1600.5v2.8M1043.7 1600.5h26M1043.7 1603.3h26M1060.3 1600.8v2.8M1047.3 1600.8h26M1047.3 1603.6h26M1063.7 1601.4v2.8M1050.7 1601.4h26M1050.7 1604.2h26M1067.2 1602.5v2.8M1054.2 1602.5h26M1054.2 1605.3h26M1070.6 1602.6v2.8M1057.6 1602.6h26M1057.6 1605.4h26M1073.9 1603.2v2.8M1060.9 1603.2h26M1060.9 1606h26M1077.2 1603.8v2.8M1064.2 1603.8h26M1064.2 1606.6h26M1080.5 1604.2v2.8M1067.5 1604.2h26M1067.5 1607h26M1083.7 1605.2v2.8M1070.7 1605.2h26M1070.7 1608h26M1086.9 1605.8v2.8M1073.9 1605.8h26M1073.9 1608.6h26M1090.1 1606v2.8M1077.1 1606h26M1077.1 1608.8h26M1093.2 1606.3v2.8M1080.2 1606.3h26M1080.2 1609.1h26M1096.3 1607.4v2.8M1083.3 1607.4h26M1083.3 1610.2h26M1099.3 1607.9v2.8M1086.3 1607.9h26M1086.3 1610.7h26M1102.3 1608.4v2.8M1089.3 1608.4h26M1089.3 1611.2h26M1105.3 1609v2.8M1092.3 1609h26M1092.3 1611.8h26M1108.3 1609.1v2.8M1095.3 1609.1h26M1095.3 1611.9h26M1111.2 1609.7v2.8M1098.2 1609.7h26M1098.2 1612.5h26M1114 1610v2.8M1101 1610h26M1101 1612.8h26M1116.9 1610.5v2.8M1103.9 1610.5h26M1103.9 1613.3h26M1119.7 1611.5v2.8M1106.7 1611.5h26M1106.7 1614.3h26M1122.5 1611.7v2.8M1109.5 1611.7h26M1109.5 1614.5h26M1125.3 1612.7v2.8M1112.3 1612.7h26M1112.3 1615.5h26M1128 1612.8v2.8M1115 1612.8h26M1115 1615.6h26M1130.7 1613.2v2.8M1117.7 1613.2h26M1117.7 1616h26M1133.4 1613.9v2.8M1120.4 1613.9h26M1120.4 1616.7h26M1136 1614.6v2.8M1123 1614.6h26M1123 1617.4h26M1138.7 1614.8v2.8M1125.7 1614.8h26M1125.7 1617.6h26M1141.3 1615v2.8M1128.3 1615h26M1128.3 1617.8h26M1143.8 1615.8v2.8M1130.8 1615.8h26M1130.8 1618.6h26M1146.4 1616.4v2.8M1133.4 1616.4h26M1133.4 1619.2h26M1148.9 1616.5v2.8M1135.9 1616.5h26M1135.9 1619.3h26M1151.4 1616.9v2.8M1138.4 1616.9h26M1138.4 1619.7h26M1153.9 1617.8v2.8M1140.9 1617.8h26M1140.9 1620.6h26M1156.3 1618v2.8M1143.3 1618h26M1143.3 1620.8h26M1158.8 1618.2v2.8M1145.8 1618.2h26M1145.8 1621h26M1161.2 1618.8v2.8M1148.2 1618.8h26M1148.2 1621.6h26M1163.6 1619.2v2.8M1150.6 1619.2h26M1150.6 1622h26M1165.9 1619.8v2.8M1152.9 1619.8h26M1152.9 1622.6h26M1168.3 1620.2v2.8M1155.3 1620.2h26M1155.3 1623h26M1170.6 1620.9v2.8M1157.6 1620.9h26M1157.6 1623.7h26M1172.9 1621.2v2.8M1159.9 1621.2h26M1159.9 1624h26M1175.2 1621.1v2.8M1162.2 1621.1h26M1162.2 1623.9h26M1177.5 1622v2.8M1164.5 1622h26M1164.5 1624.8h26M1179.7 1622.5v2.8M1166.7 1622.5h26M1166.7 1625.3h26M1182 1622.8v2.8M1169 1622.8h26M1169 1625.6h26M1184.2 1623.3v2.8M1171.2 1623.3h26M1171.2 1626.1h26M1186.4 1623.3v2.8M1173.4 1623.3h26M1173.4 1626.1h26M1188.5 1623.6v2.8M1175.5 1623.6h26M1175.5 1626.4h26M1190.7 1624.5v2.8M1177.7 1624.5h26M1177.7 1627.3h26M1192.8 1624.3v2.8M1179.8 1624.3h26M1179.8 1627.1h26M1195 1624.4v2.8M1182 1624.4h26M1182 1627.2h26M1197.1 1625.6v2.8M1184.1 1625.6h26M1184.1 1628.4h26M1199.2 1625.5v2.8M1186.2 1625.5h26M1186.2 1628.3h26M1201.2 1625.9v2.8M1188.2 1625.9h26M1188.2 1628.7h26M1203.3 1626v2.8M1190.3 1626h26M1190.3 1628.8h26M1205.3 1626.3v2.8M1192.3 1626.3h26M1192.3 1629.1h26M1207.4 1626.7v2.8M1194.4 1626.7h26M1194.4 1629.5h26M1209.4 1627.3v2.8M1196.4 1627.3h26M1196.4 1630.1h26M1211.4 1627.9v2.8M1198.4 1627.9h26M1198.4 1630.7h26M1213.3 1627.4v2.8M1200.3 1627.4h26M1200.3 1630.2h26M1215.3 1628.6v2.8M1202.3 1628.6h26M1202.3 1631.4h26M1217.3 1628.3v2.8M1204.3 1628.3h26M1204.3 1631.1h26M1219.2 1628.7v2.8M1206.2 1628.7h26M1206.2 1631.5h26M1221.1 1629.6v2.8M1208.1 1629.6h26M1208.1 1632.4h26M1223 1629.6v2.8M1210 1629.6h26M1210 1632.4h26M1224.9 1629.5v2.8M1211.9 1629.5h26M1211.9 1632.3h26M1226.8 1630.9v2.8M1213.8 1630.9h26M1213.8 1633.7h26M1228.7 1630.3v2.8M1215.7 1630.3h26M1215.7 1633.1h26M1230.5 1631v2.8M1217.5 1631h26M1217.5 1633.8h26M1232.4 1631.2v2.8M1219.4 1631.2h26M1219.4 1634h26M1234.2 1632v2.8M1221.2 1632h26M1221.2 1634.8h26M1236 1631.6v2.8M1223 1631.6h26M1223 1634.4h26M1237.8 1632.4v2.8M1224.8 1632.4h26M1224.8 1635.2h26M1239.6 1632v2.8M1226.6 1632h26M1226.6 1634.8h26M1241.4 1633v2.8M1228.4 1633h26M1228.4 1635.8h26M1243.2 1632.5v2.8M1230.2 1632.5h26M1230.2 1635.3h26M1244.9 1633v2.8M1231.9 1633h26M1231.9 1635.8h26M1246.7 1634.2v2.8M1233.7 1634.2h26M1233.7 1637h26M1248.4 1633.8v2.8M1235.4 1633.8h26M1235.4 1636.6h26M1250.2 1633.9v2.8M1237.2 1633.9h26M1237.2 1636.8h26M1251.9 1635.1v2.8M1238.9 1635.1h26M1238.9 1637.9h26M1253.6 1634.6v2.8M1240.6 1634.6h26M1240.6 1637.4h26M1255.3 1634.3v2.8M1242.3 1634.3h26M1242.3 1637.1h26M1256.9 1635.2v2.8M1243.9 1635.2h26M1243.9 1638h26M1258.6 1634.6v2.8M1245.6 1634.6h26M1245.6 1637.4h26M1260.3 1635.9v2.8M1247.3 1635.9h26M1247.3 1638.7h26M1261.9 1636.2v2.8M1248.9 1636.2h26M1248.9 1639h26M1263.6 1635.6v2.8M1250.6 1635.6h26M1250.6 1638.4h26M1265.2 1635.8v2.8M1252.2 1635.8h26M1252.2 1638.6h26M1266.8 1636.4v2.8M1253.8 1636.4h26M1253.8 1639.2h26M1268.4 1636.5v2.8M1255.4 1636.5h26M1255.4 1639.4h26M1270 1636.2v2.8M1257 1636.2h26M1257 1639.1h26M1271.6 1637.3v2.8M1258.6 1637.3h26M1258.6 1640.1h26M1273.2 1636.1v2.9M1260.2 1636.1h26M1260.2 1638.9h26M1274.8 1637.2v2.9M1261.8 1637.2h26M1261.8 1640h26M1276.3 1637.4v2.9M1263.3 1637.4h26M1263.3 1640.2h26M1277.9 1637.7v2.9M1264.9 1637.7h26M1264.9 1640.5h26M1279.4 1638.2v2.9M1266.4 1638.2h26M1266.4 1641.1h26M1281 1637.5v2.9M1268 1637.5h26M1268 1640.4h26M1282.5 1638.8v2.9M1269.5 1638.8h26M1269.5 1641.7h26M1284 1638.5v2.9M1271 1638.5h26M1271 1641.4h26M1285.5 1638.4v2.9M1272.5 1638.4h26M1272.5 1641.3h26M1287 1638.1v2.9M1274 1638.1h26M1274 1641.1h26M1288.5 1638.4v2.9M1275.5 1638.4h26M1275.5 1641.4h26M1290 1639.6v2.9M1277 1639.6h26M1277 1642.6h26M1291.5 1638.9v3M1278.5 1638.9h26M1278.5 1641.9h26M1292.9 1639.8v3M1279.9 1639.8h26M1279.9 1642.8h26M1294.4 1640.7v3M1281.4 1640.7h26M1281.4 1643.7h26M1295.8 1640.9v3M1282.8 1640.9h26M1282.8 1643.9h26M1297.3 1641.4v3M1284.3 1641.4h26M1284.3 1644.4h26M1298.7 1640.3v3M1285.7 1640.3h26M1285.7 1643.3h26M1300.2 1639.8v3.1M1287.2 1639.8h26M1287.2 1642.9h26M1301.6 1641.6v3.1M1288.6 1641.6h26M1288.6 1644.7h26M1303 1641.2v3.1M1290 1641.2h26M1290 1644.3h26M1304.4 1642v3.1M1291.4 1642h26M1291.4 1645.2h26M1305.8 1641.3v3.2M1292.8 1641.3h26M1292.8 1644.5h26M1307.2 1642.4v3.2M1294.2 1642.4h26M1294.2 1645.6h26M1308.6 1642.3v3.2M1295.6 1642.3h26M1295.6 1645.5h26M1309.9 1642.4v3.3M1296.9 1642.4h26M1296.9 1645.6h26M1311.3 1642.3v3.3M1298.3 1642.3h26M1298.3 1645.7h26M1312.7 1642.4v3.4M1299.7 1642.4h26M1299.7 1645.8h26M1314 1642.4v3.4M1301 1642.4h26M1301 1645.8h26M1315.4 1642.5v3.5M1302.4 1642.5h26M1302.4 1646h26M1316.7 1643.4v3.5M1303.7 1643.4h26M1303.7 1646.9h26M1318.1 1642.1v3.6M1305.1 1642.1h26M1305.1 1645.7h26M1319.4 1644.4v3.7M1306.4 1644.4h26M1306.4 1648h26M1320.7 1642.7v3.7M1307.7 1642.7h26M1307.7 1646.5h26M1322 1643.9v3.8M1309 1643.9h26M1309 1647.7h26M1323.3 1643v3.9M1310.3 1643h26M1310.3 1646.9h26M1324.6 1642.9v4M1311.6 1642.9h26M1311.6 1646.9h26M1325.9 1645.4v4.1M1312.9 1645.4h26M1312.9 1649.4h26M1327.2 1643.1v4.2M1314.2 1643.1h26M1314.2 1647.2h26M1328.5 1642.1v4.3M1315.5 1642.1h26M1315.5 1646.4h26M1329.8 1642.8v4.4M1316.8 1642.8h26M1316.8 1647.2h26M1331.1 1643.3v4.5M1318.1 1643.3h26M1318.1 1647.8h26M1332.3 1646.1v4.7M1319.3 1646.1h26M1319.3 1650.8h26M1333.6 1644v4.8M1320.6 1644h26M1320.6 1648.8h26M1334.8 1644.9v5M1321.8 1644.9h26M1321.8 1649.9h26M1336.1 1642.7v5.1M1323.1 1642.7h26M1323.1 1647.9h26M1337.3 1644.4v5.3M1324.3 1644.4h26M1324.3 1649.7h26M1338.6 1644.8v5.5M1325.6 1644.8h26M1325.6 1650.3h26M1339.8 1646.3v5.7M1326.8 1646.3h26M1326.8 1652h26M1341 1643.2v5.9M1328 1643.2h26M1328 1649.1h26M1342.2 1644.9v6.2M1329.2 1644.9h26M1329.2 1651h26M1343.5 1644.5v6.4M1330.5 1644.5h26M1330.5 1650.9h26M1344.7 1642.8v6.7M1331.7 1642.8h26M1331.7 1649.5h26M1345.9 1644.1v7M1332.9 1644.1h26M1332.9 1651h26M1347.1 1643.7v7.3M1334.1 1643.7h26M1334.1 1651h26M1348.3 1640.8v7.6M1335.3 1640.8h26M1335.3 1648.5h26M1349.4 1644.8v8M1336.4 1644.8h26M1336.4 1652.8h26M1350.6 1644.7v8.4M1337.6 1644.7h26M1337.6 1653h26M1351.8 1643.2v8.8M1338.8 1643.2h26M1338.8 1652h26M1353 1641.8v9.2M1340 1641.8h26M1340 1651h26M1354.1 1645.8v9.7M1341.1 1645.8h26M1341.1 1655.5h26M1355.3 1643.9v10.2M1342.3 1643.9h26M1342.3 1654.1h26M1356.5 1644.9v10.7M1343.5 1644.9h26M1343.5 1655.6h26M1357.6 1645.4v11.3M1344.6 1645.4h26M1344.6 1656.7h26M1358.8 1642.2v11.9M1345.8 1642.2h26M1345.8 1654.1h26M1359.9 1644.1v12.5M1346.9 1644.1h26M1346.9 1656.7h26M1361 1642.2v13.2M1348 1642.2h26M1348 1655.4h26M1362.2 1642.3v13.9M1349.2 1642.3h26M1349.2 1656.2h26M1363.3 1641.9v14.7M1350.3 1641.9h26M1350.3 1656.7h26M1364.4 1641.8v15.5M1351.4 1641.8h26M1351.4 1657.3h26M1365.5 1643.4v16.4M1352.5 1643.4h26M1352.5 1659.8h26M1366.6 1641.3v17.4M1353.6 1641.3h26M1353.6 1658.7h26M1367.7 1640.4v18.4M1354.7 1640.4h26M1354.7 1658.8h26M1368.9 1639.8v19.4M1355.9 1639.8h26M1355.9 1659.2h26M1370 1640.5v20.6M1357 1640.5h26M1357 1661.1h26M1371 1637.7v21.8M1358 1637.7h26M1358 1659.5h26M1372.1 1637.9v23.1M1359.1 1637.9h26M1359.1 1660.9h26M1373.2 1638.2v24.4M1360.2 1638.2h26M1360.2 1662.6h26M1374.3 1636.5v25.9M1361.3 1636.5h26M1361.3 1662.4h26M1375.4 1636.7v27.4M1362.4 1636.7h26M1362.4 1664.2h26M1376.5 1635v29.1M1363.5 1635h26M1363.5 1664.1h26M1377.5 1639.6v30.8M1364.5 1639.6h26M1364.5 1670.4h26" fill="none" stroke="#231F20" stroke-width="4.6"/>
<path d="M188.7 1413.6h20.8v20.8h-20.8zM265.3 1454.3h20.8v20.8h-20.8zM324.8 1492.4h20.8v20.8h-20.8zM373.4 1513.6h20.8v20.8h-20.8zM414.4 1523.6h20.8v20.8h-20.8zM450 1534h20.8v20.8h-20.8zM481.4 1540.8h20.8v20.8h-20.8zM509.5 1545.9h20.8v20.8h-20.8zM534.9 1548.1h20.8v20.8h-20.8zM558.1 1550.3h20.8v20.8h-20.8zM579.4 1552.6h20.8v20.8h-20.8zM599.1 1554.1h20.8v20.8h-20.8zM617.5 1556.2h20.8v20.8h-20.8zM634.7 1557.5h20.8v20.8h-20.8zM650.9 1558.5h20.8v20.8h-20.8zM666.1 1559.7h20.8v20.8h-20.8zM680.5 1560.2h20.8v20.8h-20.8zM694.2 1561.7h20.8v20.8h-20.8zM707.2 1562.1h20.8v20.8h-20.8zM719.6 1562.6h20.8v20.8h-20.8zM731.4 1563h20.8v20.8h-20.8zM742.7 1563.4h20.8v20.8h-20.8zM753.6 1563.9h20.8v20.8h-20.8zM764.1 1564h20.8v20.8h-20.8zM774.1 1564.8h20.8v20.8h-20.8zM783.8 1564.9h20.8v20.8h-20.8zM793.2 1565.5h20.8v20.8h-20.8zM802.2 1565.9h20.8v20.8h-20.8zM810.9 1566.2h20.8v20.8h-20.8zM819.4 1566.6h20.8v20.8h-20.8zM827.6 1567.1h20.8v20.8h-20.8zM835.5 1567.7h20.8v20.8h-20.8zM843.3 1568.2h20.8v20.8h-20.8zM850.8 1568.6h20.8v20.8h-20.8zM858.1 1568.8h20.8v20.8h-20.8zM865.2 1569.3h20.8v20.8h-20.8zM872.1 1569.7h20.8v20.8h-20.8zM878.8 1570.4h20.8v20.8h-20.8zM885.4 1570.4h20.8v20.8h-20.8zM891.8 1571.4h20.8v20.8h-20.8zM898.1 1571.6h20.8v20.8h-20.8zM904.2 1572.1h20.8v20.8h-20.8zM910.2 1572.7h20.8v20.8h-20.8zM916.1 1573.4h20.8v20.8h-20.8zM921.8 1573.8h20.8v20.8h-20.8zM927.4 1574.5h20.8v20.8h-20.8zM932.9 1574.9h20.8v20.8h-20.8zM938.3 1575.6h20.8v20.8h-20.8zM943.6 1576.2h20.8v20.8h-20.8zM948.7 1576.5h20.8v20.8h-20.8zM953.8 1577.4h20.8v20.8h-20.8zM958.8 1577.8h20.8v20.8h-20.8zM963.7 1578.5h20.8v20.8h-20.8zM968.5 1579h20.8v20.8h-20.8zM973.2 1579.7h20.8v20.8h-20.8zM977.8 1580.6h20.8v20.8h-20.8zM982.4 1580.9h20.8v20.8h-20.8zM986.9 1581.9h20.8v20.8h-20.8zM991.3 1582.5h20.8v20.8h-20.8zM995.6 1583.2h20.8v20.8h-20.8zM999.9 1583.4h20.8v20.8h-20.8zM1004.1 1584.4h20.8v20.8h-20.8zM1008.2 1585.2h20.8v20.8h-20.8zM1012.3 1585.6h20.8v20.8h-20.8zM1016.3 1586.4h20.8v20.8h-20.8zM1020.2 1586.6h20.8v20.8h-20.8zM1024.1 1587.8h20.8v20.8h-20.8zM1027.9 1588.2h20.8v20.8h-20.8zM1031.7 1589.1h20.8v20.8h-20.8zM1035.5 1589.2h20.8v20.8h-20.8zM1039.1 1590.3h20.8v20.8h-20.8zM1042.8 1590.7h20.8v20.8h-20.8zM1046.3 1591.5h20.8v20.8h-20.8zM1049.9 1591.8h20.8v20.8h-20.8zM1053.3 1592.4h20.8v20.8h-20.8zM1056.8 1593.5h20.8v20.8h-20.8zM1060.2 1593.6h20.8v20.8h-20.8zM1063.5 1594.2h20.8v20.8h-20.8zM1066.8 1594.8h20.8v20.8h-20.8zM1070.1 1595.2h20.8v20.8h-20.8zM1073.3 1596.2h20.8v20.8h-20.8zM1076.5 1596.8h20.8v20.8h-20.8zM1079.7 1597h20.8v20.8h-20.8zM1082.8 1597.3h20.8v20.8h-20.8zM1085.9 1598.4h20.8v20.8h-20.8zM1088.9 1598.9h20.8v20.8h-20.8zM1091.9 1599.4h20.8v20.8h-20.8zM1094.9 1600h20.8v20.8h-20.8zM1097.9 1600.1h20.8v20.8h-20.8zM1100.8 1600.7h20.8v20.8h-20.8zM1103.6 1601h20.8v20.8h-20.8zM1106.5 1601.5h20.8v20.8h-20.8zM1109.3 1602.5h20.8v20.8h-20.8zM1112.1 1602.7h20.8v20.8h-20.8zM1114.9 1603.7h20.8v20.8h-20.8zM1117.6 1603.8h20.8v20.8h-20.8zM1120.3 1604.2h20.8v20.8h-20.8zM1123 1604.9h20.8v20.8h-20.8zM1125.6 1605.6h20.8v20.8h-20.8zM1128.3 1605.8h20.8v20.8h-20.8zM1130.9 1606h20.8v20.8h-20.8zM1133.4 1606.8h20.8v20.8h-20.8zM1136 1607.4h20.8v20.8h-20.8zM1138.5 1607.5h20.8v20.8h-20.8zM1141 1607.9h20.8v20.8h-20.8zM1143.5 1608.8h20.8v20.8h-20.8zM1145.9 1609h20.8v20.8h-20.8zM1148.4 1609.2h20.8v20.8h-20.8zM1150.8 1609.8h20.8v20.8h-20.8zM1153.2 1610.2h20.8v20.8h-20.8zM1155.5 1610.8h20.8v20.8h-20.8zM1157.9 1611.2h20.8v20.8h-20.8zM1160.2 1611.9h20.8v20.8h-20.8zM1162.5 1612.2h20.8v20.8h-20.8zM1164.8 1612.1h20.8v20.8h-20.8zM1167.1 1613h20.8v20.8h-20.8zM1169.3 1613.5h20.8v20.8h-20.8zM1171.6 1613.8h20.8v20.8h-20.8zM1173.8 1614.3h20.8v20.8h-20.8zM1176 1614.3h20.8v20.8h-20.8zM1178.1 1614.6h20.8v20.8h-20.8zM1180.3 1615.5h20.8v20.8h-20.8zM1182.4 1615.3h20.8v20.8h-20.8zM1184.6 1615.4h20.8v20.8h-20.8zM1186.7 1616.6h20.8v20.8h-20.8zM1188.8 1616.5h20.8v20.8h-20.8zM1190.8 1616.9h20.8v20.8h-20.8zM1192.9 1617h20.8v20.8h-20.8zM1194.9 1617.3h20.8v20.8h-20.8zM1197 1617.7h20.8v20.8h-20.8zM1199 1618.3h20.8v20.8h-20.8zM1201 1618.9h20.8v20.8h-20.8zM1202.9 1618.4h20.8v20.8h-20.8zM1204.9 1619.6h20.8v20.8h-20.8zM1206.9 1619.3h20.8v20.8h-20.8zM1208.8 1619.7h20.8v20.8h-20.8zM1210.7 1620.6h20.8v20.8h-20.8zM1212.6 1620.6h20.8v20.8h-20.8zM1214.5 1620.5h20.8v20.8h-20.8zM1216.4 1621.9h20.8v20.8h-20.8zM1218.3 1621.3h20.8v20.8h-20.8zM1220.1 1622h20.8v20.8h-20.8zM1222 1622.2h20.8v20.8h-20.8zM1223.8 1623h20.8v20.8h-20.8zM1225.6 1622.6h20.8v20.8h-20.8zM1227.4 1623.4h20.8v20.8h-20.8zM1229.2 1623h20.8v20.8h-20.8zM1231 1624h20.8v20.8h-20.8zM1232.8 1623.5h20.8v20.8h-20.8zM1234.5 1624h20.8v20.8h-20.8zM1236.3 1625.2h20.8v20.8h-20.8zM1238 1624.8h20.8v20.8h-20.8zM1239.8 1624.9h20.8v20.8h-20.8zM1241.5 1626.1h20.8v20.8h-20.8zM1243.2 1625.6h20.8v20.8h-20.8zM1244.9 1625.3h20.8v20.8h-20.8zM1246.5 1626.2h20.8v20.8h-20.8zM1248.2 1625.6h20.8v20.8h-20.8zM1249.9 1626.9h20.8v20.8h-20.8zM1251.5 1627.2h20.8v20.8h-20.8zM1253.2 1626.6h20.8v20.8h-20.8zM1254.8 1626.8h20.8v20.8h-20.8zM1256.4 1627.4h20.8v20.8h-20.8zM1258 1627.6h20.8v20.8h-20.8zM1259.6 1627.3h20.8v20.8h-20.8zM1261.2 1628.3h20.8v20.8h-20.8zM1262.8 1627.1h20.8v20.8h-20.8zM1264.4 1628.2h20.8v20.8h-20.8zM1265.9 1628.4h20.8v20.8h-20.8zM1267.5 1628.7h20.8v20.8h-20.8zM1269 1629.2h20.8v20.8h-20.8zM1270.6 1628.5h20.8v20.8h-20.8zM1272.1 1629.8h20.8v20.8h-20.8zM1273.6 1629.6h20.8v20.8h-20.8zM1275.1 1629.5h20.8v20.8h-20.8zM1276.6 1629.2h20.8v20.8h-20.8zM1278.1 1629.5h20.8v20.8h-20.8zM1279.6 1630.7h20.8v20.8h-20.8zM1281.1 1630h20.8v20.8h-20.8zM1282.5 1630.9h20.8v20.8h-20.8zM1284 1631.8h20.8v20.8h-20.8zM1285.4 1632h20.8v20.8h-20.8zM1286.9 1632.5h20.8v20.8h-20.8zM1288.3 1631.4h20.8v20.8h-20.8zM1289.8 1631h20.8v20.8h-20.8zM1291.2 1632.7h20.8v20.8h-20.8zM1292.6 1632.4h20.8v20.8h-20.8zM1294 1633.2h20.8v20.8h-20.8zM1295.4 1632.5h20.8v20.8h-20.8zM1296.8 1633.6h20.8v20.8h-20.8zM1298.2 1633.5h20.8v20.8h-20.8zM1299.5 1633.6h20.8v20.8h-20.8zM1300.9 1633.6h20.8v20.8h-20.8zM1302.3 1633.7h20.8v20.8h-20.8zM1303.6 1633.7h20.8v20.8h-20.8zM1305 1633.9h20.8v20.8h-20.8zM1306.3 1634.7h20.8v20.8h-20.8zM1307.7 1633.5h20.8v20.8h-20.8zM1309 1635.8h20.8v20.8h-20.8zM1310.3 1634.2h20.8v20.8h-20.8zM1311.6 1635.4h20.8v20.8h-20.8zM1312.9 1634.5h20.8v20.8h-20.8zM1314.2 1634.5h20.8v20.8h-20.8zM1315.5 1637h20.8v20.8h-20.8zM1316.8 1634.7h20.8v20.8h-20.8zM1318.1 1633.9h20.8v20.8h-20.8zM1319.4 1634.6h20.8v20.8h-20.8zM1320.7 1635.2h20.8v20.8h-20.8zM1321.9 1638.1h20.8v20.8h-20.8zM1323.2 1636h20.8v20.8h-20.8zM1324.4 1637h20.8v20.8h-20.8zM1325.7 1634.9h20.8v20.8h-20.8zM1326.9 1636.6h20.8v20.8h-20.8zM1328.2 1637.2h20.8v20.8h-20.8zM1329.4 1638.7h20.8v20.8h-20.8zM1330.6 1635.8h20.8v20.8h-20.8zM1331.8 1637.5h20.8v20.8h-20.8zM1333.1 1637.3h20.8v20.8h-20.8zM1334.3 1635.7h20.8v20.8h-20.8zM1335.5 1637.1h20.8v20.8h-20.8zM1336.7 1637h20.8v20.8h-20.8zM1337.9 1634.2h20.8v20.8h-20.8zM1339 1638.4h20.8v20.8h-20.8zM1340.2 1638.5h20.8v20.8h-20.8zM1341.4 1637.2h20.8v20.8h-20.8zM1342.6 1636h20.8v20.8h-20.8zM1343.7 1640.3h20.8v20.8h-20.8zM1344.9 1638.6h20.8v20.8h-20.8zM1346.1 1639.9h20.8v20.8h-20.8zM1347.2 1640.6h20.8v20.8h-20.8zM1348.4 1637.7h20.8v20.8h-20.8zM1349.5 1640h20.8v20.8h-20.8zM1350.6 1638.4h20.8v20.8h-20.8zM1351.8 1638.8h20.8v20.8h-20.8zM1352.9 1638.9h20.8v20.8h-20.8zM1354 1639.2h20.8v20.8h-20.8zM1355.1 1641.2h20.8v20.8h-20.8zM1356.2 1639.6h20.8v20.8h-20.8zM1357.3 1639.2h20.8v20.8h-20.8zM1358.5 1639.1h20.8v20.8h-20.8zM1359.6 1640.4h20.8v20.8h-20.8zM1360.6 1638.2h20.8v20.8h-20.8zM1361.7 1639h20.8v20.8h-20.8zM1362.8 1640h20.8v20.8h-20.8zM1363.9 1639.1h20.8v20.8h-20.8zM1365 1640.1h20.8v20.8h-20.8zM1366.1 1639.2h20.8v20.8h-20.8zM1367.1 1644.6h20.8v20.8h-20.8z" fill="none" stroke="#231F20" stroke-width="5.5" stroke-linejoin="miter"/>
<path d="M199.1 1422.8v12M191.1 1422.8h16M191.1 1434.8h16M275.7 1507v8M267.7 1507h16M267.7 1515h16M335.2 1565.5v8M327.2 1565.5h16M327.2 1573.5h16M383.8 1604.1v7.2M375.8 1604.1h16M375.8 1611.2h16M424.8 1630v6.8M416.8 1630h16M416.8 1636.9h16M460.4 1645.5v6M452.4 1645.5h16M452.4 1651.5h16M491.8 1658.1v5.2M483.8 1658.1h16M483.8 1663.2h16M519.9 1665.2v4.4M511.9 1665.2h16M511.9 1669.7h16M545.3 1673.7v4M537.3 1673.7h16M537.3 1677.7h16M568.5 1679.6v2.4M560.5 1679.6h16M560.5 1682h16M589.8 1684.1v2.4M581.8 1684.1h16M581.8 1686.5h16M609.5 1687.9v2.4M601.5 1687.9h16M601.5 1690.3h16M627.9 1691.6v2.4M619.9 1691.6h16M619.9 1694h16M645.1 1694.2v2.4M637.1 1694.2h16M637.1 1696.6h16M661.3 1696.5v2.4M653.3 1696.5h16M653.3 1698.9h16M676.5 1698.7v2.4M668.5 1698.7h16M668.5 1701.1h16M690.9 1700.6v2.4M682.9 1700.6h16M682.9 1703h16M704.6 1702.4v2.4M696.6 1702.4h16M696.6 1704.8h16M717.6 1703.7v2.4M709.6 1703.7h16M709.6 1706.1h16M730 1705.4v2.4M722 1705.4h16M722 1707.8h16M741.8 1706.1v2.4M733.8 1706.1h16M733.8 1708.5h16M753.1 1707.4v2.4M745.1 1707.4h16M745.1 1709.8h16M764 1711.3v2.4M756 1711.3h16M756 1713.7h16M774.5 1709.8v2.4M766.5 1709.8h16M766.5 1712.2h16M784.5 1710.7v2.4M776.5 1710.7h16M776.5 1713.1h16M794.2 1711.9v2.4M786.2 1711.9h16M786.2 1714.3h16M803.6 1713.2v2.4M795.6 1713.2h16M795.6 1715.6h16M812.6 1714.3v2.4M804.6 1714.3h16M804.6 1716.7h16M821.3 1714.6v2.4M813.3 1714.6h16M813.3 1717h16M829.8 1715.4v2.4M821.8 1715.4h16M821.8 1717.8h16M838 1715.8v2.4M830 1715.8h16M830 1718.2h16M845.9 1716.7v2.4M837.9 1716.7h16M837.9 1719.1h16M853.7 1717.3v2.4M845.7 1717.3h16M845.7 1719.7h16M861.2 1717.8v2.4M853.2 1717.8h16M853.2 1720.2h16M868.5 1718.4v2.4M860.5 1718.4h16M860.5 1720.8h16M875.6 1719v2.4M867.6 1719h16M867.6 1721.4h16M882.5 1719.5v2.4M874.5 1719.5h16M874.5 1721.9h16M889.2 1720.3v2.4M881.2 1720.3h16M881.2 1722.7h16M895.8 1721v2.4M887.8 1721h16M887.8 1723.4h16M902.2 1721.1v2.4M894.2 1721.1h16M894.2 1723.5h16M908.5 1721.9v2.4M900.5 1721.9h16M900.5 1724.3h16M914.6 1722.5v2.4M906.6 1722.5h16M906.6 1724.9h16M920.6 1723.2v2.4M912.6 1723.2h16M912.6 1725.6h16M926.5 1723.6v2.4M918.5 1723.6h16M918.5 1726h16M932.2 1724.3v2.4M924.2 1724.3h16M924.2 1726.7h16M937.8 1724.8v2.4M929.8 1724.8h16M929.8 1727.2h16M943.3 1725.6v2.4M935.3 1725.6h16M935.3 1728h16M948.7 1725.9v2.4M940.7 1725.9h16M940.7 1728.3h16M954 1726.4v2.4M946 1726.4h16M946 1728.8h16M959.1 1727v2.4M951.1 1727h16M951.1 1729.4h16M964.2 1727.4v2.4M956.2 1727.4h16M956.2 1729.8h16M969.2 1727.7v2.4M961.2 1727.7h16M961.2 1730.1h16M974.1 1728.5v2.4M966.1 1728.5h16M966.1 1730.9h16M978.9 1729v2.4M970.9 1729h16M970.9 1731.4h16M983.6 1729.5v2.4M975.6 1729.5h16M975.6 1731.9h16M988.2 1730.2v2.4M980.2 1730.2h16M980.2 1732.6h16M992.8 1730.7v2.4M984.8 1730.7h16M984.8 1733.1h16M997.3 1730.9v2.4M989.3 1730.9h16M989.3 1733.3h16M1001.7 1731.4v2.4M993.7 1731.4h16M993.7 1733.8h16M1006 1732.3v2.4M998 1732.3h16M998 1734.7h16M1010.3 1732.8v2.4M1002.3 1732.8h16M1002.3 1735.2h16M1014.5 1732.9v2.4M1006.5 1732.9h16M1006.5 1735.3h16M1018.6 1733.3v2.4M1010.6 1733.3h16M1010.6 1735.7h16M1022.7 1733.9v2.4M1014.7 1733.9h16M1014.7 1736.3h16M1026.7 1734.4v2.4M1018.7 1734.4h16M1018.7 1736.8h16M1030.6 1734.7v2.4M1022.6 1734.7h16M1022.6 1737.1h16M1034.5 1735.4v2.4M1026.5 1735.4h16M1026.5 1737.8h16M1038.3 1735.7v2.4M1030.3 1735.7h16M1030.3 1738.1h16M1042.1 1736.2v2.4M1034.1 1736.2h16M1034.1 1738.6h16M1045.9 1737v2.4M1037.9 1737h16M1037.9 1739.4h16M1049.5 1737.2v2.4M1041.5 1737.2h16M1041.5 1739.6h16M1053.2 1737.7v2.4M1045.2 1737.7h16M1045.2 1740.1h16M1056.7 1738.3v2.4M1048.7 1738.3h16M1048.7 1740.7h16M1060.3 1738.8v2.4M1052.3 1738.8h16M1052.3 1741.2h16M1063.7 1739.1v2.4M1055.7 1739.1h16M1055.7 1741.5h16M1067.2 1739.6v2.4M1059.2 1739.6h16M1059.2 1742h16M1070.6 1739.9v2.4M1062.6 1739.9h16M1062.6 1742.3h16M1073.9 1740.8v2.4M1065.9 1740.8h16M1065.9 1743.2h16M1077.2 1741v2.4M1069.2 1741h16M1069.2 1743.4h16M1080.5 1741.2v2.4M1072.5 1741.2h16M1072.5 1743.6h16M1083.7 1741.8v2.4M1075.7 1741.8h16M1075.7 1744.2h16M1086.9 1742.4v2.4M1078.9 1742.4h16M1078.9 1744.8h16M1090.1 1742.8v2.4M1082.1 1742.8h16M1082.1 1745.2h16M1093.2 1743.4v2.4M1085.2 1743.4h16M1085.2 1745.8h16M1096.3 1743.8v2.4M1088.3 1743.8h16M1088.3 1746.2h16M1099.3 1743.9v2.4M1091.3 1743.9h16M1091.3 1746.3h16M1102.3 1744.4v2.4M1094.3 1744.4h16M1094.3 1746.8h16M1105.3 1744.6v2.4M1097.3 1744.6h16M1097.3 1747h16M1108.3 1745.3v2.4M1100.3 1745.3h16M1100.3 1747.7h16M1111.2 1745.7v2.4M1103.2 1745.7h16M1103.2 1748.1h16M1114 1746.6v2.4M1106 1746.6h16M1106 1749h16M1116.9 1746.6v2.4M1108.9 1746.6h16M1108.9 1749h16M1119.7 1746.6v2.4M1111.7 1746.6h16M1111.7 1749h16M1122.5 1747.3v2.4M1114.5 1747.3h16M1114.5 1749.7h16M1125.3 1747.8v2.4M1117.3 1747.8h16M1117.3 1750.2h16M1128 1748v2.4M1120 1748h16M1120 1750.4h16M1130.7 1748.5v2.4M1122.7 1748.5h16M1122.7 1750.9h16M1133.4 1749v2.4M1125.4 1749h16M1125.4 1751.4h16M1136 1749.5v2.4M1128 1749.5h16M1128 1751.9h16M1138.7 1749.8v2.4M1130.7 1749.8h16M1130.7 1752.2h16M1141.3 1750.1v2.4M1133.3 1750.1h16M1133.3 1752.5h16M1143.8 1750.9v2.4M1135.8 1750.9h16M1135.8 1753.3h16M1146.4 1751v2.4M1138.4 1751h16M1138.4 1753.4h16M1148.9 1751.4v2.4M1140.9 1751.4h16M1140.9 1753.8h16M1151.4 1751.6v2.4M1143.4 1751.6h16M1143.4 1754h16M1153.9 1752.1v2.4M1145.9 1752.1h16M1145.9 1754.5h16M1156.3 1752.8v2.4M1148.3 1752.8h16M1148.3 1755.2h16M1158.8 1752.7v2.4M1150.8 1752.7h16M1150.8 1755.1h16M1161.2 1753.4v2.4M1153.2 1753.4h16M1153.2 1755.8h16M1163.6 1754v2.4M1155.6 1754h16M1155.6 1756.4h16M1165.9 1754.1v2.4M1157.9 1754.1h16M1157.9 1756.5h16M1168.3 1754.7v2.4M1160.3 1754.7h16M1160.3 1757.1h16M1170.6 1754.7v2.4M1162.6 1754.7h16M1162.6 1757.1h16M1172.9 1755.7v2.4M1164.9 1755.7h16M1164.9 1758.1h16M1175.2 1756v2.4M1167.2 1756h16M1167.2 1758.4h16M1177.5 1756.1v2.4M1169.5 1756.1h16M1169.5 1758.5h16M1179.7 1756v2.4M1171.7 1756h16M1171.7 1758.4h16M1182 1756.5v2.4M1174 1756.5h16M1174 1758.9h16M1184.2 1757.4v2.4M1176.2 1757.4h16M1176.2 1759.8h16M1186.4 1758v2.4M1178.4 1758h16M1178.4 1760.4h16M1188.5 1757.9v2.4M1180.5 1757.9h16M1180.5 1760.3h16M1190.7 1758.5v2.4M1182.7 1758.5h16M1182.7 1760.9h16M1192.8 1758.4v2.4M1184.8 1758.4h16M1184.8 1760.8h16M1195 1758.8v2.4M1187 1758.8h16M1187 1761.2h16M1197.1 1759.2v2.4M1189.1 1759.2h16M1189.1 1761.6h16M1199.2 1759.7v2.4M1191.2 1759.7h16M1191.2 1762.1h16M1201.2 1759.5v2.4M1193.2 1759.5h16M1193.2 1761.9h16M1203.3 1760.5v2.4M1195.3 1760.5h16M1195.3 1762.9h16M1205.3 1760.9v2.4M1197.3 1760.9h16M1197.3 1763.3h16M1207.4 1760.5v2.4M1199.4 1760.5h16M1199.4 1762.9h16M1209.4 1760.8v2.4M1201.4 1760.8h16M1201.4 1763.2h16M1211.4 1761.6v2.4M1203.4 1761.6h16M1203.4 1764h16M1213.3 1761.6v2.4M1205.3 1761.6h16M1205.3 1764h16M1215.3 1761.4v2.4M1207.3 1761.4h16M1207.3 1763.8h16M1217.3 1762.7v2.4M1209.3 1762.7h16M1209.3 1765.1h16M1219.2 1762.8v2.4M1211.2 1762.8h16M1211.2 1765.2h16M1221.1 1762.8v2.4M1213.1 1762.8h16M1213.1 1765.2h16M1223 1764v2.4M1215 1764h16M1215 1766.4h16M1224.9 1763.6v2.4M1216.9 1763.6h16M1216.9 1766h16M1226.8 1763.6v2.4M1218.8 1763.6h16M1218.8 1766h16M1228.7 1764.2v2.4M1220.7 1764.2h16M1220.7 1766.6h16M1230.5 1764.1v2.4M1222.5 1764.1h16M1222.5 1766.5h16M1232.4 1764.4v2.4M1224.4 1764.4h16M1224.4 1766.8h16M1234.2 1765.1v2.4M1226.2 1765.1h16M1226.2 1767.5h16M1236 1765.1v2.4M1228 1765.1h16M1228 1767.5h16M1237.8 1765.4v2.4M1229.8 1765.4h16M1229.8 1767.8h16M1239.6 1766.5v2.4M1231.6 1766.5h16M1231.6 1768.9h16M1241.4 1766.4v2.4M1233.4 1766.4h16M1233.4 1768.8h16M1243.2 1766.7v2.4M1235.2 1766.7h16M1235.2 1769.1h16M1244.9 1766.8v2.4M1236.9 1766.8h16M1236.9 1769.2h16M1246.7 1767v2.4M1238.7 1767h16M1238.7 1769.4h16M1248.4 1767.7v2.4M1240.4 1767.7h16M1240.4 1770.1h16M1250.2 1767.3v2.4M1242.2 1767.3h16M1242.2 1769.7h16M1251.9 1768.4v2.4M1243.9 1768.4h16M1243.9 1770.8h16M1253.6 1767.4v2.4M1245.6 1767.4h16M1245.6 1769.8h16M1255.3 1768v2.4M1247.3 1768h16M1247.3 1770.4h16M1256.9 1767.7v2.4M1248.9 1767.7h16M1248.9 1770.1h16M1258.6 1768.4v2.4M1250.6 1768.4h16M1250.6 1770.8h16M1260.3 1769v2.4M1252.3 1769h16M1252.3 1771.4h16M1261.9 1769.7v2.4M1253.9 1769.7h16M1253.9 1772.1h16M1263.6 1768.9v2.4M1255.6 1768.9h16M1255.6 1771.3h16M1265.2 1769.5v2.4M1257.2 1769.5h16M1257.2 1771.9h16M1266.8 1769.5v2.4M1258.8 1769.5h16M1258.8 1771.9h16M1268.4 1769.5v2.4M1260.4 1769.5h16M1260.4 1771.9h16M1270 1769.5v2.4M1262 1769.5h16M1262 1771.9h16M1271.6 1770.4v2.4M1263.6 1770.4h16M1263.6 1772.8h16M1273.2 1769.6v2.4M1265.2 1769.6h16M1265.2 1772h16M1274.8 1770.8v2.4M1266.8 1770.8h16M1266.8 1773.2h16M1276.3 1771v2.4M1268.3 1771h16M1268.3 1773.4h16M1277.9 1770.8v2.4M1269.9 1770.8h16M1269.9 1773.2h16M1279.4 1770.8v2.4M1271.4 1770.8h16M1271.4 1773.2h16M1281 1770.8v2.4M1273 1770.8h16M1273 1773.2h16M1282.5 1772.9v2.4M1274.5 1772.9h16M1274.5 1775.3h16M1284 1771.2v2.4M1276 1771.2h16M1276 1773.6h16M1285.5 1773.2v2.4M1277.5 1773.2h16M1277.5 1775.6h16M1287 1772.8v2.4M1279 1772.8h16M1279 1775.2h16M1288.5 1772.3v2.4M1280.5 1772.3h16M1280.5 1774.7h16M1290 1772v2.4M1282 1772h16M1282 1774.4h16M1291.5 1773.6v2.4M1283.5 1773.6h16M1283.5 1776h16M1292.9 1774.3v2.4M1284.9 1774.3h16M1284.9 1776.7h16M1294.4 1772.6v2.4M1286.4 1772.6h16M1286.4 1775h16M1295.8 1773.3v2.4M1287.8 1773.3h16M1287.8 1775.7h16M1297.3 1774.4v2.4M1289.3 1774.4h16M1289.3 1776.8h16M1298.7 1774.1v2.4M1290.7 1774.1h16M1290.7 1776.5h16M1300.2 1775.5v2.4M1292.2 1775.5h16M1292.2 1777.9h16M1301.6 1773.7v2.4M1293.6 1773.7h16M1293.6 1776.1h16M1303 1774.7v2.4M1295 1774.7h16M1295 1777.1h16M1304.4 1773.5v2.4M1296.4 1773.5h16M1296.4 1775.9h16M1305.8 1776.3v2.4M1297.8 1776.3h16M1297.8 1778.7h16M1307.2 1774.2v2.4M1299.2 1774.2h16M1299.2 1776.6h16M1308.6 1773.1v2.4M1300.6 1773.1h16M1300.6 1775.5h16M1309.9 1775v2.4M1301.9 1775h16M1301.9 1777.4h16M1311.3 1775.2v2.4M1303.3 1775.2h16M1303.3 1777.6h16M1312.7 1777.1v2.4M1304.7 1777.1h16M1304.7 1779.5h16M1314 1775.3v2.4M1306 1775.3h16M1306 1777.7h16M1315.4 1775.7v2.4M1307.4 1775.7h16M1307.4 1778.1h16M1316.7 1776.4v2.4M1308.7 1776.4h16M1308.7 1778.8h16M1318.1 1777.5v2.4M1310.1 1777.5h16M1310.1 1779.9h16M1319.4 1776.1v2.4M1311.4 1776.1h16M1311.4 1778.5h16M1320.7 1777.3v2.4M1312.7 1777.3h16M1312.7 1779.7h16M1322 1776.9v2.4M1314 1776.9h16M1314 1779.3h16M1323.3 1776.3v2.4M1315.3 1776.3h16M1315.3 1778.7h16M1324.6 1776.8v2.4M1316.6 1776.8h16M1316.6 1779.2h16M1325.9 1776.9v2.4M1317.9 1776.9h16M1317.9 1779.3h16M1327.2 1776v2.4M1319.2 1776h16M1319.2 1778.4h16M1328.5 1778.4v2.4M1320.5 1778.4h16M1320.5 1780.8h16M1329.8 1775.7v2.4M1321.8 1775.7h16M1321.8 1778.1h16M1331.1 1778.6v2.4M1323.1 1778.6h16M1323.1 1781h16M1332.3 1778.5v2.4M1324.3 1778.5h16M1324.3 1780.9h16M1333.6 1777.5v2.4M1325.6 1777.5h16M1325.6 1779.9h16M1334.8 1776.8v2.4M1326.8 1776.8h16M1326.8 1779.2h16M1336.1 1777.5v2.4M1328.1 1777.5h16M1328.1 1779.9h16M1337.3 1778.5v2.4M1329.3 1778.5h16M1329.3 1780.9h16M1338.6 1778.9v2.4M1330.6 1778.9h16M1330.6 1781.3h16M1339.8 1778.5v2.4M1331.8 1778.5h16M1331.8 1780.9h16M1341 1779.5v2.4M1333 1779.5h16M1333 1781.9h16M1342.2 1777.7v2.4M1334.2 1777.7h16M1334.2 1780.1h16M1343.5 1778.8v2.5M1335.5 1778.8h16M1335.5 1781.2h16M1344.7 1776.4v2.6M1336.7 1776.4h16M1336.7 1779.1h16M1345.9 1779.5v2.8M1337.9 1779.5h16M1337.9 1782.3h16M1347.1 1778.7v3M1339.1 1778.7h16M1339.1 1781.7h16M1348.3 1778v3.2M1340.3 1778h16M1340.3 1781.1h16M1349.4 1780.2v3.4M1341.4 1780.2h16M1341.4 1783.5h16M1350.6 1779.5v3.6M1342.6 1779.5h16M1342.6 1783.1h16M1351.8 1774.5v3.8M1343.8 1774.5h16M1343.8 1778.3h16M1353 1778.6v4.1M1345 1778.6h16M1345 1782.6h16M1354.1 1776.3v4.3M1346.1 1776.3h16M1346.1 1780.6h16M1355.3 1780v4.6M1347.3 1780h16M1347.3 1784.6h16M1356.5 1782.2v4.9M1348.5 1782.2h16M1348.5 1787.1h16M1357.6 1777.5v5.2M1349.6 1777.5h16M1349.6 1782.7h16M1358.8 1778.3v5.6M1350.8 1778.3h16M1350.8 1783.9h16M1359.9 1777.7v6M1351.9 1777.7h16M1351.9 1783.7h16M1361 1778.6v6.3M1353 1778.6h16M1353 1784.9h16M1362.2 1779v6.8M1354.2 1779h16M1354.2 1785.7h16M1363.3 1779.9v7.2M1355.3 1779.9h16M1355.3 1787.1h16M1364.4 1775.9v7.7M1356.4 1775.9h16M1356.4 1783.6h16M1365.5 1780.2v8.2M1357.5 1780.2h16M1357.5 1788.4h16M1366.6 1775.6v8.7M1358.6 1775.6h16M1358.6 1784.4h16M1367.7 1777.6v9.3M1359.7 1777.6h16M1359.7 1786.9h16M1368.9 1779v9.9M1360.9 1779h16M1360.9 1788.9h16M1370 1777.9v10.6M1362 1777.9h16M1362 1788.5h16M1371 1774.6v11.2M1363 1774.6h16M1363 1785.8h16M1372.1 1774.7v12M1364.1 1774.7h16M1364.1 1786.7h16M1373.2 1774.9v12.8M1365.2 1774.9h16M1365.2 1787.6h16M1374.3 1775.3v13.6M1366.3 1775.3h16M1366.3 1788.9h16M1375.4 1777.3v14.5M1367.4 1777.3h16M1367.4 1791.8h16M1376.5 1772.1v15.4M1368.5 1772.1h16M1368.5 1787.5h16M1377.5 1775.2v16.4M1369.5 1775.2h16M1369.5 1791.6h16" fill="none" stroke="#231F20" stroke-width="4.6"/>
<path d="M197.1 1411.8h4l12.2 25.5h-28.4zM199.1 1420.2l-5.6 11.7h11.2zM273.7 1494h4l12.2 25.5h-28.4zM275.7 1502.5l-5.6 11.7h11.2zM333.2 1552.5h4l12.2 25.5h-28.4zM335.2 1561l-5.6 11.7h11.2zM381.8 1590.7h4l12.2 25.5h-28.4zM383.8 1599.1l-5.6 11.7h11.2zM422.8 1616.5h4l12.2 25.5h-28.4zM424.8 1624.9l-5.6 11.7h11.2zM458.4 1631.5h4l12.2 25.5h-28.4zM460.4 1639.9l-5.6 11.7h11.2zM489.8 1643.7h4l12.2 25.5h-28.4zM491.8 1652.1l-5.6 11.7h11.2zM517.9 1650.5h4l12.2 25.5h-28.4zM519.9 1658.9l-5.6 11.7h11.2zM543.3 1658.7h4l12.2 25.5h-28.4zM545.3 1667.1l-5.6 11.7h11.2zM566.5 1663.8h4l12.2 25.5h-28.4zM568.5 1672.2l-5.6 11.7h11.2zM587.8 1668.3h4l12.2 25.5h-28.4zM589.8 1676.7l-5.6 11.7h11.2zM607.5 1672.1h4l12.2 25.5h-28.4zM609.5 1680.5l-5.6 11.7h11.2zM625.9 1675.8h4l12.2 25.5h-28.4zM627.9 1684.2l-5.6 11.7h11.2zM643.1 1678.4h4l12.2 25.5h-28.4zM645.1 1686.8l-5.6 11.7h11.2zM659.3 1680.7h4l12.2 25.5h-28.4zM661.3 1689.1l-5.6 11.7h11.2zM674.5 1682.9h4l12.2 25.5h-28.4zM676.5 1691.3l-5.6 11.7h11.2zM688.9 1684.8h4l12.2 25.5h-28.4zM690.9 1693.2l-5.6 11.7h11.2zM702.6 1686.6h4l12.2 25.5h-28.4zM704.6 1695l-5.6 11.7h11.2zM715.6 1687.9h4l12.2 25.5h-28.4zM717.6 1696.3l-5.6 11.7h11.2zM728 1689.6h4l12.2 25.5h-28.4zM730 1698l-5.6 11.7h11.2zM739.8 1690.3h4l12.2 25.5h-28.4zM741.8 1698.7l-5.6 11.7h11.2zM751.1 1691.6h4l12.2 25.5h-28.4zM753.1 1700l-5.6 11.7h11.2zM762 1695.5h4l12.2 25.5h-28.4zM764 1703.9l-5.6 11.7h11.2zM772.5 1694h4l12.2 25.5h-28.4zM774.5 1702.4l-5.6 11.7h11.2zM782.5 1694.9h4l12.2 25.5h-28.4zM784.5 1703.3l-5.6 11.7h11.2zM792.2 1696.1h4l12.2 25.5h-28.4zM794.2 1704.5l-5.6 11.7h11.2zM801.6 1697.4h4l12.2 25.5h-28.4zM803.6 1705.8l-5.6 11.7h11.2zM810.6 1698.5h4l12.2 25.5h-28.4zM812.6 1706.9l-5.6 11.7h11.2zM819.3 1698.8h4l12.2 25.5h-28.4zM821.3 1707.2l-5.6 11.7h11.2zM827.8 1699.6h4l12.2 25.5h-28.4zM829.8 1708l-5.6 11.7h11.2zM836 1700h4l12.2 25.5h-28.4zM838 1708.4l-5.6 11.7h11.2zM843.9 1700.9h4l12.2 25.5h-28.4zM845.9 1709.3l-5.6 11.7h11.2zM851.7 1701.5h4l12.2 25.5h-28.4zM853.7 1709.9l-5.6 11.7h11.2zM859.2 1702h4l12.2 25.5h-28.4zM861.2 1710.4l-5.6 11.7h11.2zM866.5 1702.6h4l12.2 25.5h-28.4zM868.5 1711l-5.6 11.7h11.2zM873.6 1703.2h4l12.2 25.5h-28.4zM875.6 1711.6l-5.6 11.7h11.2zM880.5 1703.7h4l12.2 25.5h-28.4zM882.5 1712.1l-5.6 11.7h11.2zM887.2 1704.5h4l12.2 25.5h-28.4zM889.2 1712.9l-5.6 11.7h11.2zM893.8 1705.2h4l12.2 25.5h-28.4zM895.8 1713.6l-5.6 11.7h11.2zM900.2 1705.3h4l12.2 25.5h-28.4zM902.2 1713.7l-5.6 11.7h11.2zM906.5 1706.1h4l12.2 25.5h-28.4zM908.5 1714.5l-5.6 11.7h11.2zM912.6 1706.7h4l12.2 25.5h-28.4zM914.6 1715.1l-5.6 11.7h11.2zM918.6 1707.4h4l12.2 25.5h-28.4zM920.6 1715.8l-5.6 11.7h11.2zM924.5 1707.8h4l12.2 25.5h-28.4zM926.5 1716.2l-5.6 11.7h11.2zM930.2 1708.5h4l12.2 25.5h-28.4zM932.2 1716.9l-5.6 11.7h11.2zM935.8 1709h4l12.2 25.5h-28.4zM937.8 1717.4l-5.6 11.7h11.2zM941.3 1709.8h4l12.2 25.5h-28.4zM943.3 1718.2l-5.6 11.7h11.2zM946.7 1710.1h4l12.2 25.5h-28.4zM948.7 1718.5l-5.6 11.7h11.2zM952 1710.6h4l12.2 25.5h-28.4zM954 1719l-5.6 11.7h11.2zM957.1 1711.2h4l12.2 25.5h-28.4zM959.1 1719.6l-5.6 11.7h11.2zM962.2 1711.6h4l12.2 25.5h-28.4zM964.2 1720l-5.6 11.7h11.2zM967.2 1711.9h4l12.2 25.5h-28.4zM969.2 1720.3l-5.6 11.7h11.2zM972.1 1712.7h4l12.2 25.5h-28.4zM974.1 1721.1l-5.6 11.7h11.2zM976.9 1713.2h4l12.2 25.5h-28.4zM978.9 1721.6l-5.6 11.7h11.2zM981.6 1713.7h4l12.2 25.5h-28.4zM983.6 1722.1l-5.6 11.7h11.2zM986.2 1714.4h4l12.2 25.5h-28.4zM988.2 1722.8l-5.6 11.7h11.2zM990.8 1714.9h4l12.2 25.5h-28.4zM992.8 1723.3l-5.6 11.7h11.2zM995.3 1715.1h4l12.2 25.5h-28.4zM997.3 1723.5l-5.6 11.7h11.2zM999.7 1715.6h4l12.2 25.5h-28.4zM1001.7 1724l-5.6 11.7h11.2zM1004 1716.5h4l12.2 25.5h-28.4zM1006 1724.9l-5.6 11.7h11.2zM1008.3 1717h4l12.2 25.5h-28.4zM1010.3 1725.4l-5.6 11.7h11.2zM1012.5 1717.1h4l12.2 25.5h-28.4zM1014.5 1725.5l-5.6 11.7h11.2zM1016.6 1717.5h4l12.2 25.5h-28.4zM1018.6 1725.9l-5.6 11.7h11.2zM1020.7 1718.1h4l12.2 25.5h-28.4zM1022.7 1726.5l-5.6 11.7h11.2zM1024.7 1718.6h4l12.2 25.5h-28.4zM1026.7 1727l-5.6 11.7h11.2zM1028.6 1718.9h4l12.2 25.5h-28.4zM1030.6 1727.3l-5.6 11.7h11.2zM1032.5 1719.6h4l12.2 25.5h-28.4zM1034.5 1728l-5.6 11.7h11.2zM1036.3 1719.9h4l12.2 25.5h-28.4zM1038.3 1728.3l-5.6 11.7h11.2zM1040.1 1720.4h4l12.2 25.5h-28.4zM1042.1 1728.8l-5.6 11.7h11.2zM1043.9 1721.2h4l12.2 25.5h-28.4zM1045.9 1729.6l-5.6 11.7h11.2zM1047.5 1721.4h4l12.2 25.5h-28.4zM1049.5 1729.8l-5.6 11.7h11.2zM1051.2 1721.9h4l12.2 25.5h-28.4zM1053.2 1730.3l-5.6 11.7h11.2zM1054.7 1722.5h4l12.2 25.5h-28.4zM1056.7 1730.9l-5.6 11.7h11.2zM1058.3 1723h4l12.2 25.5h-28.4zM1060.3 1731.4l-5.6 11.7h11.2zM1061.7 1723.3h4l12.2 25.5h-28.4zM1063.7 1731.7l-5.6 11.7h11.2zM1065.2 1723.8h4l12.2 25.5h-28.4zM1067.2 1732.2l-5.6 11.7h11.2zM1068.6 1724.1h4l12.2 25.5h-28.4zM1070.6 1732.5l-5.6 11.7h11.2zM1071.9 1725h4l12.2 25.5h-28.4zM1073.9 1733.4l-5.6 11.7h11.2zM1075.2 1725.2h4l12.2 25.5h-28.4zM1077.2 1733.6l-5.6 11.7h11.2zM1078.5 1725.4h4l12.2 25.5h-28.4zM1080.5 1733.8l-5.6 11.7h11.2zM1081.7 1726h4l12.2 25.5h-28.4zM1083.7 1734.4l-5.6 11.7h11.2zM1084.9 1726.6h4l12.2 25.5h-28.4zM1086.9 1735l-5.6 11.7h11.2zM1088.1 1727h4l12.2 25.5h-28.4zM1090.1 1735.4l-5.6 11.7h11.2zM1091.2 1727.6h4l12.2 25.5h-28.4zM1093.2 1736l-5.6 11.7h11.2zM1094.3 1728h4l12.2 25.5h-28.4zM1096.3 1736.4l-5.6 11.7h11.2zM1097.3 1728.1h4l12.2 25.5h-28.4zM1099.3 1736.5l-5.6 11.7h11.2zM1100.3 1728.6h4l12.2 25.5h-28.4zM1102.3 1737l-5.6 11.7h11.2zM1103.3 1728.8h4l12.2 25.5h-28.4zM1105.3 1737.2l-5.6 11.7h11.2zM1106.3 1729.5h4l12.2 25.5h-28.4zM1108.3 1737.9l-5.6 11.7h11.2zM1109.2 1729.9h4l12.2 25.5h-28.4zM1111.2 1738.3l-5.6 11.7h11.2zM1112 1730.8h4l12.2 25.5h-28.4zM1114 1739.2l-5.6 11.7h11.2zM1114.9 1730.8h4l12.2 25.5h-28.4zM1116.9 1739.2l-5.6 11.7h11.2zM1117.7 1730.8h4l12.2 25.5h-28.4zM1119.7 1739.2l-5.6 11.7h11.2zM1120.5 1731.5h4l12.2 25.5h-28.4zM1122.5 1739.9l-5.6 11.7h11.2zM1123.3 1732h4l12.2 25.5h-28.4zM1125.3 1740.4l-5.6 11.7h11.2zM1126 1732.2h4l12.2 25.5h-28.4zM1128 1740.6l-5.6 11.7h11.2zM1128.7 1732.7h4l12.2 25.5h-28.4zM1130.7 1741.1l-5.6 11.7h11.2zM1131.4 1733.2h4l12.2 25.5h-28.4zM1133.4 1741.6l-5.6 11.7h11.2zM1134 1733.7h4l12.2 25.5h-28.4zM1136 1742.1l-5.6 11.7h11.2zM1136.7 1734h4l12.2 25.5h-28.4zM1138.7 1742.4l-5.6 11.7h11.2zM1139.3 1734.3h4l12.2 25.5h-28.4zM1141.3 1742.7l-5.6 11.7h11.2zM1141.8 1735.1h4l12.2 25.5h-28.4zM1143.8 1743.5l-5.6 11.7h11.2zM1144.4 1735.2h4l12.2 25.5h-28.4zM1146.4 1743.6l-5.6 11.7h11.2zM1146.9 1735.6h4l12.2 25.5h-28.4zM1148.9 1744l-5.6 11.7h11.2zM1149.4 1735.8h4l12.2 25.5h-28.4zM1151.4 1744.2l-5.6 11.7h11.2zM1151.9 1736.3h4l12.2 25.5h-28.4zM1153.9 1744.7l-5.6 11.7h11.2zM1154.3 1737h4l12.2 25.5h-28.4zM1156.3 1745.4l-5.6 11.7h11.2zM1156.8 1736.9h4l12.2 25.5h-28.4zM1158.8 1745.3l-5.6 11.7h11.2zM1159.2 1737.6h4l12.2 25.5h-28.4zM1161.2 1746l-5.6 11.7h11.2zM1161.6 1738.2h4l12.2 25.5h-28.4zM1163.6 1746.6l-5.6 11.7h11.2zM1163.9 1738.3h4l12.2 25.5h-28.4zM1165.9 1746.7l-5.6 11.7h11.2zM1166.3 1738.9h4l12.2 25.5h-28.4zM1168.3 1747.3l-5.6 11.7h11.2zM1168.6 1738.9h4l12.2 25.5h-28.4zM1170.6 1747.3l-5.6 11.7h11.2zM1170.9 1739.9h4l12.2 25.5h-28.4zM1172.9 1748.3l-5.6 11.7h11.2zM1173.2 1740.2h4l12.2 25.5h-28.4zM1175.2 1748.6l-5.6 11.7h11.2zM1175.5 1740.3h4l12.2 25.5h-28.4zM1177.5 1748.7l-5.6 11.7h11.2zM1177.7 1740.2h4l12.2 25.5h-28.4zM1179.7 1748.6l-5.6 11.7h11.2zM1180 1740.7h4l12.2 25.5h-28.4zM1182 1749.1l-5.6 11.7h11.2zM1182.2 1741.6h4l12.2 25.5h-28.4zM1184.2 1750l-5.6 11.7h11.2zM1184.4 1742.2h4l12.2 25.5h-28.4zM1186.4 1750.6l-5.6 11.7h11.2zM1186.5 1742.1h4l12.2 25.5h-28.4zM1188.5 1750.5l-5.6 11.7h11.2zM1188.7 1742.7h4l12.2 25.5h-28.4zM1190.7 1751.1l-5.6 11.7h11.2zM1190.8 1742.6h4l12.2 25.5h-28.4zM1192.8 1751l-5.6 11.7h11.2zM1193 1743h4l12.2 25.5h-28.4zM1195 1751.4l-5.6 11.7h11.2zM1195.1 1743.4h4l12.2 25.5h-28.4zM1197.1 1751.8l-5.6 11.7h11.2zM1197.2 1743.9h4l12.2 25.5h-28.4zM1199.2 1752.3l-5.6 11.7h11.2zM1199.2 1743.7h4l12.2 25.5h-28.4zM1201.2 1752.1l-5.6 11.7h11.2zM1201.3 1744.7h4l12.2 25.5h-28.4zM1203.3 1753.1l-5.6 11.7h11.2zM1203.3 1745.1h4l12.2 25.5h-28.4zM1205.3 1753.5l-5.6 11.7h11.2zM1205.4 1744.7h4l12.2 25.5h-28.4zM1207.4 1753.1l-5.6 11.7h11.2zM1207.4 1745h4l12.2 25.5h-28.4zM1209.4 1753.4l-5.6 11.7h11.2zM1209.4 1745.8h4l12.2 25.5h-28.4zM1211.4 1754.2l-5.6 11.7h11.2zM1211.3 1745.8h4l12.2 25.5h-28.4zM1213.3 1754.2l-5.6 11.7h11.2zM1213.3 1745.6h4l12.2 25.5h-28.4zM1215.3 1754l-5.6 11.7h11.2zM1215.3 1746.9h4l12.2 25.5h-28.4zM1217.3 1755.3l-5.6 11.7h11.2zM1217.2 1747h4l12.2 25.5h-28.4zM1219.2 1755.4l-5.6 11.7h11.2zM1219.1 1747h4l12.2 25.5h-28.4zM1221.1 1755.4l-5.6 11.7h11.2zM1221 1748.2h4l12.2 25.5h-28.4zM1223 1756.6l-5.6 11.7h11.2zM1222.9 1747.8h4l12.2 25.5h-28.4zM1224.9 1756.2l-5.6 11.7h11.2zM1224.8 1747.8h4l12.2 25.5h-28.4zM1226.8 1756.2l-5.6 11.7h11.2zM1226.7 1748.4h4l12.2 25.5h-28.4zM1228.7 1756.8l-5.6 11.7h11.2zM1228.5 1748.3h4l12.2 25.5h-28.4zM1230.5 1756.7l-5.6 11.7h11.2zM1230.4 1748.6h4l12.2 25.5h-28.4zM1232.4 1757l-5.6 11.7h11.2zM1232.2 1749.3h4l12.2 25.5h-28.4zM1234.2 1757.7l-5.6 11.7h11.2zM1234 1749.3h4l12.2 25.5h-28.4zM1236 1757.7l-5.6 11.7h11.2zM1235.8 1749.6h4l12.2 25.5h-28.4zM1237.8 1758l-5.6 11.7h11.2zM1237.6 1750.7h4l12.2 25.5h-28.4zM1239.6 1759.1l-5.6 11.7h11.2zM1239.4 1750.6h4l12.2 25.5h-28.4zM1241.4 1759l-5.6 11.7h11.2zM1241.2 1750.9h4l12.2 25.5h-28.4zM1243.2 1759.3l-5.6 11.7h11.2zM1242.9 1751h4l12.2 25.5h-28.4zM1244.9 1759.4l-5.6 11.7h11.2zM1244.7 1751.2h4l12.2 25.5h-28.4zM1246.7 1759.6l-5.6 11.7h11.2zM1246.4 1751.9h4l12.2 25.5h-28.4zM1248.4 1760.3l-5.6 11.7h11.2zM1248.2 1751.5h4l12.2 25.5h-28.4zM1250.2 1759.9l-5.6 11.7h11.2zM1249.9 1752.6h4l12.2 25.5h-28.4zM1251.9 1761l-5.6 11.7h11.2zM1251.6 1751.6h4l12.2 25.5h-28.4zM1253.6 1760l-5.6 11.7h11.2zM1253.3 1752.2h4l12.2 25.5h-28.4zM1255.3 1760.6l-5.6 11.7h11.2zM1254.9 1751.9h4l12.2 25.5h-28.4zM1256.9 1760.3l-5.6 11.7h11.2zM1256.6 1752.6h4l12.2 25.5h-28.4zM1258.6 1761l-5.6 11.7h11.2zM1258.3 1753.2h4l12.2 25.5h-28.4zM1260.3 1761.6l-5.6 11.7h11.2zM1259.9 1753.9h4l12.2 25.5h-28.4zM1261.9 1762.3l-5.6 11.7h11.2zM1261.6 1753.1h4l12.2 25.5h-28.4zM1263.6 1761.5l-5.6 11.7h11.2zM1263.2 1753.7h4l12.2 25.5h-28.4zM1265.2 1762.1l-5.6 11.7h11.2zM1264.8 1753.7h4l12.2 25.5h-28.4zM1266.8 1762.1l-5.6 11.7h11.2zM1266.4 1753.7h4l12.2 25.5h-28.4zM1268.4 1762.1l-5.6 11.7h11.2zM1268 1753.7h4l12.2 25.5h-28.4zM1270 1762.1l-5.6 11.7h11.2zM1269.6 1754.6h4l12.2 25.5h-28.4zM1271.6 1763l-5.6 11.7h11.2zM1271.2 1753.8h4l12.2 25.5h-28.4zM1273.2 1762.2l-5.6 11.7h11.2zM1272.8 1755h4l12.2 25.5h-28.4zM1274.8 1763.4l-5.6 11.7h11.2zM1274.3 1755.2h4l12.2 25.5h-28.4zM1276.3 1763.6l-5.6 11.7h11.2zM1275.9 1755h4l12.2 25.5h-28.4zM1277.9 1763.4l-5.6 11.7h11.2zM1277.4 1755h4l12.2 25.5h-28.4zM1279.4 1763.4l-5.6 11.7h11.2zM1279 1755h4l12.2 25.5h-28.4zM1281 1763.4l-5.6 11.7h11.2zM1280.5 1757.1h4l12.2 25.5h-28.4zM1282.5 1765.5l-5.6 11.7h11.2zM1282 1755.4h4l12.2 25.5h-28.4zM1284 1763.8l-5.6 11.7h11.2zM1283.5 1757.4h4l12.2 25.5h-28.4zM1285.5 1765.8l-5.6 11.7h11.2zM1285 1757h4l12.2 25.5h-28.4zM1287 1765.4l-5.6 11.7h11.2zM1286.5 1756.5h4l12.2 25.5h-28.4zM1288.5 1764.9l-5.6 11.7h11.2zM1288 1756.2h4l12.2 25.5h-28.4zM1290 1764.6l-5.6 11.7h11.2zM1289.5 1757.8h4l12.2 25.5h-28.4zM1291.5 1766.2l-5.6 11.7h11.2zM1290.9 1758.5h4l12.2 25.5h-28.4zM1292.9 1766.9l-5.6 11.7h11.2zM1292.4 1756.8h4l12.2 25.5h-28.4zM1294.4 1765.2l-5.6 11.7h11.2zM1293.8 1757.5h4l12.2 25.5h-28.4zM1295.8 1765.9l-5.6 11.7h11.2zM1295.3 1758.6h4l12.2 25.5h-28.4zM1297.3 1767l-5.6 11.7h11.2zM1296.7 1758.3h4l12.2 25.5h-28.4zM1298.7 1766.7l-5.6 11.7h11.2zM1298.2 1759.7h4l12.2 25.5h-28.4zM1300.2 1768.1l-5.6 11.7h11.2zM1299.6 1757.9h4l12.2 25.5h-28.4zM1301.6 1766.3l-5.6 11.7h11.2zM1301 1758.9h4l12.2 25.5h-28.4zM1303 1767.3l-5.6 11.7h11.2zM1302.4 1757.7h4l12.2 25.5h-28.4zM1304.4 1766.1l-5.6 11.7h11.2zM1303.8 1760.5h4l12.2 25.5h-28.4zM1305.8 1768.9l-5.6 11.7h11.2zM1305.2 1758.4h4l12.2 25.5h-28.4zM1307.2 1766.8l-5.6 11.7h11.2zM1306.6 1757.3h4l12.2 25.5h-28.4zM1308.6 1765.7l-5.6 11.7h11.2zM1307.9 1759.2h4l12.2 25.5h-28.4zM1309.9 1767.6l-5.6 11.7h11.2zM1309.3 1759.4h4l12.2 25.5h-28.4zM1311.3 1767.8l-5.6 11.7h11.2zM1310.7 1761.3h4l12.2 25.5h-28.4zM1312.7 1769.7l-5.6 11.7h11.2zM1312 1759.5h4l12.2 25.5h-28.4zM1314 1767.9l-5.6 11.7h11.2zM1313.4 1759.9h4l12.2 25.5h-28.4zM1315.4 1768.3l-5.6 11.7h11.2zM1314.7 1760.6h4l12.2 25.5h-28.4zM1316.7 1769l-5.6 11.7h11.2zM1316.1 1761.7h4l12.2 25.5h-28.4zM1318.1 1770.1l-5.6 11.7h11.2zM1317.4 1760.3h4l12.2 25.5h-28.4zM1319.4 1768.7l-5.6 11.7h11.2zM1318.7 1761.5h4l12.2 25.5h-28.4zM1320.7 1769.9l-5.6 11.7h11.2zM1320 1761.1h4l12.2 25.5h-28.4zM1322 1769.5l-5.6 11.7h11.2zM1321.3 1760.5h4l12.2 25.5h-28.4zM1323.3 1768.9l-5.6 11.7h11.2zM1322.6 1761h4l12.2 25.5h-28.4zM1324.6 1769.4l-5.6 11.7h11.2zM1323.9 1761.1h4l12.2 25.5h-28.4zM1325.9 1769.5l-5.6 11.7h11.2zM1325.2 1760.2h4l12.2 25.5h-28.4zM1327.2 1768.6l-5.6 11.7h11.2zM1326.5 1762.6h4l12.2 25.5h-28.4zM1328.5 1771l-5.6 11.7h11.2zM1327.8 1759.9h4l12.2 25.5h-28.4zM1329.8 1768.3l-5.6 11.7h11.2zM1329.1 1762.8h4l12.2 25.5h-28.4zM1331.1 1771.2l-5.6 11.7h11.2zM1330.3 1762.7h4l12.2 25.5h-28.4zM1332.3 1771.1l-5.6 11.7h11.2zM1331.6 1761.7h4l12.2 25.5h-28.4zM1333.6 1770.1l-5.6 11.7h11.2zM1332.8 1761h4l12.2 25.5h-28.4zM1334.8 1769.4l-5.6 11.7h11.2zM1334.1 1761.7h4l12.2 25.5h-28.4zM1336.1 1770.1l-5.6 11.7h11.2zM1335.3 1762.7h4l12.2 25.5h-28.4zM1337.3 1771.1l-5.6 11.7h11.2zM1336.6 1763.1h4l12.2 25.5h-28.4zM1338.6 1771.5l-5.6 11.7h11.2zM1337.8 1762.7h4l12.2 25.5h-28.4zM1339.8 1771.1l-5.6 11.7h11.2zM1339 1763.7h4l12.2 25.5h-28.4zM1341 1772.1l-5.6 11.7h11.2zM1340.2 1761.9h4l12.2 25.5h-28.4zM1342.2 1770.3l-5.6 11.7h11.2zM1341.5 1763h4l12.2 25.5h-28.4zM1343.5 1771.4l-5.6 11.7h11.2zM1342.7 1760.7h4l12.2 25.5h-28.4zM1344.7 1769.1l-5.6 11.7h11.2zM1343.9 1763.9h4l12.2 25.5h-28.4zM1345.9 1772.3l-5.6 11.7h11.2zM1345.1 1763.2h4l12.2 25.5h-28.4zM1347.1 1771.6l-5.6 11.7h11.2zM1346.3 1762.6h4l12.2 25.5h-28.4zM1348.3 1771l-5.6 11.7h11.2zM1347.4 1764.8h4l12.2 25.5h-28.4zM1349.4 1773.2l-5.6 11.7h11.2zM1348.6 1764.3h4l12.2 25.5h-28.4zM1350.6 1772.7l-5.6 11.7h11.2zM1349.8 1759.4h4l12.2 25.5h-28.4zM1351.8 1767.8l-5.6 11.7h11.2zM1351 1763.6h4l12.2 25.5h-28.4zM1353 1772l-5.6 11.7h11.2zM1352.1 1761.5h4l12.2 25.5h-28.4zM1354.1 1769.9l-5.6 11.7h11.2zM1353.3 1765.3h4l12.2 25.5h-28.4zM1355.3 1773.7l-5.6 11.7h11.2zM1354.5 1767.6h4l12.2 25.5h-28.4zM1356.5 1776l-5.6 11.7h11.2zM1355.6 1763.1h4l12.2 25.5h-28.4zM1357.6 1771.5l-5.6 11.7h11.2zM1356.8 1764.1h4l12.2 25.5h-28.4zM1358.8 1772.5l-5.6 11.7h11.2zM1357.9 1763.7h4l12.2 25.5h-28.4zM1359.9 1772.1l-5.6 11.7h11.2zM1359 1764.8h4l12.2 25.5h-28.4zM1361 1773.2l-5.6 11.7h11.2zM1360.2 1765.4h4l12.2 25.5h-28.4zM1362.2 1773.8l-5.6 11.7h11.2zM1361.3 1766.5h4l12.2 25.5h-28.4zM1363.3 1774.9l-5.6 11.7h11.2zM1362.4 1762.8h4l12.2 25.5h-28.4zM1364.4 1771.2l-5.6 11.7h11.2zM1363.5 1767.3h4l12.2 25.5h-28.4zM1365.5 1775.7l-5.6 11.7h11.2zM1364.6 1763h4l12.2 25.5h-28.4zM1366.6 1771.4l-5.6 11.7h11.2zM1365.7 1765.2h4l12.2 25.5h-28.4zM1367.7 1773.6l-5.6 11.7h11.2zM1366.9 1766.9h4l12.2 25.5h-28.4zM1368.9 1775.3l-5.6 11.7h11.2zM1368 1766.2h4l12.2 25.5h-28.4zM1370 1774.6l-5.6 11.7h11.2zM1369 1763.2h4l12.2 25.5h-28.4zM1371 1771.6l-5.6 11.7h11.2zM1370.1 1763.7h4l12.2 25.5h-28.4zM1372.1 1772.1l-5.6 11.7h11.2zM1371.2 1764.2h4l12.2 25.5h-28.4zM1373.2 1772.6l-5.6 11.7h11.2zM1372.3 1765.1h4l12.2 25.5h-28.4zM1374.3 1773.5l-5.6 11.7h11.2zM1373.4 1767.6h4l12.2 25.5h-28.4zM1375.4 1776l-5.6 11.7h11.2zM1374.5 1762.8h4l12.2 25.5h-28.4zM1376.5 1771.2l-5.6 11.7h11.2zM1375.5 1766.4h4l12.2 25.5h-28.4zM1377.5 1774.8l-5.6 11.7h11.2z" fill="#231F20"/>
<polyline points="199.1,1421.2 205.4,1425.8 211.8,1430.3 218.1,1434.7 224.5,1439.1 230.8,1443.4 237.2,1447.6 243.5,1451.7 249.9,1455.8 256.2,1459.7 262.6,1463.6 268.9,1467.5 275.3,1471.2 281.6,1474.9 288,1478.5 294.3,1482 300.7,1485.5 307,1488.9 313.3,1492.2 319.7,1495.4 326,1498.5 332.4,1501.4 338.7,1504.2 345.1,1507 351.4,1509.6 357.8,1512.1 364.1,1514.6 370.5,1516.9 376.8,1519.3 383.2,1521.6 389.5,1523.8 395.9,1526 402.2,1528.2 408.6,1530.3 414.9,1532.3 421.3,1534.2 427.6,1536.1 433.9,1538 440.3,1539.7 446.6,1541.4 453,1543 459.3,1544.6 465.7,1546.1 472,1547.5 478.4,1548.9 484.7,1550.3 491.1,1551.6 497.4,1552.9 503.8,1554.1 510.1,1555.3 516.5,1556.4 522.8,1557.3 529.2,1558.1 535.5,1558.8 541.8,1559.5 548.2,1560.1 554.5,1560.6 560.9,1561.2 567.2,1561.8 573.6,1562.4 579.9,1562.9 586.3,1563.5 592.6,1564 599,1564.6 605.3,1565.1 611.7,1565.6 618,1566.1 624.4,1566.6 630.7,1567.1 637.1,1567.6 643.4,1568 649.8,1568.5 656.1,1568.9 662.4,1569.3 668.8,1569.6 675.1,1570 681.5,1570.3 687.8,1570.6 694.2,1570.8 700.5,1571.1 706.9,1571.3 713.2,1571.5 719.6,1571.6 725.9,1571.8 732.3,1572 738.6,1572.1 745,1572.2 751.3,1572.3 757.7,1572.4 764,1572.5" fill="none" stroke="#00A651" stroke-width="6.9" stroke-linecap="round" stroke-linejoin="round"/>
<polyline points="199.1,1395.4 205.4,1403.2 211.8,1410.9 218.1,1418.5 224.5,1426 230.8,1433.5 237.2,1440.8 243.5,1448.1 249.9,1455.3 256.2,1462.4 262.6,1469.4 268.9,1476.4 275.3,1483.2 281.6,1490.1 288,1496.9 294.3,1503.7 300.7,1510.3 307,1516.9 313.3,1523.2 319.7,1529.4 326,1535.2 332.4,1540.8 338.7,1546.1 345.1,1551.1 351.4,1555.9 357.8,1560.4 364.1,1564.8 370.5,1569 376.8,1573.1 383.2,1577 389.5,1580.7 395.9,1584.3 402.2,1587.8 408.6,1591.2 414.9,1594.4 421.3,1597.5 427.6,1600.5 433.9,1603.4 440.3,1606.1 446.6,1608.8 453,1611.3 459.3,1613.7 465.7,1615.9 472,1618 478.4,1619.9 484.7,1621.8 491.1,1623.5 497.4,1625.2 503.8,1626.8 510.1,1628.3 516.5,1629.7 522.8,1631 529.2,1632.2 535.5,1633.3 541.8,1634.2 548.2,1635.1 554.5,1635.9 560.9,1636.7 567.2,1637.5 573.6,1638.2 579.9,1639 586.3,1639.7 592.6,1640.4 599,1641.1 605.3,1641.8 611.7,1642.5 618,1643.1 624.4,1643.7 630.7,1644.3 637.1,1644.9 643.4,1645.4 649.8,1645.9 656.1,1646.3 662.4,1646.7 668.8,1647.1 675.1,1647.4 681.5,1647.6 687.8,1647.8 694.2,1648 700.5,1648.1 706.9,1648.2 713.2,1648.2 719.6,1648.3 725.9,1648.3 732.3,1648.3 738.6,1648.4 745,1648.4 751.3,1648.4 757.7,1648.4 764,1648.4" fill="none" stroke="#ED1C24" stroke-width="6.9" stroke-linecap="round" stroke-linejoin="round"/>
<polyline points="199.1,1419.8 205.4,1428 211.8,1436.1 218.1,1444 224.5,1451.9 230.8,1459.6 237.2,1467.2 243.5,1474.7 249.9,1482.1 256.2,1489.3 262.6,1496.5 268.9,1503.5 275.3,1510.3 281.6,1517.1 288,1523.8 294.3,1530.3 300.7,1536.7 307,1543 313.3,1549.1 319.7,1555.1 326,1561 332.4,1566.8 338.7,1572.4 345.1,1578 351.4,1583.4 357.8,1588.7 364.1,1593.8 370.5,1598.8 376.8,1603.6 383.2,1608.2 389.5,1612.6 395.9,1616.9 402.2,1621 408.6,1624.9 414.9,1628.8 421.3,1632.4 427.6,1636 433.9,1639.4 440.3,1642.7 446.6,1645.8 453,1648.8 459.3,1651.7 465.7,1654.5 472,1657.1 478.4,1659.6 484.7,1661.9 491.1,1664.1 497.4,1666.2 503.8,1668.1 510.1,1670 516.5,1671.7 522.8,1673.4 529.2,1675.1 535.5,1676.6 541.8,1678.1 548.2,1679.5 554.5,1680.9 560.9,1682.1 567.2,1683.4 573.6,1684.6 579.9,1685.7 586.3,1686.9 592.6,1688 599,1689.1 605.3,1690.1 611.7,1691.1 618,1692.1 624.4,1693 630.7,1693.9 637.1,1694.8 643.4,1695.6 649.8,1696.4 656.1,1697.2 662.4,1697.9 668.8,1698.7 675.1,1699.4 681.5,1700.1 687.8,1700.8 694.2,1701.5 700.5,1702.1 706.9,1702.7 713.2,1703.3 719.6,1703.9 725.9,1704.5 732.3,1705 738.6,1705.5 745,1706 751.3,1706.4 757.7,1706.8 764,1707.2" fill="none" stroke="#8C0A0E" stroke-width="6.9" stroke-linecap="round" stroke-linejoin="round"/>
<polyline points="704.5,1650.4 712.1,1650.6 719.6,1650.9 727.2,1651.1 734.7,1651.4 742.3,1651.6 749.8,1651.9 757.4,1652.2 764.9,1652.5 772.5,1652.8 780,1653.1 787.6,1653.4 795.1,1653.7 802.7,1654.1 810.3,1654.4 817.8,1654.8 825.4,1655.2 832.9,1655.6 840.5,1655.9 848,1656.4 855.6,1656.8 863.1,1657.2 870.7,1657.6 878.2,1658.1 885.8,1658.6 893.3,1659.1 900.9,1659.6 908.5,1660.1 916,1660.7 923.6,1661.3 931.1,1661.9 938.7,1662.6 946.2,1663.3 953.8,1664.1 961.3,1664.9 968.9,1665.7 976.4,1666.6 984,1667.5 991.5,1668.5 999.1,1669.4 1006.7,1670.4 1014.2,1671.3 1021.8,1672.3 1029.3,1673.3 1036.9,1674.3 1044.4,1675.3 1052,1676.3 1059.5,1677.3 1067.1,1678.4 1074.6,1679.5 1082.2,1680.5 1089.8,1681.6 1097.3,1682.8 1104.9,1683.9 1112.4,1685.1 1120,1686.2 1127.5,1687.5 1135.1,1688.7 1142.6,1689.9 1150.2,1691.2 1157.7,1692.5 1165.3,1693.8 1172.8,1695.1 1180.4,1696.3 1188,1697.6 1195.5,1698.8 1203.1,1700 1210.6,1701.2 1218.2,1702.3 1225.7,1703.4 1233.3,1704.5 1240.8,1705.6 1248.4,1706.7 1255.9,1707.8 1263.5,1708.8 1271,1709.9 1278.6,1710.9 1286.2,1711.9 1293.7,1712.8 1301.3,1713.8 1308.8,1714.7 1316.4,1715.5 1323.9,1716.4 1331.5,1717.2 1339,1717.9 1346.6,1718.7 1354.1,1719.4 1361.7,1720.1 1369.2,1720.7 1376.8,1721.3" fill="none" stroke="#2E3192" stroke-width="5.5" stroke-linecap="round" stroke-linejoin="round"/>
<polyline points="704.5,1572 712.1,1572.1 719.6,1572.3 727.2,1572.4 734.7,1572.6 742.3,1572.7 749.8,1572.9 757.4,1573.1 764.9,1573.3 772.5,1573.5 780,1573.8 787.6,1574 795.1,1574.2 802.7,1574.5 810.3,1574.8 817.8,1575 825.4,1575.3 832.9,1575.6 840.5,1575.9 848,1576.2 855.6,1576.6 863.1,1576.9 870.7,1577.3 878.2,1577.7 885.8,1578.1 893.3,1578.5 900.9,1579 908.5,1579.4 916,1580 923.6,1580.5 931.1,1581.1 938.7,1581.8 946.2,1582.6 953.8,1583.4 961.3,1584.3 968.9,1585.2 976.4,1586.2 984,1587.3 991.5,1588.4 999.1,1589.5 1006.7,1590.7 1014.2,1591.9 1021.8,1593.1 1029.3,1594.3 1036.9,1595.6 1044.4,1596.8 1052,1598.1 1059.5,1599.4 1067.1,1600.7 1074.6,1602 1082.2,1603.3 1089.8,1604.6 1097.3,1605.9 1104.9,1607.3 1112.4,1608.6 1120,1610 1127.5,1611.4 1135.1,1612.8 1142.6,1614.1 1150.2,1615.5 1157.7,1616.9 1165.3,1618.3 1172.8,1619.7 1180.4,1621.1 1188,1622.5 1195.5,1623.8 1203.1,1625.1 1210.6,1626.4 1218.2,1627.7 1225.7,1628.9 1233.3,1630.1 1240.8,1631.3 1248.4,1632.5 1255.9,1633.6 1263.5,1634.7 1271,1635.8 1278.6,1636.8 1286.2,1637.8 1293.7,1638.8 1301.3,1639.8 1308.8,1640.8 1316.4,1641.7 1323.9,1642.6 1331.5,1643.5 1339,1644.4 1346.6,1645.2 1354.1,1646 1361.7,1646.9 1369.2,1647.6 1376.8,1648.4" fill="none" stroke="#EC008C" stroke-width="5.5" stroke-linecap="round" stroke-linejoin="round"/>
<polyline points="764,1714.8 770.9,1715.1 777.8,1715.3 784.7,1715.6 791.5,1715.9 798.4,1716.1 805.3,1716.4 812.2,1716.7 819.1,1717 826,1717.3 832.9,1717.6 839.7,1717.9 846.6,1718.3 853.5,1718.6 860.4,1718.9 867.3,1719.2 874.2,1719.6 881.1,1719.9 887.9,1720.3 894.8,1720.7 901.7,1721.1 908.6,1721.5 915.5,1721.9 922.4,1722.4 929.2,1722.9 936.1,1723.4 943,1724 949.9,1724.6 956.8,1725.3 963.7,1726 970.6,1726.7 977.4,1727.4 984.3,1728.2 991.2,1729 998.1,1729.8 1005,1730.6 1011.9,1731.4 1018.8,1732.3 1025.6,1733.1 1032.5,1734 1039.4,1734.8 1046.3,1735.7 1053.2,1736.6 1060.1,1737.5 1067,1738.4 1073.8,1739.3 1080.7,1740.3 1087.6,1741.2 1094.5,1742.2 1101.4,1743.2 1108.3,1744.2 1115.2,1745.2 1122,1746.3 1128.9,1747.3 1135.8,1748.4 1142.7,1749.5 1149.6,1750.6 1156.5,1751.7 1163.4,1752.9 1170.2,1754 1177.1,1755.1 1184,1756.2 1190.9,1757.4 1197.8,1758.5 1204.7,1759.6 1211.6,1760.7 1218.4,1761.8 1225.3,1762.8 1232.2,1763.9 1239.1,1765 1246,1766 1252.9,1767 1259.7,1768 1266.6,1769 1273.5,1769.9 1280.4,1770.8 1287.3,1771.7 1294.2,1772.6 1301.1,1773.5 1307.9,1774.3 1314.8,1775.1 1321.7,1775.8 1328.6,1776.5 1335.5,1777.2 1342.4,1777.9 1349.3,1778.5 1356.1,1779.1 1363,1779.7 1369.9,1780.2 1376.8,1780.7" fill="none" stroke="#006633" stroke-width="5.5" stroke-linecap="round" stroke-linejoin="round"/>
<path d="M335.2 29V50.8M335.2 645.2V688.8M335.2 1283.2V1326.8M335.2 1921.2V1943M948.7 29V50.8M948.7 645.2V688.8M948.7 1283.2V1326.8M948.7 1921.2V1943M199.1 29V43.5M199.1 652.5V681.5M199.1 1290.5V1319.5M199.1 1928.5V1943M240.2 29V43.5M240.2 652.5V681.5M240.2 1290.5V1319.5M240.2 1928.5V1943M275.7 29V43.5M275.7 652.5V681.5M275.7 1290.5V1319.5M275.7 1928.5V1943M307.1 29V43.5M307.1 652.5V681.5M307.1 1290.5V1319.5M307.1 1928.5V1943M519.9 29V43.5M519.9 652.5V681.5M519.9 1290.5V1319.5M519.9 1928.5V1943M627.9 29V43.5M627.9 652.5V681.5M627.9 1290.5V1319.5M627.9 1928.5V1943M704.6 29V43.5M704.6 652.5V681.5M704.6 1290.5V1319.5M704.6 1928.5V1943M764 29V43.5M764 652.5V681.5M764 1290.5V1319.5M764 1928.5V1943M812.6 29V43.5M812.6 652.5V681.5M812.6 1290.5V1319.5M812.6 1928.5V1943M853.7 29V43.5M853.7 652.5V681.5M853.7 1290.5V1319.5M853.7 1928.5V1943M889.2 29V43.5M889.2 652.5V681.5M889.2 1290.5V1319.5M889.2 1928.5V1943M920.6 29V43.5M920.6 652.5V681.5M920.6 1290.5V1319.5M920.6 1928.5V1943M1133.4 29V43.5M1133.4 652.5V681.5M1133.4 1290.5V1319.5M1133.4 1928.5V1943M1241.4 29V43.5M1241.4 652.5V681.5M1241.4 1290.5V1319.5M1241.4 1928.5V1943M1318.1 29V43.5M1318.1 652.5V681.5M1318.1 1290.5V1319.5M1318.1 1928.5V1943M1377.5 29V43.5M1377.5 652.5V681.5M1377.5 1290.5V1319.5M1377.5 1928.5V1943M150 221H172.4M1403.7 221H1426M150 250.2H164.6M1411.5 250.2H1426M150 282.8H164.6M1411.5 282.8H1426M150 319.8H164.6M1411.5 319.8H1426M150 362.5H164.6M1411.5 362.5H1426M150 413.1H164.6M1411.5 413.1H1426M150 474.9H164.6M1411.5 474.9H1426M150 554.6H164.6M1411.5 554.6H1426M150 859H172.4M1403.7 859H1426M150 888.2H164.6M1411.5 888.2H1426M150 920.8H164.6M1411.5 920.8H1426M150 957.8H164.6M1411.5 957.8H1426M150 1000.5H164.6M1411.5 1000.5H1426M150 1051.1H164.6M1411.5 1051.1H1426M150 1112.9H164.6M1411.5 1112.9H1426M150 1192.6H164.6M1411.5 1192.6H1426M150 1497H172.4M1403.7 1497H1426M150 1526.2H164.6M1411.5 1526.2H1426M150 1558.8H164.6M1411.5 1558.8H1426M150 1595.8H164.6M1411.5 1595.8H1426M150 1638.5H164.6M1411.5 1638.5H1426M150 1689.1H164.6M1411.5 1689.1H1426M150 1750.9H164.6M1411.5 1750.9H1426M150 1830.6H164.6M1411.5 1830.6H1426" fill="none" stroke="#231F20" stroke-width="5.9" stroke-linecap="round"/>
<rect x="150" y="29" width="1276" height="1914" fill="none" stroke="#231F20" stroke-width="7.6" stroke-linejoin="round"/>
<line x1="150" y1="667" x2="1426" y2="667" stroke="#231F20" stroke-width="7.6"/>
<line x1="150" y1="1305" x2="1426" y2="1305" stroke="#231F20" stroke-width="7.6"/>
<line x1="151.2" y1="327.3" x2="1426.2" y2="327.3" stroke="#006633" stroke-width="3.2" stroke-linecap="round"/>
<line x1="151.2" y1="374.2" x2="1426.2" y2="374.2" stroke="#EC008C" stroke-width="3.4" stroke-linecap="round"/>
<line x1="151.2" y1="456.6" x2="1426.2" y2="456.6" stroke="#2E3192" stroke-width="3.8" stroke-linecap="round"/>
<line x1="151.2" y1="1094.9" x2="1426.2" y2="1094.9" stroke="#006633" stroke-width="6" stroke-linecap="round"/>
<line x1="151.2" y1="1147.8" x2="1426.2" y2="1147.8" stroke="#EC008C" stroke-width="6" stroke-linecap="round"/>
<line x1="151.2" y1="1212" x2="1426.2" y2="1212" stroke="#2E3192" stroke-width="6" stroke-linecap="round"/>
<line x1="151.2" y1="1675.1" x2="1426.2" y2="1675.1" stroke="#EC008C" stroke-width="5.8" stroke-linecap="round"/>
<line x1="151.2" y1="1744.5" x2="1426.2" y2="1744.5" stroke="#2E3192" stroke-width="5.8" stroke-linecap="round"/>
<line x1="151.2" y1="1803.5" x2="1426.2" y2="1803.5" stroke="#006633" stroke-width="5.9" stroke-linecap="round"/>
<g font-family="'Liberation Sans',sans-serif" fill="#231F20" stroke="#231F20" stroke-width="0.7" stroke-linejoin="round">
<text x="124" y="237.6" font-size="36.3" font-weight="bold" text-anchor="end">1</text>
<text x="124" y="875.6" font-size="36.3" font-weight="bold" text-anchor="end">1</text>
<text x="124" y="1513.6" font-size="36.3" font-weight="bold" text-anchor="end">1</text>
<text x="332.5" y="1999.2" font-size="36.3" font-weight="bold" text-anchor="middle">0.01</text>
<text x="946" y="1999.2" font-size="36.3" font-weight="bold" text-anchor="middle">0.1</text>
<text x="597.7" y="123.3" font-size="50.3" font-weight="bold" letter-spacing="3.05">Monomers</text>
<text x="601.4" y="787" font-size="50.3" font-weight="bold" letter-spacing="2.6">Oligomers</text>
<text x="654.9" y="1423.7" font-size="50.3" font-weight="bold" letter-spacing="1.9">Fibrils</text>
<text transform="translate(75.2 1023) rotate(-90)" font-size="55.5" stroke-width="1.3" x="0.3 17.4 37.4 84.9" y="0">I(Q)</text>
<text y="2025.2" font-size="55.5" stroke-width="1.3"><tspan x="671.2">Q </tspan><tspan x="735.6">(</tspan><tspan x="755.4" textLength="31.4" lengthAdjust="spacingAndGlyphs">Å</tspan><tspan x="787.3" y="1995.6" font-family="'Liberation Mono',monospace" font-weight="bold" font-size="38" stroke-width="1.2">-</tspan><tspan x="810.3" y="1995.6" font-family="'Liberation Mono',monospace" font-weight="bold" font-size="35.2" stroke-width="1.2">1</tspan><tspan x="834.5" y="2025.2">)</tspan></text>
<circle cx="1073.5" cy="74" r="12.2" fill="none" stroke="#231F20" stroke-width="5"/>
<text x="1138.8" y="83.5" font-size="36" font-weight="bold">A<tspan font-family="'Liberation Serif',serif" font-weight="normal" font-size="36" dx="1.5" stroke-width="1.1">β</tspan><tspan font-size="23.6" dy="12.3" dx="4.5" textLength="49.6" lengthAdjust="spacing">1-40</tspan></text>
<rect x="1062.8" y="128" width="21.4" height="21.4" fill="none" stroke="#231F20" stroke-width="5"/>
<text x="1138.8" y="148.8" font-size="36" font-weight="bold">A<tspan font-family="'Liberation Serif',serif" font-weight="normal" font-size="36" dx="1.5" stroke-width="1.1">β</tspan><tspan font-size="23.6" dy="12.3" dx="4.5" textLength="49.6" lengthAdjust="spacing">1-42</tspan></text>
<path d="M1071.5 187.8h4l12.2 25.5h-28.4zM1073.5 194.8l6.7 13.9h-13.4z" fill="#231F20" fill-rule="evenodd"/>
<text x="1138.8" y="212.8" font-size="36" font-weight="bold">A<tspan font-family="'Liberation Serif',serif" font-weight="normal" font-size="36" dx="1.5" stroke-width="1.1">β</tspan><tspan dx="5.5">p</tspan><tspan font-size="23.6" dy="12.3" dx="3" textLength="50" lengthAdjust="spacing">3-42</tspan><tspan x="1266.3" y="212.8" font-size="36" textLength="80.8" lengthAdjust="spacing"> *1.2</tspan></text>
<circle cx="1058" cy="774.4" r="12.2" fill="none" stroke="#231F20" stroke-width="5"/>
<text x="1102" y="784.7" font-size="36" font-weight="bold">A<tspan font-family="'Liberation Serif',serif" font-weight="normal" font-size="36" dx="1.5" stroke-width="1.1">β</tspan><tspan font-size="23.6" dy="12.3" dx="4.5" textLength="49.6" lengthAdjust="spacing">1-40</tspan></text>
<rect x="1047.3" y="830.3" width="21.4" height="21.4" fill="none" stroke="#231F20" stroke-width="5"/>
<text x="1102" y="851.3" font-size="36" font-weight="bold">A<tspan font-family="'Liberation Serif',serif" font-weight="normal" font-size="36" dx="1.5" stroke-width="1.1">β</tspan><tspan font-size="23.6" dy="12.3" dx="4.5" textLength="49.6" lengthAdjust="spacing">1-42</tspan><tspan x="1205" y="851.3" font-size="36" textLength="88.3" lengthAdjust="spacing"> *1.2</tspan></text>
<path d="M1056 892.5h4l12.2 25.5h-28.4zM1058 899.5l6.7 13.9h-13.4z" fill="#231F20" fill-rule="evenodd"/>
<text x="1102" y="920" font-size="36" font-weight="bold">A<tspan font-family="'Liberation Serif',serif" font-weight="normal" font-size="36" dx="1.5" stroke-width="1.1">β</tspan><tspan dx="5.5">p</tspan><tspan font-size="23.6" dy="12.3" dx="3" textLength="50" lengthAdjust="spacing">3-42</tspan><tspan x="1229.5" y="920" font-size="36" textLength="88.4" lengthAdjust="spacing"> *1.5</tspan></text>
<circle cx="1058" cy="1377.6" r="12.2" fill="none" stroke="#231F20" stroke-width="5"/>
<text x="1102" y="1387" font-size="36" font-weight="bold">A<tspan font-family="'Liberation Serif',serif" font-weight="normal" font-size="36" dx="1.5" stroke-width="1.1">β</tspan><tspan font-size="23.6" dy="12.3" dx="4.5" textLength="49.6" lengthAdjust="spacing">1-40</tspan></text>
<rect x="1047.3" y="1431.6" width="21.4" height="21.4" fill="none" stroke="#231F20" stroke-width="5"/>
<text x="1102" y="1451.5" font-size="36" font-weight="bold">A<tspan font-family="'Liberation Serif',serif" font-weight="normal" font-size="36" dx="1.5" stroke-width="1.1">β</tspan><tspan font-size="23.6" dy="12.3" dx="4.5" textLength="49.6" lengthAdjust="spacing">1-42</tspan></text>
<path d="M1056 1492.4h4l12.2 25.5h-28.4zM1058 1499.4l6.7 13.9h-13.4z" fill="#231F20" fill-rule="evenodd"/>
<text x="1102" y="1519.3" font-size="36" font-weight="bold">A<tspan font-family="'Liberation Serif',serif" font-weight="normal" font-size="36" dx="1.5" stroke-width="1.1">β</tspan><tspan dx="5.5">p</tspan><tspan font-size="23.6" dy="12.3" dx="3" textLength="50" lengthAdjust="spacing">3-42</tspan><tspan x="1223.5" y="1519.3" font-size="36" textLength="84.1" lengthAdjust="spacing"> /1.2</tspan></text>
</g>
</svg>
</body></html>
